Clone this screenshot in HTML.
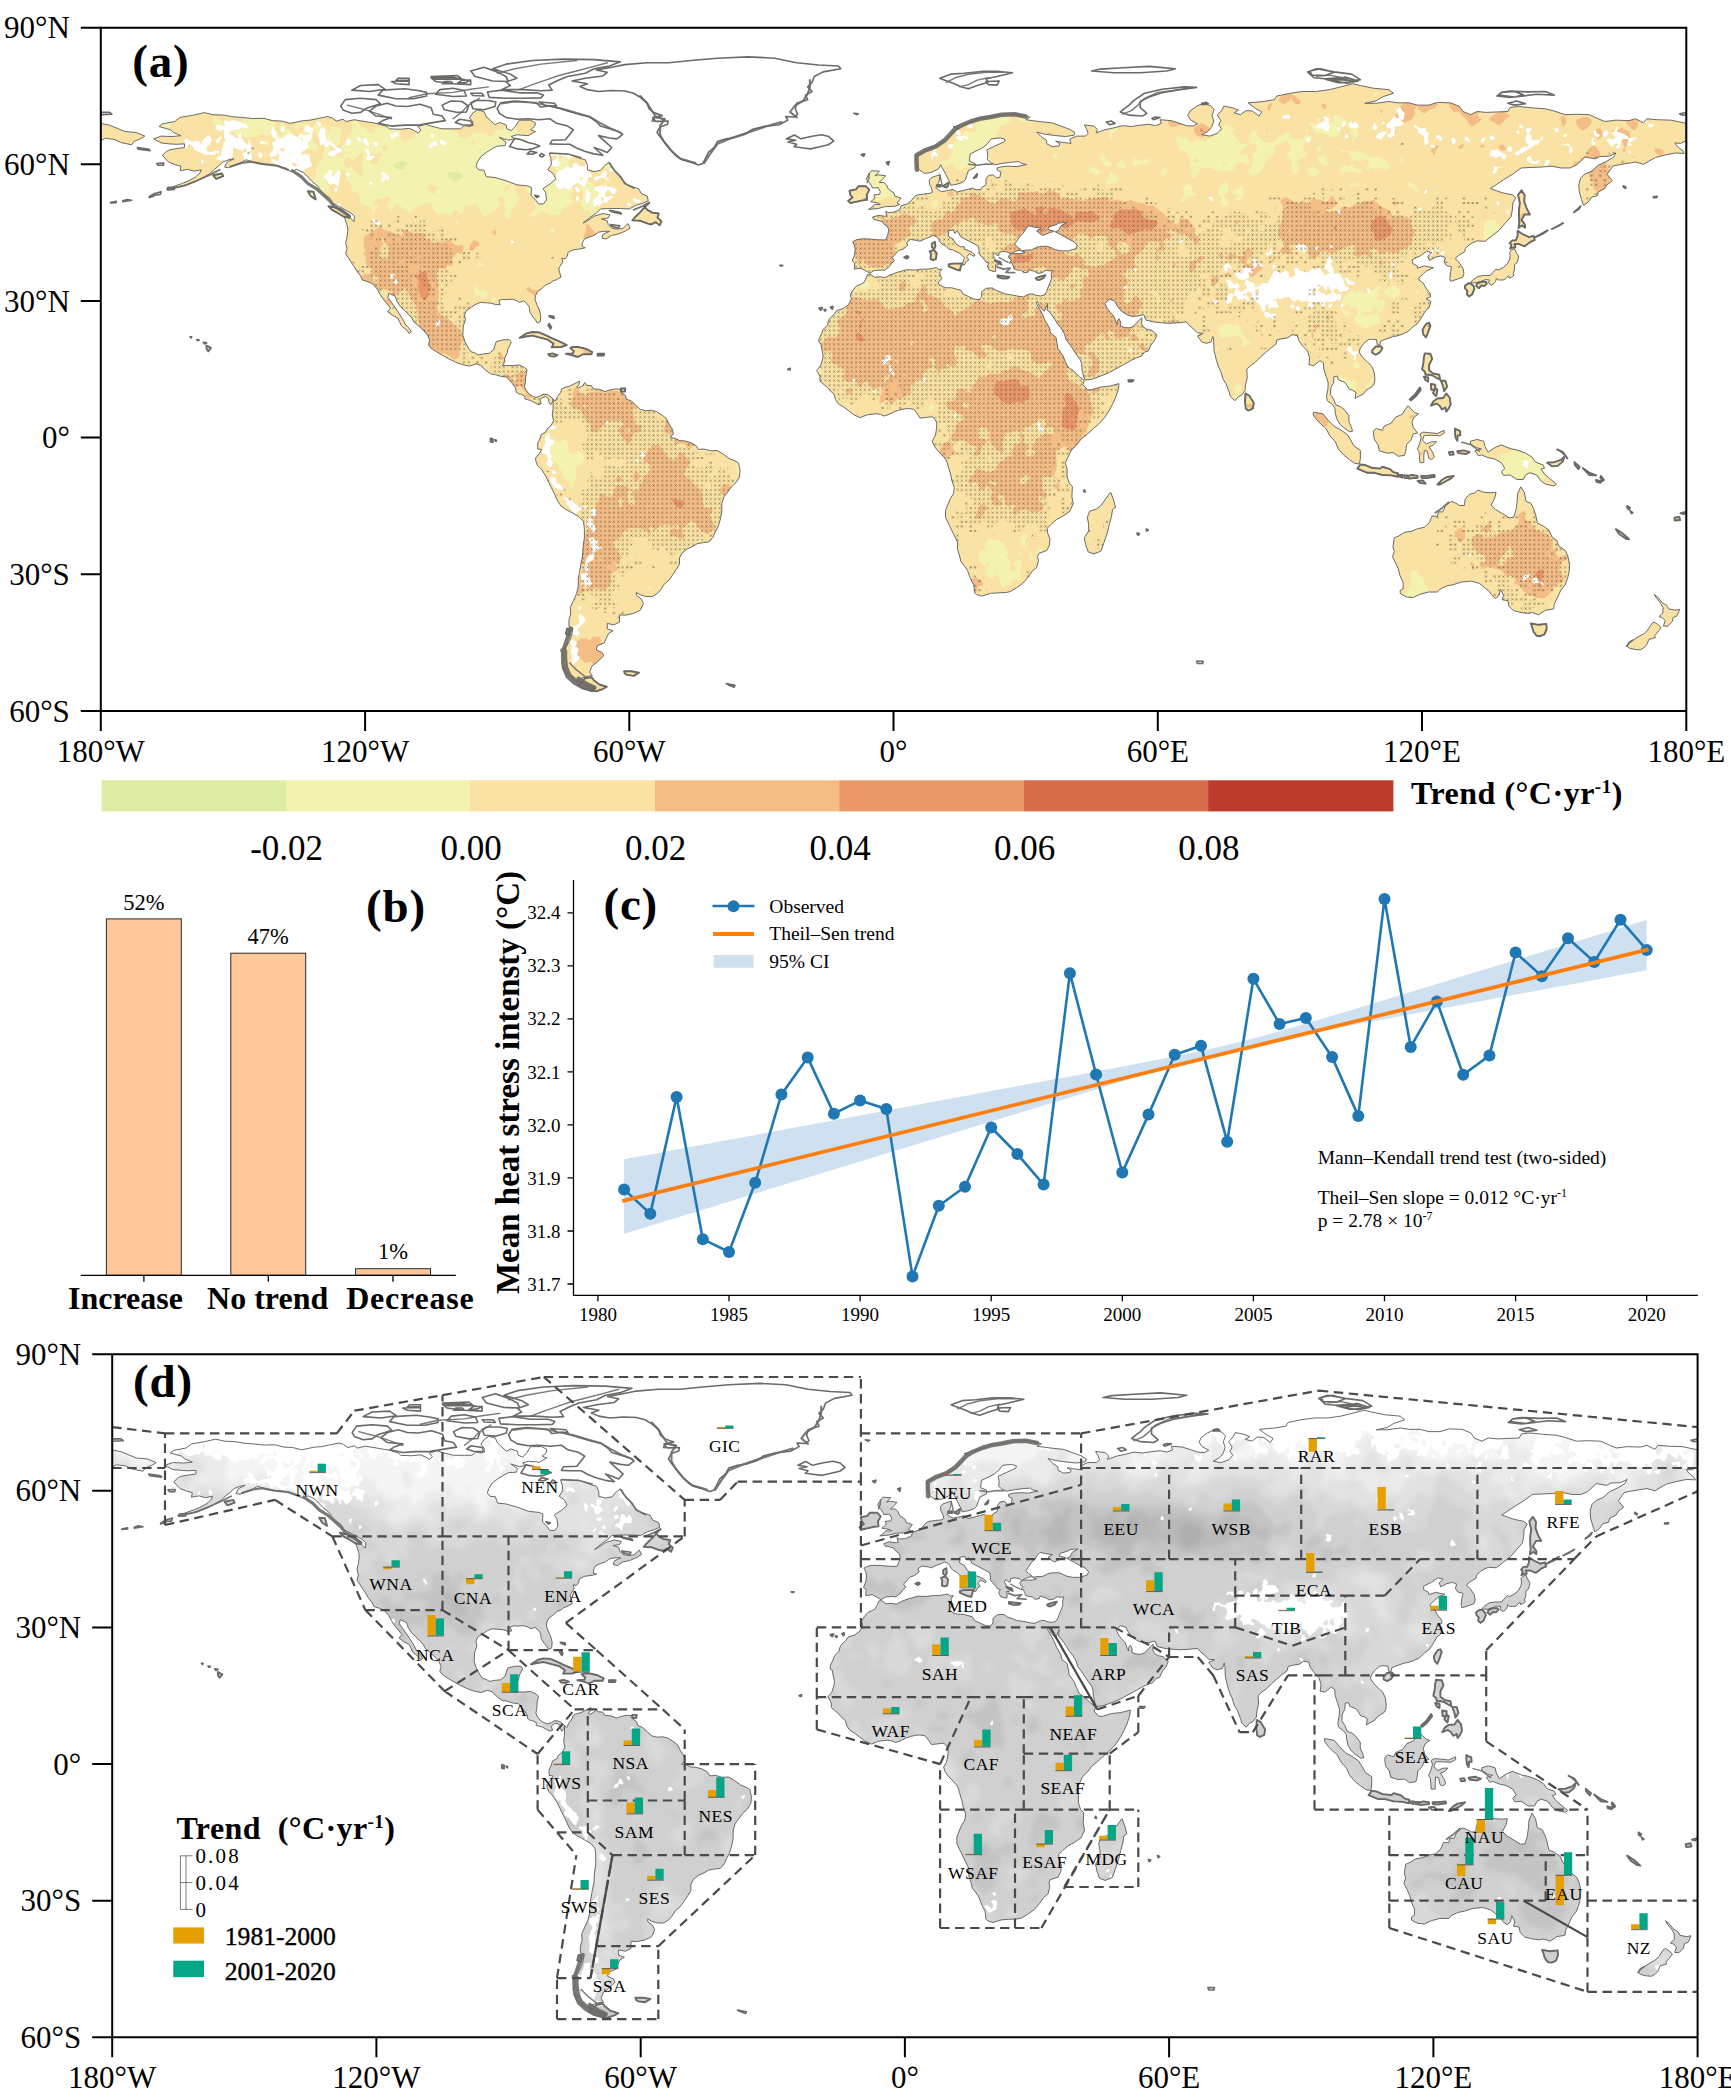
<!DOCTYPE html>
<html><head><meta charset="utf-8"><title>Heat stress trend</title>
<style>
html,body{margin:0;padding:0;background:#fff}
svg{display:block}
text{font-family:"Liberation Serif","Times New Roman",serif;fill:#000}
.tk{font-size:31px}
.pl{font-size:47px;font-weight:bold;letter-spacing:.8px}
.cbl{font-size:35px}
.cbt{font-size:32px;font-weight:bold}
.bv{font-size:22.5px}
.bc{font-size:32px;font-weight:bold}
.ct{font-size:19px}
.an{font-size:19.5px}
.yl{font-size:33px;font-weight:bold}
.rl{font-size:17.5px;letter-spacing:.5px}
.lt{font-size:32px;font-weight:bold;letter-spacing:.4px}
.ls{font-size:21px;letter-spacing:2.2px}
.ll{font-size:25.6px;stroke:#000;stroke-width:.4px}
</style></head><body>
<svg width="1731" height="2100" viewBox="0 0 1731 2100">
<rect width="1731" height="2100" fill="#fff"/>
<defs>
<path id="land" vector-effect="non-scaling-stroke" d="M12 24.4 13.7 23.8 16.2 23.9 18.2 23.7 16.5 23 15.8 22.4 13.2 21.7 14 21.1 16.8 20.6 18 19.7 21 19.2 23.5 18.65 25.5 19.1 28 19.2 30 19.55 32 19.7 34.5 19.95 37 19.9 39 20.4 41 20.5 43 21 44.5 20.7 46 20.4 47.5 20.3 49.5 19.9 51.5 19.5 52.5 19.8 53.5 20.5 55 20.1 55.7 20.6 57.5 20.2 60 20.6 63 21.1 65 21.7 65.5 22.2 68 22.3 70 22.1 71.2 22.6 72 23.1 72.7 22.5 72 21.7 73.8 21.2 75 21.6 77.5 22.2 80 22.2 81.7 22.2 82.5 21.5 84 21.7 84.5 20.7 83.7 19.8 84.5 18.7 85.5 18.05 87 18.4 87.5 19.5 88.5 20.4 89.5 21.3 90.5 20.8 92 21.3 92.2 22.2 93.2 22.6 94.2 21.6 95 20.3 97.5 20.3 98.7 20.9 98.5 21.7 97.6 22.4 98.7 22.8 97 23.7 94.5 23.5 93.2 23.9 94 24.4 92.5 24.7 90.5 24.1 92 25.1 91.8 25.9 90 26 89 26.5 87.5 27.4 86.3 28.3 85.5 29.5 85.2 30.5 85.8 31.2 87 31.3 87.5 32.7 89.5 32.9 92 33.6 94.5 34.5 97 34.75 97.8 35.1 97.7 36.8 98.7 37.8 99.4 38.7 100.5 38.7 101.2 37.8 101 36.2 100.4 35.3 102 34.3 103.3 33.2 102.7 32 101.5 31.2 102.3 30 102.2 28.7 101.8 27.6 104 27.7 106.3 27.8 108.5 28.6 110 29 110.5 30.2 110.5 31.2 112 31.6 113.5 31.3 114.5 30.2 115.4 29.6 116 30.7 117.2 32 118.3 33.3 119.5 34.5 121 35 122.2 35.4 122.7 36.4 124.1 37 124.3 38 123.2 38.5 121.5 39 120 39.8 118 39.7 115.5 39.7 113.5 39.8 112.5 40.7 111 41.7 109.5 42.9 110.5 42.4 112 41.4 114 40.8 115.6 41.1 115.2 41.8 113.7 42 115 42.4 115.2 43.2 116 44 117 44.2 118.5 44.1 119.7 43 120.2 44 119 44.7 117.5 45.3 116 45.6 114.7 46.4 113.8 46.2 114 45.4 115.5 44.7 114.2 44.7 113 44.9 112 45.6 110.8 46 109.8 46.4 109.3 47.3 109.3 48.1 110 48.3 109.3 48.5 108.5 48.6 107.2 48.8 106.1 49.3 105.9 50.2 105.4 50.8 104.7 50.6 104.9 51.5 104.2 52.5 104 53 104.2 53.8 104.5 54.75 103.5 55.3 102.5 55.7 102 56.1 101 56.5 100.2 57.2 99.2 57.9 98.7 58.8 98.6 59.7 99.1 61 99.5 61.8 99.9 63.2 99.8 64.5 99.1 64.85 98.7 64.2 98.1 63.5 97.4 62.4 97.3 61.4 96.8 60.6 96 59.95 95.1 60.3 94.4 59.9 93.4 59.6 92.2 59.7 91.2 59.65 90.4 59.9 90.7 60.8 89.7 60.8 88.7 60.5 87.5 60.4 86.2 60.3 85.2 60.7 84.1 61.4 83 62.1 82.6 63 82.8 64.1 82.3 65.5 82.2 67.5 82.7 69 83.5 70.4 84 71.1 85 71.45 85.7 71.85 87 71.6 88.2 71.5 89.2 70.7 89.6 69.5 89.8 68.9 91.5 68.5 92.8 68.5 93.2 69.1 92.5 70.4 92.2 71.6 91.7 72.5 91.7 73.5 91.2 74.15 92.2 74.15 93.5 74.2 95 74.05 96.2 74.6 96.8 75.1 96.5 76.5 96.4 77.8 96.2 78.8 96.5 79.5 97.2 80.4 98 80.9 98.8 81.2 99.7 80.9 100.5 80.45 101.5 80.6 102.2 81.1 102.7 81.5 102.6 82.2 102.1 82.8 101.7 82.1 101.7 81.5 101 81 100.3 81.2 99.7 81.7 100 82.6 99.2 82.75 98.5 82.3 97.5 81.8 97 81.7 96.3 81.5 96.3 80.9 95.3 80.4 94.9 80.4 94.3 80 94.2 79.1 93.5 78.2 92.7 77.3 92.2 76.7 91 76.6 89.7 76.2 88.5 76 87.5 75.3 86.2 74.1 85.2 73.8 83.8 74.3 82.2 74 80.5 73.4 79 72.7 77.7 72 76.3 71.2 75 70.4 74.4 69.6 74.7 68.6 74.2 67.5 73.4 66.6 72.2 65.5 71.1 64.6 70.6 63.7 69.7 62.8 69 62.1 68 61.2 67.2 60 66.8 58.9 65.4 58.3 65.2 59.2 66 60.3 66.9 61.5 67.7 62.7 68.5 63.9 69.2 65.2 70 66 70.5 66.8 70 67.1 69.5 66.4 68.3 65.5 67.8 64.5 67.4 63.7 66.3 63.2 65.1 62.3 65.8 61.6 65 60.6 64.2 59.7 63.4 58.5 62.8 57.4 61.7 56.2 60.7 55.8 59.4 55.4 59 54.5 58.1 53.4 57.5 52.4 57 51.7 56.2 50.5 55.6 49.6 55.9 48.5 55.6 47.2 55.9 46 56.1 44.5 56 43.6 55.3 41.6 56.7 41.8 57.5 42.6 57.6 41.4 56.8 40.7 55.5 40 54 39.2 52.5 38.5 52.1 37.5 51 36.7 49.8 35.6 49.2 34.7 48 33.8 47 32.8 46 31.8 44.5 31.1 43.2 31.6 41.7 30.8 40.2 30.3 38.5 30 36.2 29.9 34.5 29.5 33 29 31.7 29.7 30.3 30.2 29 30.75 28.1 30.6 28.7 29.5 30.2 28.8 29 29 27.7 29.5 26.7 30.4 25.8 31.1 24.7 32.1 23.4 32.8 21.7 33.7 19.8 34.4 18 34.9 16.5 35.2 15.2 35.5 16.7 34.8 18.5 34.2 20 33.6 21.5 32.8 22.5 31.9 22.8 31.2 21.2 31.5 19.7 31.1 18 31.4 18.2 30.4 17 30.1 15.4 29.5 14.6 28.7 14 28 15 27.1 15.7 26.8 17.5 26.5 19 26.3 19 25.5 17.2 25.6 15.5 25.5 13.7 25.3 12.5 24.7ZM124.5 38.4 123.5 39.4 122.5 40.5 121.4 41.5 120.7 42.3 122.5 42.4 124.2 43 125 43.2 126 42.7 126.9 43.4 127.3 42.5 126.4 41.7 126.7 40.8 125.2 40.6 124.1 40 123.3 39.1ZM51.7 39.2 53.5 39.5 54.8 40 56.4 41.3 56.5 41.7 55.2 41.5 54 40.8 52.5 40ZM47 35.9 48.3 36 48.8 37.7 47.7 37ZM25.5 32.4 27.5 32 27.8 32.6 26.2 33.2ZM95.1 68.1 96.7 67.1 98 66.8 99.5 66.9 101 67.5 102.5 68.2 104 68.8 105.8 69.7 104.5 70.1 102.4 70.15 102.8 69.4 101.5 68.5 99.5 68 98 67.6 96.5 67.8ZM105.6 71.6 106.7 71.8 108.3 72.3 109.5 71.7 111.4 71.7 111.6 71.2 110.2 70.5 108.4 70.1 107.2 70.1 106.6 70.3 107.4 71 107.2 71.5ZM101.6 71.7 102.5 71.5 103.7 71.9 103 72.2 102 72.1ZM112.8 71.6 114.3 71.6 114.2 72 112.8 72ZM101.8 63.3 102.8 63.4 102.9 63.8 102 63.5ZM101.8 65 102.3 65.7 102.1 66.1 101.6 65.4ZM102.7 81.5 103.2 82 103.7 81 104.4 80.1 104.7 79.3 105.4 78.95 106.5 78.7 107.7 78.1 108.7 77.6 108.6 78.3 108.1 78.9 108.5 79.1 109.4 78.6 109.9 77.9 110.3 78.5 111.4 78.6 111.8 79.3 113.2 79.4 114.5 79.9 115.7 79.5 117 79.3 118 79.4 118.2 80.1 119.1 80.7 119.3 81.5 120.5 82 121.5 82.9 122.5 83.8 123.7 84.1 125 84 126.2 84.3 127.5 85.1 128.4 85.8 129 87 129.8 88.2 130 89.2 129.3 90 130.5 90.2 131.5 90.7 132.5 90.7 134 91.1 135.2 91.8 135.7 92.6 137 92.5 138.5 92.9 140 92.85 141.3 93.6 142.7 94.6 144 95.1 144.8 95.6 145.15 97.2 145 98.7 144.2 99.9 143.2 100.8 142.3 102 141.5 103 141 104.5 141 106.3 140.7 107.8 140.2 109.5 139.5 110.7 139 111.9 138.1 112.9 136.8 113.05 135.4 113.3 134.4 113.9 133.2 114.4 132 115.3 131.4 116.4 131.4 117.8 130.7 118.9 129.8 120.2 129 121.3 127.9 122.2 127.2 123.3 126.4 124.2 125.2 124.9 123.8 124.9 122.5 124.5 121.6 124 121.6 124.6 122.7 125.4 123.2 126.4 122.5 127.9 121 128.6 119 129 117.8 128.9 117.8 130.5 116.5 131.1 115 130.8 115 132 116.3 132.4 115.3 133 114.7 134.2 114.3 135.1 112.7 135.7 112.5 136.6 113.8 137.2 114.2 137.9 112.8 139.2 111.5 140.2 111 141.5 111.6 142.3 110.5 142.4 109.2 142.8 108.5 143.6 107.5 143.3 106.5 142.5 105.5 142 105 140.7 104.6 139.3 105.3 138.2 104.5 137 104.4 136.5 105.8 135.7 106.5 134.5 107 133 107.2 131.7 106.3 131.5 106.3 130 106.7 128.7 106.6 127.3 107.3 125.8 108 124.3 108.4 122.8 108.4 121 108.7 119.6 109 117.8 109.4 116 109.5 114 109.8 112 109.8 110 109.6 108.4 108.6 107.4 107.2 106.6 105.5 105.7 104.5 105 103.7 103.9 103 102.3 102.3 101 101.7 99.8 101 98.4 100.1 97 99.1 96 98.8 95.2 98.7 94.5 99.6 93.5 100.1 92.6 99.2 92.5 99.2 91.2 99.7 90.3 100 89.3 101 88.8 101.3 88.1 102.2 87.4 102.8 86.3 102.5 85 102.7 83.7ZM111.4 142.6 110 142.8 109.2 143.7 108.2 144.3 109.5 145 111 145.4 112.5 145.7 114 145.2 114.9 144.7 113.2 144.2 112 143.3ZM118.8 141.3 120.5 141.3 122.2 141.6 121 142.3 119.5 142.1 119 141.8ZM105.9 131.9 106.5 132 106.4 133.4 105.6 133.1ZM118.1 79.2 119.1 79.2 119 79.9 118.1 79.9ZM174.6 53.9 173.7 53.4 172.6 52.8 171.1 53 171.2 51.7 170.6 51.2 171.1 50 171.3 48.7 171.1 47.7 170.7 47 171.7 46.5 173 46.35 174.5 46.4 176.2 46.55 178.2 46.6 178.7 45.5 178.9 44.4 178.7 43.8 177.8 43.1 177.5 42.6 176.5 42.3 175.5 42.1 175.2 41.6 176.5 41.2 178 41.4 178.5 41.3 178.2 40.3 178.8 40.6 180.1 40.5 181.5 39.9 181.7 39.1 183.2 38.65 184 38 184.8 37 185.5 36.7 187 36.5 188.2 36.4 188.8 36.1 188.6 35.1 188.2 34.5 188.1 33.5 188.6 32.9 189.8 32.5 190.6 32.25 190.4 33.4 190.3 33.9 189.8 34.6 189.6 35.15 190.2 35.6 190.9 36 192 35.8 193.5 35.5 194.3 36.1 196 35.7 198 35.2 198.7 35.6 199.8 35.55 200 35.1 201 34.5 201 33.2 201.6 32.45 202.6 32.3 203.3 32.95 204.1 32.9 204.4 31.7 203.6 31.3 203.5 30.8 204.7 30.5 206 30.4 208 30.5 210.2 30.05 209 29.8 208.5 29.4 207 29.5 205 29.75 203 30.1 202 29.6 201.3 29 201.4 28 201.2 26.8 203 26 205.2 25 205.3 24.5 204.2 24.2 202.2 24.4 201.3 25.5 200.3 26.3 198.5 27.2 197.4 27.7 197.2 29.3 198.6 29.9 198.5 30.7 197 31.4 196.6 32.5 196.3 33.4 195.8 33.9 194.3 34.4 193 34.6 192.7 33.8 191.9 32.3 191.2 31 190.7 30.1 190.2 31 188.5 31.8 187 32 185.6 31 185.1 29.6 185 28.5 185.2 27.8 186.5 27.3 188.5 26.5 190 25.8 191.5 25 192.5 24 193.5 23 194.8 22.2 193.5 21.8 195.5 21.3 197.5 20.7 199 20.1 201 19.8 203.5 19.3 205.8 18.9 208 19 209.5 19.3 211 19.65 210 20.2 211.5 20.4 213.5 20.65 216 20.9 218 21.6 220 22.3 221.2 23 221 23.6 219 23.9 216 23.6 214 23.3 212.5 22.9 213.5 23.9 214.7 24.7 214.8 25.5 216 26.1 217.5 26 217.8 25.5 216.8 24.9 218.5 25.2 220.3 25.4 220 24.5 221.5 23.8 223.5 23.8 224.2 23.2 223.8 22.2 223.3 21.35 225.5 21.6 226.3 22.4 226 23.1 228 22.4 230 22 232 21.5 234 21.7 236 21.4 238 21.2 239.5 21.5 240.8 21 240.5 20.2 243 20.4 245 21 246.5 21.5 248 21.6 249 21.1 247.5 20.3 246.8 19.3 247.3 18.3 248.7 17.3 250 16.7 252 17.1 252.8 18 252.3 19.2 252.7 20.5 252.3 21.7 251.5 22.7 250 23.5 251.8 23.8 253.5 23.2 254.5 22.2 253.8 21.4 254.3 20.4 253.5 19.2 254.5 18.2 255 17.2 257 17.6 258.3 18.1 257.3 18.7 258.8 19.1 260 18.2 261.5 18.3 263 19.4 263.6 18.5 262 17.6 260.5 16.5 264 16.2 266.5 15.8 267 15 270 14.4 273 14 276 14 279 13.6 281.5 13 284.3 12.3 286 12.7 289 13.3 292.5 13.6 293.5 14.4 291 15.2 289.5 16.1 287 16.6 289.5 16.6 292.5 16.2 294.5 16.5 297 16.5 299 17 301.5 17 303.5 16.4 306.5 16.5 308.5 17.3 309.3 18.4 311 19.1 312.5 18.4 314.5 18.6 317 18.5 319.5 18.4 320 17.5 322 17.3 325 17.6 328 17.8 330 18.3 332.5 19.1 335 19 338 19.1 340 20 341.5 20.6 344 20.3 347 20.4 348.5 20 350.3 20.9 351 20 353.5 20.2 356.5 20.3 358.5 20.7 360 21 360 24.8 358.7 25.4 357.4 25.3 358 26.1 359.2 27 359.5 27.6 357.5 27.5 355 28 353 28.5 351.5 29.3 350.3 30 348.5 29.5 346.5 29.8 344.7 30.1 343.3 30.4 342.5 31.5 342 32.2 343.2 33.6 342 34.5 341.5 35.3 340 36.1 339.8 36.9 338.5 37.2 337.7 38.3 336.7 39.05 336.2 37.7 335.7 36 335.6 34.5 336 33 337 32.1 338.5 31.5 340 30.2 342 29.3 343.5 28.4 344 27.5 342.5 28.2 340.3 28.3 339.3 28.8 337 28.4 335 30.2 333.5 30.8 331.5 30.8 329.5 30.4 327 30.6 324.5 30.7 322.5 30.8 320.5 32.2 318.5 33.4 316.5 34.7 315.5 35.3 317.5 36 318.5 36.3 320.5 36.7 321.3 37.3 320.6 38.5 320.5 40 320.2 41.5 318.8 43 317.5 44.5 316 45.6 314.3 46.9 312.5 46.8 311.5 47.2 310.7 47.7 309.8 48.5 309.7 49.2 308.3 50 307.5 50.7 308.3 51.4 309.3 52.8 309.5 54 309.2 54.8 308 55.2 306.5 55.7 306.3 55 306.5 53.5 306.7 52.5 305.5 52.2 305 51.4 305.3 50.5 304.3 50.1 303 50.4 301.7 51.1 301.3 50.2 302.2 49.4 301 49.1 299.6 50.1 297.8 50.9 297.8 51.7 298.9 52.3 299 52.8 300.5 52.3 301.5 52.5 302.6 52.7 301 53.4 300.3 54 299.3 54.9 299.3 55.4 300.3 56.1 300.9 57.2 301.9 58.4 301.9 59.1 300.9 59.5 302 60.1 301.6 61.5 300.8 62.1 299.8 63.8 298.9 65 298 65.6 296.8 66.7 295.5 67.3 294.2 67.7 293.5 67.8 292 68.3 290.6 68.8 290.4 69.7 289.8 69.6 289.7 68.5 288.5 68.4 287.8 68.5 286.8 69.3 286 70.3 285.7 71.2 286.5 72.4 287.7 73.5 288.5 74.2 289.1 75.5 289.3 77 289.2 78 288.8 78.7 287.3 79.6 286.7 80.4 285.5 81 284.8 81.4 285 80.1 284.3 79.6 283.5 79.4 283 78.6 282.5 77.9 281 77.3 280.7 76.5 280 76.6 279.9 78 279.3 79 279.2 80.5 279.9 81.5 280.4 82.8 281.5 83.2 282.3 83.8 283.4 85.2 283.4 86.5 284 87.8 284.2 88.6 283.5 88.7 282.2 87.8 281.3 87 280.6 85.8 280.3 84.5 280.2 83.5 279.6 82.7 278.5 81.9 278.3 81 278.6 79.5 278.7 78 278.2 76.5 277.7 75 277.6 73.6 276.8 73.1 275.4 74.2 274.3 74 274.5 72.5 274 71 273 70 272 68.7 271.7 67.6 270.5 67.4 269.5 68.1 268 68.3 267 68.6 266.8 69.5 265.8 70.2 264.5 71.3 263.3 72.3 262.2 73.4 261 74.2 260.2 75 260.3 76.8 259.9 78.5 259.8 79.7 259 80.7 258.2 81.1 257.5 81.9 256.5 81 256.2 80 255.5 78.2 254.8 77.1 254.3 75.5 253.8 74.5 253.3 73 252.8 71 252.7 69.5 252.7 68.6 252.5 67.8 252.1 69 251 69.3 250 69 249 67.7 250.3 67.1 249 67 248.3 66.3 247 65.2 246.5 64.6 244.5 64.8 242.3 64.9 241 64.8 239 64.6 237.3 64.2 236.8 63 235.5 63.3 234.2 63.4 233 63 231.7 62.2 230.8 61.1 230.2 60 229 59.6 228.5 60 228 60.6 228.5 61.6 229.2 62.5 230 63.3 230.2 63.8 230.5 64.6 230.8 65.2 230.8 64.4 231.2 63.9 231.6 64.7 231.5 65.5 232.5 65.85 233.5 65.9 234.4 65.6 235.3 64.7 236 64 236.4 63.7 236.3 65 236.7 65.7 237.5 66.2 238.6 66.4 239.8 67.5 239.3 68.6 238.5 69.6 237.8 71 237 71.2 236.3 72.1 235.2 72.5 234 73 232.2 74 230.3 75 229 75.7 227.5 76.3 225 77.2 223.5 77.35 223.2 76.7 222.8 75.2 222.7 73.7 222.4 72.9 221.2 71.3 220.2 69.8 219.2 68.5 218.8 67.2 218 65.9 217.2 65 216.6 64 215.5 62.5 214.9 62 215 60.5 214.4 61.9 214.2 62.25 213.3 61.4 212.6 60.05 212.4 60.5 213.3 62 213.8 62.9 214.4 64.3 215.4 65.9 215.6 67 216.9 68 217.1 69.2 217.3 70.4 218.4 71.9 219 73.3 219.6 74.5 220.9 75.4 222.2 76.6 223.3 77.5 223 78.4 224 79.5 225 79.5 227 78.9 229 78.7 231.2 78.15 231 79.5 230.5 81 229.8 82.5 229 84 228 85.5 226.5 87.1 225.4 88 223.8 89.4 222.5 90.4 221.5 91.7 220.4 92.7 219.7 94.1 219 95.5 219.4 96.9 219.4 98.5 219.9 100 220.6 100.7 220.5 103 220.8 104.5 220 106.2 218.5 107.2 217 108 215.8 109 214.9 109.9 215 111 215.5 112.2 215.4 113.6 214.8 114.8 213 115.4 212.7 116.1 212.9 117 212.5 118.5 211.5 119.3 210.6 120.6 209.3 122 207.9 123 206.5 123.8 205.6 124 203.5 124.1 202 124.2 200 124.8 198.8 124.4 198.4 124.1 198.3 123 198.2 122.3 197.5 121 196.8 119.2 196.4 118.6 195.3 117.2 195 116 194.5 114.5 194.5 112.9 193.7 111.3 192.7 109.3 191.8 107.5 191.8 106 192.2 105 192.9 103.4 193.6 102.3 193.8 101 193.2 99.3 193 98.2 192.4 96.3 192.2 95.5 191.8 94.7 191 93.8 189.8 92.6 189.1 91.6 188.8 90.7 189.4 89.7 189.6 89 189.8 87.7 189.8 86.8 189.5 86.1 188.9 85.45 188.3 85.45 187.2 85.6 186 85.7 185.4 84.8 184.6 83.8 183.4 83.6 182.4 83.7 181.2 83.95 180 84.4 178.7 85 177.9 85.25 177 84.9 176 84.75 174 85 172.4 85.6 171 85 169.8 84.1 168.7 83.3 167.5 82.6 166.8 81.6 166.5 80.5 165.5 79.6 165 79 164 78.2 163.3 77.6 163.3 76.6 162.7 75.5 162.5 75.25 163.2 74.5 163.5 74 163.9 72.7 164 71.9 163.7 70.5 163.5 69.4 163 69.05 163.1 68.3 163.7 67.1 164 66.3 165 65.3 165.2 64.5 165.5 63.9 166.6 62.8 167.1 62.1 168.5 61.7 169.8 60.8 170.4 59.6 170.2 58.6 170.8 57.6 171.6 56.7 172.6 56.3 173.3 55.9 173.8 54.9 174.1 54.2 174.7 54.1 175.7 54.8 177 54.7 178 54.9 179.2 54.3 180.5 53.8 182 53.4 183 53.15 185 53.2 186.5 53 187.8 53 189 52.8 189.8 52.7 190.3 53.1 191 53 190.5 53.6 190.6 54.4 191 55.1 190.2 55.8 190.1 56.2 191 56.8 192 57.1 193.2 57.1 194.3 57.4 195.3 57.65 195.8 58.5 197 59 198.3 59.6 199.5 59.7 200 59 200 58 201 57.2 202.5 57.15 203.3 57.7 204.5 58.1 205.3 58.45 207 58.7 208.5 59 209.5 59.1 210.3 58.7 211 58.45 211.8 58.5 212.3 58.75 213.3 58.9 214.2 58.7 214.8 57.9 215 57.2 215.5 56.1 215.9 55 215.8 54.2 216.1 53.3 215.5 53.4 214.6 53.25 213.7 53.8 212.8 53.95 212 53.5 210.7 53.1 210.5 53.7 209.5 53.8 209 53.3 208.2 53.2 207.4 53 207.2 52.3 206.8 51.6 206.3 51.7 206.8 51 206.1 50.5 206.2 50 207 49.6 208 49.6 209 49.6 209.9 49.3 209 49 210 48.85 211.3 48.8 212.5 48.2 213.5 48 215 48 216 48.4 216.6 48.7 218 49 219.7 49 221.4 48.5 221.7 47.8 221 47 219.7 46.4 218.5 45.7 217.5 45.2 216.7 44.8 217.5 44.5 218 43.5 219.3 42.8 218.5 42.8 217.5 42.9 216.8 43.3 215.3 43.7 215 44.3 216.5 44.7 215.4 45 214 45.6 213.5 45.4 212.5 44.6 213.5 44 212 43.8 210.7 43.5 210 44.2 209.7 44.8 208.7 45.8 208 46.8 207.5 47.5 208 48.1 209 48.8 208 49 207.3 49.3 206.5 49.7 206 49.3 205 49.1 204 49.3 203.9 50 203.5 50 202.9 49.4 202.6 50 203 50.7 203.3 51.3 204 51.8 203.7 52.1 203.1 52.1 203.2 52.7 203.2 53.5 202.6 53.5 201.7 53.2 201.3 52.3 201.7 51.7 201 51.5 200.7 51 200.2 50.5 199.4 49.6 199.4 48.7 199.3 48 198 47.3 196.4 46.5 195.2 45.9 194.8 45 194.3 44.7 193.9 45.2 193.6 44.4 192.4 44.6 192.5 45.1 192.4 45.8 193.5 46.4 194.2 47.5 195.2 48.1 196.1 48.1 196 48.6 196.9 48.9 198 49.4 198.5 49.9 198.3 50.2 197.2 49.6 196.6 50.3 197.1 51 196.5 51.3 196.1 52.1 195.6 52 195.8 51.4 196.1 50.5 195.6 50 194.8 49.4 194.2 49.2 193.5 48.8 192.6 48.6 192.2 48.3 191.8 47.9 191 47.5 190.5 47 190.3 46.5 189.8 45.9 188.9 45.6 188.2 46 187.3 46.3 186 46.9 185.3 46.7 184.5 46.6 183.9 46.5 183.1 47 183 47.5 183.3 47.7 182.2 48.6 181.2 48.9 180.8 49.3 179.7 50.5 180.2 51.2 179.5 51.7 179.1 52.4 177.9 53.3 177.5 53.2 175.6 53.3ZM0 21 2 21.4 4 22.2 5.5 22.8 8 23 10 23.8 9 24.4 7.5 25 7 25.7 4.5 25.2 3 24.5 1 24.3 0 24.8ZM174.3 39.9 176.5 39.7 178 39.3 180.3 39.2 181.4 38.8 180.8 38.5 181.7 37.4 180.3 37 180.1 36.3 178.8 35.4 178.4 34.5 177.8 34 176.7 34 177.7 33.1 178.2 32.5 176.5 32.3 175.8 32.5 176.8 31.5 175 31.4 174.2 32.4 173.8 33.3 174.5 34 175 34.7 175.2 35.2 176.5 35.1 177 36 176.8 36.6 175.5 36.7 175.8 37.4 174.8 38.2 176.5 38.5 177 38.8 175.7 38.8 174.8 39.6ZM174 37.8 173.9 36.7 174.5 35.6 173.7 34.8 172 34.8 171.5 35.5 170 35.8 170.2 36.7 170.7 37.3 169.7 38 170.2 38.5 171.7 38.2 173 37.9ZM192.5 52 193.3 51.8 195.6 51.75 195.2 52.7 195.1 53.3 194.3 53.1 192.5 52.4ZM188.2 49.1 189.2 48.8 189.8 49.5 189.6 50.8 189 51 188.4 50.8 188.5 49.7ZM188.7 47.4 189.4 47 189.5 48 189.2 48.6 188.7 48.2ZM203.6 54.4 204.5 54.5 206.3 54.7 206 55 204.7 55.05 203.6 54.75ZM212.3 55 213 54.7 214.5 54.35 214 55 213 55.4 212.5 55.3ZM182.4 50.4 183.1 50.1 183.4 50.4 183 50.7ZM259.9 80.3 260.8 80.8 261.8 82.4 261.6 83.6 260.6 84.05 260 83.7 259.8 82.2ZM288.7 70.8 289.5 70 290.7 69.95 291 70.4 290.4 71.3 289.5 71.8 288.7 71.4ZM301 65 301.6 64.8 301.9 65.4 301.4 66.8 300.9 68 300.3 67.4 300.1 66.4 300.6 65.5ZM310.9 56 311.5 55.4 312.7 54.6 314 54.4 315.5 54.4 316 53.8 316.8 53 317.3 53.2 318.5 52.6 319.4 51.8 319.9 50.8 320 50 319.9 49.3 320.3 48.8 321 48.5 321.4 49.4 321.9 50.1 321.8 51 321.5 51.7 321 52 321 53 320.7 54 320.9 54.3 320.3 54.8 319.8 55 319.7 54.5 319.2 54.8 318.8 55.3 318.2 55.4 317.3 55.4 316.9 55 316.7 55.7 316.3 56.2 315.8 56.5 315.1 56.1 315.3 55.4 314.5 55.3 313.3 55.7 312.2 56 311.5 56ZM312.5 56.2 313.5 55.8 314.6 55.8 314.7 56.2 314.2 56.7 313.5 56.6 312.9 57.2 312.3 56.7ZM309.7 56.7 310.5 56.1 311.1 56.2 311.7 56.7 311.9 57.3 311.4 58.5 310.7 59 310.2 58.6 310.3 57.8 309.8 57.3ZM320 48.5 320.3 47.7 319.9 47.3 320.5 46.7 321.3 46.7 321.7 45.7 321.7 44.6 322.8 45.3 324.3 46 325.3 45.7 325.6 46.6 324.5 47.1 323.3 48 322 47.5 321 47.5 321.2 48.2 320.5 48.3ZM321.9 44 322.1 42.7 322 41.5 322 40 322.2 38.5 321.8 36.7 322.6 35.7 323.3 36.8 323.2 38.2 323.8 39.8 324.5 41 323.3 41 322.6 42.2 323.4 43.3 323.4 43.9 322.7 43.4ZM325.5 46.1 326.8 45.4 328.5 44.5 327.5 45.2ZM329.5 44.2 330.5 43.7 332 42.9 331 43.5ZM334.5 40.5 335.5 39.7 336 39.2 335.6 39.8ZM198.2 33 199 32.1 198.8 32.8ZM191.2 34.8 192.5 34 192.4 34.7 192 35.1ZM189.8 34.6 190.7 34.5 190.7 34.9 190 34.9ZM203 51.1 204.2 51.4 204.5 52 203.7 51.6ZM233.3 77.4 234.5 77.4 234.2 77.7 233.4 77.7ZM275.3 84.4 277.5 84.8 278.7 86.2 280 87.5 281.5 88.3 283 89.3 283.8 90.5 284.5 91.8 286 92.8 286 94.5 285.8 95.8 284.6 95.6 283.5 94.8 282.3 93.9 281 92.5 280.3 90.9 279 89.5 278.2 88 277 87 276 86 275.3 85ZM285.3 96.8 286 95.9 287 96 288.5 96.6 290.5 96.8 291 96.4 292.7 96.9 293.5 97.6 294.5 97.8 294.4 98.6 293 98.3 291 98.2 289 97.7 287.5 97.7 286.5 97.3ZM294.5 98.2 295.6 98.2 295.5 98.8 294.7 98.5ZM296 98.3 296.7 98.3 296.6 98.9 296 98.8ZM296.8 98.4 297.8 98.2 299 98.4 299 98.8 297 99ZM299.8 98.4 301 98.4 302.8 98.2 302.9 98.6 301 98.9 299.9 98.8ZM299 99.5 300.2 99.4 300.8 100.1 299.6 100ZM303.5 100.3 304.5 99.3 305.5 98.7 307.2 98.4 306.5 99 305 99.8 304 100.3ZM289 88.5 289.6 88 291 88.4 291.4 87.5 293 86.8 294 85.5 295.5 84.9 296.2 83.8 296.8 83 297.5 83.7 298.3 84.5 299.2 84.8 298.2 85.5 297.7 86.5 298 87.8 299 89 298 89.2 297.5 90.5 296.5 91.5 296.3 93 296 93.9 294.6 94.1 293.5 93.3 292 93.4 290.3 92.9 290 91.5 289.2 90.5 289 89.5ZM299.5 89.2 300.2 88.8 301.5 88.9 303.5 89.1 305 88.4 305.1 89 304 89.6 302 89.5 300.5 89.5 300.1 90.6 301 91.4 302.2 90.9 303.3 90.9 302.5 91.7 301.6 92 302.4 93.2 302.8 94.3 302.2 94.8 301.5 94.5 301.2 93 300.5 92.8 300.4 94 300.4 95.5 299.5 95.5 299.4 94 299.3 93 298.9 92.6 299.5 91.2 299.8 90ZM307.5 88 308 88.3 308.6 88.5 308.7 89.5 308.1 89.5 308 90.7 307.6 90 307.5 89ZM308 93 309.5 92.8 310.8 93.2 310 93.6 308.2 93.4ZM306.1 93.2 307 93.1 307.2 93.7 306.3 93.8ZM311 90.8 312.5 90.4 314 90.8 314.3 92 315 93.2 316.5 92.2 318 91.6 320 92.4 321.5 92.7 323.5 93.4 325 94.3 325.8 95.4 327.5 96 327.8 96.7 327 96.9 327.8 98 329 99 330.5 100.2 330 100.6 328 100.2 327 99.5 326 98.2 324.5 97.7 323.5 98.2 323 99.2 321.5 99.2 320 98.2 318.5 98.3 318 97.5 318.8 96.8 318 95.5 316.5 94.7 315 94.4 313.5 93.8 312.8 94 312 92.9 313.5 92.5 312.3 92.2 311 91.4ZM328.4 95.5 330 95.4 331.5 94.9 332.3 94.2 332 95.2 330.8 96.2 329.5 96.3ZM330.7 92.6 332 93.2 333 94.6 332.6 94 331.5 93ZM334.6 95.4 335.8 96.4 335.5 96.9 334.7 96ZM336.5 96.7 338 97.7 339.5 98.3 338 98.2ZM339.5 99.3 340.8 99.6 340.5 99.9 339.6 99.7ZM340.6 98.4 341.3 99.3 341 99.5 340.5 98.8ZM300.6 71.5 301.9 71.6 302.3 72.7 301.6 74 301.6 75.2 302.5 75.9 303.9 76.2 304.1 77.3 303.3 76.9 302.5 76.4 301.7 76.2 300.8 76.2 300.6 75.5 300 75 300.3 73.7 300.4 72.5ZM302 83 302.6 82 303.5 81.4 304.8 81.3 305.5 80.3 306.3 81.3 306.5 82.7 306 83.7 305.5 84.3 305.3 83.4 304.5 83.8 304 83 303.3 82.5 302.5 82.8ZM304.3 77.5 305.3 77.5 305.7 78.8 305 79.8 304.8 78.8ZM302 78.2 303 78.4 303 79.5 302.1 79.5ZM303 79.1 303.5 79.5 303.2 80.9 302.5 80.2ZM300.4 76.6 301.4 76.8 301.4 77.7 300.8 77.4ZM297.2 81.6 298.5 80.4 299.5 79 299.7 79.5 298.5 81 297.5 81.8ZM293.7 112 294.2 111.8 294.7 111.6 296 110.8 297.5 110.6 299 110 300.5 109.7 301.7 108.6 302.3 107.2 303.5 107.3 303.7 106.3 304.7 106.3 305.3 105 306.6 104 307.7 104.4 308.5 104.9 309.6 104.9 309.8 103.5 310.7 102.5 312 102.1 312.7 101.5 314 102 315.5 102.1 316.8 102 316.5 103.3 315.7 104.8 316.7 105.8 318.3 106.7 319.8 107.6 320.8 107.5 321.3 106 321.6 104 321.7 102.4 322.4 100.8 323.2 102 323.6 104 324.7 104.4 325.3 105.5 325.8 107 326.2 108.8 327.5 109.4 328.8 110.3 329.5 111.8 330.6 112.6 331 113.7 332.5 114.8 333.1 116 333.5 117.8 333.4 119.5 333 121 332.5 122.3 331.5 123.5 330.8 125 330 126.6 329.9 127.6 328 127.9 326.5 128.9 325 128.4 324 128.6 322.5 128.4 320.8 128 319.7 127 319.5 125.8 318.2 125.6 318.5 124.6 317.8 123.3 317.5 124.6 316.8 125.3 315.9 124.7 315.3 123.8 314.3 123 313 122 311.2 121.5 309 121.7 307 122.3 305.5 122.6 304 123.3 303.5 123.9 301.5 123.9 299.5 124.4 298 125.1 296.5 125 295.1 124.3 295 123.6 295.7 123.2 295.7 121.8 295 120.3 294.6 118.8 294 117.5 293.3 116.2 293.7 115 293.4 114ZM324.7 130.8 326.5 131.1 328.2 130.9 328.3 132 327.8 133.2 326.8 133.6 326 133.5 325.3 132.6 325 131.6ZM352.7 124.4 353.5 125 354.5 126.2 355.5 126.8 356 127.6 357.5 127.9 358.5 127.7 357.9 129.1 357 129.5 356.8 130.4 355.8 131.4 354.8 131.4 355.2 130.2 354.5 129.5 353.8 129.3 354.7 128.5 354.7 127.3 354.2 126.4 353.2 125.2ZM352.7 130.5 353.5 131 354.3 131.7 353.5 132.7 352.8 133.5 353 133.9 351.5 134.3 351 135.5 350.3 136.2 349.5 136.6 348.3 136.5 347 136.2 346.5 135.7 347.7 134.6 348.8 133.9 350.3 133.1 351.3 132.2 351.7 131.5 352.2 130.8ZM344 110.1 345.5 111 347 112.3 346.3 112.2 344.8 111.2ZM357.3 107.6 358.4 107.4 358.6 108.1 357.4 108.2ZM358.7 106.6 359.9 106.3 359.5 106.8ZM346.6 105 347.2 105.4 347 105.8 346.6 105.5ZM347.3 106.1 347.8 106.5 347.5 106.6ZM24 69.8 25 70.3 24.4 71.05 24 70.5ZM23.3 69.1 24 69.2 23.6 69.4ZM21.8 68.5 22.3 68.6 22 68.7ZM20.3 67.9 20.6 67.9 20.5 68.1ZM88.5 90.2 89 90.3 89 91 88.5 90.9ZM89.5 90.5 89.8 90.6 89.7 90.8ZM235.3 111 235.8 111.1 235.5 111.4ZM237.4 110.1 237.8 110.3 237.5 110.5ZM223.3 101.5 223.5 101.9 223.2 101.8ZM163.1 61.6 163.8 61.5 163.5 62ZM164.2 61.9 164.6 61.9 164.5 62.2ZM165.7 61.4 166.2 61.2 166.1 61.8ZM156 75 156.5 74.8 156.5 75.1ZM154.2 52.2 154.8 52.2 154.6 52.3ZM172.7 27.9 173.4 27.7 173.2 28.2ZM178.4 29.6 179 29.4 178.8 30.1ZM229.3 102 229.9 103.5 230.4 105.3 229.7 105.8 229.5 107.3 229 109 228.5 111 227.8 113 227.1 114.9 225.5 115.55 224.2 115.1 223.6 113.5 223.3 112 224.3 110.5 224.3 109 224 107.5 224.5 106.2 226 105.7 227 105 228 103.7 228.8 102.6Z"/>
<path id="isl" vector-effect="non-scaling-stroke" d="M124.5 38.4 123.5 39.4 122.5 40.5 121.4 41.5 120.7 42.3 122.5 42.4 124.2 43 125 43.2 126 42.7 126.9 43.4 127.3 42.5 126.4 41.7 126.7 40.8 125.2 40.6 124.1 40 123.3 39.1ZM51.7 39.2 53.5 39.5 54.8 40 56.4 41.3 56.5 41.7 55.2 41.5 54 40.8 52.5 40ZM47 35.9 48.3 36 48.8 37.7 47.7 37ZM25.5 32.4 27.5 32 27.8 32.6 26.2 33.2ZM95.1 68.1 96.7 67.1 98 66.8 99.5 66.9 101 67.5 102.5 68.2 104 68.8 105.8 69.7 104.5 70.1 102.4 70.15 102.8 69.4 101.5 68.5 99.5 68 98 67.6 96.5 67.8ZM105.6 71.6 106.7 71.8 108.3 72.3 109.5 71.7 111.4 71.7 111.6 71.2 110.2 70.5 108.4 70.1 107.2 70.1 106.6 70.3 107.4 71 107.2 71.5ZM101.6 71.7 102.5 71.5 103.7 71.9 103 72.2 102 72.1ZM112.8 71.6 114.3 71.6 114.2 72 112.8 72ZM101.8 63.3 102.8 63.4 102.9 63.8 102 63.5ZM101.8 65 102.3 65.7 102.1 66.1 101.6 65.4ZM111.4 142.6 110 142.8 109.2 143.7 108.2 144.3 109.5 145 111 145.4 112.5 145.7 114 145.2 114.9 144.7 113.2 144.2 112 143.3ZM118.8 141.3 120.5 141.3 122.2 141.6 121 142.3 119.5 142.1 119 141.8ZM105.9 131.9 106.5 132 106.4 133.4 105.6 133.1ZM118.1 79.2 119.1 79.2 119 79.9 118.1 79.9ZM174 37.8 173.9 36.7 174.5 35.6 173.7 34.8 172 34.8 171.5 35.5 170 35.8 170.2 36.7 170.7 37.3 169.7 38 170.2 38.5 171.7 38.2 173 37.9ZM192.5 52 193.3 51.8 195.6 51.75 195.2 52.7 195.1 53.3 194.3 53.1 192.5 52.4ZM188.2 49.1 189.2 48.8 189.8 49.5 189.6 50.8 189 51 188.4 50.8 188.5 49.7ZM188.7 47.4 189.4 47 189.5 48 189.2 48.6 188.7 48.2ZM203.6 54.4 204.5 54.5 206.3 54.7 206 55 204.7 55.05 203.6 54.75ZM212.3 55 213 54.7 214.5 54.35 214 55 213 55.4 212.5 55.3ZM182.4 50.4 183.1 50.1 183.4 50.4 183 50.7ZM259.9 80.3 260.8 80.8 261.8 82.4 261.6 83.6 260.6 84.05 260 83.7 259.8 82.2ZM288.7 70.8 289.5 70 290.7 69.95 291 70.4 290.4 71.3 289.5 71.8 288.7 71.4ZM301 65 301.6 64.8 301.9 65.4 301.4 66.8 300.9 68 300.3 67.4 300.1 66.4 300.6 65.5ZM312.5 56.2 313.5 55.8 314.6 55.8 314.7 56.2 314.2 56.7 313.5 56.6 312.9 57.2 312.3 56.7ZM309.7 56.7 310.5 56.1 311.1 56.2 311.7 56.7 311.9 57.3 311.4 58.5 310.7 59 310.2 58.6 310.3 57.8 309.8 57.3ZM320 48.5 320.3 47.7 319.9 47.3 320.5 46.7 321.3 46.7 321.7 45.7 321.7 44.6 322.8 45.3 324.3 46 325.3 45.7 325.6 46.6 324.5 47.1 323.3 48 322 47.5 321 47.5 321.2 48.2 320.5 48.3ZM321.9 44 322.1 42.7 322 41.5 322 40 322.2 38.5 321.8 36.7 322.6 35.7 323.3 36.8 323.2 38.2 323.8 39.8 324.5 41 323.3 41 322.6 42.2 323.4 43.3 323.4 43.9 322.7 43.4ZM325.5 46.1 326.8 45.4 328.5 44.5 327.5 45.2ZM329.5 44.2 330.5 43.7 332 42.9 331 43.5ZM334.5 40.5 335.5 39.7 336 39.2 335.6 39.8ZM198.2 33 199 32.1 198.8 32.8ZM191.2 34.8 192.5 34 192.4 34.7 192 35.1ZM189.8 34.6 190.7 34.5 190.7 34.9 190 34.9ZM203 51.1 204.2 51.4 204.5 52 203.7 51.6ZM233.3 77.4 234.5 77.4 234.2 77.7 233.4 77.7ZM285.3 96.8 286 95.9 287 96 288.5 96.6 290.5 96.8 291 96.4 292.7 96.9 293.5 97.6 294.5 97.8 294.4 98.6 293 98.3 291 98.2 289 97.7 287.5 97.7 286.5 97.3ZM294.5 98.2 295.6 98.2 295.5 98.8 294.7 98.5ZM296 98.3 296.7 98.3 296.6 98.9 296 98.8ZM296.8 98.4 297.8 98.2 299 98.4 299 98.8 297 99ZM299.8 98.4 301 98.4 302.8 98.2 302.9 98.6 301 98.9 299.9 98.8ZM299 99.5 300.2 99.4 300.8 100.1 299.6 100ZM303.5 100.3 304.5 99.3 305.5 98.7 307.2 98.4 306.5 99 305 99.8 304 100.3ZM307.5 88 308 88.3 308.6 88.5 308.7 89.5 308.1 89.5 308 90.7 307.6 90 307.5 89ZM308 93 309.5 92.8 310.8 93.2 310 93.6 308.2 93.4ZM306.1 93.2 307 93.1 307.2 93.7 306.3 93.8ZM328.4 95.5 330 95.4 331.5 94.9 332.3 94.2 332 95.2 330.8 96.2 329.5 96.3ZM330.7 92.6 332 93.2 333 94.6 332.6 94 331.5 93ZM334.6 95.4 335.8 96.4 335.5 96.9 334.7 96ZM336.5 96.7 338 97.7 339.5 98.3 338 98.2ZM339.5 99.3 340.8 99.6 340.5 99.9 339.6 99.7ZM340.6 98.4 341.3 99.3 341 99.5 340.5 98.8ZM300.6 71.5 301.9 71.6 302.3 72.7 301.6 74 301.6 75.2 302.5 75.9 303.9 76.2 304.1 77.3 303.3 76.9 302.5 76.4 301.7 76.2 300.8 76.2 300.6 75.5 300 75 300.3 73.7 300.4 72.5ZM302 83 302.6 82 303.5 81.4 304.8 81.3 305.5 80.3 306.3 81.3 306.5 82.7 306 83.7 305.5 84.3 305.3 83.4 304.5 83.8 304 83 303.3 82.5 302.5 82.8ZM304.3 77.5 305.3 77.5 305.7 78.8 305 79.8 304.8 78.8ZM302 78.2 303 78.4 303 79.5 302.1 79.5ZM303 79.1 303.5 79.5 303.2 80.9 302.5 80.2ZM300.4 76.6 301.4 76.8 301.4 77.7 300.8 77.4ZM297.2 81.6 298.5 80.4 299.5 79 299.7 79.5 298.5 81 297.5 81.8ZM324.7 130.8 326.5 131.1 328.2 130.9 328.3 132 327.8 133.2 326.8 133.6 326 133.5 325.3 132.6 325 131.6ZM344 110.1 345.5 111 347 112.3 346.3 112.2 344.8 111.2ZM357.3 107.6 358.4 107.4 358.6 108.1 357.4 108.2ZM358.7 106.6 359.9 106.3 359.5 106.8ZM346.6 105 347.2 105.4 347 105.8 346.6 105.5ZM347.3 106.1 347.8 106.5 347.5 106.6ZM24 69.8 25 70.3 24.4 71.05 24 70.5ZM23.3 69.1 24 69.2 23.6 69.4ZM21.8 68.5 22.3 68.6 22 68.7ZM20.3 67.9 20.6 67.9 20.5 68.1ZM88.5 90.2 89 90.3 89 91 88.5 90.9ZM89.5 90.5 89.8 90.6 89.7 90.8ZM235.3 111 235.8 111.1 235.5 111.4ZM237.4 110.1 237.8 110.3 237.5 110.5ZM223.3 101.5 223.5 101.9 223.2 101.8ZM163.1 61.6 163.8 61.5 163.5 62ZM164.2 61.9 164.6 61.9 164.5 62.2ZM165.7 61.4 166.2 61.2 166.1 61.8ZM156 75 156.5 74.8 156.5 75.1ZM154.2 52.2 154.8 52.2 154.6 52.3ZM172.7 27.9 173.4 27.7 173.2 28.2ZM178.4 29.6 179 29.4 178.8 30.1Z"/>
<path id="ice" vector-effect="non-scaling-stroke" d="M147 6.4 153 6.7 158 7.7 163 8.2 167.5 8.4 168 9 164 9.7 162 10.7 161.5 12 160.5 13 161.5 14 160 14.8 160.5 15.8 158 16.6 157.7 17.8 158.2 19 157.5 19.6 155.5 19.5 156 20.3 154 21.3 150.5 21.7 148 22.3 146.3 23.4 144 24.1 142 24.4 140 25 139.3 26.3 138 27.3 137.3 28.7 136.7 29.8 135.7 30.15 134.5 29.7 132 29 130.5 28 129.3 26.7 128.3 25.5 127.2 24.2 126.3 23 127 21.8 128.7 21.2 128.8 20.5 126 20.6 125.3 19.7 127.5 19.3 125.7 18.7 124.5 17.8 124 16.5 122.5 15.3 121 14.4 119 13.9 116 13.8 113 14 110.5 13.6 108.8 12.9 110.5 12.3 107 11.7 110 11.1 114 10.6 115 9.8 112.5 9.3 116 8.7 119 8.1 124 7.7 129 7.7 134 7.2 140 6.7ZM118.5 23.4 117.2 24.4 115.5 24.2 113 23.7 114.5 25 116 26.3 115 27.4 113.5 26.8 112 26.3 114 28 112 27.7 110 27.2 108 26.4 106.5 25.6 104 25.6 102 25.5 102.5 24.7 105.5 24.6 106.4 23.5 107.3 22.4 106 21.6 103.5 21 102 20 99.5 20.2 97 20 94.5 20.1 92 19.7 90.5 18.8 90 17.7 90.8 16.5 94 16.1 97 16.3 99 16.5 99.8 17.4 102 17.2 104 17.7 106 18.3 108.5 19 111 19.6 112.5 20.6 113.5 21.6 115.5 22.2 117.5 22.8ZM63 21 66 21.6 69 21.4 72 21.4 75 20.9 78.2 20.4 77.5 19.4 75.5 19 75 17.6 72.5 16.8 69.5 17.3 67 17.2 65 16.6 62.5 17.2 61 18.3 62.5 19.4 66 19.7 64 20.4ZM55 18.05 57 18.8 59 18.6 60.3 17.7 63.5 16.7 62.5 15.8 59 15.5 55.5 15.8 54.5 17.2ZM102.5 13.7 100 13.85 96 13.6 91 13.6 93 12.7 92 11.9 94.5 11.1 93 10.2 89 9 92 8 98 7.2 105 6.9 112 7 118 7.5 115.5 8.4 112 9 110 10 106 10.7 104 11.5 101.7 12.6ZM92.5 11.8 89 11.7 85 10.7 84 9.5 87 8.7 90 9.7 92 10.7ZM100 15.4 96 15.5 92 15.5 88.2 15.3 87.8 14.1 91 13.7 95 14.3 99 14.3 100.5 14.8ZM89.5 17.3 87 18 84.5 17.8 84 16.5 85 16 88 16 89.7 16.3ZM83 18.5 81 18.6 78 18 77.5 17 79.5 16.1 82 16.2 83.5 17.2ZM74 15 71 15.6 67 15.6 63 14.8 64 13.7 69 13.4 72 13.8 74 14.2ZM83 15 80 15.1 76 14.6 77 13.6 80 13.3 82.5 13.8ZM64.5 13.5 61 14 57 13.7 59 12.7 63 12.5ZM84 12.5 80 12.3 76 11.8 75 11 80 10.9 84 11.7ZM84.5 21.4 82 21.3 80.5 20.8 81.5 20.1 84 20.5ZM99.7 26 98 26.6 96.5 26.8 94.5 26.6 92.8 26.1 94 24.3 95.5 24.6 97 25.2 98.7 25.6ZM155.7 24.4 157.5 23.55 159 24.4 161.5 23.85 163.7 23.5 165.3 23.9 166.4 24.9 165.2 25.7 163 26.2 161.2 26.6 159.5 26.4 157.4 26.15 158 25.6 156 25.1 157.8 24.7ZM358.5 18.9 360 18.6 360 19.1 359 19.2ZM0 18.6 2 18.6 2.5 19 0 19.1ZM231.5 18.5 233.5 19.2 236.5 19.4 237.5 18.8 236 17.5 236 16.2 238 15.2 241 14.3 245 13.6 248.8 13.1 246 13 241 13.5 237 14.4 234.5 16 233.5 17 232.5 17.7ZM190.5 11.1 193 10.2 196 10 200 9.6 204 9.6 207 9.9 203.5 10.7 201 11.2 201.5 12 199 12.7 197 13.4 195.5 13 193.5 12.2 191.5 11.5ZM201 11.8 204 11.7 203.5 12.6 201.5 12.5ZM225 9.5 230 9.9 236 9.9 242 9.5 244 9 238 8.5 232 8.8 227 9.1ZM275.5 11 278 11.2 281 11 284 11.7 286 11.4 284 10.2 280 9.7 276 9 274 9.7ZM278 11.3 281 12.1 284.5 11.9 283 11.5ZM317 15 320 15.3 323 15 326 14.6 330 14.8 328 14 324 14.1 320 13.9 318 14.2ZM319.5 16.6 321.5 16.1 323.5 16.7 321 17ZM228.3 20.7 229.5 20.5 230.3 21 229 21.3ZM248.8 139.1 250.3 139.1 250.2 139.6 249 139.6ZM142 144 144 144.4 143.8 144.8 142.5 144.3ZM171 18.8 172 18.9 171.7 19.1ZM87 15 84.5 14.9 84 14.4 86.5 14.4ZM83 12 81 12.2 82 11.5 84 11.5ZM70 12.5 67 12.3 66 11.8 70 11.7ZM70 11.5 67 11.6 67.5 11.1 70 11.1ZM82 11.3 76 11.3 75 10.7 81 10.5ZM103 16.6 99.5 16.3 101 17.1 103.5 17.2ZM80 12.3 77.5 12.3 78 11.8 79.5 11.8ZM97.5 27.1 99 27.4 98 27.8 96.8 27.7ZM100 27.6 100.7 28 100.2 28.4 99.6 28.1ZM98.5 36.8 99.5 37 99 37.3ZM8.3 26.3 11 26.7 11.2 27 8.5 26.7ZM12.7 29.8 14.3 29.7 14.2 30.2 13 30.2ZM15.2 35.1 16.8 35 16.7 35.5 15.2 35.6ZM12.2 36.4 13.7 36 13.5 36.6 12.2 36.8ZM11 37.1 12 36.5 12 37 11 37.3ZM5 38 6 37.7 7 37.9 5 38.2ZM2.2 38.4 3.5 38.1 3.5 38.4 2.2 38.5ZM352.5 37.1 353.4 37 353.3 37.3 352.5 37.3ZM345.7 34.7 346.3 35 346.2 35.3 345.7 35ZM115.5 40.1 118 40.6 118.2 40.9 116 40.4ZM115.7 43.2 117.8 43.5 117.5 44 116 43.6ZM125.2 20.5 127.5 20.6 128.1 20 125.5 19.7ZM275 10.4 278 10.5 280 9.8 277 9 274.5 9.5ZM317.5 14.8 321 15.2 323 14.7 321 14 318 14.2ZM280 11.7 283 12.2 285.5 11.7 282.5 10.8ZM250 16.9 251.5 16.7 251 16.4 250 16.6ZM239 20.2 240.5 19.7 239.5 19.6 238.7 19.9Z"/>
<clipPath id="landA"><use href="#land" transform="translate(100.8 27.7) scale(4.40417 4.55467)"/></clipPath>
<clipPath id="landD"><use href="#land" transform="translate(112.2 1354.2) scale(4.40389 4.55400)"/></clipPath>
<clipPath id="frA"><rect x="100.8" y="27.7" width="1585.5" height="683.1999999999999"/></clipPath>
<clipPath id="frD"><rect x="112.2" y="1354.2" width="1585.3999999999999" height="683.0999999999999"/></clipPath>
<pattern id="stip" patternUnits="userSpaceOnUse" width="1" height="1"><path d="M0.30 0.30l0.40 0.40m0 -0.40l-0.40 0.40" stroke="#55483a" stroke-opacity=".85" stroke-width=".17" fill="none"/></pattern>
<pattern id="stip2" patternUnits="userSpaceOnUse" width="8" height="8"><path d="M0.30 6.30l0.40 0.40m0 -0.40l-0.40 0.40M1.30 3.30l0.40 0.40m0 -0.40l-0.40 0.40M1.30 5.30l0.40 0.40m0 -0.40l-0.40 0.40M2.30 0.30l0.40 0.40m0 -0.40l-0.40 0.40M2.30 1.30l0.40 0.40m0 -0.40l-0.40 0.40M2.30 2.30l0.40 0.40m0 -0.40l-0.40 0.40M2.30 5.30l0.40 0.40m0 -0.40l-0.40 0.40M2.30 7.30l0.40 0.40m0 -0.40l-0.40 0.40M3.30 1.30l0.40 0.40m0 -0.40l-0.40 0.40M3.30 2.30l0.40 0.40m0 -0.40l-0.40 0.40M3.30 4.30l0.40 0.40m0 -0.40l-0.40 0.40M3.30 5.30l0.40 0.40m0 -0.40l-0.40 0.40M4.30 0.30l0.40 0.40m0 -0.40l-0.40 0.40M4.30 4.30l0.40 0.40m0 -0.40l-0.40 0.40M5.30 1.30l0.40 0.40m0 -0.40l-0.40 0.40M5.30 2.30l0.40 0.40m0 -0.40l-0.40 0.40M5.30 3.30l0.40 0.40m0 -0.40l-0.40 0.40M5.30 4.30l0.40 0.40m0 -0.40l-0.40 0.40M5.30 5.30l0.40 0.40m0 -0.40l-0.40 0.40M5.30 6.30l0.40 0.40m0 -0.40l-0.40 0.40M6.30 0.30l0.40 0.40m0 -0.40l-0.40 0.40M6.30 2.30l0.40 0.40m0 -0.40l-0.40 0.40M6.30 3.30l0.40 0.40m0 -0.40l-0.40 0.40M6.30 6.30l0.40 0.40m0 -0.40l-0.40 0.40M7.30 1.30l0.40 0.40m0 -0.40l-0.40 0.40M7.30 3.30l0.40 0.40m0 -0.40l-0.40 0.40M7.30 6.30l0.40 0.40m0 -0.40l-0.40 0.40" stroke="#55483a" stroke-opacity=".85" stroke-width=".17" fill="none"/></pattern>
<filter id="blur" x="0" y="0" width="100%" height="100%" filterUnits="objectBoundingBox"><feGaussianBlur stdDeviation="0.55"/></filter>
</defs>
<g clip-path="url(#frA)">
<g clip-path="url(#landA)"><g transform="translate(100.8 27.7) scale(4.40417 4.55467)">
<rect x="0" y="0" width="360" height="150" fill="#f9e2a3"/>
<path d="M66.6 29.8 68.2 29.4 69.2 29.4 69.7 29.8 69 30.2 69 30.8 68.8 31.1 68.2 31.2 67.2 31.1 66.6 30.8 66.3 30.3ZM78.9 31.8 79.8 31.6 81.1 31.8 82 32.2 82.3 32.8 81.7 33.2 80.2 33.8 79.8 33.3 78.8 32.8Z" fill="#dcecA3" fill-rule="evenodd"/>
<path d="M281.1 12.8 281.8 12.1 282.7 12.2 282.2 13.1 281.8 13.2ZM289.2 14.2 289.8 14.0 290 14.2 289.2 15.4 289.1 14.8ZM84.7 17.8 85.3 17.8 85.4 18.2 85.1 18.8 84.8 18.9 84.2 18.8 84.2 18.2ZM207.1 18.2 209.8 18.1 210.2 18.6 211.2 18.7 211.8 19.2 212 19.8 210.2 20.6 209.2 20.8 208.8 20.5 207.8 18.8ZM34 18.8 34.8 18.6 35.9 18.8 36.9 19.8 37.8 20.1 38.8 20.8 39.9 20.8 39.6 21.2 39.7 22.2 40.2 23.2 40.8 23.7 41.2 23.6 41.8 23.2 41.2 23.1 40.6 22.2 40.8 21.2 41.2 20.9 41.7 21.2 41.8 21.8 42.2 22.2 42.8 22.3 43.7 23.2 43.6 23.8 42.8 24.5 41.8 24.3 40.2 24.7 39.2 24.3 38.8 23.1 37.8 23.9 36.8 23.4 36.2 23.4 35.4 23.8 35.2 24.0 34.2 24.1 32.8 24.0 30.8 23.5 30.3 23.2 29.8 22.3 28.7 22.2 28.4 21.7 29.3 20.8 30.2 20.2 30.8 20.5 31.8 20.5ZM201.6 18.8 202.8 18.7 203.2 19.1 203.8 19.1 204.2 18.7 205.8 18.7 206.4 19.2 206.7 20.3 205.8 21.1 204.2 21.7 203.9 22.8 203.9 23.2 201.5 25.2 201.3 25.8 201.4 26.8 201.2 27.2 201.9 28.2 202 28.8 201.4 30.2 200.1 29.2 200.1 27.8 199.8 27.4 198.9 28.2 198.9 28.8 199.8 29.8 199.9 30.8 199.4 31.2 200.2 32.2 200.8 32.2 199.8 32.4 198.8 31.9 197.8 31.9 197.5 31.8 198.1 30.8 197.2 30.4 196 30.8 195.3 31.2 194.8 31.2 194.2 31.0 193.8 30.2 193.2 29.8 192.8 29.7 191.8 30.6 191.2 30.7 190.9 29.8 191.1 29.2 192.2 29.2 193.5 27.2 193.2 26.6 192.4 26.2 193.2 25.7 193.8 25.0 194.8 24.4 195.1 23.8 195.8 23.4 196.2 22.8 198.8 22.8 198.4 21.2 198.6 20.8 199.2 20.5 200.6 20.2 201.1 19.2ZM280.1 19.2 280.8 19.2 281.8 20.0 282.8 20.3 283.2 21.1 284.3 20.8 285.2 21.6 285.9 21.8 285.8 22.0 285.2 22.2 285.2 22.8 285.7 23.8 284.8 24.2 284.7 24.7 284.1 24.8 284.5 23.8 283.4 23.2 283.9 22.8 283.2 21.3 282.2 21.4 281.3 22.2 281.5 22.8 281.2 23.4 280.8 24.0 279.8 24.2 279.2 24.1 278.2 23.3 277.8 23.5 276.8 23.0 275.8 23.1 275.2 22.0 274.8 21.8 274.5 21.2 274.5 20.8 274.8 20.7 275.2 20.8 276.2 21.4 276.8 21.5 280.2 20.4 280.4 20.2 279.6 19.8ZM25.3 20.2 25.8 19.6 26.2 19.7 27.2 20.3 27.7 20.8 28.1 21.8 27.8 21.9 26.8 21.8 25.8 21.4ZM276.2 19.8 276.8 19.9 277.1 20.2 276.8 20.6 276.2 20.6 276 20.2ZM57 20.8 57.8 20.4 58.8 21.2 59.2 22.0 59.8 21.8 60.2 22.0 60.6 22.8 61.2 23.3 61.8 23.2 62 22.8 62 22.2 62.7 21.9 63.8 21.8 65.8 21.2 69.7 21.2 68.2 22.2 67.9 22.8 68 24.2 68.8 25.2 69.2 25.3 69.8 24.5 70.8 24.2 71.1 23.8 71.7 22.8 71.6 22.2 71.1 21.8 72.2 20.7 72.8 20.9 73.8 20.5 75.2 20.6 75.8 21.1 76.9 21.2 76.2 21.8 76.1 22.2 76.2 22.3 77.6 21.2 80.7 21.3 79.2 21.6 79.2 22.2 81.2 23.2 81.1 23.8 81.2 24.0 83.2 24.4 84.8 23.1 85.2 23.0 87.2 23.3 88.2 23.8 88.8 23.6 89.8 22.5 91.2 22.3 92.2 21.7 93.2 21.5 93.8 21.0 94.2 21.1 94.4 21.8 94.3 22.2 94.5 22.8 95.2 23.0 96.5 24.2 96.1 24.8 94.8 24.9 94.2 25.3 93.2 25.4 91.8 27.0 90.8 27.0 90.2 27.5 89.8 27.6 89.2 28.0 88.2 28.0 87.1 29.2 87.1 29.8 88.8 31.6 89.8 31.6 90.2 32.0 90.8 32.0 91.2 32.5 92.2 32.6 92.8 33.1 93.2 33.2 93.9 33.8 94 35.2 95.1 37.2 94.8 38.4 93.4 39.8 92.9 41.2 93.2 41.7 92.8 42.0 92.2 41.8 91.4 40.8 91.9 39.8 91.8 39.0 91.3 38.8 91.7 38.2 91.8 37.7 91.6 37.2 91.2 37.1 90.2 37.3 90.2 38.2 90.7 38.7 90.4 39.2 89.2 40.4 87.2 41.4 86.7 41.2 86.2 40.2 85.2 39.2 85.2 38.5 83.7 39.2 82.8 39.2 82.3 39.8 82.2 40.8 81.8 40.9 80.8 40.1 80.3 40.2 79.8 40.9 79.2 41.2 78.2 40.8 77.7 40.7 76.8 41.2 76.2 40.9 75.6 40.2 75.2 38.7 74.2 38.4 72.8 38.8 72.2 39.3 71.2 39.6 70.2 40.5 68.8 39.9 67.8 38.9 66.8 38.7 66.2 40.0 65.8 40.5 65.1 39.2 65.2 38.5 65.7 38.2 65.9 37.8 65.7 37.2 65.2 37.0 63.8 37.5 62.2 37.7 61.7 38.2 62.2 39.1 62.8 39.0 63.1 39.2 62.4 39.8 61.8 40.9 61.4 40.8 61.5 39.8 61.2 39.4 59.2 38.8 58.3 36.2 57 35.8 56.7 35.2 56.9 34.8 56.9 34.2 55.7 33.8 55.6 33.2 55.9 32.2 55.8 31.9 55.2 31.4 54.8 31.2 54.2 31.2 53.1 32.2 52.3 33.2 51.8 33.3 51.4 33.8 52.1 35.8 52.1 36.2 51.8 36.3 50.8 36.1 49.8 35.5 48.2 36.7 47.6 37.8 47.2 37.8 46.6 37.2 46.6 36.8 46.2 36.2 47.2 36.1 48.6 34.8 48.2 32.8 48.9 32.2 49 30.8 49.3 29.8 49.8 29.1 50.6 28.8 50.7 28.2 50.4 27.8 51.2 25.8 49.1 23.8 48.8 22.7 48.2 22.7 47.6 23.8 47.7 24.2 48.2 25.0 49.3 25.8 49.2 26.8 48.8 27.1 47.2 26.6 46.2 27.1 45.2 26.8 44.9 25.8 45.3 23.8 46.1 22.8 46 22.2 45.8 21.8 45.2 21.8 44.8 22.3 44.2 22.1 44 21.8 44.2 21.2 44.8 20.9 45.6 21.2 45.8 21.5 45.9 21.2 46.8 21.3 47.8 22.0 48.8 20.9 49.2 21.0 51 21.8 51.8 22.8 52.2 22.5 52.4 21.8 52.8 21.5 53.2 21.9 54.2 21.9 54.6 22.8 54.2 25.2 53.8 25.7 52.8 25.8 52 26.2 52.2 27.8 51.7 28.2 51.8 28.9 52.5 28.2 53.2 28.0 53.8 28.1 54.8 28.7 55.2 28.2 54.6 26.2 55.2 25.6 56.9 22.8 57.1 21.2ZM58.8 27.7 58.2 28.4 57.2 29.1 56.5 28.8 56.2 28.4 55.1 29.2 55.1 29.8 55.6 30.2 55.7 30.8 56.8 30.4 57.2 30.6 57.4 31.2 58.8 32.7 59.2 32.7 59.6 32.2 59.2 30.2 59.7 28.2 59.6 27.8 59.2 27.6ZM63.2 27.5 60.8 27.9 60.4 28.8 61.2 29.6 62.2 30.0 62.9 29.8 63 29.2 63.8 27.8 63.8 27.5ZM64.2 25.8 63.9 26.2 64.2 26.8 64.8 26.8 65.2 26.2 64.8 25.9ZM66.8 29.6 66.3 30.2 66.8 30.8 67.8 31.2 68.8 31.1 69 30.8 69 30.2 69.7 29.8 69.2 29.4 68.2 29.4ZM74.2 34.7 74.2 35.2 74.8 36.1 75.2 36.6 75.8 36.5 76.3 35.2 76.3 34.8 74.8 34.4ZM80.2 31.6 78.9 31.8 78.8 32.8 79.8 33.3 80.2 33.8 81.7 33.2 82.3 32.8 82 32.2 81.2 31.8ZM84.2 24.7 84.2 25.5 84.5 25.8 84.9 25.8 85.1 25.2 84.8 24.8ZM92.8 34.5 91.9 34.8 91.6 35.2 91.8 36.0 92.8 35.2 93 34.8ZM14.2 21.2 15.2 21.0 16 21.2 15.7 22.2 15.2 22.7 14.8 22.5 13.9 21.8ZM230.2 21.2 230.7 21.7 230.9 22.2 230.8 22.8 230.2 22.8 229.6 23.2 229.5 23.8 229.9 24.2 229.2 24.8 229 24.2 229.2 22.2 229.5 21.8ZM252.7 23.8 255.2 21.3 256.8 21.8 257.4 22.2 256.9 22.8 257.1 23.2 258.2 24.8 259.2 25.6 260.2 25.6 260.4 25.8 260.2 26.2 258.8 27.0 258.7 27.8 259.2 27.9 259.8 27.5 260.2 27.5 260.5 28.8 260.9 29.2 260.8 29.8 260.2 30.0 259.8 29.9 259.2 29.5 257.9 29.8 257.4 30.2 257.8 31.2 257.2 31.6 253.2 31.3 251.8 30.7 250.2 30.8 249.6 31.2 248.8 32.6 248.2 32.9 247.8 33.0 247.6 32.8 247.6 30.8 247.1 29.8 247.5 29.2 247.4 28.8 246.2 27.1 245.2 27.0 244.8 26.8 244.2 24.8 244.2 24.1 244.8 23.8 245.8 24.4 246.2 23.9 247.2 25.0 247.8 25.3 249.2 24.7 250.8 25.0ZM254.8 29.4 254.5 29.8 254.8 30.0 255.2 30.0 255.8 29.8ZM248.8 28.4 248 29.2 248.2 29.5 248.8 29.6 248.9 29.2ZM273.3 22.8 273.8 22.0 274.2 22.2 273.8 23.2ZM261.3 22.8 261.8 22.3 262.2 22.5 262.5 22.8 262.4 23.2 262.6 23.8 263.8 24.9 265.8 25.3 266.2 25.2 267.2 24.0 268.8 23.4 269.2 22.9 270 23.2 270.3 24.2 270.8 24.4 271.8 24.6 272.8 24.5 273.1 24.2 273.2 23.7 273.8 23.5 274.2 23.8 275.2 23.7 275.3 24.2 274.5 24.8 274.2 25.2 273.2 25.5 273 26.2 273.1 26.8 273.9 27.8 273.7 28.2 273.2 28.5 272.2 28.7 271.7 29.2 271.6 29.8 272.2 30.8 271.8 31.9 271.2 32.2 270.5 31.8 270.3 29.2 270.1 28.8 269.1 27.8 270.3 26.8 270 25.8 269.2 24.7 268.8 24.9 268.6 25.2 268.2 25.5 266.8 25.8 266.4 26.2 266.7 27.2 265.8 28.3 265.2 28.4 264.2 30.2 262.8 32.0 262.2 32.3 261.8 32.3 260.8 32.1 260.4 31.7 260.6 31.2 261.4 30.2 261.4 29.8 261.9 29.2 261.9 28.8 261.5 28.2 261.3 27.8 262.2 27.3 262.6 26.2 262.2 25.8 260.7 25.2 260.6 24.2 261.2 23.2ZM37.2 24.8 37.8 24.7 38.2 25.2 38.3 25.8 37.8 26.2 37.1 25.8 37 25.2ZM276.2 26.2 276.8 25.8 277.1 26.2 277.2 26.8 276.8 27.3 276.2 27.2 276.1 26.8ZM104.3 26.8 106.2 26.6 106.8 27.1 107.2 27.1 107.8 27.6 108.7 27.8 108.3 28.2 106.4 29.2 106.2 29.8 106.3 30.2 107.1 30.8 107.1 31.2 106.5 32.8 106.5 33.8 106.2 34.2 105.9 34.2 106 34.8 106.7 34.9 107.4 35.8 106.7 36.8 107.3 38.2 105.2 39.7 103.8 41.2 102.1 41.2 100.8 40.4 100.2 40.3 99.2 41.1 97.8 41.6 97.2 41.3 97.2 41.2 98.8 39.8 98.8 39.1 98.1 38.8 98.6 38.2 98.7 37.8 98.6 37.2 97.8 36.5 97 36.2 96.6 35.2 95.8 34.6 95.8 33.9 96.3 33.8 97.2 34.2 97.4 34.8 97.3 35.2 97.8 35.6 98.3 35.2 99.2 35.1 100.2 34.1 100.8 34.1 101.2 33.7 102.2 33.9 102.8 33.4 104.2 33.4 104.5 33.2 104.6 32.2 103.8 31.8 103.1 30.8 103.1 30.2 103.4 29.8 104.2 28.9 105.4 28.2 105.2 27.6ZM99.2 35.4 98.9 35.8 98.9 36.8 99.8 37.6 100 37.2 100.1 36.2ZM104.8 33.7 104.5 34.2 104.7 34.8 105.7 34.8 105.7 34.2 105.2 33.8ZM281.8 26.8 282.3 26.8 282.7 27.2 282.2 27.4 281.6 27.2ZM282.9 27.2 283.2 26.9 286.8 27.4 288.2 28.6 289.2 28.2 289.8 28.2 291.2 28.9 292.4 29.8 292.8 30.2 292.7 30.8 292.4 31.2 291.8 31.4 290.8 30.7 289.8 31.0 289.2 31.0 288.2 30.6 287.8 31.4 287.5 31.2 287.2 30.8 288.1 30.2 287.8 29.1 287.2 28.9 285.8 29.4 284.2 29.2 283.9 28.8 283.8 27.8ZM101.7 28.2 102.2 27.4 102.7 27.3 102.7 28.2 102.2 28.6ZM216.2 27.8 216.8 27.5 217.2 27.8 217 28.8 216.2 28.7 216.1 28.2ZM226.8 28.2 227.8 27.8 228.2 28.2 228.3 28.8 228.8 29.4 229.2 29.1 229.4 29.2 229.6 29.8 229.6 30.2 228.8 30.6 228.2 30.5 227.3 29.8ZM276.7 28.2 277.2 28.1 277.8 28.3 278.8 29.8 278.6 30.2 278.2 30.5 277.8 30.5 277.2 30.2 276.4 29.2 276.4 28.8ZM294.9 29.2 295.2 28.1 296.2 28.8 295.2 29.8ZM234.4 28.8 234.8 28.6 235.2 29.1 236.2 29.4 237.2 28.8 237.8 28.8 238.2 29.2 237.8 29.8 237.2 30.0 236.8 29.8 236 30.2 234.8 30.4 234.3 30.2 234.5 29.2ZM114.6 29.2 115.2 29.0 115.5 29.2 115.9 29.8 116 30.2 115.8 30.6 114.8 30.8 114.2 30.6 113.9 30.2ZM230.5 30.2 231.8 29.0 232.6 29.8 232.9 30.2 232.9 30.8 231.8 31.0ZM281.4 30.8 282.2 30.1 283.2 30.5 284.2 30.0 284.9 30.8 286.2 31.1 286.4 31.2 286.4 31.8 286.2 31.9 285.2 32.0 283.8 31.5 282.8 31.6 281.8 32.0 281.4 31.8ZM224.2 31.7 224.8 30.5 226.2 30.9 226.8 31.8 226.8 32.3 226.2 32.5 225.2 31.8 223.8 31.8ZM240.7 31.8 241.2 30.6 241.8 30.8 242.2 31.2 242.3 31.8 241.2 32.6 240.8 32.2ZM274.4 30.8 275.2 30.6 276.2 30.9 277 32.2 275.2 32.8 274.8 32.5 274.2 32.2 273.9 31.2ZM174.4 31.2 174.8 30.9 175.2 30.9 177.2 32.1 178.8 32.3 179.2 32.7 178.3 33.8 179.3 34.8 178.9 35.8 179.2 36.1 180.2 35.7 181.2 36.2 181.8 36.2 182.3 36.8 182.2 37.2 181.8 37.5 181.2 37.5 179.2 37.0 178.8 37.0 177.2 38.0 176.2 38.0 175.8 37.5 174.8 35.2 175 34.8 174.2 32.2ZM229.1 31.8 229.2 31.6 230.2 32.0 230.9 32.8 231.1 33.2 230.8 33.9 228.8 34.5 228.3 34.2 227.9 33.8 229 32.8ZM109.1 32.2 109.4 32.2 109.3 32.8 109.8 33.2 111.8 34.2 112.2 34.9 112.8 35.2 113.9 37.2 113.8 37.7 113.2 38.0 112.7 39.1 112.3 39.2 111.9 39.8 113 40.8 112.9 41.2 112.3 41.8 111.8 41.7 111.2 41.3 110.7 41.2 111.2 41.0 111.1 40.2 109.8 39.9 109 38.8 108.9 38.2 109.4 37.2 109.6 36.2 109.2 35.5 108.6 34.8 108.4 34.2 109.2 32.8ZM296.7 33.8 297.2 33.8 298.8 34.8 299.2 35.8 298.8 36.2 297.4 35.2 296.8 34.5ZM254.6 34.2 255.2 33.9 255.7 34.2 256.2 35.8 254.8 36.8 255.4 37.2 255.9 38.2 256 38.8 255.8 39.2 255.2 39.3 254.8 39.1 254.4 38.8 254.2 37.8 254.4 37.2 253.8 36.7 253.5 36.2 253.5 35.8ZM283.9 34.2 284.4 34.2 284.5 34.8 283.8 35.0 283.3 34.8ZM284.8 34.2 285.2 34.1 285.8 34.1 285.9 34.8 285.8 34.9 284.9 34.8ZM245.9 34.8 246.2 34.4 247.2 34.3 247.7 34.8 247.8 35.8 248.2 36.3 248.8 36.2 248.6 36.8 247.8 37.1 246.8 36.9 246.6 37.8 245.8 38.2 244.9 38.2 244.9 37.8 245.8 36.9 246.2 36.8 245.8 36.2 245.7 35.8ZM258.8 34.8 259.4 34.8 259.4 36.8 258.8 37.9 258.2 38.2 257.8 37.8 257.7 37.2 257.9 36.8 256.8 36.2 257.1 35.8 258.5 35.2ZM189.1 37.8 189.8 37.9 190.1 38.2 190.2 38.8 189.8 39.3 189.2 39.5 188.4 39.2 188.8 38.3ZM114.2 40.2 114.8 39.9 115.8 39.9 116.9 40.2 117.1 40.8 116.5 41.8 116.3 43.2 115.2 43.0 114.2 41.2 114 40.8ZM80.6 42.2 81.2 42.6 81.2 42.9 80.8 43.1 80.3 42.8ZM315 42.2 315.8 42.0 316.6 42.2 317 43.2 318.2 43.8 318.8 43.8 319.2 44.1 319.3 44.2 318.8 44.8 318.2 44.7 318.3 45.2 317.8 45.9 315.8 46.5 315.2 47.0 314.8 47.3 314 46.2 313.8 45.2 314 44.8 314 43.2 314.3 42.8ZM101.8 44.3 102.2 44.0 102.8 44.0 102.9 44.8 102.8 45.2 101.8 45.0 101.6 44.8ZM85.6 51.8 86.2 51.6 87 51.8 86.9 52.2 86.2 52.5 85.4 52.2ZM173.2 55.8 173.8 55.6 174.1 55.8 174.5 56.2 174.6 56.8 173.2 57.5 172.6 57.2 172.4 56.8ZM84.7 56.8 85.3 56.8 85.8 57.6 87.4 57.8 87.8 58.0 87.8 58.8 87.2 59.4 86.8 59.5 85.8 58.8 84.9 58.8 84.6 57.2ZM289.7 56.8 290.3 56.8 290.5 57.3 289.9 57.8 289.8 58.2 290.1 58.8 290.2 59.8 291.2 59.8 291.6 60.2 291.6 60.8 291.2 61.6 290.8 62.3 290.2 62.6 289.2 61.0 288.8 61.9 288.2 62.4 286.8 62.2 286.6 62.8 286.8 63.1 287.3 63.3 288.8 62.7 289.8 62.8 290.5 63.8 290.4 64.8 290.2 65.0 289.2 65.3 288.2 65.9 286.8 66.0 286.2 65.5 285.2 65.0 284.5 64.2 284.6 63.8 285.2 63.2 285.4 62.8 285.2 61.9 284.8 61.3 283.8 61.7 283.4 61.2 283.8 60.7 283.2 60.5 282.8 61.0 282.2 61.1 281.8 60.8 282.1 59.2 283.8 57.7 284.2 57.5 284.8 58.1 286.2 57.8 286.8 58.4 288.7 57.8ZM293.1 56.8 293.8 56.6 295.2 57.8 295.1 58.2 294.7 58.8 294.1 59.2 293.2 59.6 292.2 58.9 291.8 58.9 291.3 57.8 291.8 57.3 292.8 57.2ZM298.5 57.8 298.8 57.6 299.1 57.8 299.3 58.2 299.2 58.8 298.5 58.2ZM88.9 59.8 89.2 59.1 89.6 59.2 89.8 59.6 89.2 60.2ZM281.4 61.8 281.8 61.3 282.2 61.9 283.2 62.2 283.4 62.8 283.3 63.2 282.8 63.4ZM103.7 63.2 103.9 63.8 103.2 64.3 103 64.2 103 63.8ZM254.4 65.2 255.8 64.9 256.8 65.4 257.8 65.3 258.2 65.4 258.9 66.2 258.9 66.8 259.8 67.6 259.9 68.2 260.2 68.5 261.2 68.6 261.2 69.2 259.8 69.9 259.2 70.0 259.1 69.8 259.6 68.8 258.2 67.6 255.2 68.1 254.2 68.0 253.5 66.2 253.8 65.8ZM95.7 67.2 96.2 67.0 96.5 67.2 96.2 67.9 95.8 68.2 95.5 67.8ZM287.9 68.2 288.2 68.0 288.8 68.0 289.8 68.6 289.8 69.2 290.2 70.0 290.8 70.1 291.8 69.4 291.8 69.8 292.4 70.2 289.8 72.9 289.2 72.4 288.8 72.3 287.6 71.2 287.6 70.8 288.6 69.8 288.2 69.4 286.9 70.8 286.9 71.2 289.9 74.2 289.9 74.8 290.4 75.2 290.2 77.5 289.4 77.2 289.6 76.2 289.5 75.8 288.5 75.2 287.9 73.8 285.9 71.2 285.9 70.8 286.5 69.8 287.2 69.2ZM252.8 70.6 253.8 69.9 253.9 70.2 253.8 70.8 253.2 71.1 252.6 71.8 253.3 72.8 253.3 74.2 254 75.2 253.8 75.6 253.2 75.4 252.7 74.2 252.2 73.8 252.1 71.2 252.2 70.8ZM284.4 73.8 284.8 73.4 285.2 73.3 285.8 73.8 286 74.2 285.8 74.6 284.8 74.7 284.3 74.2ZM281.1 76.8 281.8 76.3 283.2 77.3 284.8 77.4 285.3 78.2 284.8 79.5 283.8 80.0 283.2 79.9 281.8 78.4 280.2 78.5 280.2 78.1 281 77.8 281.2 77.2ZM287 78.8 288.8 77.1 289.1 77.2 288.3 78.8 287.8 79.0 287.2 79.1ZM257.3 78.8 258.2 78.3 258.8 78.4 259.1 78.8 258.8 79.8 258.4 80.2 258.7 81.8 258.3 82.2 257.5 81.2 257.6 80.2ZM188.2 82.8 188.8 82.8 189.3 83.2 188.8 84.2 188.2 84.4 188 83.2ZM307.7 87.2 308.2 87.1 308.7 87.8 308.2 87.9 307.8 87.8ZM102.7 89.8 102.9 89.8 103.2 90.9 104.2 90.9 105.2 90.3 105.8 90.6 106.4 92.2 106.2 93.2 106.8 93.8 107.8 93.6 108.2 92.8 109.7 93.8 109.8 94.9 109.2 95.8 108.2 96.3 107.9 96.8 107.9 98.8 107.5 99.2 107.3 100.2 106.9 100.8 106.9 101.2 106.8 101.4 106.2 101.2 106.6 100.8 106.6 99.8 106.2 99.4 105.8 99.4 105.2 99.1 104.8 97.3 103.9 96.8 103.9 95.8 103.2 95.5 101.8 94.2 102 92.8 100.9 92.2 101.1 91.2 102.5 90.2ZM320.8 91.8 321.8 91.7 321.8 92.8 322.2 93.0 322.8 93.0 323.8 92.2 324.8 93.1 325.2 93.2 325.8 93.6 327.2 95.1 327.8 95.1 328.2 94.5 329.2 94.5 330.2 94.8 329.9 96.2 329.4 96.8 328.8 96.9 328.3 97.2 328.1 98.2 327.1 99.8 326.8 99.9 326.2 99.8 325.2 98.9 324.2 98.7 322.2 99.0 321.2 98.7 320.8 99.3 318.8 99.4 317.1 97.8 317.5 97.2 317.5 96.2 317.2 95.9 316.7 95.8 316.5 94.8 316.8 94.6 317.2 95.2 317.8 94.8 317.8 94.1 317.3 93.8 317.8 93.5 319.2 93.5 319.8 93.3 320.7 92.2ZM330.2 92.2 330.7 92.2 330.6 93.2 330.2 93.3 329.6 92.8ZM332.8 94.2 333.2 93.5 333.8 93.8 333.8 94.2 334.4 95.2 334.1 95.8 333.8 95.9 333.1 95.8ZM144.2 95.8 144.8 95.5 145.8 96.1 145.8 96.8 145.2 97.7 144.7 97.8 144.2 97.2ZM327.9 100.2 328.2 99.9 329.2 100.0 330.3 100.8 330.2 101.5 328.3 101.2ZM216.9 108.8 217.8 108.0 218.7 108.2 218.2 108.3 217.2 109.3 216.9 109.2ZM298.2 110.8 298.2 110.0 298.8 109.9 299 110.2 298.9 110.8 298.8 110.9ZM209.6 111.2 210.2 111.2 210.3 111.8 209.8 114.0 209.2 113.7 208.8 111.8ZM344.2 111.2 344.8 110.8 345.2 111.0 345.3 111.2 344.8 111.9ZM346.7 111.8 347.3 112.2 347.5 112.8 347.2 113.3 346.2 113.2ZM201.3 112.2 202.2 112.2 203.2 112.5 203.8 112.5 205.1 113.2 205.2 114.0 206.2 114.8 206.2 115.3 205.6 115.8 205.6 116.2 206.3 116.8 206.6 117.8 206.5 118.8 206.8 119.3 208.2 118.8 207.1 117.8 208.2 116.8 208.8 116.8 209.1 117.8 208.8 119.2 208.9 120.2 208.8 121.3 208.2 121.4 207.8 121.0 207.2 121.0 206.9 121.8 206.4 122.2 205.2 122.7 204.8 122.8 204.3 122.2 203.9 120.8 203.2 119.9 202.7 120.8 202.2 120.9 201.8 120.8 201.2 120.2 200.9 119.8 201.3 119.2 200.8 119.0 200.7 118.2 199.6 117.2 199.2 115.8 199.3 115.3 200.2 114.7 200.6 114.8 200.8 115.3 201.2 115.4 201.5 115.2 200.8 114.7 200.6 114.2ZM201.2 117.7 200.8 118.2 201.2 118.5 201.8 117.8 201.8 117.6ZM212.5 114.8 213.2 114.0 213.8 114.8 213.8 116.8 213.2 117.8 212.7 116.8 212.7 115.8 212.4 115.3ZM208.3 115.2 208.8 115.1 208.9 115.2 208.8 116.2 208.2 115.9ZM211.2 115.2 211.5 115.2 211.5 116.2 211.8 116.8 211.2 116.9 210.7 116.2ZM297.5 119.2 297.8 119.1 298.2 119.1 298.8 119.3 300.4 121.2 300.7 122.2 301.2 122.8 301.4 123.2 301.2 123.8 300.2 123.9 299.9 124.2 299.8 125.3 299.2 125.4 298.2 126.3 297.8 126.4 296.8 126.2 296.7 125.8 296.1 125.2 296.6 124.2 296.6 123.2 297.7 122.2 297.7 121.8 297.4 120.7ZM124.2 122.8 124.9 122.8 124.8 123.3 124.2 123.3ZM329.7 126.2 330.8 126.4 331 126.8 330.9 127.8 330.2 128.3 329.9 128.2 329 127.2 329 126.8ZM328.3 128.2 328.8 127.9 329.5 128.8 327.4 128.8 327.8 128.3ZM103.9 136.2 104.8 135.8 105.2 135.8 105.6 136.2 105.7 137.2 105.2 137.8 104.2 137.9 103.7 137.2 103.6 136.8Z" fill="#f4f2b0" fill-rule="evenodd"/>
<path d="M268.2 14.8 268.8 14.3 269.8 14.4 271.2 15.0 272.5 16.2 272.1 16.8 271.2 16.7 270.2 15.5 269.7 16.2 268.8 16.7 268.2 16.7 267.6 16.2 267.4 15.8ZM296.9 15.8 297.2 15.6 297.8 16.0 298.8 16.2 302.2 16.0 302.8 15.7 303.2 15.8 303.2 16.3 303.6 16.8 303.4 17.2 302.8 17.8 301.8 17.9 300.8 18.8 300.2 18.7 299 17.8 298.8 17.1 298.3 18.2 298.3 19.2 297.5 20.2 295.8 21.0 294.8 20.5 293.8 21.7 293.3 21.2 293.9 19.8 293.9 19.2 294.8 18.2 295.2 17.1 295.8 16.7 296.2 16.6ZM305.8 15.8 306.8 15.6 307.2 16.2 308.8 16.1 309.7 17.2 309.8 18.1 310.2 18.4 311.8 18.2 312.8 17.7 313.4 17.8 312.5 19.2 313.6 20.2 311.2 21.8 310.8 21.3 309.8 19.8 309.2 19.4 308.7 18.8 308.2 18.4 307.2 18.5 306.6 17.8 306.2 17.2 306.1 16.2ZM265.2 16.8 265.8 16.5 266.1 16.8 265.7 17.2 265.4 18.2 265.2 18.3 264.9 17.8ZM277.2 16.8 277.8 16.6 278 16.8 278.3 17.2 278.1 17.8 277.8 17.9 277.5 17.8ZM318.1 17.8 318.8 17.8 318.8 18.2 319.2 18.9 320.2 19.3 319.2 19.9 317.8 21.3 317.2 21.3 315.2 20.2 315.4 19.8 317.2 18.6ZM20.6 18.8 21.2 18.1 22.1 18.2 21.8 18.7 21.2 19.0ZM290.4 18.2 290.8 17.9 291.1 18.2 290.8 18.9ZM243.4 19.8 244.2 19.6 244.8 20.0 245.2 20.0 245.8 20.6 246.2 20.6 246.8 20.1 246.8 21.1 243.2 21.8 242.8 21.7 242.3 20.8 242.6 20.2ZM331.4 19.8 331.8 19.4 332.2 19.4 332.6 19.8 332.8 20.8 332.3 21.7 331.8 21.7ZM335.2 20.1 336.8 19.6 337.8 19.6 338.5 20.2 338.4 21.2 336.8 22.5 336.2 22.5 335 21.2 334.9 20.8ZM346.9 20.2 347.8 20.1 348.2 20.3 348.8 20.4 349.2 20.1 348.9 21.8 348.2 22.5 347.5 22.2 347.4 21.8 346.5 21.2 346.3 20.8ZM248.5 21.8 249.8 21.0 250.2 21.0 251.2 21.6 251.8 22.2 251.9 22.8 251.5 23.2 250.2 24.0 249.2 23.9 248.8 23.6 248.2 22.8 248.2 22.2ZM249.8 22.0 249.5 22.2 249.5 22.8 249.8 23.0 250.2 23.0 250.5 22.8 250.4 22.2ZM339.7 22.2 340.2 22.0 341 22.8 340.9 23.8 340.2 24.4 339.8 24.5 339.1 23.2ZM344.2 22.6 345.2 21.9 345.8 22.3 347.1 22.8 347.2 23.8 347.6 24.8 347.2 25.6 346.3 26.2 346 27.2 345.8 27.4 345.6 27.2 345.6 26.8 345.8 26.5 346.2 26.2 345.8 25.9 345.1 24.2 344.2 23.8 343.1 22.8 343.2 22.5 343.8 22.7ZM293.5 22.8 293.8 22.3 294.2 22.8 294 23.2 293.7 23.2ZM214.9 23.2 215.2 22.9 215.8 23.1 216.2 23.8 215.8 24.2 215.2 23.8ZM21.4 25.8 21.8 25.6 22.6 25.8 22.2 26.3 21.8 26.3 21.5 26.2ZM303.1 25.8 303.7 25.8 303.8 26.2 303.2 26.8 302.8 28.0 302.1 27.2 302.1 26.8 302.2 26.3ZM308.2 26.2 309.2 25.4 309.5 25.8 309.2 26.4 308.8 26.6 308.2 26.4ZM313.3 25.8 313.8 25.6 314.2 25.8 314.1 26.2 313.8 26.4 313.1 26.2ZM317.7 25.8 318.2 25.6 318.5 25.8 319 26.2 319.1 26.8 318.2 27.0 317.8 26.8 317.3 26.2ZM338.4 26.2 338.8 25.8 339.2 25.8 340.3 27.2 340.5 28.8 341.2 29.3 342.9 31.8 342.4 34.8 342 35.8 341.7 36.2 340.8 36.8 340.2 36.6 339.4 35.8 339 35.2 339 34.2 338.2 33.2 337.8 32.2 336.9 31.8 337.2 31.2 338.2 31.1 339.1 30.2 339.1 29.8 338.8 29.4 337.2 29.4 335.2 31.2 334.8 31.0 334.3 30.2 334.3 29.8 334.8 29.3 335.8 29.3 335.9 28.8 337.5 27.8 337.6 26.8ZM352.7 26.8 353.2 26.5 354.2 26.6 354.9 27.2 354.8 27.8 354.2 28.1 353.8 28.0 353.2 27.6ZM15.3 30.2 15.9 30.2 16 30.8 15.2 30.8ZM192.8 36.1 193.2 35.4 193.7 36.8 193.2 37.1 192.2 36.8 192.2 36.2ZM212.7 35.8 213.2 36.5 213.8 36.5 214.2 36.4 215.2 35.7 216.8 36.0 217.7 36.8 218.2 37.8 219.2 37.4 223.2 38.0 224.2 37.6 225.8 37.5 227.8 37.1 228.3 37.2 229.2 38.0 230.8 37.7 232.2 38.2 233.8 37.9 235.8 38.5 236.8 38.5 237.8 39.2 238.2 39.0 239.2 39.1 240.2 40.1 241.4 40.8 241.8 41.4 243.8 43.1 244.2 43.2 244.7 42.9 245 42.8 244.8 42.2 245.2 41.9 246.8 42.0 247.2 42.3 247.7 43.2 248.3 43.8 248.6 44.2 248.3 45.2 248.8 45.6 249.3 45.8 249.5 46.8 249.2 47.3 248.8 47.6 248.2 47.4 247.8 46.4 247.1 46.2 246.2 45.3 244.8 45.3 243.2 44.2 241.8 44.8 242.8 45.0 243.2 45.8 242.8 46.3 241.8 46.2 241.2 46.8 241.5 48.2 241.4 48.8 241.2 48.9 240.2 49.0 240 49.2 239.8 49.8 240.2 50.2 240.3 50.8 239.8 51.3 239.6 50.8 239.7 48.8 240.2 48.4 240.7 47.2 240.2 47.1 238.8 46.9 237.8 47.1 236.2 49.3 234.8 50.3 234.6 51.2 234.7 51.8 235.3 52.8 235.1 53.2 234.8 53.5 233.8 52.9 233.2 53.0 232.6 53.8 231.7 54.2 233.1 55.2 233.2 55.8 233.1 56.8 232.4 57.8 232.2 59.8 232.4 60.2 232.8 60.6 233.2 60.6 233.8 60.3 234.8 58.8 235.2 58.9 236.4 60.2 236.5 60.8 236.3 61.2 235 63.2 235 63.8 235.4 64.8 235.2 65.2 233.6 66.8 233.2 67.8 231.2 68.3 230.6 68.2 230 67.8 230.1 66.8 228.8 66.3 228.5 67.2 229.2 68.2 228.8 68.6 227.9 68.2 227.9 67.2 227.2 67.0 224.8 69.2 223.7 69.6 223.3 70.8 223.8 71.7 224.2 71.7 224.5 71.2 224.8 71.1 225.2 71.2 226.9 73.2 226.6 74.2 226.7 75.2 225.8 76.2 224.8 76.6 224.2 76.5 224 76.2 224.1 75.8 224.5 75.2 224.5 74.8 225.2 73.8 224.8 72.2 224.2 71.8 223.2 71.8 221.8 71.4 221.2 71.4 221 71.8 221 72.2 220.8 72.3 220.7 71.8 219.5 70.8 219.6 70.2 219.2 69.9 218.8 69.5 218.5 69.8 218.4 70.2 218.9 70.8 218.9 71.2 220 72.2 220 72.8 220.4 73.2 220.2 73.9 219.3 75.2 219.3 75.8 219.3 76.2 220.2 77.7 220.8 77.9 221.2 77.9 221.8 78.2 222.7 79.2 223.2 79.4 223.6 79.2 223.8 78.3 224.8 77.8 225.2 78.0 225.8 78.7 226.2 78.2 227.1 78.2 227.1 78.8 226.7 79.8 225.2 80.4 225 80.2 225.1 79.8 224.1 79.8 224.2 80.4 224.7 80.8 224.4 81.2 224.4 81.8 224.9 82.2 225.1 83.2 225.4 83.8 225.4 84.2 224.8 85.8 224.2 86.8 224.3 87.2 224 87.8 223.8 88.9 223.2 89.1 222.8 89.8 222.6 91.8 222.4 92.2 221.2 93.3 220.2 93.2 219.8 92.8 219.6 92.2 219.2 92.0 218.8 91.9 217.2 92.8 216.8 93.2 217.1 96.3 216.6 98.2 215.8 98.7 214.2 98.5 213.7 98.8 213.9 101.2 214.2 101.9 214.8 102.2 214.8 103.3 214 103.2 213.2 102.7 213 102.8 212.9 103.2 213 103.8 214 104.8 214.1 105.2 213.8 105.8 212.8 106.4 211.8 106.4 211.2 106.4 209.8 105.7 209.2 106.0 208.8 106.0 208.2 106.3 207.8 107.1 207.2 106.7 207.1 106.2 207.1 105.8 207.7 105.2 207.4 104.8 206.7 104.8 206.2 105.3 205.8 105.0 205.3 104.2 205.2 103.2 204.8 102.6 204.2 102.5 203.6 102.8 203.8 103.5 204.6 104.2 204.5 104.8 203.2 105.0 202.8 104.7 202.2 103.8 202 103.2 202.5 102.2 202.4 101.8 201.2 100.3 200.7 101.2 199.8 101.5 199.4 101.2 199.2 100.2 198.8 99.8 198.2 99.8 197.7 100.1 197.2 100.1 196.9 99.8 197 99.2 198.1 98.2 198.8 96.7 201.2 97.5 201.8 97.6 202.8 97.3 203.5 96.8 203.8 95.5 205.2 94.8 205.8 94.1 206.8 94.1 207 93.8 206.8 92.8 207.2 92.4 207.7 91.2 208.2 91.4 209 90.8 209 90.2 208.7 89.8 208.7 88.8 207.8 88.4 207.2 88.5 206.8 89.0 205.8 88.9 205.3 89.2 204.7 91.8 205.1 92.8 204.8 93.4 203.5 92.8 202.2 91.2 201.8 90.2 201.9 88.8 201.8 88.5 200.8 87.9 199.8 87.8 199.2 88.2 199.4 90.2 200.8 90.3 201.3 90.8 200.2 91.8 199.7 93.3 199.2 93.9 198.8 94.1 198.1 93.8 198.8 92.8 199 92.2 198.8 92.0 197.8 91.7 195.8 90.5 195.2 90.5 194.2 90.9 193.8 90.9 192.8 90.3 193.8 88.8 194.2 87.2 194.6 86.8 195.7 86.2 196 85.8 195.8 85.2 195.2 84.8 194.5 84.8 194.2 84.1 192.6 83.8 191.9 82.8 191.9 82.2 192.2 81.9 193.2 82.0 193.9 81.8 194.4 79.8 194.8 79.2 195.8 79.2 196.7 79.9 197.2 80.0 197.6 79.8 197.9 79.2 197.8 78.7 198.7 77.8 199.2 76.8 199.8 76.6 200.8 76.8 201.4 76.2 202.2 75.9 203.2 76.0 204.2 75.9 204.6 75.8 205.2 74.9 205.8 75.3 206.8 74.6 207.8 74.3 208.2 74.5 209.3 75.2 210.8 75.6 211.8 76.1 212.8 77.0 213.2 76.9 214.1 75.8 215.8 74.4 216 73.8 215.8 73.3 215.2 73.1 214.8 73.8 213.8 73.7 212.8 73.9 211.2 73.0 211.2 71.7 210.8 71.0 210.1 70.8 209.2 70.6 208.2 70.7 206.8 70.3 205.2 71.0 203.8 71.1 202.2 69.9 200.8 69.6 200 69.8 200 70.2 200.6 71.2 201.2 71.6 201.2 71.9 200.8 72.4 200.2 72.4 199.2 72.8 199.2 72.2 198.1 71.2 197.2 70.9 196.2 70.9 196 70.8 196.6 70.2 196.2 69.9 194.8 70.1 194.2 69.7 193.9 70.2 193.7 71.2 193.8 71.8 194.4 73.2 194.2 74.4 193.2 74.4 192.8 74.2 192.2 73.7 192 74.2 192.4 74.8 192.2 74.9 191.2 74.9 190.4 75.2 190.2 76.4 190.1 76.2 190.1 75.2 189.4 74.8 189.2 74.3 188.8 74.5 187.2 75.3 186.8 75.9 186.5 76.2 186.7 76.8 186.6 77.2 186.2 77.4 185.2 77.2 184.8 78.1 184.2 78.2 183.8 78.8 184 80.2 183.8 80.4 183.2 80.1 183.1 80.8 182.8 81.0 181.2 81.4 179.8 82.4 179.2 82.4 178.3 81.7 177.2 82.5 176.7 82.2 177 80.8 177.5 79.8 177.2 78.7 175.8 79.3 175.2 79.2 174.2 78.0 173.8 77.7 172.9 78.2 172.8 79.0 171.8 78.8 171.9 78.2 171.6 77.8 170.8 77.7 169.8 77.9 168.2 76.8 168.8 76.2 169 75.2 167.2 74.1 166.1 73.8 165.8 73.2 166.1 71.8 165.8 71.0 164.8 71.1 162.8 70.8 162.7 70.2 162.8 69.8 163.7 69.2 164.8 68.1 165.2 67.8 166.2 68.1 166.8 68.0 167.6 67.2 167.9 65.8 167.2 64.8 167.3 64.2 167.8 63.8 168.8 63.3 169.2 62.8 169.5 61.2 170.9 59.2 171.8 59.1 172.8 59.6 174.2 59.8 175.8 59.6 176.5 59.8 177.2 60.3 178.2 61.7 178.8 61.8 180.8 61.6 182.3 61.2 182.8 60.7 183.2 60.4 184.8 60.2 185.2 58.8 186.2 57.5 186.7 56.3 187.3 56.8 187.7 58.2 187.6 58.8 188.2 58.5 189.2 59.2 190.2 59.4 191.2 60.4 191.7 61.2 193.3 62.2 193.7 62.8 193.8 63.1 194.2 63.3 194.8 62.5 196.8 61.5 197.8 60.6 199.2 59.7 201.1 60.2 201.8 60.7 202.8 60.2 204.8 60.1 205.8 60.3 206.8 59.9 207.2 59.9 208.2 59.1 209.2 59.4 209.8 59.4 210 59.2 210.1 58.8 210.8 58.6 210.9 59.2 210.8 59.6 210.2 59.5 210.1 59.8 210.6 60.2 210.6 61.8 210.2 62.5 209.2 62.8 209.2 63.8 209.8 63.8 210.2 63.5 212.1 63.2 212.2 62.8 211.9 61.8 213.2 61.2 213.1 60.2 213.2 60.1 214.8 61.1 215.8 63.2 216.2 63.7 217.2 64.3 217.8 64.3 218.3 62.7 217.2 62.1 216.6 60.8 217.8 60.7 218.3 60.2 218.8 59.5 219.8 60.1 222.3 59.4 222.6 58.8 222.2 57.8 223.1 56.8 222.9 55.2 223.2 54.8 224.2 54.6 224.4 54.3 224.2 53.3 223.8 52.8 223.2 53.2 221.2 52.4 220.8 52.6 220.2 53.8 218.8 55.2 218.2 55.5 217.8 55.4 216.8 54.8 215.2 55.1 214.7 53.8 214.9 53.2 214.7 52.8 214.2 52.4 212.1 52.8 210.8 53.7 210.3 53.7 208.8 52.9 206.2 53.1 205.8 52.5 204.8 53.3 204.4 52.8 204.3 51.2 203.7 50.2 203.7 49.8 205.8 47.7 207.2 47.5 207.7 47.8 208.2 47.8 208.8 47.4 209.8 48.0 210.2 47.6 212.2 47.5 212.8 47.0 213.8 47.0 214 46.8 213.2 46.1 212.8 46.1 211.8 45.1 210.8 45.1 209.4 46.2 209.2 46.9 208.8 47.1 207.2 45.4 206.8 45.2 205.8 45.4 204.1 44.8 203.7 44.2 203.7 43.2 203.2 42.9 201.8 43.5 200.5 43.2 200 42.8 199.5 42.8 199.2 43.8 199.1 42.8 198.2 41.7 197.5 41.8 196.8 42.5 195.8 42.1 195.2 42.5 194.8 43.3 193.8 43.2 193 44.2 192.8 45.3 191.8 45.1 190.2 45.8 189.8 45.9 189.2 45.8 188.8 45.2 188.6 42.8 190.2 42.0 190.8 42.1 191.2 41.9 192.2 40.0 193.2 40.7 193.8 40.3 194.2 39.2 194.8 38.7 195.7 38.2 195.2 38.1 195.1 37.8 195.2 37.2 195.8 37.3 197.2 37.1 197.8 36.4 198.2 36.1 199.1 36.8 200.2 37.1 201.8 38.3 202.8 38.7 203.2 38.5 203.8 37.7 204.8 37.5 205.8 37.5 207.2 38.2 207.8 38.0 208.2 37.2 208.4 36.2 208.8 36.0 209.8 36.3 210.8 36.0 211.8 36.1ZM213.2 39.1 212.2 39.7 211.7 39.8 212.2 39.9 212.6 40.8 212.2 41.1 209.8 39.7 206.8 40.4 206.4 40.8 206.7 41.8 206.6 42.8 207.1 43.8 208.2 44.4 209.8 44.6 210.2 44.1 210.8 43.9 210.9 44.2 211.8 44.7 212.8 45.8 213.2 45.6 214.1 44.8 214.8 43.7 216.2 44.2 217.2 43.9 217.8 43.4 218.8 44.1 219.2 44.2 219.8 44.0 220.5 43.2 221.8 42.5 224.7 42.8 226.6 42.2 226.9 41.8 226.5 41.2 225.6 40.8 225.2 40.2 224.8 40.0 223.8 40.5 221.8 40.3 221.3 40.7 221.1 41.8 220.8 42.0 220.2 41.0 218.8 40.4 217.8 39.8 217.1 39.8 216.2 39.5 214.8 39.8 215 40.2 214.9 40.8 214.2 40.9 214 40.8 214 40.2 214.2 39.9 214.6 39.8 214 39.2ZM231.2 40.0 229.8 41.2 229.9 42.2 229.1 43.2 229.1 43.8 229.8 44.2 230.8 44.0 231.2 44.0 231.8 44.3 232.8 45.2 233.2 45.5 235.8 44.8 237.2 44.2 238.2 44.6 238.8 44.4 239.4 43.8 240 42.8 239.8 42.2 238.8 42.2 236.7 41.8 236.4 41.2 236.3 40.2 235.8 40.0 234.8 39.8ZM219.9 80.2 219.1 80.2 218.8 81.2 219.1 82.8 218.5 83.8 218.2 85.2 218.3 86.2 218.1 87.2 218.4 87.8 220.8 88.5 221.2 88.2 221.4 87.8 221.8 85.2 222.2 84.2 222.3 83.8 221.5 82.2 220.8 81.4 220.6 80.8ZM201.8 99.3 201.6 99.8 201.8 100.1 202.2 100.1 203.2 100.6 203.5 100.2 203.1 99.8 202.2 99.7ZM195.8 82.3 195.6 82.8 195.9 83.2 196.2 83.6 196.8 83.5 197.2 82.8 196.8 82.3ZM206.8 77.1 205.2 77.5 203.8 77.5 203.2 77.8 202.7 79.2 202.7 80.3 203 80.8 203.8 81.0 204.1 81.8 204.8 82.2 206.2 82.7 207.8 82.2 209.2 82.4 210.8 81.5 210.9 80.8 210.7 79.8 210.8 78.8 210.2 78.5 209.2 78.7 208.8 78.6 208.6 77.8 208.2 77.3ZM213.2 85.8 212.3 86.8 211.8 86.9 211.2 87.4 210.2 87.6 208.8 88.8 209.8 89.8 209.5 90.8 209.8 91.2 210.8 92.1 211.2 92.2 210.2 92.8 209.9 93.2 210 93.8 210.2 94.0 210.8 94.1 211.8 93.8 212.3 93.2 211.6 92.8 211.3 92.3 211.7 91.8 212.4 90.2 213.6 89.8 214.2 89.1 214.8 89.0 215.8 89.4 216.5 88.8 216.5 88.2 216.2 87.8 215.2 87.6 214.8 87.9 214.2 87.8 214.6 87.2 214.5 86.2 214.2 86.0ZM171.2 62.1 171.2 62.5 171.8 62.9 172.2 63.1 172.6 62.8 172.5 62.2 171.8 62.0ZM173.2 63.7 172.8 63.8 172.7 64.8 172.2 65.2 172.1 65.8 172.2 66.2 172.8 65.7 172.8 64.8 173.3 64.2ZM178.8 76.1 178.2 76.4 177.6 77.8 177.8 77.8 178.2 77.7 178.8 77.2 179.1 76.2ZM180.2 73.1 180.2 73.5 180.8 73.8 181 73.2 180.8 73.0ZM184.2 68.7 183.8 69.2 183.8 69.8 184.4 69.8 184.6 69.2 184.5 68.8ZM186.2 59.6 185.8 59.8 186.9 61.2 186.6 62.2 186.8 62.4 187.3 62.3 187.9 61.8 187.8 61.2 187.3 60.8 186.8 59.8ZM188.2 72.3 188 72.8 188.2 73.2 188.8 74.1 189.2 74.2 189.5 73.8 189.3 72.8 188.8 72.3ZM202.8 67.3 202.3 67.8 202.4 68.2 202.8 68.3 203.3 67.8ZM216.8 65.9 216.4 66.2 217 66.8 217 67.2 217.2 67.5 217.5 67.2 217.5 66.8ZM207.8 49.5 206.9 51.2 207.2 51.7 210.8 51.4 211.7 50.2 211.7 49.8 211.2 49.5 209.8 50.0ZM222.2 45.1 221.8 45.3 221.2 46.1 220.8 46.3 218.8 46.6 218.2 46.3 217.8 46.4 217.2 46.0 215.8 46.0 215.2 46.5 214.8 46.5 214.5 46.8 214.8 47.0 216.2 47.1 217.2 48.2 218.1 48.2 218.5 49.2 219.3 49.9 220.8 50.1 221.8 49.3 222.2 50.2 223.1 50.8 223.4 51.2 223.3 51.8 223.8 52.5 223.9 52.2 224.2 52.1 225.8 52.6 226.8 52.1 227.8 52.1 230.7 50.2 230.2 48.8 228.9 47.8 228.6 46.2 228.2 45.8 226.2 45.6 225.8 45.7 224.8 46.4 223.8 45.5ZM231.2 47.0 230.8 47.5 230.6 48.2 231.3 49.2 231.5 49.8 232.8 49.7 233.7 48.8 233.8 48.2 232.8 47.3ZM209.8 98.2 209 98.8 208.6 99.2 208.6 99.8 209.2 100.2 209.8 100.2 211 98.8 210.6 98.2ZM171.8 66.8 171.4 67.8 171.8 68.5 172.2 68.9 173.2 68.9 173.4 68.8 173.1 67.8 172.2 66.9ZM268.6 37.2 269.2 37.2 271.8 38.6 272.5 38.2 272.8 37.9 273.8 38.4 275.2 37.7 276.8 37.7 278.2 38.2 278.8 38.0 279.2 37.1 279.8 37.0 280.7 38.8 279.2 39.9 278.8 39.8 278.2 39.9 278 40.2 278.8 40.6 279.8 40.3 280.9 40.2 281.2 40.1 281.8 39.4 282.2 39.3 283.8 39.4 284.7 38.8 285.8 38.7 286.8 38.1 287.2 38.0 288.2 38.1 288.8 37.8 289.2 37.9 290.7 39.2 292.7 40.2 293.2 41.3 293.8 41.5 295.2 41.1 296.2 41.7 297.2 41.9 297.7 42.2 297.4 42.8 297.5 43.2 298.4 44.8 297.8 46.2 297.7 47.2 296.8 48.2 295.1 48.8 294.8 49.4 293.2 49.5 292.2 49.2 291.2 49.5 290.8 49.8 290.2 49.5 289.8 48.6 289.2 48.5 288.2 48.6 288.1 48.8 288.7 50.2 288.2 50.6 287.2 49.8 286.8 49.8 285.8 50.3 284.8 50.2 284.4 49.8 284.9 48.8 284.8 47.8 284.2 47.7 282.8 48.1 279.8 49.5 278.2 49.1 277.1 49.2 276.8 49.4 276.3 50.2 275.2 50.8 274.1 49.8 273.8 48.2 272.2 48.4 271.2 47.5 270.2 47.6 269.9 47.8 269.9 48.2 270.4 49.2 270.3 49.8 267.8 49.3 267.7 48.8 268.8 48.2 268.3 46.8 267.7 46.2 267.2 45.2 268.3 41.8 268.4 39.2 267.9 38.2 268 37.8ZM280.2 43.4 279.8 43.8 280.2 44.6 280.7 44.2 280.6 43.8ZM289.8 41.5 288.7 42.2 288.2 43.8 288.9 44.8 289.1 46.2 289.6 46.8 290.2 46.9 292.2 46.0 293 45.2 293.4 44.2 293.1 43.8 292.2 42.8 291.7 41.8 291.2 41.5ZM323.6 37.8 323.8 37.5 324.2 37.4 324.2 38.6ZM293.5 38.2 293.8 38.0 294.2 38.2 294.4 38.8 294.2 39.0 293.8 39.1 293.4 38.8ZM336.1 40.2 337.2 38.4 337.8 38.7 337.8 39.2 336.8 40.4ZM322.5 40.8 322.8 40.6 323.2 40.6 324.2 42.1 324.3 42.2 323.8 42.9 322.8 42.8 322.2 42.5 322.1 42.2ZM180.8 41.6 182.2 40.9 183.2 41.0 184.8 41.8 185.3 42.2 185.1 42.8 184.7 43.1 183.8 43.6 183.2 44.3 184.1 45.2 183.6 45.8 182.3 46.2 181.8 46.9 180.3 47.8 180 48.8 180.8 49.2 180.9 49.8 180 50.8 179.5 51.8 179.2 52.0 178.2 52.0 177.2 52.6 175.2 52.5 173.5 51.8 173.2 50.9 172.7 51.2 172.2 52.3 171.4 50.2 170.2 49.7 170 47.2 171.2 46.5 171.8 45.7 172.8 45.7 173.2 45.2 174.8 45.1 175.2 45.6 177.2 45.5 177.4 45.2 177.5 44.2 177.1 43.8 177.1 43.2 177.9 42.8 177.2 42.0 176.2 41.7 177.8 41.7 178.2 42.0 178.8 42.1 179.8 41.6ZM257.7 42.2 258.1 42.2 258.3 42.8 257.8 43.4 257.5 43.2ZM110.2 43.2 110.8 43.2 112.3 45.2 112.3 45.8 111.8 46.5 111.3 46.8 110.2 47.0 109.6 45.8 110.1 44.8ZM63.2 43.8 63.8 43.6 64.2 44.4 65.8 44.7 66.5 45.2 67.8 45.6 68.2 45.5 68.8 44.6 69.2 44.4 71.2 45.2 71.8 45.0 73.2 45.2 73.9 45.8 73.6 46.2 74.8 46.6 75.2 47.4 76.2 47.0 77.8 47.0 79.2 46.6 79.8 47.2 80.8 47.9 81.2 47.9 81.8 47.6 82.2 48.0 82.4 48.2 82.1 49.2 81.8 49.7 81.2 49.3 80.8 49.5 80 50.2 79.8 50.8 80 51.8 79.8 52.2 79.2 52.3 78.8 52.1 78.2 52.9 77.2 52.8 76.8 52.9 76.3 53.8 76.8 58.8 76.4 61.2 76.8 62.6 78.2 63.7 78.8 63.9 80.3 65.2 81.2 66.2 81.8 66.9 82.2 67.0 82.8 66.8 82.9 67.2 82.4 68.8 81.7 69.2 81.4 69.8 81.5 71.8 80.9 72.8 80.2 72.8 79.2 72.1 77.8 71.5 76.9 72.2 76.2 72.3 74.8 70.8 74.2 70.8 73.6 68.2 72.5 66.8 72.5 65.8 71.9 63.8 72 62.8 71.7 61.8 71.7 61.2 70.2 59.1 69.2 57.1 68.8 57.2 68.2 58.0 67.2 58.3 66.6 60.2 66 60.8 64.8 61.3 63.1 59.8 62.8 59.2 63.8 59.0 64.8 59.8 65.8 58.7 66.1 57.8 64.2 57.4 63.8 57.5 63.2 57.8 61.8 57.7 61.6 57.2 61.2 56.9 60.8 56.8 60.2 56.3 59.2 56.3 58.2 55.2 58.2 54.9 60.2 54.0 61.2 54.0 61.8 53.8 61.9 53.2 60.8 52.5 60.2 51.8 60.1 51.2 60.2 50.2 59.7 49.8 59.8 49.2 60.1 48.8 59.8 48.4 59.6 47.8 59.8 46.8 59.8 46.2 59.8 45.8ZM63.8 46.0 63.5 46.2 63.6 46.8 64.2 47.2 64 47.8 63.6 48.2 63.2 49.8 63.3 50.2 63.8 50.5 64.8 50.8 65.2 50.2 65.5 48.2 64.3 47.2 64.4 46.8 64.3 46.2ZM73.8 53.5 72.2 53.8 71.6 54.8 72.2 55.8 71.9 56.8 72 57.2 72.6 59.2 73.2 59.8 73.8 59.7 74.2 59.4 74.4 58.3 75.1 57.2 75 56.8 74.2 55.2 74 53.8ZM61.8 54.5 61.6 55.2 62.2 56.0 62.8 56.1 63 55.2 62.9 54.7 62.2 54.3ZM89 44.8 89.2 44.4 89.8 44.7 89.8 45.4 89.2 45.6 89 45.2ZM327.8 45.2 328.8 44.9 329.1 45.2 328.8 45.8 328.2 45.8 327.8 45.8ZM83.8 47.7 84.8 46.6 85.9 47.2 86 47.8 85 48.2 84.8 48.8 83.8 48.9 83.5 48.8ZM259.9 48.8 260.8 48.5 261.7 48.7 261.3 49.2 261.3 50.2 260 51.2 260.4 51.8 263 51.8 263.2 51.8 263.7 52.2 263.8 52.9 262.8 53.6 261.8 54.7 260.8 54.6 259.4 53.2 259.3 52.8 259.5 52.2 259.4 51.8 258.6 51.2 258.2 50.4 257.8 50.3 256.2 51.1 255.8 50.8 255.8 50.3 256.2 49.8 256.8 49.6 257.5 49.8 257.8 50.1 259.2 50.1 259.7 49.8 259.1 49.2ZM253.7 49.8 254.2 49.4 254.7 49.8 254.9 50.2 254.8 50.5 254.2 50.6 253.8 50.2ZM249.7 50.2 250.2 50.1 250.4 50.8 248.8 51.7 248.4 53.2 247.8 53.8 247.1 53.2 247 52.8 247.2 51.6 247.8 51.1 248.8 50.9ZM266.1 50.8 266.5 50.8 266.2 51.5 265.6 51.2ZM290.3 51.2 290.8 51.0 291.2 51.8 290.8 52.2 290.2 51.8ZM243.5 51.8 243.8 51.4 244.1 51.8 244 52.2 243.8 52.8 243.2 52.8ZM255.7 53.8 256.3 53.8 256.4 54.2 256.2 54.7 254.7 54.2 255.2 54.2ZM104.7 54.8 105.2 54.5 105.8 54.8 104.8 55.8 104.2 55.8 103.8 56.4 103.2 56.2 103.8 55.5 104.2 55.6ZM252.1 55.2 253.2 54.5 253.7 54.8 253.7 55.8 253.4 56.2 252.8 56.6 252.2 56.3 252.1 55.8ZM181.4 56.2 182.2 55.5 182.8 55.9 182.9 56.8 182.1 57.8 181.8 57.9 181.1 57.2 181.2 56.8ZM220.2 56.4 221.2 56.2 221.4 56.8 220.9 57.2 220.2 57.3 220 56.8ZM96.6 57.2 97.2 56.9 97.8 57.4 99.4 57.8 99.8 58.2 98.8 58.8 98.2 58.7 96.9 57.8ZM274.7 57.8 275.2 57.8 275.5 58.2 275.2 58.7 274.5 58.2ZM242.8 60.3 242.8 59.6 243.9 59.8ZM278.5 63.2 278.8 63.2 279 64.2 278.5 64.2 278.2 64.0 278.2 63.5ZM242.8 64.2 243.8 63.9 244.1 64.2 244 64.8 243.8 65.1 243.2 65.0 242.8 64.8ZM235.8 65.6 237.2 65.0 237.6 65.2 237.5 65.8 236.8 66.0 235.8 65.9ZM275.9 65.2 276.2 65.1 276.6 65.2 276.2 66.1 275.8 66.1 275.4 65.8ZM274.9 67.2 275.2 66.8 275.5 67.2 275.2 68.3 275 68.2ZM233.7 67.8 234.2 67.3 234.8 67.3 235.7 68.2 235.1 68.8 234.2 68.8ZM110.2 69.8 110.8 70.1 111.8 70.2 112.2 70.7 112.7 70.7 113.5 71.8 113.7 72.2 113.6 72.8 113.2 73.2 112.8 73.3 111.8 72.4 111.2 72.9 110.3 72.8 110.5 71.8 109.8 71.3 109.3 70.2ZM235.7 69.8 236.2 69.3 236.8 69.4 237.4 70.8 237.2 71.1 235.8 70.3ZM90.3 72.2 90.8 71.6 91.2 71.8 91.4 72.2 91.2 72.8 90.8 73.0 90.5 72.8ZM93.8 76.2 95.8 75.5 96.2 75.5 96.4 75.8 96.2 76.8 97 77.8 97.1 79.2 98 80.2 98.1 80.8 97.8 81.3 96.7 81.2 96.4 80.8 96.5 80.2 96.2 79.8 95.8 79.4 95.4 78.8 95.2 78.6 94.2 78.9 93.8 78.8 92.2 77.1 91.8 77.2 91.2 77.0 91.1 76.8 91.8 76.0 92.8 76.5 93.2 76.4 93.5 76.8 93.5 77.2 93.8 77.7 94.2 77.6 94.4 77.2 94.2 76.8ZM222.6 77.8 223.3 77.8 223.4 78.2 222.8 78.5 222.4 78.2ZM108 78.8 108.4 78.8 108.6 79.8 109.1 80.2 110.2 80.9 110.6 80.2 111.2 80.0 113.8 79.7 114.2 80.2 115.8 79.7 116.2 79.7 118.2 80.0 118.8 80.9 119.8 81.1 121.3 81.8 121.5 82.2 121.4 82.8 120.8 84.2 121.3 86.8 121.8 87.3 122.8 87.2 122.8 87.8 122.2 88.9 121.2 88.9 120.8 89.3 120.3 90.8 119.8 91.5 119.3 91.2 119.2 90.6 118.8 90.6 117.7 88.8 117.5 88.2 117.7 87.8 118.2 87.7 118.7 87.2 118.2 86.4 117.8 86.2 117.2 86.5 116.2 86.2 115.8 86.4 113.5 87.8 112.8 88.8 111.6 88.8 111.2 88.4 111.2 87.2 110.2 86.3 109.1 84.2 108.8 83.9 107.2 83.5 106.8 83.1 106.6 82.8 107.2 81.2 107.1 80.2 107.4 79.8 107.4 79.2ZM109.8 82.7 109.5 82.8 109.5 83.2 109.8 83.4 110.2 83.4 110.2 83.1ZM119.8 88.0 119 88.2 119.2 88.8 120 88.8 120.4 88.2ZM168.9 79.8 169.8 79.1 170.4 79.2 170.7 79.8 170.7 80.2 170.2 80.5 169.5 80.2ZM260.2 82.8 260.8 82.5 261.2 82.7 262.2 82.6 262.8 82.8 262.8 83.4 262.2 83.9 261.8 83.9 261.2 83.5 260.2 83.3ZM275.8 83.8 277.8 83.7 278.8 84.8 279.1 85.8 278.8 86.2 278.7 87.2 278.2 87.5 277.8 87.4 277.1 86.8 275.5 85.8 275.4 85.2 275.9 84.2ZM297.1 85.2 297.8 85.1 298.3 85.2 297.9 85.8 297.2 85.8ZM128.7 85.8 129.2 85.7 129.8 86.2 129.8 86.8 130.3 87.2 130.4 87.8 130.8 88.2 130.8 89.0 129.2 89.2 128.2 89.0 128 88.8 127.9 87.8 128.3 87.2 128.2 86.2ZM132.2 89.8 132.8 89.6 133.2 90.1 134.2 90.1 134.8 90.6 135.1 90.8 135.1 91.2 134.8 91.8 134.2 92.1 133.2 92.2 132.8 91.7 131.8 91.2 130.8 91.5 130.2 91.4 130.2 90.7 131.8 90.4ZM191.6 91.2 192.2 90.8 192.8 90.8 193.8 92.7 193.9 93.2 193.8 93.5 193.1 93.8 192.2 94.5 191.8 94.6 190.8 94.2 190.4 93.8 190.4 93.2 190.7 92.2ZM124.9 91.8 125.2 91.6 126.8 91.6 128.8 94.2 129.8 94.8 130.2 94.9 130.8 94.6 131.2 93.5 131.7 93.2 132.2 93.4 132.8 94.2 133.9 95.2 133.7 95.8 132.9 96.8 132.5 97.8 132.5 98.2 132.8 98.6 133.8 99.0 134.8 100.5 135.8 101.0 136.2 101.6 136.7 102.8 136.7 104.2 137 105.2 137.2 105.5 137.8 105.5 138.8 105.2 138.9 106.2 138.2 107.2 138.9 108.2 139.5 109.8 139.4 110.2 138.2 110.8 137.8 111.3 136 110.2 135.2 109.2 134.8 108.5 134.2 108.1 133.2 109.0 132.1 109.8 132 110.2 132.3 111.2 132.6 111.8 132.2 112.3 131.2 112.1 130.2 111.5 129.2 111.8 129.2 110.7 129.8 109.9 130.2 109.9 130.8 110.2 131.2 110.1 131.5 109.8 131.2 109.3 130.8 109.1 129.8 109.4 128.2 109.0 126.8 109.4 126.2 110.1 125.8 110.4 125.2 109.7 124.8 109.4 124.4 109.8 124.5 110.2 124.9 110.8 124.8 111.1 124.2 111.0 123.5 110.2 122.2 109.9 119.8 109.9 118.6 110.8 118 111.8 116.5 112.8 116.1 113.2 117 114.2 118.2 116.2 118.1 116.8 117.8 117.2 116.9 117.8 116.9 118.2 117.4 118.8 117.2 119.2 116.3 119.6 115.5 120.2 116 121.2 116 121.8 114.9 123.2 114.2 123.6 112.8 123.0 112.2 123.0 111.2 123.7 110.3 123.2 110.9 122.8 111 122.2 110.8 121.8 109.8 121.5 109.1 121.8 108.9 122.2 109.2 122.8 110.1 123.2 109.8 123.8 109.2 124.2 108.8 124.3 107.2 123.8 107.1 123.2 107.2 122.4 108 122.2 108.4 121.8 108.4 121.2 109.1 120.2 109.3 119.2 110.1 118.2 108.8 117.3 108.1 115.8 108.5 115.2 108.8 113.1 109.4 113.2 109.7 112.8 109.5 111.8 109.8 111.3 110.5 110.8 110.6 109.2 111.5 108.2 111.5 107.2 112.2 105.8 112.4 104.8 113.1 103.8 113.2 102.6 113.8 102.2 114.8 102.9 115.8 103.0 116.1 102.8 116.8 100.8 117.2 100.4 119.2 100.6 120.1 101.3 119.5 102.2 119.8 104.2 120.2 104.8 121.1 104.8 121.4 104.2 120.6 102.2 120.6 101.8 120.8 101.6 121.8 101.5 122.1 101.2 122.3 100.8 122.2 100.2 122.9 99.8 123.1 98.8 123.8 98.1 124.2 98.0 124.7 97.2 124.8 96.2 124.2 95.6 123.4 95.2 123.1 94.8 123.8 93.5 124.8 92.3ZM129.8 103.4 129.7 103.8 130.6 105.2 131.8 105.5 132.2 105.2 132.2 104.8 132.5 104.2 132.5 103.8 131.8 103.5ZM118.3 103.3 117.5 103.2 117.4 103.8 117.8 105.3 118.2 105.1 118.7 104.2 118.7 103.8ZM299.3 93.8 299.8 93.1 300.1 93.2 300 93.8 299.8 93.9ZM121.2 97.8 121.7 97.4 122.3 98.2 122.3 98.8 121.8 99.6 121.2 99.6 121 99.2 121 98.2ZM117.2 98.8 117.8 98.5 118.2 98.8 118.5 99.2 117.8 99.7 117.3 99.7 116.8 99.2ZM141.6 100.2 143 100.2 143.1 100.8 143.8 101.3 143.9 101.8 142.2 102.9 140.6 102.2 140.8 101.2 141.2 100.5ZM216.9 100.2 217.2 99.9 217.7 100.2 217.8 100.8 217.2 101.4 216.5 101.2ZM199.6 104.8 200.2 104.6 201.2 105.1 201.5 105.2 201.3 105.8 200.3 106.2 200.5 106.8 199.8 107.9 198.4 107.8ZM322 106.8 323.2 106.0 323.5 106.8 323.4 107.8 324.7 108.7 324.9 109.2 326.2 110.5 327.2 110.7 328.8 111.5 329.8 113.2 329.6 114.2 329.8 114.6 330.2 114.6 330.8 114.1 330.8 114.8 330.4 115.2 330.8 116.2 331.2 116.5 331.3 116.2 332.2 115.8 332.8 115.7 333.3 116.2 332.8 116.9 331.7 117.2 331.6 117.8 331.1 118.8 332.2 120.8 332.2 121.4 332 121.8 330.5 122.2 329 124.2 327.8 125.3 325.8 125.1 324.8 124.4 324.2 124.5 323.1 123.8 322.2 122.7 321.2 122.2 321 121.8 321.2 121.2 321 120.8 320.2 120.3 319.2 120.3 318.2 119.3 317.2 118.9 314.8 118.4 313.8 118.9 313 118.2 313.1 117.8 314.2 117.3 314.5 116.8 314.4 116.2 313.8 115.6 312.8 115.5 311.6 114.2 311.4 113.8 311.3 112.2 311.5 111.8 312.8 111.0 314.2 112.1 314.8 111.9 316.2 111.9 316.6 111.8 317.6 110.8 319.8 110.7 320.2 110.4 321.8 109.1 322.1 107.8 321.8 107.2ZM326.2 119.2 325.2 120.8 326.2 121.3 326.3 122.2 326.8 123.0 327.2 122.9 327.5 122.2 327.1 121.8 327.2 121.2 327.5 120.8 327.7 119.2 327.2 118.9ZM319.8 113.6 319 115.2 317.9 116.2 317.2 117.8 317.8 118.1 318.2 118.1 318.6 117.8 319.2 116.7 319.8 116.4 320.7 116.2 320.6 115.2ZM314.9 109.2 315.2 108.6 315.7 108.8 315.6 109.8 315.5 110.2 314.8 111.0 313.4 110.2 313.8 109.8ZM307.2 110.8 308.8 109.7 309.2 110.1 309.7 110.8 309.8 111.2 309.7 112.2 308.8 113.2 308 112.2 307.6 111.2ZM311.2 117.2 311.8 117.8 311.9 118.8 311.8 119.3 311.3 118.8 311.3 118.2 310.9 117.8ZM198.7 120.8 199.7 121.2 200.4 122.2 200.2 122.4 199.1 122.8 198.8 124.0 198.2 124.5 197.8 124.7 197.2 124.2 197.1 121.8 196.7 121.2 196.8 121.0 197.2 120.8 197.8 121.0ZM105.1 133.2 105.8 131.9 106.2 132.8 106.3 133.2 105.8 133.7 105.2 133.5ZM111.6 133.8 112.2 133.6 112.8 133.9 113.2 133.6 114.2 136.7 114.1 137.8 114.8 138.0 114.8 138.2 113.8 139.4 112.8 140.2 112.2 140.1 111.2 139.1 110.2 139.5 109.8 139.4 109.2 138.6 108.2 138.7 107.9 138.2 107.8 137.1 107.4 136.2 107.4 135.2 108.8 134.3 109.2 134.1 110.2 134.1 110.8 134.5 111.2 134.4ZM111.6 145.8 113.2 145.0 114.2 145.1 115.2 144.8 115.3 145.2 114.2 146.4 113.2 146.4 112.8 146.9 112.2 146.4 111.2 146.2Z" fill="#f4bd86" fill-rule="evenodd"/>
<path d="M249.5 22.2 249.8 22.0 250.2 22.1 250.5 22.8 250.2 23.0 249.8 23.0 249.5 22.8ZM213 39.2 214 39.2 214.6 39.8 214.2 39.9 214 40.2 214 40.8 214.2 40.9 214.9 40.8 215 40.2 214.8 39.8 216.2 39.5 217.1 39.8 217.8 39.8 218.8 40.4 220.2 41.0 220.8 42.0 221.1 41.8 221.2 40.7 221.8 40.3 223.8 40.5 224.8 40.0 225.2 40.2 225.6 40.8 226.5 41.2 226.9 41.8 226.6 42.2 224.7 42.8 221.8 42.5 220.5 43.2 219.8 44.0 219.2 44.2 218.8 44.1 217.8 43.4 217.2 43.9 216.2 44.2 214.8 43.7 214.1 44.8 213.2 45.6 212.8 45.8 211.7 44.7 210.9 44.2 210.8 43.9 210.2 44.1 209.8 44.6 208.2 44.4 207.1 43.8 206.6 42.8 206.7 41.8 206.4 40.8 206.8 40.4 209.8 39.7 212.2 41.1 212.6 40.8 212.2 39.9 211.7 39.8 212.2 39.7ZM229.8 41.2 231.2 40.0 231.8 39.9 234.8 39.8 235.8 40.0 236.3 40.2 236.4 41.2 236.7 41.8 238.8 42.2 239.8 42.2 240 42.8 239.4 43.8 238.8 44.4 238.2 44.6 237.2 44.2 235.8 44.8 233.2 45.5 232.8 45.2 231.8 44.3 231.2 44.0 230.8 44.0 229.8 44.2 229.1 43.8 229.1 43.2 229.9 42.2ZM288.7 42.2 289.8 41.5 290.2 41.4 291.2 41.5 291.8 41.8 292.2 42.7 293.1 43.8 293.4 44.2 293 45.2 292.2 46.0 290.2 46.9 289.6 46.8 289.1 46.2 288.9 44.8 288.2 43.8ZM279.8 43.8 280.2 43.4 280.6 43.8 280.7 44.2 280.2 44.6ZM206.9 51.2 207.8 49.5 208.2 49.6 209.8 50.0 211.2 49.5 211.7 49.8 211.7 50.2 210.8 51.4 207.2 51.7ZM72.3 53.8 73.8 53.5 74 53.8 74.4 55.8 75 56.8 75.1 57.2 74.4 58.2 74.3 59.2 73.8 59.7 73.2 59.8 72.6 59.2 72 57.2 71.9 56.8 72.2 55.8 71.6 54.8ZM171.1 62.2 171.8 62.0 172.2 62.2 172.5 62.2 172.6 62.8 172.2 63.1 171.8 62.9ZM172.8 63.8 173.2 63.7 173.3 64.2 172.8 64.8 172.8 65.7 172.2 66.2 172.1 65.8 172.2 65.2 172.7 64.8ZM171.5 67.2 171.8 66.8 172.2 66.9 173.1 67.8 173.4 68.8 172.8 69.0 172 68.8 171.5 68.2ZM204.8 77.6 207.2 77.1 208.2 77.2 208.6 77.8 208.8 78.6 209.2 78.7 210.2 78.5 210.8 78.7 210.9 80.8 210.8 81.5 209.2 82.4 207.8 82.2 206.2 82.7 204.7 82.2 204.1 81.8 203.8 81.0 203 80.8 202.7 80.2 202.7 79.2 203.2 77.8 203.8 77.5ZM219.1 80.2 219.8 80.2 220.6 80.8 220.8 81.4 221.5 82.2 222.3 83.8 222.2 84.2 221.8 85.2 221.4 87.8 221.2 88.2 220.8 88.5 218.4 87.8 218.1 87.2 218.3 86.2 218.2 85.2 218.5 83.8 219.1 82.8 218.7 81.2ZM129.7 103.8 129.8 103.4 130.2 103.4 132.5 103.8 132.5 104.2 132.2 104.8 132.2 105.2 131.8 105.5 130.6 105.2ZM326.2 119.2 327.2 118.9 327.7 119.2 327.5 120.8 327.2 121.2 327.1 121.8 327.5 122.2 327.2 122.9 326.8 123.0 326.3 122.2 326.2 121.2 325.2 120.8Z" fill="#ea976a" fill-rule="evenodd"/>
<path d="M294.2 18.2 294.8 17.5 295.2 17.6 295.4 18.2 296.1 18.8 295.8 20.2 295 20.2 295.9 20.8 295.7 21.2 295.2 21.5 293.6 21.8 293.9 22.2 293.8 23.4 293.6 23.8 292.7 24.2 292 23.8 292.2 23.4 292.8 23.2 292.9 22.8 292.9 22.2 292.8 21.9 292.2 22.2 291.9 21.8 291.9 21.2 292.5 20.8 293.8 19.3 294.2 19.8 294.8 19.8ZM268.6 19.2 269.8 19.1 270.1 19.8 269.8 20.0 268.8 20.0 268.1 19.8ZM277.7 19.8 277.8 19.5 278.2 19.5 278.7 19.8 279 20.2 278.7 20.8 279 21.8 278.8 22.7 278.1 22.8 277.5 22.2 276.8 22.1 276.2 22.2 276 21.8 276.2 21.2 277.2 20.7 277.8 20.7 277.9 20.2ZM30.2 20.2 32.2 21.1 32.8 21.0 33.5 21.8 33.2 22.1 32.2 21.9 29.3 22.8 29.2 23.2 30.2 23.8 30.6 24.2 31.2 24.3 31.4 24.3 31 23.8 31.7 23.2 31.8 22.6 31.9 23.2 31.8 23.8 32 24.2 32.5 24.8 32.6 25.2 33.2 25.7 33.2 26.0 33.5 25.2 33.5 24.8 33.8 24.5 33.9 24.8 33.9 25.2 34.3 25.8 34.1 26.3 34.2 26.8 33.9 27.2 34.4 28.2 33.8 29.8 33 29.8 32.2 27.8 32.2 27.5 33.1 27.2 33.1 26.8 32.8 26.3 32.2 27.1 30.2 26.3 29.9 26.8 30.1 27.2 29.8 28.5 29.2 28.8 29.5 29.2 28.8 29.6 27.8 29.0 27.2 29.2 26.1 28.8 26.8 28.1 27.2 28.2 27.9 25.2 28.4 24.8 28 24.2 28 22.8 27.8 22.3 27.2 22.6 26.8 22.7 26 22.2 26.1 21.8 26.2 21.3 27.2 21.4 27.8 21.7 28.3 21.3 27.8 20.8 28.2 20.3 29.2 20.6ZM350.1 20.2 350.8 20.2 351.1 20.8 350.2 20.9 350 20.8ZM48.9 20.8 49.2 20.5 49.9 20.8 50 21.2 49.7 21.7ZM281.8 21.2 282.2 20.5 282.6 20.8 282.7 21.2 282.2 21.8 281.9 21.8ZM283.4 20.8 284.1 20.8 284.2 21.3 284.8 20.6 285.4 21.2 285.6 21.8 285.2 22.0 284.2 21.9 283.8 22.1 283.3 21.8ZM289.1 21.2 289.2 20.6 289.4 21.2 289.9 21.8 289.9 22.2 289.2 22.5 288.7 22.2 288.7 21.8ZM290.9 20.8 291.2 20.5 291.5 20.8 291.4 21.2 290.8 21.3ZM47.2 21.2 47.4 21.8 48.3 22.2 48 23.2 48.1 23.8 47.6 24.8 47.2 24.8 47 25.2 47.2 26.2 45.8 27.2 45.5 27.8 45.8 28.1 46.2 27.7 46.8 27.9 47.4 27.8 47.5 29.2 47.9 29.8 47.9 30.2 47.8 30.5 46.8 30.8 45.8 31.5 45.2 31.3 44.8 31.4 43.8 31.3 42.8 31.9 41.8 31.9 41.6 31.8 41.8 31.5 42.4 31.2 42.2 30.4 41.8 30.5 41.2 31.0 40.8 30.9 39.6 30.2 39.6 29.8 38.6 29.2 38.8 28.9 39.2 28.8 39.8 29.2 40.2 29.2 40.4 28.8 40.5 27.8 40.2 27.5 39.8 28.2 39.2 28.2 38.8 28.6 38.3 27.8 39.1 26.8 39.2 26.2 38.8 25.2 39.7 24.8 39.7 24.2 39.2 24.1 38.6 23.2 38.8 22.8 38.8 22.2 39.2 21.4 39.3 22.2 40 23.2 39.8 23.8 40.2 24.2 40.8 24.4 41.8 24.1 41.9 23.8 42.8 23.2 44.8 24.1 45.2 23.2 46.2 23.6 47.2 23.5 47.5 23.2 46.5 22.8 46.1 22.2 46.8 21.5ZM40.8 26.5 40.6 26.8 40.8 26.9 41.2 27.1 41.8 27.1 41.8 26.8 41.2 26.3ZM43.3 29.7 43.8 30.5 44.2 30.5 44.7 30.2 44.2 29.8ZM45.8 24.0 45.1 24.2 45.8 25.0 46 24.8ZM192.7 21.8 193.2 21.0 193.8 21.1 193.8 21.2 193.5 21.8 193.6 22.8 193.2 23.1 193.1 22.2ZM196.8 21.2 197.2 20.9 197.8 21.1 198.1 21.8 197.8 22.0 197.2 22.1 196.7 21.8ZM298.2 21.2 299.8 22.2 300.2 22.0 300.8 22.1 300.9 22.8 301.5 23.2 301.3 24.2 301.5 24.8 301.5 25.2 300.9 25.8 300.7 25.8 300.5 25.2 300.5 24.2 300.2 23.6 299.2 23.1 298.8 22.1 298.3 21.8ZM322.2 21.2 323 21.8 322.9 22.2 322 21.8ZM351.2 21.2 352.2 21.1 352.7 21.2 352.2 21.9 351.5 21.8ZM41 22.8 40.8 21.6 41.5 21.8 41.8 22.2 41.6 22.8ZM344.1 21.8 344.3 21.8 344.4 22.2 344.2 22.8 345.7 23.3 346.6 23.8 346.8 24.1 347.2 24.3 347.8 24.1 348.8 24.1 348.8 24.3 347.2 25.2 347.7 25.8 346.8 26.0 346.5 25.8 346.9 24.8 346.8 24.5 345.8 24.3 345.3 24.8 345.2 25.6 344.8 26.4 344.2 26.5 343.9 26.2 344.6 25.8 344.2 25.3 343.4 25.8 343.2 26.2 342.8 25.9 341.9 24.8 342.2 24.2 343.2 24.6 344.1 24.2 343.2 23.3 342.9 23.2 343.8 22.6ZM49.8 22.2 50.2 21.9 50.9 22.2 51 22.8 50.9 23.2 51.2 24.8 52.2 24.9 52.3 25.2 53.2 25.8 53.8 26.3 54.8 26.8 54.6 27.2 54.2 27.5 53.8 27.5 52.8 28.3 52.2 28.3 51.6 27.8 51.9 27.2 53.4 26.8 52.8 26.4 52.2 25.6 51.8 25.8 51.2 26.5 50.8 25.7 50.2 25.6 49.8 25.9 49.7 24.8 49.4 24.2ZM280.8 22.6 280.8 22.0 281.2 21.8 281.4 22.2 281.2 22.5ZM323.5 22.2 324.8 21.9 324.9 22.2 324.3 23.2 324.9 23.8 324.7 24.2 325.2 24.7 326.8 24.6 327.2 23.6 327.5 24.2 327.3 24.6 326.8 24.8 326.2 25.8 325.8 25.6 325.2 26.1 322.8 27.5 322.2 27.6 321.8 28.1 321.2 27.9 321 27.8 321.2 27.3 322.2 26.8 322.9 26.2 323.2 26.1 323.8 26.3 324.2 25.8 324.2 25.7 323.6 25.2 323.4 24.2 324 23.2 323.8 23.1ZM330 22.2 330.2 22.0 330.8 22.1 331.1 22.8 330.8 22.9 330.2 22.8ZM194.2 22.8 194.8 22.3 195.3 23.2 195.2 23.5 194.8 23.7 194.3 23.3ZM290.2 23.1 291.8 22.6 292 22.8 291.9 23.2 290.9 24.2 290.8 24.7 290.2 24.4 289.8 24.4 289.5 23.8ZM321.3 22.8 321.8 22.5 322.2 23.2 321.8 23.4ZM338.9 22.8 339.2 22.4 339.6 22.8 339.6 23.2 340.2 23.4 340.4 23.8 339.8 24.1 339.2 23.6ZM341.3 22.8 341.8 22.6 342.5 23.2 342.2 23.3 341.8 24.1 341.1 23.8 341 23.2ZM66.2 23.5 66.8 22.9 67.2 22.9 67.6 23.2 67.6 23.8 67.2 24.0 66.8 23.9 66.2 24.5 65.8 24.3 65.8 23.3ZM282.7 23.2 283.3 23.8 283.2 24.3 282.4 24.2ZM23.7 24.2 24.2 23.6 24.8 23.8 25.1 24.2 25.1 24.8 24.8 25.7 24.2 26.0 23.9 26.8 24.2 27.1 25.2 27.3 25.8 27.0 26.8 27.0 27 27.2 26.8 27.7 26.2 27.4 25.8 28.0 23.5 27.8 21.2 26.8 21 26.2 20.2 25.4 19.8 25.8 19.8 26.3 19.2 26.5 18.8 26.2 19.1 25.2 18.8 24.8 19.2 24.4 19.8 24.4 20.2 24.9 20.8 25.0 22.3 24.8 22.8 25.7 23 25.2 23 24.8ZM74.8 23.8 75.2 23.3 75.9 23.8 75.2 24.2ZM194.2 23.9 196.2 23.7 196.8 24.2 196.8 24.6 195.8 24.1 195.7 24.8 195.2 24.8 194.1 24.2ZM303.2 24.3 303.2 23.6 303.8 23.6 304.2 23.8 304.6 24.2 304.5 24.8 304.2 25.0 303.8 24.4ZM315.4 23.7 315.8 23.6 316.6 24.2 316.2 24.6 315.7 24.7 315.4 24.2ZM332.1 23.8 332.2 23.4 332.8 23.3 332.9 23.8 332.2 24.1ZM26.1 24.8 27.2 23.8 27.4 24.2 26.9 24.8 27.1 25.2 26.2 25.3ZM58.1 24.2 58.8 24.0 58.9 24.2 59.1 24.8 58.7 25.2ZM59.4 24.8 59.8 24.1 60.1 24.2 60.6 24.8 61 25.8 60.8 26.1 60.2 25.8ZM274 24.2 274.5 24.2 274.7 24.8 274.2 25.1 273.6 24.8ZM306.7 24.2 307.2 24.1 307.7 24.8 307.6 25.2 307.2 25.6 306.7 25.2ZM309.6 24.2 310.2 23.8 310.4 24.2 310.9 24.8 310.8 25.1 309.8 24.8ZM313.7 24.2 314.2 24.1 314.4 24.2 314.2 24.8 313.8 25.3 313.3 24.8ZM338.7 24.2 339 24.2 338.9 24.8 339.4 25.2 339.2 25.9 338.6 25.8 338.4 24.8ZM55.6 25.2 55.8 24.5 56.8 24.6 56.9 25.2 56.3 25.8 55.8 25.8ZM77 24.8 77.2 24.5 78.2 25.0 78.5 25.2 78.2 26.0 77.8 25.6 77.2 25.6 77 25.2ZM36 25.2 36.2 25.0 36.8 24.9 37.4 25.2 37.2 25.5 36.8 25.7ZM61.9 25.2 62.2 25.1 62.8 25.2 63 25.8 62.8 25.9 62.2 25.8ZM74.5 25.8 75.8 24.8 76.4 25.2 76.5 25.8 76.2 26.0 75.8 26.0 74.8 26.4 74.4 26.2ZM192.2 26.2 192.8 25.4 193.5 25.8 193.5 26.2 193.2 26.5 192.8 26.6ZM302.1 25.8 302.8 25.7 303 26.2 302.8 26.5 301.9 26.2ZM331.7 25.8 331.8 25.6 332.8 25.6 333.2 25.3 334.3 26.8 334.1 27.2 333.8 27.6 333.4 27.3 333.6 26.2 332.8 25.8ZM188.9 26.8 189.8 26.1 189.8 26.8 189.3 27.2 190.1 27.8 189.8 28.4 189.2 28.1 189 28.2 188.8 29.3 188.4 27.8 189.1 27.2ZM319.5 26.2 320.2 26.0 320.5 26.8 320.3 27.2 319.8 27.3 319.2 26.8ZM60 26.8 60.2 26.6 60.8 26.7 61.2 28.2 61.8 28.0 62.4 28.2 61.2 29.1 60.8 29.2 60.2 28.9 60.2 28.5 60.7 28.2ZM87.2 27.3 88.8 26.5 89.1 26.8 89.3 27.2 88.8 27.4ZM102.5 26.8 103.8 26.7 106.8 27.1 107.2 27.8 107.1 28.2 106.2 28.8 105.5 28.2 104.7 28.2 104.2 27.9 103.9 28.2 104 28.8 103.9 29.2 104.2 29.8 104.2 30.2 103.2 30.6 102.8 30.5 102.4 30.2 102.3 29.8 102.6 29.2 103.4 28.8 103.7 28.2 102.8 27.9 102.2 28.2 102.1 27.8 102.1 27.2ZM315.8 26.8 316.8 26.9 317.2 26.7 317.8 27.3 318.8 27.8 319.1 28.2 318.9 28.8 318.2 28.9 317.8 28.1 316.8 28.6 316.2 28.2 315.5 28.2 315.3 27.8ZM346.5 27.2 346.8 27.1 347.2 27.1 347.5 27.2 347.3 27.7ZM35.6 27.8 35.8 27.4 36.2 27.4 36.8 27.8 36.7 28.2 36.2 28.7ZM86.3 28.8 86.8 28.1 87.2 28.2 87.4 28.8 86.8 29.3ZM324.1 28.2 324.6 28.2 325.1 29.2 325.8 29.5 326.2 29.1 326.8 29.2 326.2 29.8 325.2 29.9 324.8 29.6 324.2 29.6 323.8 29.2 323.8 28.8ZM22.7 29.2 23.2 29.0 23.4 29.2 23.2 29.8 22.8 29.8ZM327.7 30.2 328.2 29.0 329.1 29.2 328.2 30.6ZM107.3 29.8 107.8 29.6 108.8 30.5 109.8 30.5 110.1 30.2 110 29.8 110.2 29.6 110.7 30.8 110.8 31.8 111.4 32.2 111.6 32.8 110.8 32.8 109.8 35.0 109.2 34.5 108.5 34.2 108.2 34.0 107.8 34.4 107.2 34.6 106.9 35.2 106.2 35.6 105.2 35.2 104.2 35.5 103.5 34.8 103.3 34.2 103.5 33.2 103.3 32.8 103.5 31.8 104.2 31.2 104.8 31.3 105.8 30.4 106.2 30.5 106.8 30.9 107.2 30.6ZM109.2 32.7 108.8 33.0 108.8 33.4 109.2 33.5 109.5 33.2ZM115.7 30.8 116.2 30.9 116.8 30.6 117.2 30.6 117.8 31.4 116.8 31.8 116.2 31.5 115.8 31.6 115.3 31.2ZM316.3 31.2 316.2 30.5 316.8 30.5 317.2 30.7 317.8 30.5 317.9 30.8 317.2 30.8 316.8 31.8 316.2 32.1 316 31.8ZM51.8 31.4 52.4 31.2 52.5 31.7 52.3 32.2 52.8 32.7 53.2 32.2 53.8 31.3 54.2 31.3 54.5 31.8 54.2 33.6 53.8 35.1 53.2 34.3 52.8 34.2 52.2 34.6 51.7 34.2 51.2 33.2 50.6 32.8ZM114.7 31.2 114.9 32.2 114.6 32.8 114.8 33.0 115.5 33.2 115.2 33.5 114.8 33.6 114.6 33.2 114.2 33.0 113.2 33.0 112.8 33.5 112.2 33.6 112 33.2 112 32.8 113.2 32.6ZM63.7 31.8 64.2 31.8 64.8 32.2 65.4 32.8 65.5 33.2 65.2 33.5 64.8 33.0 64.2 33.8 63.8 33.9 63.6 33.2 64 32.8 63.7 32.2ZM55.4 32.2 55.8 31.8 56.6 32.2 56.2 32.6ZM117.9 32.8 118.2 32.2 118.7 32.8 118.8 33.4ZM60.9 34.2 61.3 33.8 61.8 34.2 61.2 34.6ZM114.6 34.2 114.8 34.0 114.8 34.8 116.8 35.3 117.2 35.8 116.8 36.4 116.2 36.6 115.8 36.2 115.6 35.8 115.2 35.5 114.6 36.2 114.5 36.8 114.8 37.1 116.2 36.9 116.4 37.2 115.5 37.8 114.8 38.5 114.2 38.3 113.2 39.3 112.8 38.8 112.8 38.2 112.7 38.8 112.4 39.2 111.8 39.3 111.8 39.0 112 38.8 111.8 38.2 111.9 37.8 113 36.8 113.2 36.2 112.8 35.9 112.1 35.8 112 35.2 112.8 34.8 113.8 34.6 114.2 34.8 114.7 34.8ZM114.2 37.2 113.4 37.2 113.8 38.2 114.2 37.8ZM120.1 34.2 121.1 34.2 121.2 34.8 120.2 34.9ZM121.3 34.8 122.2 34.6 122.8 35.2 122.2 35.5 121.8 35.4ZM46.7 35.2 47.2 35.0 47.5 35.2 47.2 36.0 46.9 35.8ZM52.9 35.8 53.2 35.1 53.6 35.2 53.8 35.8 53.2 36.1ZM107.6 35.2 107.8 35.0 108.2 34.9 108.9 35.8 108.2 36.2ZM110 37.8 110.2 35.2 110.5 35.8 111.1 36.2 111 37.8 110.3 38.7ZM122.7 36.2 123.2 35.7 123.8 36.2 123.2 36.8ZM300.4 36.2 300.8 35.5 301.2 35.8 300.8 36.6ZM107.9 37.2 108.2 36.9 108.5 37.2 108.5 37.8 108.2 38.3 107.9 37.8ZM251.5 37.2 251.8 37.1 252.4 37.2 252.5 37.8 252.2 38.2ZM120.7 37.8 120.8 37.4 121.2 37.4 121.8 37.7 122.4 37.8 122.8 38.2 122.2 38.5 121.2 38.4ZM119.7 38.2 120.5 38.8 120.2 39.1 119.7 39.2 119.5 38.8ZM316.7 38.2 317.4 38.2 317.6 38.8 317.2 39.0ZM53.5 38.8 54.2 38.5 54.4 38.8 54.4 39.2 54.2 39.4 53.8 39.3ZM299 39.8 299.8 39.6 300.1 39.8 299.2 40.3ZM280.8 40.2 281.2 40.0 281.6 40.2 281.5 40.8 281.2 41.0ZM319.1 40.2 319.2 40.0 319.7 40.2 319.6 40.8 319.2 40.9ZM61.6 42.2 61.8 41.8 62.2 42.0 62.8 42.6 63.2 42.5 63.5 43.2 63.2 43.5 62.8 43.3 62.2 42.9 61.8 42.9ZM93.1 46.8 93.2 46.6 93.6 46.8 93.8 47.2 93.2 47.4ZM108.7 47.2 109.2 46.4 109.5 46.8 109.2 47.4ZM245 46.8 245.2 46.5 245.8 46.5 246 46.8 245.2 47.4 244.9 47.2ZM188.7 47.8 188.8 48.3 188.3 49.2 187.8 48.8 187.8 48.2ZM271.5 47.8 272.2 47.4 272.8 47.7 273.2 47.5 274 48.2 274 48.8 273.2 49.3 272.8 49.3 273 48.8 272.8 48.0 272.5 48.8 272.2 49.0 271.2 48.3ZM279 47.8 279.2 47.6 279.9 48.2 279.2 48.4 279.1 48.2ZM275.7 48.2 276.2 48.0 276.6 48.2 276.2 48.8 275.8 48.8ZM302.8 48.2 303.5 48.2 303.8 48.5 304 49.2 303.2 49.0ZM265.2 49.4 265.8 48.5 266.1 49.2 265.8 49.7 265.2 50.0 264.8 50.0 264.5 49.8 264.8 49.3ZM302 48.8 302.2 48.3 302.5 48.8 302.3 49.8 301.8 50.1 301.8 49.5 302 49.2ZM304.3 49.2 304.8 49.1 305.2 49.2 304.8 49.9 304.1 49.8ZM278.4 50.2 279.2 50.3 279.6 50.8 279.6 51.3 279.3 51.8 279.8 52.8 279.9 53.8 280.2 54.0 281.2 53.9 282.1 55.2 282.3 56.2 282.8 56.8 283.2 56.9 283.4 57.2 282.8 57.9 282.2 57.8 281.8 58.1 281.2 58.0 280.8 57.3 280.2 57.3 279.9 57.8 280.1 58.2 280.8 58.7 281.2 58.3 281.7 58.8 281.5 59.8 281.2 60.0 280.8 59.7 279.8 60.2 278.2 60.1 278 60.2 277.8 61.2 277.2 61.2 276.8 60.3 274.2 60.2 273.8 59.9 272.8 60.2 271.8 59.7 270.8 60.2 269.8 59.1 268.8 59.2 267.8 59.6 267.2 59.3 266.8 59.7 265.8 59.8 266.8 59.9 267.5 61.2 266.8 61.6 266.2 61.4 265.2 61.7 265 61.2 265.3 60.7 264.8 60.7 264.4 61.2 264.5 61.8 264.2 62.2 263.8 62.4 263.1 60.8 261.3 59.2 261.3 58.2 260.8 57.9 260.1 58.2 260.1 58.8 260.8 59.5 260.8 60.3 260.2 60.1 259.8 59.5 258.2 59.8 257.8 58.8 257.2 58.8 256.7 59.7 256.8 60.2 256.2 60.4 255.8 60.7 255.5 60.2 255.9 58.8 256.2 58.4 256.8 58.3 257.2 58.7 257.6 57.2 257.2 57.1 256.2 57.4 255.9 56.2 255.8 55.9 255.3 55.8 255.8 55.4 256.2 55.3 256.9 55.8 257.2 56.3 258.2 56.1 258.6 56.8 258 57.2 258.8 58.0 259.2 58.0 259.8 57.4 260.3 57.2 259.8 56.2 259.8 55.8 260.2 55.3 261.2 55.9 261.8 56.0 262.2 57.1 262.8 56.6 263.2 56.9 263.5 56.2 264.2 56.0 264.8 56.2 265.2 55.8 266.2 53.7 266.8 53.4 267.2 53.5 267.8 54.0 268.8 53.4 269.2 53.3 269.7 53.8 269.8 54.9 270.6 54.8 271.3 54.2 270.9 53.2 271 52.8 271.2 52.6 271.8 52.8 272.2 53.3 274.2 53.8 274.5 53.2 274.8 53.1 275.2 53.0 275.9 53.2 276.8 52.3 277 53.2 277.6 53.8 277.8 54.4 279 53.8 277.9 52.8 277.9 52.2 278.5 51.2 278.3 50.8ZM262.2 57.4 262.1 58.2 262.8 58.4 263 57.8 262.8 57.4ZM275.2 57.6 275.1 57.8 275.2 58.3 276.2 57.8 275.8 57.5ZM277.2 56.5 276.3 57.8 277.8 58.3 278.2 58.8 279.6 58.2 279.5 57.8 278.8 57.2 278.8 56.7 278.4 56.8 278.5 57.2 278.2 57.8 277.8 57.4 277.6 56.8ZM261.5 51.2 261.8 50.6 262.4 51.2 262.6 52.2 261.8 52.9 261.4 52.8 261.5 52.2 261.8 51.7ZM255 52.2 255.8 51.6 257 52.8 256.3 52.8 255.8 52.4 255.7 52.8 255.9 53.2 255.8 53.5 255.2 53.5 255 52.8ZM263 51.8 263.2 51.5 263.5 51.8 263.9 52.2 263.8 52.6 263 52.2ZM293 51.8 293.2 51.4 293.7 51.8 293.9 52.2 293.8 52.4 293.2 52.3ZM266 52.8 266.2 52.0 266.8 52.2 266.6 52.8 266.2 53.1ZM234.5 53.2 234.8 52.6 235.4 53.2 234.8 53.6ZM259.2 52.9 260.2 52.5 261.1 52.8 261.6 53.8 261.2 53.9 260.8 53.6 260.6 53.8 260.8 54.2 260.7 54.8 260.2 55.2 259.2 55.4 258.2 55.1 257.5 54.2 257.8 53.7 258.2 53.6 258.8 54.0 259 53.8ZM292.6 53.8 292.8 53.5 293.3 53.8 293.4 54.8 292.8 55.3ZM65.6 54.2 66.2 54.1 67 54.2 66.4 54.8 66.2 55.2 65.8 55.1ZM282.7 54.8 282.9 54.8 283.8 55.7 284.5 55.8 284.8 56.0 284.8 56.4 283.2 56.5 282.5 55.2ZM67 55.2 67.3 55.2 67.4 55.8 67.2 56.4 66.2 55.8 66.8 55.6ZM232 57.2 232.8 56.5 233 56.8 232.8 57.4ZM287.5 57.2 287.9 57.2 288.3 57.8 287.8 58.5ZM252.4 60.2 253.2 59.8 253.8 60.2 253.2 60.8 252.8 60.7ZM270.7 60.8 271.2 61.3 270.8 61.6 270.2 61.6 270.1 61.2 270.2 60.8ZM274.1 61.2 274.2 60.4 274.8 60.3 275.6 61.2 275.2 61.6 274.2 61.6ZM278.7 61.2 279.2 60.5 279.7 60.8 279.2 61.5 278.8 61.5ZM281.4 61.2 281.8 60.5 282.2 60.7 282.1 61.2 281.8 61.4ZM271.3 61.2 272.1 61.2 272.4 61.8 271.8 62.1 271.4 61.8ZM163.4 61.7 163.8 61.5 164.4 61.8 163.9 62.2 163.8 62.8ZM264.2 63.2 264.2 62.3 264.8 62.5 265.2 62.5 265.8 62.9 266.8 62.7 266.9 63.2 266.2 64.0 265.2 63.5 264.8 63.8ZM206.2 63.2 206.8 62.9 207.1 63.8 206.1 65.2 205.2 65.4 204.2 64.9 204.1 64.8 204.2 64.1 205.2 63.8 205.8 64.0ZM76.1 64.8 76.8 64.1 77 64.2 77 64.8 76.8 65.6 76.2 65.6 76 65.2ZM103.9 68.2 104.2 67.9 104.8 68.1 105.5 68.8 105.4 69.2 104.2 69.3ZM283 70.2 283.2 70.0 284.2 70.1 284 70.8 284.2 71.1 284.8 71.2 285.2 70.9 285.8 71.2 285 71.8 284.8 73.0 284.4 72.8 284.7 72.2 283 70.8ZM233.3 70.8 233.8 70.5 234.2 70.6 234.4 70.8 233.8 71.2ZM178.7 71.8 179.5 72.2 179.6 72.8 179.2 73.0 178.8 73.0 178.6 73.2 178.9 73.8 178.8 73.9 178.2 73.8 177.7 74.1 177.2 73.2 178.2 72.8 178.2 72.1ZM179 74.2 179.2 74.0 179.5 74.2 179.5 74.8 180.3 76.2 180.2 76.4 179.8 76.3 178.9 75.2 179.1 74.8ZM162.5 74.8 163.2 74.7 163.2 75.2 162.7 75.2ZM170.5 77.2 171.2 77.1 171.4 77.2 171.2 77.7 170.8 77.8ZM186.5 77.2 186.8 76.9 187.2 76.9 187.5 77.2 186.8 78.0ZM175.1 79.8 175.8 79.3 176 79.8 175.8 80.3ZM180.7 83.8 181.3 83.8 181.4 84.2 181.2 84.8 180.8 84.2ZM193.9 84.8 194.2 84.6 194.4 84.8 194.2 85.3 193.8 85.8 193.7 85.2ZM228 85.2 228.2 85.1 229 85.8 228.8 86.4 227.9 85.8ZM114.5 86.8 114.8 86.4 115.2 86.3 115.4 86.8 114.8 87.0ZM212.6 87.2 212.8 86.5 213.8 87.8 214 88.2 213.8 88.7 213.2 88.8ZM101.6 87.8 101.8 87.5 102.7 87.4 103.2 87.4 103.5 87.8 102.7 88.2 102.2 88.3 101.8 88.0ZM101.1 89.2 101.2 89.1 101.9 89.2 102 90.2 102.9 90.8 102.9 91.2 102.8 91.5 102 91.8 101.9 92.2 102 93.2 102.5 94.2 102.1 94.8 102.6 95.2 102.6 95.8 102.2 96.6 101 95.8 101.6 94.8 101.2 93.8 99.9 93.2 100.2 93.0 100.5 91.8 101 91.2 100.8 90.8ZM122.7 93.2 123.2 93.1 123.5 93.2 123.7 93.8 123.2 94.4 122.5 93.8ZM121.2 94.8 121.8 94.6 122.2 95.2 121.8 95.4 121.5 95.2ZM322.8 95.8 323.2 94.9 324.2 95.2 324.1 96.2 323.8 96.8 323 96.2ZM102.5 97.2 102.8 97.1 103.2 97.2 103.5 97.8 102.8 98.1 102.4 97.8ZM101.9 99.3 102.2 98.4 102.8 98.8 103.2 98.6 103.5 99.8 103.8 100.2 104.3 100.2 104.9 101.2 104.8 101.5 104.2 101.4 103.8 101.5 103.7 101.2 102.9 100.8ZM105 103.2 105.2 103.1 106.2 103.3 107.4 104.2 107.8 104.7 108.2 104.8 108.8 105.6 109.2 105.2 110.2 105.0 110.4 105.2 110.2 105.6 109.8 105.5 108.8 105.8 108.2 106.5 107.6 106.8 107.2 106.2 106.3 105.2 105.9 104.8 105.8 104.0ZM111 106.2 111.8 105.5 112.4 105.8 112.5 106.8 112.2 107.2 111.7 107.2 111.2 106.4ZM110.3 109.2 110.8 107.5 111.8 107.9 111.7 108.8 112.2 109.4 112.4 110.2 111.8 110.9 111.5 110.8 111.2 109.8 110.8 109.7ZM110.6 112.2 111.8 111.8 112.2 112.5 112.8 112.5 112.9 112.8 112.7 113.2 112.8 113.8 113.2 114.1 113.8 114.0 113.8 114.2 113.8 114.8 113.2 114.4 111.9 115.2 112 115.8 111.8 116.8 110.8 117.4 110.6 117.8 110.5 118.2 110.8 118.8 110.7 119.8 110.5 120.2 111 120.8 111.6 122.2 110.2 122.7 109.9 122.2 109.9 121.8 109.2 121.4 109 120.2 109.2 119.9 110.1 119.8 110.2 119.2 109.8 118.8 110.1 118.2 110 117.8 110.2 116.8 110.8 115.8 111.7 115.2 111.6 114.2 111.2 113.8 111.1 112.8ZM310.7 115.2 311.2 115.8 310.8 116.1 310.3 115.8ZM195.7 118.8 196.2 118.1 196.5 119.2 196.2 119.6 195.8 119.2ZM322.8 121.2 323.2 120.1 323.8 120.2 324.2 120.0 324.6 120.2 323.2 121.5ZM325 121.2 325.8 120.5 326.1 120.8 326.3 121.2 326.8 121.7 327.3 121.8 327.7 122.2 327.2 122.4 326.8 121.8 325.2 122.0ZM108.4 127.2 108.8 127.0 109.2 127.2 108.8 127.9 108.5 127.8ZM108.5 129.2 108.8 128.6 109.6 129.2 110.2 130.2 109.4 130.8 109.2 131.2 108.4 131.8 108.2 132.2 108.7 132.8 108.6 133.2 108.2 133.5 107.8 133.5 106.8 132.8 106.6 131.8 106.8 131.4 107.7 131.4 108.6 130.8 108.7 130.2 108.5 129.8ZM106.5 134.8 106.8 134.5 107.2 134.5 108 134.8 108.1 135.2 107.7 135.8 108.4 136.2 108.5 136.8 108.2 137.2 108.2 137.8 108.8 138.2 108.5 138.8 107.2 140.0 107 139.8 107 137.8 106.7 137.2 106.9 135.8Z" fill="#fff" fill-rule="evenodd"/>
<path d="M340.7 30.2 341.8 29.8 342.5 30.2 342.1 32.2 341.8 32.4 340.3 31.8 340.1 31.2ZM205.8 35.4 210.2 34.8 211.2 35.7 214.2 36.1 215.8 36.0 216.8 35.1 217.2 35.1 218.1 37.2 218.8 37.6 219.2 37.3 220.8 37.5 222.2 37.0 223.2 37.7 224.8 36.9 225.8 36.9 226 35.2 226.2 35.1 228.2 35.9 229.5 35.8 229.7 35.9 229.8 36.8 229.4 38.2 230.2 38.9 231.2 37.8 232.2 37.9 232.5 38.2 232.2 38.6 231.4 39.2 232.3 40.3 232.8 40.4 233.8 40.1 234.7 39.4 236.8 40.6 238.8 40.6 240.2 43.8 241.8 43.5 242.8 44.2 243.2 45.0 243.8 45.1 244.3 44.2 244.2 43.7 247.2 44.9 248.2 44.4 248.6 44.8 248.5 45.8 249.2 46.1 250.1 45.8 250.2 44.7 250.8 44.6 251.8 45.1 252.8 42.2 254.8 42.1 257.2 40.1 257.8 40.6 259.8 40.7 261.2 42.2 262.3 41.8 262.8 42.3 263.3 42.2 263.2 41.8 262.8 41.4 263 40.8 263.8 40.3 264.8 40.7 265.7 41.8 264.8 41.8 264.3 42.2 264.3 42.8 265.8 43.6 266.2 43.6 267.2 42.2 267.8 40.5 268.8 39.5 272.2 38.3 273.8 38.6 274.8 38.5 275.3 40.2 276.8 41.5 277.8 41.2 278.1 40.8 277.8 39.8 278.2 39.3 279.8 39.9 280.8 39.7 281.8 40.2 282.2 39.9 283.2 40.1 283.8 39.2 284.8 39.5 285.2 39.4 286.1 38.2 286.8 38.0 288.1 39.2 290.8 40.6 291.2 41.5 292.8 42.0 293.8 41.0 296.8 41.5 297.8 41.1 298.8 40.2 300.2 39.9 301.2 40.1 302.2 39.7 303.7 38.2 303.1 37.8 303.2 37.2 303.8 37.0 304.4 38.2 304.3 38.8 305.3 39.8 305.3 40.2 306.3 40.8 306.4 41.2 306.9 41.8 306.4 42.2 306.9 42.8 306.9 43.2 305.8 43.4 305.4 43.8 305.4 44.2 306.9 45.8 306.8 46.2 306.2 46.6 305.8 45.6 305 46.2 304.8 47.3 303.8 47.0 302.8 47.7 301.2 47.1 300.2 47.8 299.9 48.2 300.1 49.2 299.8 49.8 300 50.2 300.2 50.6 301.2 50.8 301.5 51.2 300.8 51.3 300.2 50.8 299.8 50.8 299.2 51.3 298.2 51.3 297.7 50.2 297.8 49.2 297.2 48.8 296.8 49.0 296.3 50.8 295.8 50.3 295.2 50.5 295.2 51.2 294.3 51.8 294.3 52.8 294.8 53.2 294.8 53.7 294.2 53.8 294.1 55.2 294.2 55.6 294.8 55.5 295.2 55.0 295.8 55.2 295.8 56.3 294.8 56.3 294.2 55.8 293.8 55.8 293.7 55.2 293 54.8 293.2 54.2 292.8 54.1 292 54.2 292.4 54.8 291.8 55.2 292.8 55.8 292.2 56.3 291.8 56.3 289.8 53.0 288.8 53.8 288.6 52.2 288.2 51.9 287.2 52.8 286.9 52.8 286.6 51.8 284.8 50.0 284.2 50.2 285.1 50.8 285.2 51.2 284.8 51.4 283.8 51.1 281.8 51.5 281.6 51.8 282.1 53.2 280.8 53.8 280.7 53.2 281.2 52.8 281.2 52.2 279.8 50.9 275.8 50.3 274.2 51.3 273.7 50.8 273.9 49.8 273.2 48.8 271.2 49.0 269.8 50.8 269.2 50.9 268.8 50.8 268.8 50.2 269.2 49.9 269.2 49.2 268.6 49.8 268.1 49.8 268.5 48.8 268.5 47.2 267.8 46.5 266.2 47.0 265.8 46.8 264.2 49.3 263.8 49.5 262.2 49.5 261.2 48.3 260.2 49.0 258.9 49.2 258.7 50.8 259.2 50.7 259.8 51.2 258.5 52.8 258.6 53.8 258.2 53.9 257.9 53.8 258.2 52.2 257.8 51.7 255.8 51.7 255.2 51.4 254.8 51.6 254.1 53.8 254.1 55.2 253.8 56.0 253.2 56.2 252.2 56.3 251.8 55.8 251.6 53.8 252 53.2 251.3 51.8 250.8 51.8 250.5 52.2 250.7 53.8 250.2 54.1 249.8 54.0 249.4 54.2 249.8 55.2 250.2 55.4 250.8 55.0 251.3 55.2 250.9 56.2 251.5 57.2 250.8 57.6 249.2 57.0 248.8 57.8 246.8 58.4 246.1 59.2 246.3 60.2 244.9 61.2 245.4 62.2 245.2 62.8 244.8 63.0 244 62.2 243.2 62.2 244.2 63.2 243.9 65.2 245.2 65.8 240.4 65.8 241.1 64.8 241.1 64.2 240.8 63.8 239.8 63.8 238.8 64.8 238.8 65.2 239.2 65.7 240.2 65.8 239.8 66.2 240.3 66.8 240.7 67.8 240.2 68.2 239.2 68.0 237.2 66.0 235.4 67.2 235.2 67.8 236.8 68.2 237.8 67.9 238.8 68.7 239.8 69.0 239.8 69.8 239.3 70.8 237.8 72.3 237.2 72.3 236.2 73.4 235.8 73.4 235.2 73.8 234.8 73.5 231.7 73.2 231.7 73.8 232.6 74.8 232.3 75.2 231.8 74.9 231.2 75.9 229.8 76.3 229.2 76.8 228.2 76.8 227.8 77.2 228.2 77.7 228.8 77.7 230.8 77.6 231.2 77.2 231.8 78.4 231.8 80.2 231.2 80.5 229.8 79.8 228.2 80.9 227.2 80.8 226.8 81.2 226.2 82.8 227.3 83.8 226.2 86.0 224.9 85.8 224.8 85.0 223.2 85.5 222.8 83.8 222.2 83.4 221.6 83.8 221.7 85.2 219.5 85.8 219.8 86.5 222.2 86.5 222.4 86.8 222.1 88.2 222.2 88.5 223.2 88.5 223.6 88.8 222.5 89.2 222.5 89.8 222.8 89.9 223.8 89.6 224 89.8 223.8 90.2 222.8 91.0 221.2 90.8 219.8 91.6 217.8 90.3 217.7 89.2 217.2 88.5 216.7 88.6 215.7 90.2 215.3 91.2 215.8 92.2 216.8 92.0 217.8 92.3 218.2 92.8 217.9 93.8 216.8 94.8 216.7 96.2 215.8 96.7 214.7 96.2 214 96.8 215.2 96.9 216.2 98.7 217.2 98.3 217.5 98.8 217.4 99.8 216.5 101.2 214.5 102.8 214.4 105.2 214 105.8 214.2 106.1 214.8 105.3 215.2 105.3 215.3 107.2 214.5 108.2 215.3 110.2 212.8 110.4 212.6 108.2 212.2 107.9 211.2 108.9 210.2 108.9 208.8 110.3 207.8 110.7 207.4 109.8 207.7 109.2 206.8 108.4 206.2 108.8 205.2 107.8 204.2 107.8 202.2 109.5 201.7 108.8 200.2 108.3 199.2 109.0 197.2 109.1 196.9 108.8 197.4 107.8 197.2 107.2 195.8 107.4 194.7 108.2 194.4 106.8 196.2 106.6 196.7 105.8 196.2 105.1 197.8 105.8 198.5 105.8 198 104.8 198 103.8 197.1 103.2 196.2 102.2 195.1 101.8 194 99.2 195.5 98.8 196 96.8 195.2 95.5 196.9 94.8 197.3 94.2 196.3 93.2 196.1 92.2 195.5 91.8 195.2 90.8 194.2 91.5 193.2 91.5 192.8 91.9 191.8 94.0 190.8 93.9 190.5 92.8 192.5 90.8 192.7 88.8 192.2 88.3 191.7 88.2 191.6 87.8 192.2 87.2 191.9 86.8 191.2 86.6 190.2 87.0 189.9 86.8 190.1 83.8 190.6 83.2 188.2 81.0 186.9 81.8 186.8 83.3 185.2 83.4 184.2 82.4 183.2 81.9 181.8 83.3 180.4 82.8 180.8 81.9 181.3 81.8 182.6 80.2 181.8 79.9 181.2 78.8 181.9 77.2 182.9 76.2 182.5 75.2 182.2 75.1 181.2 76.5 179.8 77.8 179.2 77.1 178.7 77.2 179 78.2 177.5 79.2 176.8 80.9 175.8 81.5 175.2 81.7 175.2 80.8 174.8 80.4 173.2 80.4 172.4 81.2 172.2 81.8 171.8 81.8 171.2 82.2 170.2 81.2 169.2 81.6 167.8 81.3 166.8 79.8 166.2 80.3 165.2 80.3 164.8 79.4 164.7 77.8 163.6 76.8 164 74.8 162.8 73.8 163.2 71.2 162.1 69.2 162.1 68.2 162.6 67.8 162.5 67.2 164 66.2 164 64.8 164.5 64.2 164.5 63.2 164.2 62.9 163.8 63.4 162.7 62.2 162.8 61.9 164.2 61.6 164.8 60.6 166.8 60.5 167.2 61.0 168.2 61.0 169 60.2 169 59.2 170.8 58.0 173.8 58.0 174.2 57.5 175.2 57.5 175.8 58.0 177 57.2 177 56.8 176.5 56.2 176.5 55.2 175.8 54.4 173.8 54.5 173.2 55.0 172.8 55.0 172.5 54.8 173 54.2 172.8 54.0 171.8 53.9 171.2 54.4 170.1 53.2 170.2 51.8 169.7 51.2 170.2 50.8 170.2 50.2 170.1 47.8 169.6 47.2 170.8 46.1 172.8 45.6 173.2 45.1 174.8 45.0 175.2 45.5 177.2 45.6 177.5 45.2 177.5 44.2 176.8 43.4 175.8 43.4 174.1 41.8 174.6 41.2 173.2 39.7 174.8 39.6 175.2 39.2 175.8 39.7 176.8 39.7 178.2 41.1 179.2 41.0 180.2 41.4 180.9 40.8 180.9 39.8 182.2 39.6 183.2 38.2 184.2 38.9 185.2 40.1 185.8 39.3 186.8 39.6 187.2 39.0 187.3 39.8 188.2 40.6 189.2 40.6 191.2 39.2 191.2 38.0 192.7 38.3 194.7 37.8 194.8 37.1 194 36.8 193.8 36.2 194.8 36.0 197.2 36.8 198.2 36.5 198.8 35.9 200.2 36.0 200.8 36.2 200.9 37.2 201.8 38.3 202.2 38.1 203.1 36.8 203.1 36.2 202.5 35.2 202.8 34.8 203.2 35.0 203.3 35.8 204.8 36.6 205.2 35.8ZM210.8 45.0 209.5 46.2 209.5 46.8 209 47.2 209.8 48.0 210.2 47.5 212.2 47.4 212.8 46.9 214 46.8 211.8 45.0ZM215.8 46.1 214.5 46.8 216.2 47.0 217.2 48.0 220.2 48.0 220.5 47.8 218.2 46.5 217.8 46.5 217.2 46.0ZM226.8 46.9 226 47.8 226 49.2 227.2 49.5 227.5 49.2 227.6 47.2 227.2 46.9ZM233.2 45.5 232.2 46.7 231.8 46.9 231.2 46.5 231.2 47.2 232.8 47.9 233.7 47.8 234.1 46.8 233.9 45.8 233.8 45.4ZM238.8 57.5 238 58.2 239.5 59.2 239.5 59.8 240.2 60.6 240.6 60.2 240.5 58.8ZM253.2 43.7 253.2 44.2 253.8 44.7 254.8 44.5 254.9 45.2 253.9 46.8 253.9 47.8 254.8 48.5 256.5 47.8 256.8 46.6 257.2 46.6 257.8 47.1 258.8 47.1 259.6 46.2 259.2 45.9 258.2 45.9 257.2 44.9 256.8 44.9 256.2 43.8 253.8 43.3ZM260.2 43.9 259.9 44.2 259.9 45.2 260.2 45.5 261.1 44.8ZM263.2 43.4 262.9 43.8 263.2 44.6 263.8 44.6 264.6 43.8 264.2 43.4ZM269.8 43.9 269.4 44.8 269.4 45.2 269.8 45.4 270.4 44.8 270.2 44.0ZM272.8 41.3 272.4 43.2 273.8 44.3 274.2 43.8 273.8 43.0 273.2 42.8 273.1 41.8ZM299.2 48.8 298.3 49.2 299.2 50.2 299.7 49.8 299.7 49.2ZM197.2 99.2 196 100.2 196.2 101.0 197.2 100.5 198.2 100.7 198.8 100.2 198.8 99.6 197.8 99.1ZM165.2 61.5 164.9 61.8 165 62.8 165.2 63.0 166.8 63.0 167 62.8 166.8 61.5ZM168.3 79.2 167.4 79.2 167.8 80.4 168.2 80.5 168.7 80.2ZM182.2 46.3 181.2 47.4 180.2 47.1 179.6 47.2 179.5 47.8 180 48.2 179.4 49.8 181.3 51.2 179.9 52.8 180.2 53.1 180.8 52.7 181.8 52.7 182.2 52.2 182.9 52.2 183.4 53.8 183.1 54.8 183.9 56.2 184.8 57.0 186.2 56.5 186.8 55.6 187.8 54.8 186.6 54.2 186.5 53.2 185.4 52.2 187.8 52.1 188.8 53.2 189.8 53.2 190.3 53.8 190.4 55.2 190.9 55.8 190.9 56.2 191.8 56.8 191.9 57.8 191.4 58.2 191.2 59.2 190.8 59.2 190.5 59.8 191.2 60.2 191.3 59.2 194.2 59.1 194.8 59.5 195.2 59.1 195.8 59.1 196.8 58.1 197.2 58.1 197.8 58.6 198.8 58.5 201.2 56.2 202.5 56.2 202.1 58.2 202.8 58.7 203.3 57.8 203.3 57.2 203.8 57.2 204.8 57.1 205.2 57.6 207.2 57.6 207.8 58.0 209.8 58.1 211.2 57.0 211.8 57.5 213.8 57.5 214.5 56.8 214.2 56.5 212.2 56.5 211.1 55.2 211.5 54.8 211.2 54.5 210.8 55.0 209.8 54.9 208.2 53.5 207.8 54.0 206.8 53.9 205.8 55.1 205 54.8 204.5 53.2 203.8 52.6 202.8 52.6 202.6 53.2 202.2 53.3 201.2 52.3 200.8 52.3 199.2 50.4 198.5 50.2 198.5 49.2 199.2 49.1 200 48.2 199.8 47.0 198.8 46.9 196.9 48.8 196.8 49.4 196.2 49.2 196.2 48.2 195.8 47.8 195.2 47.8 194.8 47.4 193.8 47.4 192.9 48.8 193.3 49.2 193.2 49.7 192.8 49.8 190.8 48.4 190.3 49.2 189.2 49.4 188.2 50.9 187.2 50.9 187.7 49.8 187.1 49.2 187.6 48.8 187.6 47.8 187.2 47.4 185.8 47.9 185.2 46.9 184.2 46.9 183.8 47.6ZM202.2 45.5 201 46.2 201 47.8 202.2 49.6 203.5 47.8 202.5 46.8ZM218.8 69.6 218.6 70.2 219 70.8 219 71.2 220 72.2 220.5 73.8 221.2 74.5 221.5 73.2ZM245.2 47.3 244.4 48.2 244.5 49.8 245.2 50.6 246.8 50.6 247.1 50.2 247.1 48.8 245.8 47.3ZM201.8 72.9 201.5 73.8 200.5 74.2 201.8 75.0 202.5 74.2 202.5 73.2ZM206.2 71.5 205.5 72.2 206.2 73.0 207.2 73.0 207.5 71.8ZM233.8 69.9 232.8 69.9 232.1 70.8 232.2 71.3 233.3 70.8 233.8 71.9 234.5 71.2ZM201.8 93.9 201.4 94.2 201.4 95.2 202.2 95.6 202.6 94.8ZM169.2 37.8 169.5 37.8 170.2 39.0 170.9 39.2 170.2 39.8 169.2 38.8ZM307.7 42.8 307.8 41.4 308.2 41.9 308.8 41.9 309.2 43.0 309.8 43.4 310.2 43.4 310.3 43.8 309.2 43.8 308.2 44.8 308.2 44.2 307.6 43.8 308.1 43.2ZM72.5 42.2 73.8 41.8 73.8 42.2 73.3 42.8 73.8 43.2 73.5 43.8 74.1 45.2 76.3 46.3 77.2 47.7 78.2 47.2 80.2 49.2 80.5 50.2 80.2 50.5 78.8 50.5 78.3 51.2 78.4 52.8 79.5 53.8 79.8 54.7 80.4 55.2 79.2 56.3 78.2 56.8 77.8 56.2 75.2 55.7 74.3 54.3 74.2 53.1 73.8 52.7 73 53.2 74.1 54.2 73.8 54.8 74 55.8 74.5 56.8 74.2 57.3 73.2 57.2 73 56.2 71.6 53.8 72.7 52.8 71.8 51.2 73 50.2 72.8 49.8 72.2 49.8 71.8 50.5 71.2 50.4 70.2 49.2 69.5 49.2 69.1 50.2 67.2 51.8 67 52.8 67.2 53.2 68.8 52.6 69.2 53.6 71.2 54.2 70.1 56.2 70.8 57.1 72.4 57.8 72 58.8 72.2 60.2 74.5 60.2 76.3 61.8 76.2 63.2 76.8 63.6 77.2 63.4 78.1 62.8 78.2 62.1 78.8 62.2 80.2 62.8 80.2 63.6 79.2 63.6 79 64.2 80.2 64.9 80.9 64.2 80.8 63.8 81.8 62.9 82.8 62.2 83.2 62.4 83.3 63.2 82.6 64.2 83.2 65.3 82.5 65.8 82.5 66.8 81.8 67.4 81.4 68.2 82 69.8 83.2 70.5 83.7 71.2 82.9 71.8 83 72.8 82.2 73.2 81.6 72.2 82 71.2 81.2 70.6 80.4 70.8 79.8 71.5 79.2 70.4 77.8 71.2 75.8 70.1 74.2 70.8 73.2 69.8 73.6 69.2 73.7 68.2 72.2 66.8 71.3 66.8 71.5 66.2 70.8 65.8 71.3 64.2 70.2 63.9 69.8 63.3 68.8 63.3 67.8 61.8 67.2 61.7 65.8 62.2 65.8 63.2 66.8 64.2 67.3 64.2 67.2 65.5 65.2 63.2 65.1 62.8 65.6 61.2 66.6 59.8 66.3 58.8 65.2 57.5 64.2 57.2 62.8 58.8 62.2 58.8 62.3 56.2 61.8 55.9 61.1 54.2 61.9 49.8 62.2 49.2 63.6 48.8 64.2 47.9 65.2 47.8 66.3 46.8 65.3 45.8 65.8 45.4 66.8 45.9 67 46.8 67.8 47.6 68.2 46.2 69.2 45.9 71.2 44.0 72.2 43.5ZM78.8 54.3 78.3 54.8 78.3 55.2 79.2 55.7 79.7 55.2ZM74.2 61.2 74.8 62.4 75.2 63.0 75.7 62.2 75.5 61.8 74.8 61.0ZM301.1 48.2 301.8 48.2 301.9 48.8 301.8 49.3 301.2 49.5 300.6 48.8ZM302.9 48.2 303.2 47.8 303.9 48.2 304.2 48.8 303.8 49.6 303.2 49.2ZM264.4 50.8 265.2 49.8 266.2 49.8 267.1 50.2 266.2 51.3ZM271.8 50.2 272.8 50.0 273.2 50.8 272.2 51.2 271.8 50.8ZM253.2 57.2 254.8 56.0 255.2 56.1 255.9 57.2 256.2 58.8 255.2 59.0 254.2 57.8 253.8 58.0 253.4 57.8ZM294.8 60.2 296.4 58.8 296.4 59.2 296.8 59.7 297.3 59.8 296.2 60.3 295.2 60.3 294.8 60.8 294.8 61.8 294.2 61.9 293.2 61.6 293.2 60.7ZM80 61.2 81.8 60.8 81.9 61.8 81.2 62.5 80.8 62.5 80.2 62.2ZM256.1 60.8 256.9 60.8 256.5 62.8 255.6 62.2ZM258.1 61.8 259.2 61.3 259.7 61.8 258.8 62.8 259.2 62.9 259.2 63.3 258.8 63.3ZM275.8 62.0 277.6 61.8 279.8 62.8 279.8 63.8 280.5 64.8 280.6 66.2 281.2 67.2 281.9 67.8 281.8 68.4 280.8 67.7 280.4 68.2 281.1 69.2 279.8 69.5 279.3 69.2 278.8 68.4 277.5 67.8 276.7 66.2 275.6 65.8 274.4 63.8ZM298.2 61.8 299.2 62.1 300.2 61.8 300.7 62.2 299.7 64.8 299.2 65.1 298.5 64.8 298.7 63.8 298.2 63.2ZM293.3 64.8 294.8 64.1 294.8 64.8 293.8 65.5 293.3 65.2ZM262.1 66.2 262.2 65.5 263.2 65.8 263.5 66.8 262.8 66.9ZM276.7 70.2 277.6 70.2 278 70.8 276.8 71.3 276.4 70.8ZM89.6 72.2 90.8 72.0 92.8 73.2 94.8 73.2 94.3 73.8 94.8 74.2 96.4 74.2 96.7 76.8 95.7 77.2 95.9 78.2 94.8 78.4 93.8 77.8 94.5 76.8 93.8 75.8 93.8 74.2 92.8 73.3 92.2 74.8 93.6 75.8 93.1 76.2 92.2 76.4 91.8 75.9 91.2 75.9 90.2 76.7 89.2 76.5 88.5 74.8 88.7 73.8ZM111.2 77.8 111.8 78.1 113.2 78.1 113.8 78.6 115.5 78.8 115.4 79.2 116.2 81.2 117.8 82.3 119.8 80.6 120.2 80.7 121.2 81.6 121.8 81.6 123.2 83.2 125 83.2 125.1 84.2 125.9 84.8 126.5 85.8 128.8 86.3 129.3 86.8 130.6 88.8 130.8 90.1 131.2 90.3 131.4 90.8 131.1 91.8 132.2 92.5 133.2 92.0 134.2 92.8 135.2 92.7 135.9 93.2 134.8 93.8 134.1 95.8 134.2 96.6 136.8 96.6 137.9 96.2 138.8 95.5 139.3 97.2 138.8 97.3 137.9 98.2 138.8 99.1 140.2 98.2 140.2 97.2 140.8 96.7 142.4 96.8 142.2 97.6 141.2 98.0 141 98.2 141 98.8 141.8 99.2 142.8 99.1 143.4 99.8 142.8 100.2 141.8 100.0 141.6 100.2 141.8 100.9 142.8 101.1 143.3 102.2 142.2 102.3 141.8 102.7 142.1 104.2 141.5 105.8 142 106.8 141.8 108.2 141.3 108.8 140.8 110.4 139.8 110.5 138.2 111.1 136.8 110.9 136.5 111.2 137.2 111.7 137.5 112.8 137.2 113.0 136.2 112.5 135.2 112.7 134.9 114.2 134.2 114.7 131.8 114.9 130.8 113.8 129.8 114.8 130.5 115.2 130.2 116.1 129.8 116.4 128.5 115.2 127.8 113.8 126.2 114.8 125.2 113.8 124.8 113.8 124.7 112.8 123.8 111.8 120.2 111.8 119.9 112.2 120.2 112.6 121.2 112.6 121.4 113.2 119.9 114.2 119.8 116.3 118.8 116.2 117.8 116.7 116.8 116.5 114.8 117.2 113.1 116.2 112.8 116.8 113.3 117.8 116.2 119.4 116.8 120.4 116.9 121.8 117.7 122.8 117.2 122.8 116 124.2 115.9 125.2 117.1 126.8 117.2 127.3 116.8 127.5 114.2 126.7 113.2 127.5 111.8 127.9 111.2 127.2 113.2 126.2 112.2 124.8 110.4 124.2 110.6 123.2 110 122.2 110.4 120.8 109.9 119.2 110.1 117.8 110.8 117.3 111.8 117.2 112 116.2 110.2 115.2 108.8 113.8 109.4 112.8 109.7 110.8 109 109.2 109 108.2 108.7 107.8 109.2 107.2 109.2 105.8 108.7 105.2 108.6 104.8 109.5 103.8 109.6 102.8 109.2 102.2 109.2 101.8 110.2 101.6 111 100.8 110.6 99.2 111.1 98.8 111.2 97.6 111.8 98.6 113.2 99.0 114.5 97.8 114.8 96.1 115.2 96.1 115.8 95.6 116.8 96.5 118.2 96.5 118.8 95.5 119.2 96.0 119.5 95.2 118.8 94.5 116.2 94.4 115.8 94.9 114.8 95.0 113.8 93.9 113.1 93.8 112.8 92.9 111.9 93.2 111.8 94.9 110.8 94.9 110.6 93.8 109.1 91.8 109.8 91.6 110.7 90.8 110.6 89.2 110.1 88.8 110.1 87.8 109.6 87.2 109.6 86.8 108.2 86.0 106.2 85.9 105.8 85.4 104.8 86.2 104.8 86.9 103.8 86.9 103.2 87.3 102.8 87.2 101.8 85.9 101.7 83.2 100.8 82.2 99.3 81.8 99.1 81.2 99.2 80.2 99.8 79.6 100.8 79.2 101.7 79.8 101.4 80.8 101.6 81.2 103.2 82.4 103.7 82.2 103.8 81.2 105.2 81.8 104.8 83.2 105.2 83.9 106.2 84.3 107.2 81.1 109.8 80.0 110.4 79.2 110.6 78.2ZM137.8 99.4 136.9 100.2 137.8 101.5 138.2 101.5 138.6 101.2 138.5 99.8ZM178.7 81.8 179.2 81.5 179.5 82.8 179.3 83.8 178.8 84.3 178.5 84.2ZM311.7 109.2 314.2 108.6 315.1 109.8 315.9 110.2 317.2 110.9 319.2 111.3 320.1 110.2 320.8 110.1 321.8 110.0 322.8 110.6 323.8 109.8 326.2 110.9 327.2 109.8 327.8 110.1 328.2 109.7 329.8 111.3 330.7 111.8 330.8 112.2 329.4 112.8 329.2 113.3 329.6 114.2 328.2 115.0 327.6 115.8 328.8 116.1 330.2 117.1 331.2 116.8 332.8 118.1 332.8 119.2 333.7 121.2 333.5 121.8 333.2 122.0 332.8 121.8 332.2 120.8 331.8 120.5 328.8 123.4 327.8 122.2 326.8 121.6 324.2 122.0 323.2 120.5 322.6 120.8 322.2 121.6 320.2 120.8 319.8 121.7 319.2 121.8 318.8 122.2 319.2 122.7 319.8 122.1 320.2 122.5 320.8 124.3 321.8 124.4 322.6 125.8 320.8 125.8 319.8 127.5 318.8 127.3 317.7 126.2 318.3 124.8 317.1 122.8 316.4 120.8 317.6 119.8 318.8 119.6 319.7 118.2 319.2 117.8 318.2 117.6 315.2 118.6 313.8 117.5 312.8 117.4 312.4 116.2 309.8 113.8 309.8 113.2 311.2 111.8 312.5 111.2 312.8 110.9ZM211.6 111.2 212.4 111.2 212.2 112.4 211.1 112.2 211.1 111.8ZM306.7 111.8 307.2 111.4 308.4 111.8 306.8 112.8 306.3 112.8ZM225.5 112.2 226.8 112.2 226.8 113.2 227.4 113.8 226.7 113.8ZM117.6 118.8 120.3 117.2 120.3 117.8 119.8 118.5 119.2 118.8 119.5 120.2 117.5 120.2ZM325.1 123.8 325.8 123.1 326.1 123.8 325.8 124.7 325.2 124.9ZM324.2 125.8 324.8 125.4 325.2 125.8 325.8 127.2 324.8 127.8 324.8 129.2 324.2 129.6 323.3 129.2 322.8 128.5 322.6 127.2 323.2 126.8 322.7 126.2 322.8 125.8 323.8 126.6Z" fill="url(#stip)" fill-rule="evenodd"/>
<path d="M87.6 19.2 87.8 18.0 88.2 18.2 88.8 19.2 86.8 20.8 86.2 20.8 86.2 19.8 87.2 19.7ZM252.7 21.8 252.9 22.8 251.2 23.8 249.8 22.8 251.8 22.3ZM264.7 21.8 265.2 21.7 265.3 22.2 266.1 22.8 265.8 23.8 264.7 23.8ZM346.9 21.8 348.2 21.5 348.9 21.8 348.8 22.3 347.2 23.1 346.2 22.6 346.2 22.2ZM343.8 25.9 345.8 24.5 346.3 25.8 345.5 26.2 344.9 27.8 343.8 27.8 343.3 28.2 343.3 28.8 344.2 29.3 345.8 28.9 346.6 29.8 346.2 30.0 345.2 29.8 344.2 30.9 343.2 31.2 343.8 33.2 343.3 34.8 341.8 36.4 341.2 36.4 339.8 37.9 338.8 38.3 338.2 37.9 337.2 38.7 336.8 38.2 336.8 37.2 335.8 34.8 337.2 33.8 336.7 32.8 336.7 31.8 337.2 31.1 338.2 31.1 339 30.2 339.1 29.8 338.8 29.4 337.2 29.4 336.2 30.4 335.8 30.2 336.1 29.8 335.6 28.8 336.1 28.2 336.1 27.2 338.2 26.3 338.8 27.5 339.8 27.7 340.8 28.5 342.2 27.4 342.8 27.6 343.6 26.8 343.5 26.2ZM340.8 30.1 340.1 31.2 340.3 31.8 341.8 32.4 342.1 32.2 342.5 30.2 341.8 29.8ZM295.5 25.2 297.8 25.3 298.3 25.8 298.3 26.2 297.8 26.9 297.2 27.0 296.8 26.5 294.8 26.3 294.8 25.8ZM33 27.8 34.2 25.8 34.9 26.2 34.9 26.8 33.8 27.8ZM347.7 26.8 348.8 27.2 348.5 28.2 347.8 28.7 347.5 27.7ZM300.3 31.8 300.8 30.9 301.2 31.1 301.2 32.4 300.5 32.2ZM188.7 32.8 188.8 33.2 188.3 33.8 188.4 35.8 187.4 36.2 187.9 37.8 187.5 38.2 187.5 39.8 188.2 40.4 189.2 40.4 190.9 39.2 191 37.8 190.6 37.2 190.5 34.8 192.8 34.1 193.8 33.1 194.2 33.0 196.8 34.5 197.8 34.6 198.1 33.8 198.8 33.6 198.9 33.8 198.4 34.2 198.8 34.6 200.8 35.1 201.5 34.8 201.5 34.2 200.7 33.8 201.2 33.1 201.8 33.6 202.2 33.1 202.4 33.8 203.4 34.2 203.5 35.8 204.2 35.9 204.7 36.4 205.5 35.2 204.7 34.2 205.2 33.6 206.2 33.2 206.2 32.6 207.2 33.9 208.2 34.2 211.1 33.8 211.2 34.5 213.2 35.0 215.2 34.7 215.5 34.2 214.2 33.8 215.8 33.7 216.2 32.7 217.2 32.6 217.5 34.2 219.8 35.1 220.2 35.7 222.2 35.7 223.2 35.3 224.4 33.2 224.8 33.2 225.2 34.1 225.8 34.1 228.2 35.5 229.2 35.5 229.8 35.0 232.2 35.2 232.1 35.8 231.8 36.0 230.8 36.0 230.6 36.8 231.2 37.2 232.3 36.9 233.2 37.9 233.8 38.0 234.8 37.7 236.2 38.5 237.8 37.0 238.2 37.1 239.2 38.5 240.2 38.6 240.8 39.2 239.7 40.2 240.2 41.2 240.8 41.0 241.8 39.7 243.2 39.6 244.2 40.4 245.8 40.7 247.2 39.6 247.9 39.8 249.2 41.1 249.8 41.2 249.8 41.8 250.2 42.0 251 41.8 251.1 41.2 252.2 40.2 253.2 40.6 253.5 41.2 254.2 42.0 254.8 41.9 255.2 41.4 255.8 41.4 257.2 39.9 257.8 40.4 259.8 40.5 261.2 41.9 261.8 42.0 262.5 41.2 262.5 40.8 261.5 40.2 262.8 39.1 263.2 39.6 263.8 39.6 264 40.2 264.8 40.4 266 41.8 264.5 42.2 264.8 42.9 265.8 43.4 266.4 43.2 267.5 41.2 266.5 40.2 266.8 38.4 267.3 38.2 266.8 37.5 266.4 38.2 265.2 37.9 265.2 36.9 267.8 37.2 268.2 37.9 269.8 38.2 272.2 37.3 273.2 36.4 274.8 36.4 274.8 35.8 275.2 35.3 276.2 36.2 275.1 36.8 276 37.8 276.1 38.8 276.8 39.5 277.2 39.0 277.4 37.8 277.7 37.2 277.7 36.8 276.9 36.2 276.8 34.6 277.2 34.6 277.8 35.5 278.2 35.7 279.8 35.5 280.2 36.0 281.1 35.8 281.3 35.3 281.8 35.1 282.9 36.8 282.4 37.2 282.4 37.8 282.8 38.0 284.2 38.0 284.6 37.2 284.1 36.8 284.8 36.7 285.2 36.2 286.2 36.1 287.2 35.2 287.2 34.3 287.8 35.1 289.8 34.9 290.8 35.3 291 36.2 290.3 37.2 290.2 38.1 290.8 39.2 291.8 39.7 293.3 38.8 293.1 38.2 292.2 38.2 291.8 37.8 292.2 37.2 293.8 37.4 294.2 36.8 295.2 38.1 295.8 38.2 296 37.8 297.2 37.1 297.4 37.2 296.8 37.9 295.8 38.5 296.8 40.2 298 39.8 298.1 39.2 297.5 38.2 297.8 38.0 298.2 38.6 299.8 38.5 300.8 39.5 302.2 39.5 303.4 38.2 302.9 37.8 303 37.2 304.8 35.8 305.9 37.2 304.5 38.8 305.5 39.8 305.6 40.2 306.5 40.8 306.6 41.2 307.1 41.8 306.6 42.2 307.1 42.8 307.1 43.2 306.8 43.6 305.6 43.8 305.6 44.2 307.1 45.8 307 46.2 306.2 47.0 305.2 47.0 305 47.2 305.5 47.8 305 48.2 304.9 49.8 305.8 50.6 306.8 50.7 307.2 51.2 306.2 51.9 305.2 51.8 304.8 51.4 303.2 51.4 302.8 51.9 302.2 50.9 301.8 51.5 300.8 51.5 300.2 51.0 299.8 51.0 299.2 51.5 298.2 51.5 297.2 50.0 296.8 50.0 296.5 50.8 295.8 51.5 294.5 51.8 294.5 52.8 295.8 54.0 297.2 54.0 297.8 54.5 298.2 54.6 299.2 54.4 300.1 55.2 297.8 55.4 297.2 56.0 296.2 56.0 295.8 56.5 294.8 56.5 294.2 56.0 293.8 56.0 293.2 55.0 292 55.2 293 55.8 292.2 56.6 291.8 56.6 290.8 55.5 289.2 55.5 289 54.2 288.5 53.8 288.2 52.1 285.3 54.8 285.4 55.2 286 55.8 285.8 56.9 285 56.8 284.6 54.2 284.2 53.9 283.4 54.2 283.8 54.9 282.2 55.0 280.8 54.0 280.5 53.2 280.9 52.8 281 52.2 279.8 51.1 278 51.2 278.8 52.0 279.2 52.0 279.5 52.8 278.8 53.0 277.8 52.4 276.9 53.2 276.8 53.9 276.3 53.8 275.7 52.7 274.9 53.2 273.8 52.9 273.2 53.8 270.8 53.9 270.6 53.2 271.6 52.8 271.2 52.2 269.2 52.2 268.7 52.8 268.6 53.8 268.2 54.1 267.5 53.8 266.8 52.8 265.2 53.4 264.3 54.2 264.2 54.9 263.8 55.3 261.8 53.4 260.8 53.4 260.2 52.8 259.8 52.8 258.8 54.7 256.2 54.9 256.2 56.2 256.7 56.8 256.8 57.8 257.4 58.8 256.5 59.8 256.5 60.2 258.8 61.0 259.1 60.8 259.1 59.2 259.8 58.2 260.8 58.1 261.8 59.0 262 58.8 262.1 57.8 261.8 57.2 262.8 56.9 263.2 58.2 263.1 60.2 263.6 60.8 264.9 61.2 264.2 62.0 263.8 61.4 263.2 61.4 262.2 62.5 260.8 60.9 260.2 60.9 260 61.2 260 62.8 259.5 63.2 259.8 63.5 260.2 63.1 260.4 63.2 260.5 64.2 260.2 64.5 259.2 63.5 257.8 63.5 257.2 63.0 256.2 63.0 255.2 62.5 254.9 62.8 254.8 63.2 255.5 63.8 255.2 64.0 254.3 63.8 254.5 63.2 254.2 63.0 253.2 62.8 253.2 62.2 252.2 61.5 251.2 61.4 251.1 60.8 249.8 60.0 249.4 60.2 249.9 61.2 250.9 61.8 250.5 62.8 251.2 63.7 252.1 63.8 251.8 64.8 250.8 64.3 250.4 64.8 250.8 65.5 251.8 65.8 251.8 66.8 251.2 66.7 250.7 67.2 250.8 68.4 248.8 68.6 248.1 67.8 247.8 66.8 248.2 65.5 248.8 66.0 249.2 65.9 250.1 64.8 248.2 63.4 247.8 63.8 248.2 64.9 247.2 64.8 246.8 63.8 246 64.8 246.5 65.2 246.2 65.8 240.2 66.0 240 66.2 241 67.8 240.5 68.2 239.5 70.8 237.8 72.5 237.2 72.5 236.2 73.6 234.8 74.0 232.2 75.5 231.8 75.1 231.2 76.1 229.8 76.5 229.2 77.1 228.1 77.2 230.8 77.4 231.2 77.0 231.8 77.5 232.8 76.7 234.1 78.2 234 78.8 233.2 79.0 232.2 78.5 232 80.2 231.2 81.0 230.2 80.1 229.8 80.0 228.2 81.1 227 81.2 227 81.8 228 82.2 228 82.8 228.4 83.2 228.4 84.2 228.2 84.7 227.4 85.2 227.2 86.2 225.7 87.2 225.7 87.8 226.5 88.2 224.8 89.3 223.5 90.8 223.4 91.2 220.2 94.2 220 94.8 220.5 95.8 220.4 99.2 220.9 99.8 219.8 100.0 219.6 100.8 221.5 102.2 221.7 102.8 221.6 103.8 220.4 104.2 221.4 105.2 221.4 105.8 220.8 106.5 219.2 106.4 218.8 107.0 218 106.2 218 103.8 217.8 103.5 217.4 103.8 217.5 104.8 216.8 105.5 216.2 105.6 215.8 105.0 215.5 105.2 215.5 107.2 215 107.8 215 108.2 215 109.2 215.5 109.8 215.2 110.5 212.8 110.6 212.4 110.2 212.2 108.1 211.2 109.1 210.2 109.1 208.8 110.5 208.2 110.5 207.8 111.0 206.8 110.9 206.6 109.8 207.5 109.2 206.8 108.6 206.2 109.0 205.2 108.1 204.2 108.1 203.2 109.0 202.5 109.2 202.5 109.8 203.3 110.8 203.2 111.3 201.8 111.4 201.1 110.8 201.6 110.2 200.2 108.9 199.8 109.0 198.9 109.8 198.9 110.2 200.4 111.8 200.2 112.8 199.3 112.7 198.2 110.9 197.2 110.9 196.6 110.2 195.6 110.2 194.8 110.8 196.2 112.2 195.2 113.6 194.2 113.9 193.8 113.8 193.7 113.2 194.5 110.8 194.1 109.8 193.2 108.9 192.2 109.5 191.2 108.8 190.7 107.8 190.8 106.2 191.2 105.2 192.2 104.8 192.8 105.5 194.2 105.5 194.8 106.5 196.2 106.4 196.5 105.8 195 103.8 195.6 103.2 195.5 102.2 193.7 101.2 193.7 100.8 192.1 99.8 192.1 97.8 191.7 97.2 191.7 96.8 191.1 96.2 191 95.2 190.5 94.2 189.7 93.8 189.5 92.8 188.8 92.2 188.3 90.8 188.8 90.6 189.2 91.1 189.8 90.7 190.7 90.8 191.5 89.8 191.2 89.5 190.8 90.1 190.2 89.4 189.8 89.4 189.2 87.9 188.8 88.4 188.6 88.2 188.5 86.8 188.2 86.5 187.8 86.5 187.2 87.0 186.2 86.9 184.2 84.8 182.2 85.0 181.6 84.2 181.5 83.8 180.8 83.0 180.2 83.0 178.5 84.8 178.9 86.2 177.8 86.3 177.8 85.8 176.9 84.8 177.2 84.0 176.1 83.8 175.8 82.8 175.2 82.7 174.8 80.6 173.2 80.6 172.2 82.0 171.8 82.0 170.2 83.0 168.8 82.4 167.8 82.9 167.5 81.2 167 80.8 167 80.2 166.8 80.0 166.2 80.5 165.2 80.5 164 78.8 164.5 78.2 164.5 77.8 164.2 77.5 163.8 78.0 163.2 77.9 162 76.8 161.7 75.8 161.7 75.2 162.5 74.2 162.5 72.8 162.9 72.2 163 71.2 162.5 70.8 162.4 69.8 161.9 69.2 161.9 68.2 162.4 67.8 162.4 67.2 163.2 66.4 163.9 66.2 163.9 64.8 164.4 64.2 164.2 63.1 163.8 63.6 162.1 61.8 162.8 61.0 163.2 61.5 164.2 61.4 164.4 60.8 164.8 60.4 166.8 60.4 167.2 60.9 168.2 60.9 168.9 60.2 168.9 59.2 169.8 58.4 170.2 58.4 170.8 57.9 173.8 57.9 174.2 57.4 175.2 57.4 175.8 57.9 176.2 57.4 176.9 57.2 176.9 56.8 176.4 56.2 176.4 55.2 175.8 54.6 173.8 54.6 173.2 55.1 172.8 55.1 172.4 54.8 172.7 54.1 171.8 54.1 171.2 54.6 169.9 53.2 170 51.8 169.5 51.2 169.9 50.8 169.9 50.2 169.9 47.8 169.4 47.2 170.8 45.9 171.2 45.9 171.8 45.5 172.8 45.4 173.2 44.9 174.8 44.9 175.2 45.4 177.4 45.3 177.4 44.2 176.8 43.6 175.8 43.6 173.9 41.8 174.4 41.2 173 39.8 173.5 39.2 172.3 38.8 172.8 37.8 173.8 37.2 174.2 37.6 174.8 37.5 175 38.8 175.5 39.2 176.8 39.4 178.2 40.9 178.8 41.0 180.2 39.6 182.2 39.4 182.5 38.8 183.5 37.8 183.5 37.2 184.8 36.1 185.8 36.3 186.3 35.8 187.2 35.6 187.6 35.2 187.2 34.8 187.2 33.0 188.2 33.1ZM210.2 34.8 205.8 35.4 205.2 35.8 204.8 36.6 203.3 35.8 203.2 35.0 202.8 34.8 202.5 35.2 203.1 36.2 203.1 36.8 202.2 38.1 201.8 38.3 200.9 37.2 200.8 36.2 200.2 36.0 198.8 35.9 198.2 36.5 197.2 36.8 194.8 36.0 193.8 36.2 194 36.8 194.8 37.1 194.7 37.8 192.8 38.3 191.2 38.0 191.2 39.2 189.2 40.6 188.2 40.6 187.3 39.8 187.2 39.0 186.8 39.6 185.8 39.3 185.2 40.1 184.3 39.2 184.2 38.9 183.2 38.2 182.2 39.6 180.9 39.8 180.9 40.8 180.2 41.4 179.2 41.0 178.2 41.1 176.8 39.7 175.8 39.7 175.2 39.2 174.8 39.6 173.2 39.7 174.6 41.2 174.1 41.8 175.8 43.4 176.8 43.4 177.5 44.2 177.5 45.2 177.2 45.6 175.2 45.5 174.8 45.0 173.2 45.1 172.8 45.6 170.8 46.1 169.6 47.2 170.1 47.8 170.2 50.2 170.2 50.8 169.7 51.2 170.2 51.8 170.1 53.2 171.2 54.4 171.8 53.9 172.8 54.0 173 54.2 172.5 54.8 172.8 55.0 173.2 55.0 173.8 54.5 175.8 54.4 176.5 55.2 176.5 56.2 177 56.8 177 57.2 175.8 58.0 175.2 57.5 174.2 57.5 173.8 58.0 170.8 58.0 170.2 58.6 169.8 58.6 169 59.2 169 60.2 168.2 61.0 167.2 61.0 166.8 60.5 164.8 60.6 164.2 61.6 162.8 61.9 162.7 62.2 163.8 63.4 164.2 62.9 164.5 63.2 164.5 64.2 164 64.8 164 66.2 162.5 67.2 162.6 67.8 162.1 68.2 162.1 69.2 162.6 69.8 162.7 70.8 163.2 71.2 162.8 73.8 164 74.8 163.6 76.8 164.7 77.8 164.8 79.4 165.2 80.3 166.2 80.3 166.8 79.8 167.8 81.3 169.2 81.6 170.2 81.2 171.2 82.2 171.8 81.8 172.2 81.8 172.4 81.2 173.2 80.4 174.8 80.4 175.2 80.8 175.2 81.7 175.8 81.5 176.8 80.9 177.5 79.2 179 78.2 178.8 77.2 179.2 77.1 179.8 77.8 181.2 76.5 182.2 75.1 182.5 75.2 182.9 76.2 181.9 77.2 181.2 78.8 181.7 79.9 182.6 80.2 181.3 81.8 180.8 81.9 180.4 82.8 181.7 83.3 183.2 81.9 184.2 82.4 185.2 83.4 186.8 83.3 186.9 81.8 188.2 81.0 190.6 83.2 190.1 83.8 189.9 86.8 190.2 87.0 191.2 86.6 191.9 86.8 192.2 87.2 191.6 87.8 191.7 88.2 192.2 88.3 192.7 88.8 192.5 90.8 190.5 92.8 190.8 93.9 191.8 94.0 192.8 91.9 193.2 91.5 194.2 91.5 195.2 90.8 195.5 91.8 196.1 92.2 196.3 93.2 197.3 94.2 196.9 94.8 195.2 95.5 196 96.8 195.5 98.8 194 99.2 195.1 101.8 196.2 102.2 197.1 103.2 198 103.8 198 104.8 198.5 105.8 197.8 105.8 196.2 105.1 196.7 105.8 196.2 106.6 194.4 106.8 194.7 108.2 195.8 107.4 197.2 107.2 197.4 107.8 196.9 108.8 197.2 109.1 199.2 109.0 200.2 108.3 201.7 108.8 202.2 109.5 202.8 108.8 203.3 108.8 204.2 107.8 205.2 107.8 206.2 108.8 206.8 108.4 207.7 109.2 207.4 109.8 207.8 110.7 208.8 110.3 210.2 108.9 211.2 108.9 212.2 107.9 212.6 108.2 212.8 110.4 215.3 110.2 214.5 108.2 215.3 107.3 215.2 105.3 214.8 105.3 214.2 106.1 214 105.8 214.4 105.2 214.5 102.8 216.5 101.2 217.4 99.8 217.5 98.8 217.2 98.3 216.2 98.7 215.2 96.9 214 96.8 214.8 96.2 215.8 96.7 216.7 96.2 216.8 94.8 217.9 93.8 218.2 92.8 217.8 92.3 216.8 92.0 215.8 92.2 215.3 91.2 215.7 90.2 216.8 88.6 217.2 88.5 217.7 89.2 217.8 90.3 219.8 91.6 221.2 90.8 222.8 91.0 223.8 90.2 224 89.8 223.8 89.6 222.8 89.9 222.5 89.8 222.5 89.2 223.6 88.8 223.2 88.5 222.2 88.5 222.1 88.2 222.4 86.8 222.2 86.5 219.8 86.5 219.5 85.8 221.7 85.2 221.6 83.8 222.2 83.4 222.8 83.8 223.2 85.5 224.8 85.0 224.9 85.8 226.2 86.0 227.3 83.8 226.2 82.8 226.8 81.2 227.2 80.8 228.2 80.9 229.7 79.8 231.2 80.5 231.8 80.2 231.8 78.4 231.3 77.2 230.8 77.6 228.8 77.7 228.2 77.7 227.8 77.2 228.3 76.8 229.2 76.8 229.8 76.3 231.2 75.9 231.8 74.9 232.3 75.2 232.6 74.8 231.7 73.8 231.8 73.2 234.8 73.5 235.2 73.8 235.8 73.4 236.2 73.4 237.2 72.3 237.8 72.3 239.3 70.8 239.8 69.8 239.8 69.0 238.8 68.7 237.8 67.9 236.8 68.2 235.2 67.8 235.4 67.2 237.2 66.0 239.2 68.0 240.2 68.2 240.7 67.8 240.3 66.8 239.8 66.2 240.2 65.8 239.2 65.7 238.8 65.2 238.8 64.8 239.8 63.8 240.7 63.8 241.1 64.2 241.1 64.8 240.4 65.8 245.2 65.8 243.9 65.2 244.2 63.2 243.2 62.2 244 62.2 244.8 63.0 245.2 62.8 245.4 62.2 244.9 61.2 246.3 60.2 246.1 59.2 246.8 58.4 248.8 57.8 249.2 57.0 250.8 57.6 251.5 57.2 250.9 56.2 251.3 55.2 250.8 55.0 250.2 55.4 249.8 55.2 249.4 54.2 249.8 54.0 250.2 54.1 250.7 53.8 250.5 52.2 250.8 51.8 251.3 51.8 252 53.2 251.6 53.8 251.8 55.8 252.3 56.3 253.2 56.2 253.8 56.0 254.1 55.2 254.1 53.8 254.8 51.6 255.2 51.4 255.8 51.7 257.8 51.7 258.2 52.2 257.9 53.8 258.2 53.9 258.6 53.8 258.5 52.8 259.8 51.2 259.2 50.7 258.7 50.8 258.9 49.2 260.2 49.0 261.2 48.3 262.2 49.5 263.8 49.5 264.2 49.3 265.8 46.8 266.2 47.0 267.8 46.5 268.5 47.2 268.5 48.8 268.1 49.8 268.6 49.8 269.2 49.2 269.2 49.9 268.8 50.2 268.8 50.8 269.2 50.9 269.8 50.8 271.2 49.0 273.3 48.8 273.9 49.8 273.7 50.8 274.2 51.3 275.8 50.3 279.8 50.9 281.2 52.2 281.2 52.8 280.7 53.2 280.8 53.8 282.1 53.2 281.6 51.8 281.8 51.5 283.8 51.1 284.8 51.4 285.2 51.2 285.1 50.8 284.2 50.2 284.8 50.0 286.6 51.8 286.9 52.8 287.2 52.8 288.2 51.9 288.6 52.3 288.8 53.8 289.8 53.0 291.8 56.3 292.2 56.3 292.8 55.8 291.8 55.2 292.4 54.8 292 54.2 292.8 54.1 293.2 54.2 293 54.8 293.7 55.2 293.8 55.8 294.2 55.8 294.8 56.3 295.8 56.3 295.8 55.2 295.2 55.0 294.8 55.5 294.2 55.6 294.1 55.2 294.2 53.8 294.8 53.7 294.8 53.2 294.3 52.8 294.3 51.8 295.2 51.2 295.2 50.5 295.8 50.3 296.3 50.8 296.8 49.0 297.2 48.8 297.8 49.2 297.7 50.2 298.2 51.3 299.2 51.3 299.8 50.8 300.2 50.8 300.8 51.3 301.5 51.2 301.2 50.8 300.2 50.6 300 50.2 299.8 49.8 300.1 49.2 299.9 48.2 300.2 47.8 301.2 47.1 302.8 47.7 303.8 47.0 304.8 47.3 305 46.2 305.8 45.6 306.2 46.6 306.8 46.2 306.9 45.8 305.4 44.2 305.4 43.8 305.8 43.4 306.9 43.2 306.9 42.8 306.4 42.2 306.9 41.8 306.4 41.3 306.3 40.8 305.3 40.2 305.3 39.8 304.3 38.7 304.4 38.2 303.8 37.0 303.2 37.2 303.1 37.8 303.7 38.2 302.2 39.7 301.2 40.1 300.2 39.9 298.8 40.2 297.8 41.1 296.8 41.5 293.8 41.0 292.8 42.0 291.2 41.5 290.8 40.6 288.1 39.2 286.8 38.0 286.1 38.2 285.2 39.4 284.8 39.5 283.8 39.2 283.2 40.1 282.2 39.9 281.8 40.2 280.8 39.7 279.8 39.9 278.2 39.3 277.8 39.8 278.1 40.8 277.8 41.2 276.8 41.5 275.3 40.2 274.8 38.5 273.8 38.6 272.2 38.3 268.8 39.5 267.8 40.5 267.2 42.2 266.2 43.6 265.8 43.6 264.3 42.8 264.3 42.2 264.8 41.8 265.7 41.8 264.8 40.7 263.8 40.3 263 40.8 262.8 41.4 263.2 41.8 263.3 42.2 262.8 42.3 262.3 41.8 261.2 42.2 259.8 40.7 257.8 40.6 257.2 40.1 255.8 41.6 255.3 41.6 254.8 42.1 252.8 42.2 251.8 45.1 250.8 44.6 250.2 44.7 250.1 45.8 249.2 46.1 248.5 45.8 248.6 44.8 248.2 44.4 247.2 44.9 244.2 43.7 244.3 44.2 243.7 45.1 243.2 45.0 242.8 44.2 241.8 43.5 240.2 43.8 238.8 40.6 236.8 40.6 234.8 39.4 233.8 40.1 232.8 40.4 232.2 40.3 231.4 39.2 232.2 38.6 232.5 38.2 232.2 37.9 231.2 37.8 230.2 38.9 229.4 38.2 229.8 36.8 229.8 35.9 229.5 35.8 228.2 35.9 226.2 35.1 226 35.2 225.8 36.9 224.8 36.9 223.2 37.7 222.2 37.0 220.8 37.5 219.2 37.3 218.8 37.6 218.1 37.2 217.2 35.1 216.7 35.1 215.8 36.0 214.2 36.1 211.2 35.7ZM256.2 60.6 255.6 62.2 256.2 62.8 256.5 62.8 257 61.2 256.9 60.8ZM258.2 61.7 258.2 62.4 258.8 63.2 259.2 63.3 259.2 62.9 258.8 62.8 259.7 61.8 259.2 61.3ZM178.8 81.7 178.5 82.8 178.5 84.2 178.8 84.3 179.3 83.8 179.5 82.8 179.2 81.5ZM183.2 82.1 182 83.2 182 83.8 182.8 84.5 183.2 84.6 183.8 84.1 184.8 84.2 185.1 83.8 185 83.2ZM188.2 81.1 187.1 81.8 186.9 84.2 186.2 84.8 185.6 84.8 185.4 85.2 186.2 86.1 188.2 86.0 188.8 85.5 189.8 85.5 189.9 85.2 189.9 83.8 190.4 83.2ZM239.8 64.1 239 64.8 239 65.2 240.2 65.5 240.9 64.8 240.9 64.2ZM247.2 58.5 246.5 59.2 246.5 59.8 246.8 60.0 248.2 60.0 248.6 59.2 248.2 58.8ZM254.8 56.0 253.2 57.2 253.4 57.8 253.8 58.0 254.2 57.8 255.2 59.0 255.8 59.0 256.2 58.8 255.9 57.2 255.2 56.1ZM264.8 50.0 264.4 50.8 266.2 51.3 267.1 50.2 266.2 49.8ZM265.8 47.1 265 48.2 265.8 49.1 266.1 48.2 266 47.2ZM272.2 49.9 271.8 50.2 271.8 50.8 272.2 51.2 273.2 50.8 273.1 50.2ZM301.2 48.1 300.6 48.8 301.2 49.5 301.8 49.3 301.9 48.8 301.8 48.2ZM303.2 47.8 302.9 48.2 302.9 48.8 303.8 49.6 304.2 48.8ZM194.2 94.3 193 95.8 192.8 97.2 195.2 98.0 195.5 97.8 195.5 96.2 195 95.8 195 94.8ZM247.8 61.1 246.2 62.3 246.2 63.4 246.8 63.6 247.2 62.8 247.8 63.0 248.8 62.2 249 61.2ZM119.6 33.8 120.2 34.2 120.1 34.8 119.8 35.1 119.2 35.1 119 34.2ZM317.9 35.8 319.3 35.8 319.2 36.8 319.6 37.8 319.2 38.1 318.8 38.2 318.2 37.8 317.6 36.2ZM260.7 36.8 261.4 36.8 260.9 37.2 261 38.8 260.2 39.0 260 38.2ZM309.2 37.1 310.2 36.4 310.8 36.6 312.2 37.9 313.8 38.4 314.1 37.8 313.8 36.8 314.5 36.8 315.8 39.9 316.2 40.5 317 40.8 316.8 41.0 314.8 40.2 314.4 39.8 314.2 38.7 313.2 40.2 314.6 41.2 313.2 42.6 312.3 42.2 312.3 41.2 311.9 40.8 310.5 40.8 310.8 41.2 312.2 41.8 312.1 43.8 312.7 44.8 312.2 45.4 311.5 45.8 312.1 46.2 311.4 46.8 312 47.2 311.8 47.5 310.8 47.4 310.2 48.0 309.8 47.7 309.5 45.8 308.8 45.0 308.2 45.0 307.4 43.8 307.9 43.2 307.5 42.8 307.5 41.2 307 40.8 307.2 38.2 308.2 37.3ZM307.8 41.4 307.7 42.7 308.1 43.2 307.6 43.8 308.2 44.2 308.2 44.8 309.2 43.8 310.3 43.8 310.2 43.4 309.8 43.4 309.2 43.0 308.8 41.9 308.2 41.9ZM169 37.8 169.8 37.1 170.5 37.8 171.9 39.2 170.8 39.5 170.2 40.0 169 38.8ZM169.2 37.7 169.2 38.8 170.2 39.8 170.9 39.2 170.2 39.0ZM64.6 41.2 65.4 41.8 65.4 42.8 65.8 43.1 66.5 42.8 67 42.2 67 41.8 67.8 41.1 69.2 43.1 70.2 43.0 71.2 42.2 71.2 41.3 71.8 41.4 73.2 40.9 74 41.8 74 42.2 73.5 42.8 74.8 44.6 76.2 45.0 76.6 44.8 76.5 43.8 77.2 43.5 78.8 45.1 79.2 45.0 79.8 45.7 80.8 45.6 81.2 46.2 81.7 46.2 81.3 46.8 81.5 47.2 81.3 48.2 82.2 49.2 83 48.8 82.8 46.8 83.1 46.2 83.2 46.1 84 46.8 84.4 48.8 85.2 49.4 86.2 49.5 86.3 50.2 85.8 50.3 85.2 50.8 84.2 50.9 83.5 51.8 83.5 52.2 82.8 52.8 81.2 52.4 80.8 52.8 81.5 54.8 80.7 56.2 80.2 56.4 79.8 56.0 79.2 56.5 78.5 56.8 79 57.2 79 58.2 78.2 58.4 77.5 59.2 77.5 60.2 78.2 61.0 79.8 60.5 80.6 59.8 80.6 58.8 80 58.2 80.2 58.0 81.3 58.2 81.9 59.8 82.2 60.0 83.4 59.8 83.4 60.2 84.2 61.2 83.9 61.8 84.4 62.2 84 62.8 84 64.8 83.5 65.2 83.3 68.2 83.9 68.8 83.9 69.2 85.8 70.5 87.8 70.6 88.8 71.0 89.4 70.2 90.2 69.8 91.2 70.3 91.8 71.4 92.2 71.7 93.2 71.2 93.4 71.8 92.9 72.2 93.2 73.0 94.8 73.0 95 73.2 94.5 73.8 94.8 74.0 96.2 73.5 97.9 75.2 98 76.8 97.5 77.2 97.4 79.2 97.8 79.6 99.2 80.0 99.8 79.4 100.2 79.4 100.8 79.0 102.8 80.5 103.5 79.8 103.5 79.2 105.2 77.7 107.2 77.6 108.8 76.5 109.2 77.1 109.8 76.6 110.8 77.5 111.2 77.5 111.8 77.9 113.2 77.9 113.8 78.4 116.8 78.6 117.2 78.0 119.2 78.1 120.4 79.2 120.4 79.8 120 80.2 121.2 81.4 121.8 81.4 123.2 83.0 125.2 83.0 125.8 83.7 126.2 83.2 126.3 83.8 127.7 85.4 128.8 85.2 129.2 85.6 130.5 87.2 131 88.8 131.8 89.6 132.5 89.8 132.2 90.3 133.9 90.2 135.2 90.7 136.3 91.8 136.5 92.8 137.2 93.5 139.2 93.5 140 94.2 139.8 95.0 139 95.2 139 96.2 139.5 96.8 139.5 97.2 138.8 97.5 138.1 98.2 138.8 98.9 139.2 98.4 140 98.2 139.9 97.2 140.8 96.4 142.2 96.5 143 96.8 142.9 97.8 143.8 98.8 145.2 99.8 144 101.2 144 101.8 143 102.8 142.9 103.8 142.5 104.2 142.5 106.8 142 107.2 142 108.2 141.5 108.8 141.5 109.8 141 110.8 139.2 111.8 138.8 112.2 138.9 113.2 138.2 113.9 137.2 113.9 136.8 114.4 134.8 114.5 133.4 115.2 132.4 116.2 132.5 117.8 132 118.8 131.2 119.4 130.2 119.8 129.8 119.4 129.2 119.8 128.7 119.8 128.8 119.2 129.4 118.8 129.2 117.8 128.7 117.2 128.5 115.8 127.8 114.9 126.2 115.0 125.8 114.5 125.2 114.5 124.5 113.8 124.5 112.8 123.8 112.0 120.1 112.2 121.2 112.4 121.6 112.8 121.6 113.2 120.8 114.1 120.1 114.2 120 116.2 119.4 116.8 120.2 117.0 121.8 115.5 122.8 115.5 123 115.8 123 116.2 122.5 116.8 123 117.2 123 117.8 122.4 118.2 122.4 118.8 121.8 118.8 121.2 118.2 120.9 118.8 122.1 119.8 122.1 120.2 122 120.8 121.2 121.2 120.9 122.8 121.8 125.2 120.7 124.8 120.7 123.2 120.1 122.2 120.6 121.2 119.8 120.5 117.2 120.5 117 120.8 117.1 121.8 118 122.8 118 123.2 117.8 123.5 117.2 123.0 116.1 124.2 116.1 125.2 117.5 126.8 117.8 128.1 119.2 128.1 120.5 129.2 120.4 129.8 119.2 130.1 118.8 129.7 117.5 129.8 117.2 129.2 115.8 129.3 114.8 128.5 114.2 128.5 113.8 129.1 112.8 128.7 111.8 129.0 111.2 128.8 110.6 127.8 111.8 126.5 112.9 126.2 112.5 125.8 112.4 125.2 111.2 125.0 110.8 125.4 110.2 125.4 108.9 126.2 108.8 127.0 107.3 125.3 107.5 124.2 107.2 123.8 107.1 121.8 107.6 119.2 109 118.2 108.2 117.9 108.1 116.2 108.1 115.8 108.7 115.2 108.5 107.8 108.9 107.2 109 105.8 108.5 105.2 108.4 104.8 109.4 103.7 109.4 102.8 108.9 102.2 109 101.8 109.2 101.5 110.2 101.4 110.9 100.8 110.4 99.2 110.9 98.8 110.9 97.8 111.2 97.4 111.6 97.8 111.8 98.4 113.2 98.9 114.4 97.8 114.4 96.2 114.8 95.9 115.2 95.9 115.8 95.4 116.8 96.4 118.2 96.4 118.4 95.8 118.8 95.4 119.3 95.9 119.4 95.2 118.8 94.6 116.2 94.6 115.8 95.1 114.8 95.1 113.7 94.1 113.2 94.1 112.9 93.8 112.8 93.1 112.1 93.2 112.1 94.8 111.8 95.1 110.8 95.1 110.4 94.8 110.4 93.8 109.9 93.2 109.9 92.8 108.9 91.8 110.4 90.8 110.4 89.2 109.9 88.8 109.9 87.8 109.4 87.2 109.4 86.8 108.8 86.6 108.2 86.1 106.2 86.1 105.8 85.6 105.1 86.2 104.8 87.1 103.8 87.1 102.8 87.9 102.2 87.9 101.4 88.8 101.4 89.8 100.8 90.3 99.8 90.0 98.8 90.8 98.6 90.2 99.2 89.1 99.8 89.7 100.2 89.7 100.6 89.2 100.2 88.2 101.6 86.8 101.5 83.2 101.2 83.0 100.2 84.0 99.2 84.0 98.2 82.9 96.4 82.8 97 81.2 96.8 80.8 96.2 80.5 95.2 81.5 94.2 81.4 93.1 80.2 93.1 78.8 92.2 77.9 91.2 78.0 90.8 77.4 88.8 77.4 87.7 76.2 87.6 75.8 85.8 73.9 84.8 74.7 83.7 74.2 83.2 73.0 82.8 73.0 82.3 74.2 81.8 74.8 79.8 73.2 77.8 73.3 74.8 71.0 74.2 71.0 73 69.8 73.4 69.2 73.4 68.2 72.2 67.0 71.8 67.0 70.1 68.2 70.1 66.8 70.9 65.2 71 64.2 70.2 64.1 69.8 63.5 68.8 63.5 67.9 62.8 67.8 62.0 66.2 62.1 66.1 63.2 67.5 64.2 67.5 65.8 67.2 66.0 67 65.2 64.2 62.2 64.6 61.8 64.6 61.2 62 58.8 61.6 57.2 60.7 56.8 60.7 55.2 60.2 54.2 59.8 53.8 58.8 53.8 58.1 54.2 56.2 51.3 55.2 50.8 55.2 50.2 54.7 49.8 54.8 47.7 55.8 47.5 56.2 48.1 56.8 47.6 57.3 48.8 55.9 49.2 55.7 50.3 56.2 50.2 57.8 51.7 58.8 51.9 59.5 51.8 60 49.8 60.8 48.8 62.3 47.8 62.6 45.8 62.3 45.6 61.2 46.6 60 44.8 59.1 44.2 58.9 43.8 59.2 43.2 60.8 42.4 61.2 42.2 61.8 42.6 62.8 41.8 63.8 43.0 63.9 42.8 63.7 41.8ZM72.8 42.1 72.2 43.5 71.2 44.0 69.2 45.9 68.1 46.2 67.8 47.6 67 46.8 66.8 45.9 65.8 45.4 65.3 45.8 66.3 46.8 65.2 47.8 64.2 47.9 63.6 48.8 62.2 49.2 61.9 49.8 61.1 54.2 61.8 55.9 62.3 56.2 62.2 58.8 62.8 58.8 64.2 57.2 65.2 57.5 66.3 58.8 66.6 59.8 65.6 61.2 65.1 62.8 65.2 63.2 67.2 65.5 67.3 64.2 66.8 64.2 65.8 63.2 65.8 62.2 66.2 61.9 67.2 61.7 67.8 61.8 68.8 63.3 69.8 63.3 70.2 63.9 71.3 64.2 70.8 65.8 71.5 66.2 71.3 66.8 72.2 66.8 73.7 68.2 73.6 69.2 73.2 69.8 74.2 70.8 75.8 70.1 77.8 71.2 79.2 70.4 79.8 71.5 80.4 70.8 81.2 70.6 82 71.2 81.6 72.2 82.2 73.2 83 72.8 82.9 71.8 83.7 71.2 83.2 70.5 82 69.8 81.4 68.2 81.8 67.4 82.5 66.8 82.5 65.8 83.2 65.3 82.6 64.2 83.3 63.2 83.2 62.4 82.8 62.2 81.8 62.9 80.8 63.8 80.9 64.2 80.2 64.9 79 64.2 79.2 63.6 80.2 63.6 80.2 62.8 78.8 62.2 78.2 62.1 78.1 62.8 77.2 63.4 76.8 63.6 76.2 63.2 76.2 61.8 74.5 60.2 72.2 60.2 72 58.8 72.4 57.8 70.8 57.1 70.1 56.2 71.2 54.2 69.2 53.6 68.8 52.6 67.2 53.2 67 52.8 67.2 51.8 69.1 50.2 69.5 49.2 70.2 49.2 71.2 50.4 71.8 50.5 72.2 49.8 72.8 49.8 73 50.2 71.8 51.2 72.7 52.8 71.6 53.8 73 56.2 73.2 57.2 74.2 57.3 74.5 56.8 74 55.8 73.8 54.8 74.1 54.2 73 53.2 73.8 52.7 74.2 53.1 74.3 54.2 75.2 55.7 77.8 56.2 78.2 56.8 79.2 56.3 80.4 55.2 79.8 54.7 79.5 53.8 78.4 52.8 78.3 51.2 78.8 50.5 80.2 50.5 80.5 50.2 80.2 49.2 78.3 47.2 77.2 47.7 76.2 46.3 74.2 45.4 73.6 44.2 73.8 43.2 73.3 42.7 73.8 42.2 73.8 41.8ZM81.8 60.8 80 61.2 80.2 62.2 80.8 62.5 81.2 62.5 81.9 61.8ZM89.8 72.1 88.7 73.8 88.5 74.8 89.2 76.5 90.2 76.7 91.2 75.9 91.8 75.9 92.2 76.4 93.1 76.2 93.6 75.8 92.2 74.8 92.8 73.3 93.8 74.2 93.8 75.8 94.5 76.8 93.8 77.8 94.7 78.4 95.9 78.2 95.7 77.2 96.7 76.8 96.4 74.2 94.8 74.2 94.3 73.8 94.8 73.2 92.8 73.2 90.8 72.0ZM111.2 77.7 110.6 78.2 110.4 79.2 109.8 80.0 107.2 81.1 106.2 84.3 105.2 83.9 104.8 83.2 105.2 81.8 103.8 81.2 103.7 82.2 103.2 82.4 101.6 81.2 101.4 80.8 101.7 79.8 100.7 79.2 100.3 79.6 99.8 79.6 99.2 80.2 99.1 81.2 99.3 81.8 100.8 82.2 101.7 83.2 101.8 85.9 102.8 87.2 103.2 87.3 103.8 86.9 104.8 86.9 104.8 86.2 105.8 85.4 106.2 85.9 108.2 86.0 109.6 86.8 109.6 87.2 110.1 87.8 110.1 88.8 110.6 89.2 110.7 90.8 109.8 91.6 109.1 91.8 110.1 92.8 110.1 93.3 110.6 93.8 110.8 94.9 111.8 94.9 111.9 93.3 112.8 92.9 113.1 93.8 113.8 93.9 114.8 95.0 115.8 94.9 116.2 94.4 118.8 94.5 119.5 95.2 119.2 96.0 118.8 95.5 118.2 96.5 116.8 96.5 115.8 95.6 115.2 96.1 114.8 96.1 114.5 97.8 113.2 99.0 111.8 98.6 111.2 97.6 111.1 98.8 110.6 99.2 111 100.8 110.2 101.6 109.2 101.8 109.2 102.2 109.6 102.8 109.5 103.8 108.6 104.8 108.7 105.2 109.2 105.8 109.2 107.2 108.7 107.8 109 108.2 109 109.2 109.7 110.8 109.4 112.8 108.8 113.8 110.2 115.2 112 116.2 111.8 117.2 110.8 117.3 110.1 117.8 109.9 119.2 110.4 120.8 110 122.2 110.6 123.2 110.4 124.2 112.2 124.8 113.2 126.2 111.2 127.2 111.8 127.9 113.2 127.5 114.2 126.7 116.8 127.5 117.2 127.3 117.1 126.8 115.9 125.2 116 124.2 117.2 122.8 117.7 122.8 116.9 121.8 116.8 120.4 116.2 119.4 113.3 117.8 112.8 116.8 113.1 116.2 114.8 117.2 116.8 116.5 117.8 116.7 118.8 116.2 119.8 116.3 119.9 114.2 121.4 113.2 121.2 112.6 120.2 112.6 119.9 112.3 120.2 111.8 123.7 111.8 124.7 112.8 124.8 113.8 125.2 113.8 126.2 114.8 127.8 113.8 128.5 115.2 129.8 116.4 130.2 116.1 130.5 115.2 129.8 114.8 130.8 113.8 131.8 114.9 134.2 114.7 134.9 114.2 135.2 112.7 136.2 112.5 137.2 113.0 137.5 112.8 137.2 111.7 136.5 111.2 136.8 110.9 138.2 111.1 139.8 110.5 140.8 110.4 141.3 108.8 141.8 108.2 142 106.8 141.5 105.8 142.1 104.2 141.8 102.7 142.2 102.3 143.3 102.2 142.8 101.1 141.8 100.9 141.6 100.2 141.8 100.0 142.8 100.2 143.4 99.8 142.8 99.1 141.8 99.2 141 98.8 141 98.2 141.2 98.0 142.2 97.6 142.4 96.8 140.8 96.7 140.2 97.2 140.2 98.2 138.8 99.1 137.9 98.2 138.8 97.3 139.3 97.2 138.8 95.5 137.9 96.2 136.8 96.6 134.2 96.6 134.1 95.8 134.8 93.8 135.9 93.2 135.2 92.7 134.2 92.8 133.2 92.0 132.2 92.5 131.1 91.8 131.4 90.8 131.2 90.3 130.8 90.1 130.6 88.8 129.3 86.8 128.8 86.3 126.5 85.8 125.9 84.8 125.1 84.2 125 83.2 123.2 83.2 121.8 81.6 121.2 81.6 120.2 80.7 119.8 80.6 117.8 82.3 116.2 81.2 115.4 79.2 115.5 78.8 113.8 78.6 113.2 78.1 111.8 78.1ZM120.2 117.2 117.6 118.8 117.5 120.2 119.5 120.2 119.2 118.8 120.2 117.9ZM272.4 43.2 272.8 41.3 273.1 41.8 273.2 42.8 273.8 43.0 274.2 43.8 273.8 44.2ZM253.2 43.8 253.8 43.3 256.2 43.8 256.8 44.9 257.2 44.9 258.2 45.9 259.2 45.9 259.6 46.2 258.8 47.1 257.8 47.1 257.2 46.6 256.8 46.6 256.5 47.8 255.2 48.5 254.8 48.5 253.9 47.8 253.9 46.8 254.9 45.2 254.8 44.5 253.8 44.7 253.2 44.3ZM256.2 44.0 255 44.2 255.1 45.2 254.1 46.8 254.1 47.8 254.8 48.4 256.4 47.8 256.4 46.8 256.8 46.4 257.2 46.4 257.8 46.9 258.8 46.9 259.4 46.2 258.2 46.1 257.2 45.1 256.8 45.1ZM209.5 46.2 210.8 45.0 211.8 45.0 212.8 46.0 213.2 46.0 214 46.8 213.8 47.0 212.8 46.9 212.2 47.4 210.2 47.5 209.8 48.0 209 47.2 209.5 46.8ZM210.8 45.1 209.6 46.2 209.6 46.8 209.1 47.2 209.8 47.9 210.2 47.4 212.2 47.3 212.8 46.8 213.9 46.8 213.2 46.2 212.8 46.1 211.8 45.1ZM201.8 46.0 202.2 45.5 202.5 45.8 202.5 46.8 203.5 47.8 203 48.2 203 48.8 202.2 49.6 201.5 48.8 201.5 48.2 201 47.8 201 46.2 201.2 46.0ZM202.2 45.6 201.8 46.1 201.1 46.2 201.1 47.8 201.6 48.2 201.6 48.8 202.2 49.4 202.9 48.8 202.9 48.2 203.4 47.8 202.4 46.8ZM232.8 45.8 233.8 45.4 234.1 46.8 233.8 47.7 233.2 48.0 231.2 47.2 231.2 46.5 231.8 46.9 232.2 46.7ZM215.2 46.5 215.8 46.1 217.2 46.0 217.8 46.5 218.2 46.5 220.5 47.8 220.2 48.0 217.2 48.0 216.2 47.0 214.8 46.9 214.5 46.8 214.8 46.5ZM215.8 46.2 215.3 46.6 214.6 46.8 216.2 46.8 217.2 47.8 220.4 47.8 217.7 46.6 217.2 46.2ZM181.2 47.4 182.2 46.3 183.8 47.6 184.2 46.9 185.2 46.9 185.6 47.2 185.8 47.9 187.2 47.4 187.6 47.8 187.6 48.8 187.1 49.2 187.7 49.8 187.2 50.9 188.2 50.9 189.2 49.4 190.2 49.2 190.8 48.4 191.2 48.9 191.8 48.9 192.8 49.8 193.2 49.7 193.3 49.3 192.9 48.8 193.8 47.4 194.8 47.4 195.2 47.8 195.8 47.8 196.2 48.2 196.2 49.2 196.8 49.4 196.9 48.8 198.8 46.9 199.8 47.0 200 47.2 200 48.2 199.2 49.1 198.5 49.2 198.5 50.2 199.2 50.4 200.1 51.2 200.2 51.8 200.8 52.3 201.2 52.3 202.2 53.3 202.6 53.2 202.8 52.6 203.8 52.6 204.5 53.2 205 54.8 205.8 55.1 205.8 54.8 206.8 53.9 207.8 54.0 208.2 53.5 209.8 54.9 210.8 55.0 211.2 54.5 211.5 54.8 211.1 55.2 212.2 56.5 214.2 56.5 214.5 56.8 213.8 57.5 211.8 57.5 211.2 57.0 210.8 57.6 210.2 57.5 209.8 58.1 207.8 58.0 207.3 57.6 205.2 57.6 204.8 57.1 203.8 57.2 203.3 57.2 203.3 57.8 202.8 58.7 202.1 58.2 202.5 56.2 201.2 56.2 198.8 58.5 197.8 58.6 197.2 58.1 196.8 58.1 195.8 59.1 195.2 59.1 194.8 59.5 194.2 59.1 191.3 59.2 191.2 60.2 190.5 59.8 190.8 59.2 191.2 59.2 191.4 58.2 191.9 57.8 191.8 56.8 190.9 56.2 190.9 55.8 190.4 55.3 190.3 53.8 189.8 53.2 188.8 53.2 187.8 52.1 185.4 52.2 186.5 53.2 186.6 54.2 187.8 54.8 186.8 55.6 186.2 56.5 184.8 57.0 183.9 56.2 183.1 54.8 183.4 53.8 182.9 52.2 182.2 52.2 181.8 52.7 180.8 52.7 180.2 53.1 179.9 52.8 181.3 51.2 179.4 49.8 180 48.2 179.5 47.8 179.6 47.2 180.2 47.1ZM184.2 47.1 183.5 49.2 184.5 50.2 184.5 50.8 183.4 51.8 183.8 52.2 187.8 51.9 188.8 53.0 189.8 53.0 190.5 53.8 190.6 55.2 191.1 55.8 191.1 56.2 192.1 56.8 192.1 57.8 191.6 58.2 191.8 59.0 194.2 58.9 194.8 59.4 195.2 58.9 195.8 58.9 196.8 57.9 197.2 57.9 197.8 58.4 198.8 58.4 201.2 55.9 202.8 56.0 203.8 56.9 204.8 56.9 205.2 57.4 207.2 57.4 207.8 57.9 209.7 57.9 210.2 57.4 210.8 57.4 211.2 56.9 211.8 57.4 213.8 57.4 214.4 56.8 212.2 56.6 210.8 55.1 209.8 55.1 208.2 53.6 207.8 54.1 206.8 54.1 206 54.8 206 55.2 206.5 55.8 206.2 56.5 204.8 56.5 204.2 56.0 203.8 56.0 203.6 55.2 204.5 54.8 203.8 53.4 202.2 53.5 201.2 52.6 200.8 52.5 199.2 50.6 198.4 50.2 198.4 49.2 199.9 48.2 199.8 47.1 198.8 47.1 197.1 48.8 196.8 49.6 196 49.2 195.8 48.0 195.2 48.0 194.8 47.6 193.8 47.6 193.1 48.8 194.8 50.2 194.4 51.2 194.9 51.8 194.8 52.3 193.8 52.4 192.5 51.2 193.2 50.5 194.1 50.2 193.8 50.0 192.8 50.0 190.8 48.6 190.2 49.5 189.8 49.5 188.2 51.1 187.2 51.1 186.9 50.8 187.4 50.2 187.5 49.8 186.9 49.2 187.4 48.8 187.4 47.8 186.8 47.6 186.2 48.1 185.8 48.1 185.2 47.1ZM181.8 51.0 180.6 52.2 180.8 52.4 181.8 52.5 182.2 52.0 183.1 51.8ZM226 47.8 226.8 46.9 227.2 46.9 227.6 47.2 227.5 49.2 227.2 49.5 226.2 49.5 226 49.2ZM226.8 47.1 226.1 47.8 226.1 49.2 227.2 49.4 227.4 47.2ZM244.4 48.2 245.3 47.3 245.8 47.3 247.1 48.8 247.1 50.2 246.8 50.6 245.2 50.6 244.5 49.8ZM245.2 47.5 244.6 48.2 244.6 49.8 245.2 50.4 246.8 50.4 246.9 48.8 245.8 47.5ZM103.2 49.8 103.8 49.8 102.8 51.0 101.8 50.8ZM308.2 51.9 309.2 51.2 309.9 51.8 308.8 52.8 308.2 52.9 307.2 51.8 307.2 51.3ZM273.7 57.8 276.8 56.4 277 57.8 277.4 58.2 276.9 59.2 277 59.8 277.5 60.2 277.5 61.2 278.2 61.5 278.8 60.5 279.2 60.5 279.5 61.2 282.4 64.8 282.4 65.2 282.9 65.8 282 66.8 282.2 67.1 283.8 66.5 285.2 67.5 286.5 67.8 285.9 69.2 284.4 71.2 284.4 72.2 283.8 72.4 283.2 73.0 282 72.8 282 72.2 282.6 71.8 282.2 71.3 281.8 71.3 281.2 70.4 280.4 70.8 280 71.2 280.2 72.1 281.2 71.7 281.4 72.8 279.8 74.4 279.2 74.4 278.7 73.8 278.7 72.8 278.2 72.3 275.8 72.4 275.2 72.8 274.2 70.2 274.2 69.9 274.8 70.6 275.5 68.8 275.4 68.2 274.8 67.8 273.8 68.1 273.5 68.8 273.5 69.2 274.1 69.8 273.2 69.8 272.2 68.5 271.2 67.9 270 67.8 270.5 67.2 270.6 64.8 271 64.2 271.1 63.2 270.6 62.8 270.8 61.9 271.3 61.8 272.1 60.8 271.3 60.2 271.8 59.7 273.2 60.2 273.4 61.2 273.8 61.6 274.2 61.6 274.6 60.2 273.8 59.8ZM277.2 61.7 275.8 62.0 274.4 63.8 275.6 65.8 276.7 66.2 277.5 67.8 278.8 68.4 279.3 69.2 279.8 69.5 281.1 69.2 280.4 68.2 280.8 67.7 281.8 68.4 281.9 67.8 281.2 67.2 280.6 66.2 280.5 64.8 279.8 63.8 279.8 62.8ZM272.2 64.0 271.9 65.2 271.3 65.8 271.5 66.8 271.8 67.1 272.8 67.1 274.1 65.8 274.1 65.2 273.2 65.0ZM276.8 70.2 276.4 70.8 276.8 71.3 278 70.8 277.6 70.2ZM238 58.2 238.8 57.5 239.2 58.0 239.8 58.0 240.5 58.8 240.6 60.2 240.2 60.6 239.5 59.8 239.5 59.2 238.8 59.0ZM238.8 57.6 238.1 58.3 239.6 59.2 239.6 59.8 240.2 60.4 240.4 58.8 239.8 58.1 239.2 58.1ZM300.8 57.8 301.2 57.7 302.2 58.7 302.8 58.1 302.9 58.8 302.8 59.4 301.8 58.9 301.4 59.2 301.3 59.8 302.2 59.9 302.5 62.2 301.8 63.0 301.2 62.0 300.6 62.8 300.5 64.2 300.8 64.6 301.8 63.5 303 64.8 302.8 65.2 300.8 66.0 299.8 65.0 298.2 66.8 297.9 66.8 297.5 66.2 298.4 64.2 298.5 63.8 298 63.2 298 61.7 301.2 58.8ZM298.2 61.7 298.2 63.2 298.7 63.8 298.5 64.8 299.2 65.1 299.7 64.8 300.7 62.2 300.2 61.8 299.2 62.1ZM294.8 60.0 296.2 58.4 296.8 59.5 297.5 59.8 296.2 60.5 295.2 60.5 295 61.8 294.5 62.2 295.9 63.8 295.9 65.8 296.7 66.2 296.9 67.8 295.8 68.0 295.2 67.5 294.2 68.3 293.7 68.2 293.8 67.6 291.8 67.7 291.4 67.8 291.2 68.3 290.8 68.4 290.1 67.8 290.2 66.2 290.8 66.2 291.1 65.2 292.1 64.2 291.6 63.8 291.5 62.8 293 61.2 293.2 60.4ZM296.2 58.6 294.8 60.2 293.2 60.7 293.2 61.6 294.2 61.9 294.8 61.8 294.8 60.8 295.2 60.3 296.2 60.3 297.2 59.8 296.4 59.2ZM294.8 64.1 293.3 64.8 293.3 65.2 293.8 65.5 294.8 64.8ZM74.2 61.2 74.8 61.0 75.5 61.8 75.7 62.2 75.2 63.0ZM164.9 61.8 165.2 61.5 166.8 61.5 167 61.8 167 62.8 166.8 63.0 165.2 63.0 165 62.8ZM165.2 61.6 165.2 62.9 166.9 62.8 166.8 61.6ZM265.7 61.8 267.1 63.8 267.9 64.2 268 64.8 267.2 65.0 266.8 66.0 265.8 66.2 266 67.2 265.8 67.9 263.8 68.0 263.5 67.2 262.8 67.1 261.9 66.2 262 65.8 261.5 65.2 262.2 65.0 262.8 64.1 263.2 64.1 263.8 63.6 265.2 63.6 265.6 63.2ZM262.2 65.5 262.1 66.2 262.8 66.9 263.5 66.8 263.2 65.8ZM267 66.8 267.2 66.5 267.9 66.8 267.5 67.2 268 67.8 267.3 68.2 267.2 69.4 266.8 69.2 266.2 68.2 266.8 68.2 267.1 67.8ZM255.2 69.2 256.2 69.1 256.8 69.8 256.4 70.2 256.8 70.4 256.8 71.2 256.2 71.8 255.6 71.2 255.7 70.2 255.2 69.8ZM262.5 69.2 264.2 69.0 264.8 70.2 264.2 70.8 263.2 70.4ZM218.6 69.8 218.8 69.6 219.5 70.2 219.5 70.8 220.5 71.8 220.5 72.2 221.5 73.2 221.5 74.2 221.2 74.5 220.5 73.8 220.5 73.2 220 72.8 220 72.2 219 71.2 219 70.8 218.6 70.2ZM218.8 69.7 218.7 70.2 219.1 70.8 219.1 71.2 220.1 72.2 220.1 72.8 220.6 73.2 220.6 73.8 221.3 74.4 221.4 73.2 220.4 72.2 220.4 71.8 219.4 70.8 219.4 70.2ZM233.2 69.8 233.8 69.9 234.5 71.2 233.8 71.9 233.2 70.8 232.2 71.3 232.1 70.8ZM112.1 71.8 113.2 71.8 114.2 72.2 114.5 72.8 114.2 73.2 112.8 73.2 111.9 72.2ZM179.1 75.2 179.8 75.3 180.2 75.8 179.8 76.2 179.2 76.4 178.9 75.8ZM234.4 76.2 234.8 76.2 235.8 77.2 234.8 77.6ZM167.4 79.2 168.3 79.2 168.7 80.2 168.2 80.5 167.8 80.4ZM101.3 96.2 101.8 96.1 102.9 97.2 102.8 98.0 100.5 97.2 101.2 96.8ZM101 99.2 101.8 99.0 102.2 99.5 102.9 100.2 102.8 100.9 101.7 100.7 101.6 101.2 101.2 101.3 100.7 100.2ZM197 99.2 198.2 99.2 198.9 99.8 198.8 100.2 198.2 100.7 197.2 100.5 196.2 101.0 196 100.2ZM104.3 100.8 104.8 100.6 105.5 101.2 105.5 101.8 106.4 102.8 107.5 103.2 107.2 104.0 105.8 103.9 105.2 103.4 104.8 103.4 104.4 103.8 104.2 104.9 103.2 104.7 102.6 103.8 102.8 103.3 103.6 102.8ZM320.6 104.2 321.3 104.2 321.2 105.7 321.8 105.8 322.2 106.8 322.8 106.9 323.2 106.5 323.7 106.8 322.6 108.2 322.8 108.5 324.4 108.2 324.6 107.8 324.4 106.8 325.2 105.9 325.6 106.2 325.4 107.2 326.2 107.9 327.4 108.2 327.4 108.8 326.9 109.2 327.8 109.9 328.2 109.5 328.8 110.0 329.8 110.1 330.4 110.8 330.5 111.2 332.5 113.8 331.9 115.2 333.2 116.3 334 117.8 334 119.2 334.5 119.8 334.4 121.2 333.8 122.3 332.8 122.5 332 123.2 332.2 123.9 330.2 125.2 329.8 124.9 328.8 126.0 325 127.8 325 129.2 324.5 129.8 324.4 130.2 324.8 132.8 324.2 132.8 324.1 131.2 323.6 130.8 324.1 130.2 324 129.8 321.9 129.2 322.5 128.2 322.4 127.2 323 126.7 322.2 126.0 320.8 126.0 320 127.8 319.2 128.0 316.8 125.4 315.8 125.8 316.2 124.8 315.8 123.8 316.2 122.2 315.2 121.4 314.8 122.2 314.4 122.2 314.1 121.8 314.3 121.2 313.2 121.2 312.4 120.8 311.4 119.2 311.3 117.8 310.8 117.7 309.8 116.1 309.2 115.9 308.8 116.2 307.8 118.1 306.6 117.8 306.4 117.2 307 115.8 306.1 115.2 306 113.8 305.2 113.5 303.8 114.5 303.2 114.5 302.3 113.8 303.2 112.5 304.2 112.5 304.5 112.2 304.2 111.9 301.6 111.8 303.3 111.2 303.5 110.2 302.7 109.8 302.6 107.8 304.2 106.6 304.8 107.0 308.2 107.3 309.8 108.5 310.8 108.7 311.2 108.2 311.2 107.6 311.8 108.1 312.2 107.6 313.2 107.5 313.6 107.2 313.8 106.5 314.2 106.3 316.1 107.8 316.1 108.8 316.8 108.8 318.9 106.8 320.1 106.2 320.1 105.8 320.7 105.2ZM306.8 108.9 305.4 109.2 305.8 110.2 306.2 110.3 307 109.8 307.1 109.2ZM314.2 108.6 311.7 109.2 312.8 110.9 312.5 111.2 311.2 111.8 309.8 113.2 309.8 113.8 312.4 116.2 312.8 117.4 313.8 117.5 315.2 118.6 318.2 117.6 319.2 117.8 319.7 118.3 318.8 119.6 317.6 119.8 316.4 120.8 317.1 122.8 318.3 124.8 317.7 126.2 318.8 127.3 319.8 127.5 320.8 125.8 322.6 125.8 321.8 124.4 320.8 124.3 320.2 122.5 319.8 122.1 319.2 122.7 318.8 122.2 319.2 121.8 319.8 121.7 320.2 120.8 322.2 121.6 322.6 120.8 323.2 120.5 324.2 122.0 326.8 121.6 327.8 122.2 328.8 123.4 331.8 120.5 332.2 120.8 332.8 121.8 333.2 122.0 333.5 121.8 333.7 121.2 332.8 119.2 332.8 118.1 331.2 116.8 330.2 117.1 328.8 116.1 327.6 115.8 328.2 115.0 329.6 114.2 329.2 113.2 329.4 112.8 330.8 112.2 330.7 111.8 329.8 111.3 328.2 109.7 327.8 110.1 327.2 109.8 326.2 110.9 323.8 109.8 322.8 110.6 321.8 110.0 320.8 110.1 320.1 110.2 319.2 111.3 317.2 110.9 315.9 110.2 315.1 109.8ZM306.8 111.7 306.3 112.8 306.8 112.8 308.4 111.8 307.2 111.4ZM324.8 125.4 323.8 126.6 322.8 125.8 322.7 126.2 323.2 126.8 322.6 127.2 322.8 128.5 323.3 129.2 324.2 129.6 324.8 129.2 324.8 127.8 325.8 127.2 325.2 125.8ZM325.8 123.1 325.1 123.8 325.2 124.9 326 124.2 326.1 123.8ZM228.2 107.2 228.9 107.8 228.9 108.2 228 110.2 228 110.8 228.4 111.2 228.3 111.8 227.8 112.5 227.2 112.0 227 113.2 227.2 113.5 228.8 112.2 228.9 112.8 228 114.2 226.2 114.4 225.8 115.5 225.2 115.5 223.7 114.2 223.9 112.8 223.8 112.4 222.5 112.2 222.7 111.2 223.2 110.8 223.2 109.9 223.8 109.6 224.3 109.8 225 111.2 225.8 112.0 226.8 112.0 227.5 110.8 227.6 109.2 228.2 108.8ZM226.8 112.2 225.5 112.2 226.7 113.8 227.4 113.8 226.8 113.2ZM124.6 117.8 125.7 117.8 125.8 118.8 124.2 118.4 124.1 118.2ZM196.7 117.8 197.2 118.2 198.8 118.2 199.8 120.2 200.8 120.8 200.2 121.1 200.2 121.8 201.2 121.4 202.6 122.2 201.2 123.2 201.4 123.8 200.8 123.8 199.8 124.8 199.4 124.8 199.2 124.2 198.6 124.2 198.2 124.6 197.2 124.2 197.1 121.8 196.6 121.2 196.4 120.2 197.2 118.8 196.7 118.2ZM210.9 118.2 211.2 117.9 212.2 118.0 212.8 119.0 213.5 119.2 210.2 122.4 209.5 121.8 209.5 121.2 210 120.8 210 119.8ZM309.2 118.8 309.8 118.4 310.2 118.7 310.5 119.8 309.8 120.3 309.2 119.8ZM308 121.2 308.7 121.2 310 122.8 308.9 122.8 308.2 122.3 307.8 121.8ZM347.7 135.2 348.2 135.5 348.4 136.2 347.2 137.0 346.8 136.6ZM113.2 137.8 113.8 137.5 114.5 138.2 112.8 140.7 112.2 140.2 113.3 138.8ZM119.4 141.2 120.8 140.5 121.6 140.8 121.4 141.2 121.6 142.2 121.2 142.7 120.2 142.5Z" fill="url(#stip2)" fill-rule="evenodd"/>
</g></g>
<use href="#land" transform="translate(100.8 27.7) scale(4.40417 4.55467)" fill="none" stroke="#6b6a66" stroke-width="1" vector-effect="non-scaling-stroke" stroke-linejoin="round"/>
<use href="#isl" transform="translate(100.8 27.7) scale(4.40417 4.55467)" fill="none" stroke="#6b6a66" stroke-width="1.9" stroke-linejoin="round"/>
<use href="#ice" transform="translate(100.8 27.7) scale(4.40417 4.55467)" fill="#fff" stroke="#6b6a66" stroke-width="1.6" vector-effect="non-scaling-stroke" stroke-linejoin="round"/>
<path d="M292.4 170.7 301.2 176.6 307.8 183.5 316.6 188.9 323.2 194.9 329.8 200.8 334.2 206.2 343.0 211.7 349.6 216.3" fill="none" stroke="#6b6a66" stroke-width="3.1" stroke-linejoin="round" stroke-linecap="round" stroke-opacity=".9"/>
<path d="M230.7 166.6 241.7 163.0 250.5 161.6 263.8 164.3 277.0 165.7 288.0 169.8M796.7 117.4 790.1 112.0 794.5 106.0 803.3 100.6 807.7 93.7 809.9 86.9 809.9 80.1M695.4 163.0 679.9 158.4 671.1 150.7 664.5 142.5 660.1 134.7 660.1 125.6 664.5 119.7 655.7 116.5 651.3 109.7 646.9 102.9 640.3 96.0" fill="none" stroke="#6b6a66" stroke-width="2.1" stroke-linejoin="round" stroke-linecap="round" stroke-opacity=".9"/>
<path d="M166.9 189.4 184.5 185.7 197.7 180.3 210.9 174.4 219.7 169.8M620.5 132.5 609.5 127.9 598.5 122.0 589.7 116.5 576.5 112.9 563.2 108.8 550.0 106.0M609.5 163.0 613.9 169.8 620.5 176.6 624.9 183.5 633.7 188.0M997.0 266.8 1003.7 269.1 1010.3 268.2 1005.9 272.3 1014.7 272.7M1435.3 512.8 1441.9 508.2 1448.5 502.3M1626.8 646.2 1629.0 642.6 1632.6 640.3M649.1 203.1 642.5 206.2 633.7 209.9" fill="none" stroke="#6b6a66" stroke-width="1.8" stroke-linejoin="round" stroke-linecap="round" stroke-opacity=".9"/>
<path d="M916.9 169.8 916.5 162.1 916.5 155.2 924.4 150.7 935.4 146.6 944.2 140.7 949.9 134.7 955.2 128.8 961.8 125.2 970.6 121.5 979.4 118.8 990.4 117.0 1001.5 114.7 1014.7 114.2 1025.7 116.5" fill="none" stroke="#6b6a66" stroke-width="4.5" stroke-linejoin="round" stroke-linecap="round" stroke-opacity=".9"/>
<path d="M570.7 628.9 567.6 638.0 564.1 648.5" fill="none" stroke="#6b6a66" stroke-width="4.2" stroke-linejoin="round" stroke-linecap="round" stroke-opacity=".9"/>
<path d="M564.1 651.7 564.1 658.5 565.0 667.6 568.5 675.8 575.1 681.8 583.1 686.3 591.9 689.0" fill="none" stroke="#6b6a66" stroke-width="6.3" stroke-linejoin="round" stroke-linecap="round" stroke-opacity=".9"/>
<path d="M578.7 679.0 585.3 683.6 594.1 687.7" fill="none" stroke="#6b6a66" stroke-width="4.9" stroke-linejoin="round" stroke-linecap="round" stroke-opacity=".9"/>
<path d="M704.2 163.0 710.8 153.0 717.4 143.8 730.6 138.4 748.2 132.5 765.8 126.5 781.2 122.0" fill="none" stroke="#6b6a66" stroke-width="2.2" stroke-linejoin="round" stroke-linecap="round" stroke-opacity=".9"/>
<path d="M867.1 182.6 868.9 178.0 869.3 173.4M968.4 164.3 977.2 165.3 986.0 163.9 992.6 164.3" fill="none" stroke="#6b6a66" stroke-width="1.5" stroke-linejoin="round" stroke-linecap="round" stroke-opacity=".9"/>
<path d="M999.2 257.7 1003.7 260.0 1008.1 262.3M946.4 82.4 955.2 77.8 968.4 74.2 986.0 72.3 1003.7 72.3M959.6 86.9 968.4 84.6 977.2 80.1 988.2 77.8M1122.6 114.2 1131.4 110.6 1138.0 105.1 1144.6 98.3 1157.8 92.4 1175.4 90.1 1193.0 87.8M1316.3 76.4 1329.6 75.1 1342.8 77.8 1353.8 79.6M545.6 105.1 532.4 102.9 514.8 101.9 501.6 103.8M519.2 89.6 532.4 84.6 545.6 80.1 558.8 75.5 576.5 71.0 594.1 66.4 607.3 62.8M497.2 73.2 514.8 68.7 541.2 64.1 576.5 60.5M347.4 105.1 365.1 109.7 378.3 114.2 391.5 118.8M409.1 97.8 426.7 93.7 453.1 92.4 470.8 89.2 488.4 86.9M453.1 118.8 461.9 112.0 468.5 105.1 479.6 98.3M550.0 153.0 567.6 153.9 580.9 157.5M585.3 676.7 576.5 669.9 569.8 663.1M1461.7 442.2 1470.5 444.5 1479.3 451.3M939.8 175.3 941.1 180.3 942.0 184.8 946.4 187.1" fill="none" stroke="#6b6a66" stroke-width="1.4" stroke-linejoin="round" stroke-linecap="round" stroke-opacity=".9"/>
</g>
<path d="M100.8 730.9V27.7H1686.3V730.9M80.8 710.9H1686.3" fill="none" stroke="#000" stroke-width="2"/>
<path d="M80.8 27.7H100.8M80.8 164.3H100.8M80.8 301.0H100.8M80.8 437.6H100.8M80.8 574.3H100.8M365.1 710.9V730.9M629.3 710.9V730.9M893.5 710.9V730.9M1157.8 710.9V730.9M1422.0 710.9V730.9" stroke="#000" stroke-width="2"/>
<text x="69.8" y="38.3" text-anchor="end" class="tk">90°N</text>
<text x="69.8" y="174.9" text-anchor="end" class="tk">60°N</text>
<text x="69.8" y="311.6" text-anchor="end" class="tk">30°N</text>
<text x="69.8" y="448.2" text-anchor="end" class="tk">0°</text>
<text x="69.8" y="584.9" text-anchor="end" class="tk">30°S</text>
<text x="69.8" y="721.5" text-anchor="end" class="tk">60°S</text>
<text x="100.8" y="761.9" text-anchor="middle" class="tk">180°W</text>
<text x="365.1" y="761.9" text-anchor="middle" class="tk">120°W</text>
<text x="629.3" y="761.9" text-anchor="middle" class="tk">60°W</text>
<text x="893.5" y="761.9" text-anchor="middle" class="tk">0°</text>
<text x="1157.8" y="761.9" text-anchor="middle" class="tk">60°E</text>
<text x="1422.0" y="761.9" text-anchor="middle" class="tk">120°E</text>
<text x="1686.3" y="761.9" text-anchor="middle" class="tk">180°E</text>
<text x="132.3" y="77" class="pl">(a)</text>
<rect x="101.6" y="780.3" width="185.0" height="31.1" fill="#dcecA3"/>
<rect x="286.1" y="780.3" width="185.0" height="31.1" fill="#f4f2b0"/>
<rect x="470.5" y="780.3" width="185.0" height="31.1" fill="#f9e2a3"/>
<rect x="655.0" y="780.3" width="185.0" height="31.1" fill="#f4bd86"/>
<rect x="839.5" y="780.3" width="185.0" height="31.1" fill="#ea976a"/>
<rect x="1024.0" y="780.3" width="185.0" height="31.1" fill="#d66c4a"/>
<rect x="1208.4" y="780.3" width="185.0" height="31.1" fill="#bb3c2c"/>
<text x="286.6" y="860" text-anchor="middle" class="cbl">-0.02</text>
<text x="471.0" y="860" text-anchor="middle" class="cbl">0.00</text>
<text x="655.5" y="860" text-anchor="middle" class="cbl">0.02</text>
<text x="840.0" y="860" text-anchor="middle" class="cbl">0.04</text>
<text x="1024.5" y="860" text-anchor="middle" class="cbl">0.06</text>
<text x="1208.9" y="860" text-anchor="middle" class="cbl">0.08</text>
<text x="1411" y="803.5" class="cbt" letter-spacing=".5">Trend (°C·yr<tspan dy="-11" font-size="19">-1</tspan><tspan dy="11">)</tspan></text>
<rect x="106.4" y="918.9" width="74.9" height="356.4" fill="#fdc799" stroke="#2a2a2a" stroke-width="1"/>
<text x="143.9" y="909.6" text-anchor="middle" class="bv">52%</text>
<rect x="230.8" y="953.2" width="74.9" height="322.1" fill="#fdc799" stroke="#2a2a2a" stroke-width="1"/>
<text x="268.2" y="943.9" text-anchor="middle" class="bv">47%</text>
<rect x="355.6" y="1268.7" width="74.9" height="6.6" fill="#fdc799" stroke="#2a2a2a" stroke-width="1"/>
<text x="393.1" y="1259.4" text-anchor="middle" class="bv">1%</text>
<path d="M80.8 1275.3H455.8M143.9 1275.3v6.5M268.3 1275.3v6.5M393 1275.3v6.5" stroke="#000" stroke-width="1.3" fill="none"/>
<text x="125.5" y="1309" text-anchor="middle" class="bc">Increase</text>
<text x="267.7" y="1309" text-anchor="middle" class="bc">No trend</text>
<text x="410.4" y="1309" text-anchor="middle" class="bc" letter-spacing=".8">Decrease</text>
<text x="366" y="922" class="pl">(b)</text>
<path d="M624.1 1159.2 637.2 1156.8 650.3 1154.4 663.4 1152.0 676.6 1149.5 689.7 1147.1 702.8 1144.7 715.9 1142.2 729.0 1139.8 742.1 1137.4 755.2 1134.9 768.3 1132.5 781.4 1130.1 794.5 1127.6 807.7 1125.2 820.8 1122.8 833.9 1120.3 847.0 1117.9 860.1 1115.5 873.2 1113.0 886.3 1110.6 899.4 1108.2 912.5 1105.7 925.6 1103.3 938.8 1100.8 951.9 1098.4 965.0 1096.0 978.1 1093.5 991.2 1091.1 1004.3 1088.6 1017.4 1086.2 1030.5 1083.7 1043.6 1081.3 1056.8 1078.8 1069.9 1076.4 1083.0 1073.9 1096.1 1071.4 1109.2 1068.9 1122.3 1066.4 1135.4 1063.9 1148.5 1061.4 1161.6 1058.9 1174.7 1056.3 1187.8 1053.6 1201.0 1050.9 1214.1 1048.0 1227.2 1045.0 1240.3 1041.8 1253.4 1038.5 1266.5 1034.9 1279.6 1031.2 1292.7 1027.5 1305.8 1023.6 1318.9 1019.7 1332.1 1015.8 1345.2 1011.9 1358.3 1008.0 1371.4 1004.0 1384.5 1000.0 1397.6 996.1 1410.7 992.1 1423.8 988.1 1436.9 984.1 1450.0 980.1 1463.2 976.1 1476.3 972.1 1489.4 968.1 1502.5 964.1 1515.6 960.1 1528.7 956.1 1541.8 952.1 1554.9 948.1 1568.0 944.1 1581.2 940.1 1594.3 936.1 1607.4 932.0 1620.5 928.0 1633.6 924.0 1646.7 920.0L1646.7 970.3 1633.6 972.7 1620.5 975.1 1607.4 977.6 1594.3 980.0 1581.2 982.4 1568.0 984.9 1554.9 987.3 1541.8 989.8 1528.7 992.2 1515.6 994.6 1502.5 997.1 1489.4 999.5 1476.3 1002.0 1463.2 1004.4 1450.0 1006.9 1436.9 1009.3 1423.8 1011.8 1410.7 1014.2 1397.6 1016.7 1384.5 1019.2 1371.4 1021.6 1358.3 1024.1 1345.2 1026.6 1332.1 1029.1 1318.9 1031.7 1305.8 1034.2 1292.7 1036.8 1279.6 1039.5 1266.5 1042.3 1253.4 1045.2 1240.3 1048.2 1227.2 1051.5 1214.1 1054.9 1201.0 1058.5 1187.8 1062.2 1174.7 1066.0 1161.6 1069.9 1148.5 1073.8 1135.4 1077.7 1122.3 1081.6 1109.2 1085.6 1096.1 1089.5 1083.0 1093.5 1069.9 1097.5 1056.8 1101.5 1043.6 1105.5 1030.5 1109.5 1017.4 1113.5 1004.3 1117.5 991.2 1121.5 978.1 1125.5 965.0 1129.5 951.9 1133.5 938.8 1137.5 925.6 1141.5 912.5 1145.5 899.4 1149.5 886.3 1153.5 873.2 1157.5 860.1 1161.5 847.0 1165.5 833.9 1169.5 820.8 1173.6 807.7 1177.6 794.5 1181.6 781.4 1185.6 768.3 1189.6 755.2 1193.6 742.1 1197.6 729.0 1201.6 715.9 1205.7 702.8 1209.7 689.7 1213.7 676.6 1217.7 663.4 1221.7 650.3 1225.7 637.2 1229.7 624.1 1233.8Z" fill="#cfe1f0"/>
<path d="M624.1 1189.4 650.3 1213.8 676.6 1096.9 702.8 1239.2 729.0 1252.0 755.2 1182.8 781.4 1094.4 807.7 1057.6 833.9 1113.7 860.1 1100.6 886.3 1108.9 912.5 1276.4 938.8 1205.8 965.0 1186.8 991.2 1127.5 1017.4 1154.1 1043.6 1184.6 1069.9 973.2 1096.1 1074.4 1122.3 1172.5 1148.5 1114.6 1174.7 1054.8 1201.0 1045.8 1227.2 1141.7 1253.4 978.8 1279.6 1024.0 1305.8 1018.0 1332.1 1057.1 1358.3 1116.1 1384.5 899.1 1410.7 1046.9 1436.9 1001.4 1463.2 1074.7 1489.4 1055.6 1515.6 952.5 1541.8 976.2 1568.0 938.2 1594.3 961.9 1620.5 919.8 1646.7 949.9" fill="none" stroke="#1f77b4" stroke-width="2.6" stroke-linejoin="round"/>
<g fill="#1f77b4"><circle cx="624.1" cy="1189.4" r="6"/><circle cx="650.3" cy="1213.8" r="6"/><circle cx="676.6" cy="1096.9" r="6"/><circle cx="702.8" cy="1239.2" r="6"/><circle cx="729.0" cy="1252.0" r="6"/><circle cx="755.2" cy="1182.8" r="6"/><circle cx="781.4" cy="1094.4" r="6"/><circle cx="807.7" cy="1057.6" r="6"/><circle cx="833.9" cy="1113.7" r="6"/><circle cx="860.1" cy="1100.6" r="6"/><circle cx="886.3" cy="1108.9" r="6"/><circle cx="912.5" cy="1276.4" r="6"/><circle cx="938.8" cy="1205.8" r="6"/><circle cx="965.0" cy="1186.8" r="6"/><circle cx="991.2" cy="1127.5" r="6"/><circle cx="1017.4" cy="1154.1" r="6"/><circle cx="1043.6" cy="1184.6" r="6"/><circle cx="1069.9" cy="973.2" r="6"/><circle cx="1096.1" cy="1074.4" r="6"/><circle cx="1122.3" cy="1172.5" r="6"/><circle cx="1148.5" cy="1114.6" r="6"/><circle cx="1174.7" cy="1054.8" r="6"/><circle cx="1201.0" cy="1045.8" r="6"/><circle cx="1227.2" cy="1141.7" r="6"/><circle cx="1253.4" cy="978.8" r="6"/><circle cx="1279.6" cy="1024.0" r="6"/><circle cx="1305.8" cy="1018.0" r="6"/><circle cx="1332.1" cy="1057.1" r="6"/><circle cx="1358.3" cy="1116.1" r="6"/><circle cx="1384.5" cy="899.1" r="6"/><circle cx="1410.7" cy="1046.9" r="6"/><circle cx="1436.9" cy="1001.4" r="6"/><circle cx="1463.2" cy="1074.7" r="6"/><circle cx="1489.4" cy="1055.6" r="6"/><circle cx="1515.6" cy="952.5" r="6"/><circle cx="1541.8" cy="976.2" r="6"/><circle cx="1568.0" cy="938.2" r="6"/><circle cx="1594.3" cy="961.9" r="6"/><circle cx="1620.5" cy="919.8" r="6"/><circle cx="1646.7" cy="949.9" r="6"/></g>
<path d="M624.1 1200.7L1646.7 949.9" stroke="#ff7f0e" stroke-width="3.8" stroke-linecap="square"/>
<path d="M573.5 880V1295.3H1697.9M573.5 1284.0h-6M573.5 1231.0h-6M573.5 1177.9h-6M573.5 1124.9h-6M573.5 1071.9h-6M573.5 1018.8h-6M573.5 965.8h-6M573.5 912.8h-6M597.9 1295.3v6M729.0 1295.3v6M860.1 1295.3v6M991.2 1295.3v6M1122.3 1295.3v6M1253.4 1295.3v6M1384.5 1295.3v6M1515.6 1295.3v6M1646.7 1295.3v6" fill="none" stroke="#000" stroke-width="1.3"/>
<text x="560.5" y="1290.6" text-anchor="end" class="ct">31.7</text>
<text x="560.5" y="1237.6" text-anchor="end" class="ct">31.8</text>
<text x="560.5" y="1184.5" text-anchor="end" class="ct">31.9</text>
<text x="560.5" y="1131.5" text-anchor="end" class="ct">32.0</text>
<text x="560.5" y="1078.5" text-anchor="end" class="ct">32.1</text>
<text x="560.5" y="1025.4" text-anchor="end" class="ct">32.2</text>
<text x="560.5" y="972.4" text-anchor="end" class="ct">32.3</text>
<text x="560.5" y="919.4" text-anchor="end" class="ct">32.4</text>
<text x="597.9" y="1321" text-anchor="middle" class="ct">1980</text>
<text x="729.0" y="1321" text-anchor="middle" class="ct">1985</text>
<text x="860.1" y="1321" text-anchor="middle" class="ct">1990</text>
<text x="991.2" y="1321" text-anchor="middle" class="ct">1995</text>
<text x="1122.3" y="1321" text-anchor="middle" class="ct">2000</text>
<text x="1253.4" y="1321" text-anchor="middle" class="ct">2005</text>
<text x="1384.5" y="1321" text-anchor="middle" class="ct">2010</text>
<text x="1515.6" y="1321" text-anchor="middle" class="ct">2015</text>
<text x="1646.7" y="1321" text-anchor="middle" class="ct">2020</text>
<text transform="translate(518.5 1082.5) rotate(-90)" text-anchor="middle" class="yl">Mean heat stress intensty (°C)</text>
<text x="603.5" y="920" class="pl">(c)</text>
<path d="M712.5 906H754.5" stroke="#1f77b4" stroke-width="2.6"/><circle cx="733.5" cy="906.3" r="6" fill="#1f77b4"/>
<path d="M713 934H754" stroke="#ff7f0e" stroke-width="3.8"/>
<rect x="713.5" y="955" width="40" height="12.8" fill="#cfe1f0"/>
<text x="769.3" y="912.5" class="an">Observed</text><text x="769.3" y="940.2" class="an">Theil–Sen trend</text><text x="769.3" y="967.8" class="an">95% CI</text>
<text x="1317.7" y="1163.5" class="an">Mann–Kendall trend test (two-sided)</text>
<text x="1317.7" y="1203.8" class="an">Theil–Sen slope = 0.012 °C·yr<tspan dy="-7" font-size="12">-1</tspan></text>
<text x="1317.7" y="1227.2" class="an">p = 2.78 × 10<tspan dy="-7" font-size="12">-7</tspan></text>
<g clip-path="url(#frD)">
<g clip-path="url(#landD)"><g transform="translate(112.2 1354.2) scale(4.40389 4.55400)">
<rect x="0" y="0" width="360" height="150" fill="#d0d0d0"/>
<g filter="url(#blur)">
<rect x="-5" y="-5" width="370" height="160" fill="#d0d0d0"/>
<path d="M230.7 36.2 231.8 35.6 232.8 36.0 233.3 37.2 233 37.8 231.8 38.7 230.2 38.6 228.8 39.0 227.7 40.8 227.2 41.0 226.6 40.8 226.1 38.2 226.2 37.7 227.2 37.5 229.8 37.9 230.2 37.6ZM243.3 36.8 244.2 36.6 246.8 37.6 248 39.2 247.8 40.2 247.3 40.8 244.2 42.8 243.8 42.8 243.2 42.2 242.2 40.8 241.7 39.2 241.9 38.2ZM233.8 37.2 234.8 36.8 235.4 37.2 235.4 37.8 234.8 38.3 233.9 37.8ZM214.6 38.2 215.2 37.8 215.7 38.2 215.8 39.3 215.2 39.7 214.1 39.2Z" fill="#afafaf" fill-rule="evenodd"/>
<path d="M215.9 33.8 216.8 33.3 217.2 33.4 218.3 34.2 217.2 36.2 217.7 40.8 217.2 41.5 214.8 41.9 213.2 42.7 212.8 41.2 210.5 39.2 210.4 38.2 211.8 38.0 213.6 36.8 213.6 35.2 214 34.8 215.8 35.1ZM215.2 37.8 214.1 38.8 214.1 39.2 215.2 39.7 215.8 39.3 215.7 38.2ZM225.8 35.0 228.8 34.0 229.6 34.2 229.5 34.8 228.8 35.0 228.2 35.8 228.4 36.2 229.2 36.5 231.3 34.2 232.2 33.8 235.2 34.7 236.2 35.3 237.2 34.9 238.8 35.1 239.8 34.9 241.8 35.8 242.8 34.9 243.8 34.8 246.2 36.0 247.8 36.1 249 38.2 249.8 38.6 250.8 36.8 251.8 36.4 253.8 34.6 254.8 34.9 255.8 35.9 257.2 36.1 258.4 35.8 258.8 36.8 260.2 38.2 261.2 38.2 262.2 37.7 262.7 39.2 261.8 40.9 260.9 40.8 259.2 39.5 258.2 39.5 257.6 39.8 256.8 40.8 254.2 40.8 253.8 41.1 253.2 41.9 252.8 42.0 251.8 41.3 250.2 42.9 249.4 42.8 248.2 41.6 247.7 41.8 247.5 43.2 245.2 43.3 243.8 43.7 242.8 43.2 241.2 41.7 239.8 41.6 238.2 40.6 237.8 40.9 237.2 42.1 236.8 42.3 235.8 41.9 234.8 40.6 234.2 40.6 231.8 41.8 230.8 44.4 228.8 44.6 228.3 44.2 228.1 42.2 227.2 42.1 225.8 42.5 224.2 41.3 222.8 40.8 221.8 39.8 222.4 37.8 221.8 36.2 222.2 35.3 223.2 35.0 224.2 36.2 224.8 36.3ZM231.2 35.7 230.7 36.2 230.2 37.6 229.8 37.9 227.2 37.5 226.2 37.7 226.1 38.2 226.6 40.8 227.2 41.0 227.7 40.8 228.8 39.0 230.2 38.6 231.8 38.7 233 37.8 233.3 37.2 232.8 36.0 232.2 35.7ZM234.8 36.8 233.8 37.2 233.9 37.8 235 38.2 235.4 37.2ZM239.2 36.1 238.2 37.2 238.2 38.9 239.1 38.8 239.8 37.3 239.8 36.5ZM243.8 36.6 241.9 38.2 241.7 39.2 242.2 40.8 243.2 42.2 243.7 42.8 244.2 42.8 246.8 41.2 248 39.8 247.8 38.8 246.9 37.8ZM254.8 36.6 254.2 37.2 254.6 39.2 255.7 39.9 257.2 39.4 257.5 38.2 258.5 37.2 258.2 37.1 256.8 37.3ZM204.6 36.2 205.8 35.4 206.3 35.8 206.3 36.8 205.6 37.8 206.4 39.2 205.8 40.2 204.9 39.8 204.2 38.2ZM207.6 38.8 208.8 38.9 209.2 39.8 208.8 40.1 208.2 40.0 207.5 39.2ZM75.4 51.8 75.8 51.4 76.2 51.6 77 52.2 77.5 53.2 79 54.2 80.6 56.2 80.7 57.2 80.2 57.6 78.2 57.3 76.2 56.2 76.7 55.2 76.6 54.8 75.2 53.8ZM180.3 53.2 181.8 53.2 181.9 53.8 181.2 54.3 180.2 54.4 180 54.2ZM80.7 59.2 81.4 59.8 81.2 60.4 80.8 60.6 80.2 60.2 80.2 59.7ZM198.1 79.8 198.8 79.3 199.1 79.8 198.8 80.4 198.2 80.4ZM318.2 107.2 318.8 106.9 319.7 107.2 320.7 108.2 320.8 108.8 320.2 109.3 319.6 109.2 319.5 108.2ZM196.6 108.2 197.2 108.0 198.3 108.2 198.6 109.2 198.2 110.7 197.8 110.8 197.2 110.3 196.6 109.2ZM321.6 123.2 322.2 123.2 323 123.8 322.9 124.2 321.8 124.0Z" fill="#b9b9b9" fill-rule="evenodd"/>
<path d="M211.1 32.2 217.2 31.8 219.8 32.8 221.2 32.2 222.2 33.4 223.7 32.9 224.8 33.3 235.8 32.8 237.8 33.2 239.8 32.8 241.2 33.4 242.8 33.2 246.2 34.7 247.8 34.7 250.2 35.4 250.8 35.2 253.8 32.9 256.2 33.2 258.2 32.3 261 33.8 261.8 35.2 263.8 36.8 264.2 37.9 264.8 38.1 265.8 36.8 266.8 36.4 267.2 36.5 267.6 37.8 267.2 39.2 266.8 39.8 263.8 39.9 263.2 40.2 262 42.2 262.6 44.2 260.2 46.4 258.4 45.8 257.8 43.8 257.2 43.7 256.4 44.8 255.2 45.5 254.2 44.8 251.2 45.7 250 45.2 249.8 44.4 249.4 45.2 247.8 45.9 245.8 44.2 243.2 44.7 242.2 45.3 240.2 44.1 236.6 44.8 236.2 45.2 236.3 46.2 236.8 46.6 237.9 46.8 238.7 48.2 238.7 49.7 238.2 50.3 237.2 50.0 235.8 48.2 235.2 48.1 234.2 48.9 233.5 47.2 234.6 46.2 234.2 46.0 230.2 46.6 228.2 47.8 226.8 47.8 225.2 48.7 223.4 46.8 223.8 45.9 224.8 46.1 225.2 45.8 225.6 44.8 225.3 43.8 223.8 42.9 220.8 42.5 219.9 40.8 219.2 40.5 218.7 41.8 218.7 45.2 214.8 46.4 214.4 46.8 214.8 47.1 215.5 47.2 214.8 47.5 213.8 47.2 214.1 46.8 213.7 46.2 215.9 44.8 216.2 44.2 215.8 43.8 214.2 43.5 211.8 44.4 211.5 44.2 211.8 43.2 211.6 42.8 210.2 41.9 209.6 42.2 210.3 43.8 210.2 44.2 209.2 45.0 208.8 45.0 206.8 42.1 204.8 41.7 202.9 42.8 203.6 43.8 203.6 44.2 202.8 46.0 201.9 46.8 202.2 46.9 202.6 47.8 201.2 51.4 200.8 52.3 200.2 52.3 200.1 51.8 198.6 50.8 197.9 49.8 198.2 49.1 199.2 48.7 199.7 47.2 199.4 44.8 198.2 43.4 197.9 42.2 198.2 41.8 200.8 41.4 201.2 40.6 201.8 40.5 202.8 41.0 202.9 40.8 201.8 38.6 201.2 38.3 200.2 39.4 199.8 39.2 199.6 38.8 200.8 37.6 202 35.2 202 34.2 203.2 33.1 204.8 33.5 206.2 33.0 207.8 33.8 208.3 35.2 209.2 36.0 210.2 35.3 211.8 35.4 212.3 34.8 211.8 33.9 210.8 34.5 210.5 34.2ZM216.2 33.4 215.9 33.8 215.8 35.1 214 34.8 213.6 35.2 213.6 36.8 211.8 38.0 210.4 38.2 210.5 39.2 212.8 41.2 213.2 42.7 214.8 41.9 217.2 41.5 217.7 40.8 217.2 36.2 218.3 34.2 217.2 33.4ZM228.8 34.0 225.8 35.0 224.8 36.3 224.2 36.2 223.2 35.0 222.2 35.3 221.8 36.2 222.4 37.8 221.8 39.8 222.8 40.8 224.2 41.3 225.8 42.5 227.2 42.1 228.1 42.2 228.3 44.2 228.8 44.6 230.8 44.4 231.8 41.8 234.2 40.6 234.8 40.6 235.8 41.9 236.8 42.3 237.2 42.1 237.8 40.9 238.2 40.6 239.8 41.6 241.2 41.7 242.8 43.2 243.8 43.7 245.2 43.3 247.5 43.2 247.7 41.8 248.2 41.6 249.4 42.8 250.2 42.9 251.8 41.3 252.8 42.0 253.2 41.9 253.8 41.1 254.2 40.8 256.8 40.8 257.6 39.8 258.2 39.5 259.2 39.5 260.9 40.8 261.8 40.9 262.7 39.2 262.2 37.7 261.2 38.2 260.2 38.2 258.8 36.8 258.4 35.8 257.2 36.1 255.8 35.9 254.8 34.9 253.8 34.6 251.8 36.4 250.8 36.8 249.8 38.6 249 38.2 247.7 36.1 246.2 36.0 243.8 34.8 242.8 34.9 241.8 35.8 239.8 34.9 238.8 35.1 237.2 34.9 236.2 35.3 235.2 34.7 232.2 33.8 231.3 34.2 229.2 36.5 228.4 36.2 228.2 35.8 228.8 35.0 229.5 34.8 229.6 34.2ZM205.8 35.4 204.6 36.2 204.2 38.2 204.9 39.8 205.8 40.2 206.4 39.2 205.6 37.8 206.3 36.8 206.3 35.8ZM207.8 38.7 207.5 39.2 207.8 39.8 208.8 40.1 209.2 39.8 208.8 38.9ZM232.2 42.6 232.2 43.8 232.8 44.0 233.8 43.4 234 42.8 233.2 42.3ZM254.8 42.1 254.5 42.8 254.8 43.1 255.6 42.8 255.9 42.2 255.2 42.0ZM200 34.8 200.2 34.0 200.9 34.2 201 34.8 200.2 34.9ZM238.2 37.2 239.2 36.1 239.8 36.5 239.8 37.2 239.1 38.8 238.2 38.9ZM254.5 36.8 257.2 37.4 258.2 37.1 258.5 37.2 257.5 38.2 257.2 39.4 255.8 39.9 254.6 39.2 254.2 37.2ZM189 37.2 191.8 37.0 192.6 37.2 193.1 38.2 194 38.8 194 40.8 192.2 42.0 189.8 41.6 189.5 41.2 189.8 40.8 190.2 40.7 192.4 38.8 192.3 38.2 191.2 37.8 189.8 38.5 188.6 37.8ZM179.6 39.8 180.2 37.9 182.8 38.8 184.8 39.6 185.1 40.2 184.8 40.6 181.2 41.0 180.2 40.8ZM272.6 39.8 274.3 39.8 274.8 40.2 274.7 41.2 273.6 42.8 272.2 43.1 271.2 43.9 270.8 43.9 270.6 43.2 271.2 42.2 270.2 41.2ZM176.7 40.2 177.2 40.0 177.3 41.2 177.8 41.7 179.6 42.2 179.8 43.8 179.2 44.5 177.8 44.5 176.8 43.5 175.8 43.2 174.7 42.2 176.5 40.8ZM284.2 41.2 285.2 40.5 285.8 40.7 285.7 41.2 284.2 41.9ZM303.7 41.2 304.8 41.0 305.3 41.2 305.1 42.2 304.8 42.7 304 42.2 303.6 41.8ZM279.6 41.8 280.2 41.6 280.8 42.1 281 42.8 280.8 43.8 279.8 44.3 277.8 43.9 276.6 44.8 275.8 46.3 275.2 45.9 273.9 43.8 273.8 43.2 274.2 42.8 276.2 42.0 277.8 43.1ZM286.6 42.2 287.2 42.3 287.4 42.8 286.8 43.8 286.2 43.8 286 43.2ZM288.3 44.7 288.8 44.4 289.2 44.5 289.3 45.2 288.8 45.5ZM272.5 45.2 272.9 45.2 273 45.8 272.8 46.4 272.2 46.7 272.2 45.8ZM219.6 46.2 220.8 46.5 221.3 47.2 220.8 48.2 220.7 47.8 219.7 47.2ZM183.2 46.8 184.2 46.4 185.3 47.2 185.3 47.8 184.2 48.0 183.5 48.8 183.4 49.2 184.4 50.2 184.2 50.8 183.1 49.2ZM70.2 47.8 70.4 48.8 69.8 49.3 69.2 48.8ZM74.8 48.1 76.2 47.8 77.2 49.8 77.8 49.8 78.2 47.8 79.2 48.0 80.1 48.8 80.1 49.2 78.8 50.2 78.7 50.8 79.1 52.2 80.8 54.5 81.8 54.8 83.2 53.6 84.2 53.2 85.4 54.2 85.2 54.8 84 55.8 84.8 56.8 83.2 58.6 82 61.2 81.2 61.8 79.8 61.9 78.2 60.8 77.8 59.9 76.8 60.2 76.2 60.1 75.8 58.8 73.8 58.8 73.1 58.2 72.8 57.2 70.5 58.8 71.8 61.4 71.8 62.0 71.2 62.0 71.2 60.8 70 59.8 68.2 59.0 67.7 59.2 66.8 60.8 66.8 62.8 66.2 63.2 65.2 63.2 64.1 62.2 64.5 61.2 62 58.8 61.9 57.8 62.6 56.8 60.9 54.8 61 53.2 61.8 52.9 62.8 53.2 63 54.8 63.5 55.2 65.8 54.5 67.8 57.1 68.8 57.2 69.7 56.8 71.6 54.8 71.2 54.3 69.8 53.8 66.2 53.7 66 53.2 66.2 52.2 67.2 52.1 68.2 52.9 68.8 52.8 69.8 51.8 71.8 52.7 72.3 52.2 72.7 50.2 72.4 49.2 72.9 48.2 73.2 47.9ZM75.8 51.4 75.4 51.8 75.1 53.2 75.2 53.9 76.6 54.7 76.7 55.2 76.2 56.2 78.3 57.3 80.2 57.6 80.7 57.2 80.8 56.5 79.2 54.6 77.5 53.2 76.5 51.8ZM78.2 58.5 77.9 59.2 78.2 59.6 79.3 58.8 78.8 58.4ZM80.8 59.2 80.2 59.8 80.2 60.2 80.8 60.6 81.2 60.4 81.4 59.8ZM170.2 48.2 170.8 48.0 171.8 48.8 172.8 49.1 173.8 50.5 174.2 50.6 175.2 49.6 176.2 49.3 179.2 52.1 180.3 52.2 180 52.8 180.2 52.9 180.8 52.5 181.8 52.5 183.2 51.7 185.2 52.2 185 53.2 184.2 55.0 183.8 55.2 179.8 56.2 177.2 55.9 176.9 55.8 176.5 53.8 175.8 52.8 173.8 53.3 173.2 52.2 171.2 52.2 170.2 51.6 169.9 51.2 170.8 49.8ZM181.8 53.2 180.3 53.2 180 53.8 180 54.2 180.2 54.4 181.2 54.3 181.9 53.7ZM214.7 50.8 215.6 53.2 215.2 53.6 214.1 52.2 214.2 51.2ZM216.6 54.2 219.2 52.0 219.9 52.2 220.4 55.2 220.2 55.9 219.2 54.8 217.8 55.2 216.8 54.8ZM86.4 53.2 87.2 53.1 88 53.8 88 54.2 87.2 54.6 86.3 54.2ZM101 54.2 101.2 52.8 104.1 53.8 104.5 54.2 103 54.8 102.4 56.2 101.8 56.4 100.8 55.8 100.4 55.2ZM210.5 53.2 210.8 52.9 212.8 52.9 213.3 53.2 213.4 54.2 212.8 54.9 211.8 55.0ZM201.4 53.8 201.8 53.4 202.8 53.5 203.1 54.2 203 54.8 201.8 54.4ZM59.1 54.2 60.2 54.8 60.2 55.2 59.5 55.2ZM242.5 55.8 244.2 55.3 244.8 55.5 245 56.8 245.8 57.5 247 57.2 247.8 56.3 248.2 56.2 248.6 56.8 245.8 60.6 242.2 58.2 241.9 57.2ZM196.5 58.2 197.2 58.0 197.8 58.5 198.8 58.5 199.8 58.0 200.8 58.2 201.2 58.6 201.3 59.2 200.8 59.6 199.8 59.5 198.2 60.4 197.7 60.2ZM219.1 61.8 219.8 61.6 220.7 61.9 221.8 62.5 222.2 63.2 221.4 64.2 219.8 64.4 219.4 64.8 219.8 66.3 219.2 66.2 218.8 64.6 216.6 63.8 216.6 63.2 217.2 62.8 218.2 62.6ZM100.8 62.7 102.8 62.0 104.1 63.2 104.1 63.8 103 64.8 103 65.2 103.5 65.8 103 67.2 103.2 67.5 104.2 67.5 105.2 68.7 107.1 69.2 106.2 69.6 105 69.2 105 69.8 105.7 71.2 105.5 72.2 105.2 72.4 104.8 72.0 103.2 73.4 102.8 73.2 102.3 71.2 103.2 70.2 101.4 68.2 98.6 66.8 98.2 66.2 98.6 65.2 97.9 64.2 98.2 63.5 98.8 63.4 99.2 63.7 99.8 64.8 99.9 65.8 100.8 66.5 101.1 65.8 101 64.8 101.5 64.2 101.2 64.0 100.8 64.3 100.6 63.2ZM234.2 64.9 235.2 64.0 235.8 64.2 236.1 64.8 235.5 65.8 235.8 66.6 236.2 66.7 236.8 66.1 237.8 65.9 238.8 67.2 238.8 67.8 236.2 69.3 234.2 68.7 232.2 69.2 231.2 68.7 229.8 69.1 229.5 68.8 229.7 67.2 230.2 66.8 231.2 66.8 231.5 65.2 232.5 64.8ZM270 65.8 270.8 65.9 272.6 67.8 271.8 69.5 270.8 68.1 270.2 68.1 269.9 68.2 270.2 68.8 269.8 69.4 267.8 69.2 268 68.8 269.1 68.2 269.3 67.8 269 66.8 269.2 66.2ZM274.5 66.2 275.2 66.5 275.9 67.2 275.8 67.8 275.2 68.2 273.8 67.2ZM255.4 66.8 255.8 66.3 256.2 66.3 256.9 66.8 256.8 68.8 256.2 69.0 255.7 68.8ZM175.6 71.8 176.4 72.2 175.8 73.0 175.2 72.9 175.1 72.2ZM221.2 71.8 222.2 71.7 223.2 72.2 224 74.8 223.8 74.9 222.8 74.5 222.2 74.6 221.4 76.8 219.8 76.6 219.3 76.2 219.3 75.8 219.8 74.0 220.2 73.5 221.2 74.5 221.6 74.2 221.5 73.2 220.8 72.2ZM77.8 72.8 80.6 72.8 80.6 73.2 80.1 73.8 79.2 73.9 78.8 73.4 77.8 73.2ZM191.3 73.8 191.8 73.3 192.2 73.4 193.2 74.2 194.8 74.6 194.8 75.1 194.2 75.3 193.2 74.5 191.8 74.8ZM93.2 74.8 94 74.8 94.5 75.2 93.9 76.2 92.8 76.8 92.2 76.6 92.1 75.8ZM198.9 74.8 199.7 74.3 200.5 74.8 201.6 77.8 201.7 79.8 202.5 80.8 202.3 82.8 202.7 84.8 202.4 86.2 201.8 86.7 199.4 86.2 198.7 85.2 198.9 84.2 198.7 83.8 197.2 83.0 196.2 81.3 193.1 79.8 193.3 79.2 194.8 78.1 195.8 78.6 198.2 77.2 198.9 76.2ZM198.2 79.6 198.2 80.4 198.8 80.4 199.1 79.8 198.8 79.3ZM182.3 76.2 183.2 76.0 184.1 76.2 184.2 77.2 183.8 77.6 182.8 77.5 182.1 76.8ZM109.5 77.2 109.8 77.0 110.2 77.1 111.8 78.1 114.3 78.8 114.3 79.8 113.8 80.0 112.2 79.0 111.2 79.1 109.8 78.0ZM118.7 78.2 119.2 78.0 120.5 79.2 120.4 79.8 119.7 80.2ZM104.1 78.8 104.8 78.6 104.1 80.2 103.2 80.8 101.6 81.2 101.4 79.8 101.8 79.6 102.8 80.6ZM187.7 78.8 189.8 78.7 190.3 79.2 190.2 79.8 188.2 80.5 187.3 79.8 187.3 79.2ZM208.5 79.8 209.8 79.8 210.9 81.8 210.5 82.8 209.2 83.3 208.2 83.2 207.4 82.2 207.9 80.2ZM204.4 80.2 204.8 80.0 205.8 80.1 206 80.8 205.2 81.2 204.8 81.0ZM186.6 81.2 187.8 81.9 189.2 81.8 189.2 82.8 188.8 83.2 187.2 82.5 185.8 82.8 185.5 82.2ZM285.7 81.2 286.3 80.8 286.8 80.8 286.9 81.2 285.8 82.1ZM119.2 82.2 119.8 81.8 120.5 82.2 120.4 82.8 119.8 83.0 119.3 82.8ZM219.3 82.2 220.2 81.8 221.4 82.2 221.3 83.8 220.7 85.2 220.8 86.5 220.2 86.6 219.8 85.8 219.2 82.8ZM215.7 83.2 216.2 82.8 216.8 83.2 216.2 84.0 215.7 83.8ZM195.5 84.2 196.2 83.4 196.7 83.8 196.7 84.2 196.3 84.7 195.8 84.5ZM212.7 83.8 213.8 83.7 214.2 84.2 213.2 84.6 212.8 84.4ZM127.6 84.2 128.2 84.5 130 86.2 129.8 87.0 128.2 86.5 127.4 85.8ZM216.4 85.7 216.8 85.3 217.6 85.8 217.3 86.2 216.8 86.4ZM194 87.2 194.8 87.0 195.3 87.2 195.9 89.2 196.3 89.8 196.2 90.4 195.8 90.4 195.2 89.6 192.9 89.8 192.7 89.2 193 88.2ZM225.8 88.5 226.2 87.4 226.8 87.4 226.8 88.2ZM115.1 90.8 115.8 90.5 116.7 90.8 117 91.2 116.3 92.2 116.8 92.5 118.8 92.2 119.2 92.8 119.3 94.2 121 95.2 121.4 96.2 120.8 96.6 117.2 95.5 115.7 95.6 115.5 95.8 116.5 96.8 115.2 97.7 114.8 99.1 114.2 99.2 112.4 98.2 111.9 97.2 112.2 96.4 114.2 95.2 113.9 94.2 114 92.8 114.2 91.8ZM289.6 90.8 290.2 91.1 290.3 91.8 290.2 93.2 289.8 93.4 289.2 92.8 289.1 92.2 289.2 91.2ZM202.3 93.8 203.2 92.8 203.8 93.0 204.4 93.8 204.2 94.8 203.8 95.0 202.8 94.7ZM317.1 95.2 318.1 95.2 318.3 96.8 319 97.2 319.1 97.8 318.8 98.2 317.8 98.2 317.2 97.8 317.7 96.8 317.6 96.2 316.7 95.8ZM334.7 95.8 335.2 95.8 335.7 97.2 334.8 97.5 334.2 96.8ZM288.2 96.8 289.2 96.5 289.8 96.8 289.8 97.2 288.8 97.7 288.2 97.6ZM121.4 98.2 122.8 97.4 123.4 97.8 123.5 98.2 123.2 98.8 122.2 99.0ZM133.7 100.2 134.8 100.0 135.2 100.2 135.3 100.8 133.8 101.4 133.4 101.3 133.3 100.8ZM127.1 100.8 127.8 100.4 128.1 100.8 128 101.8 127.8 101.9 127.2 101.5ZM196.5 100.8 197.2 100.5 197.5 101.2 197.1 102.2 196.2 102.8 195.3 102.2ZM209.7 100.8 210.8 100.4 214.7 101.8 214.9 103.8 214.8 104.2 214.2 104.6 213.2 104.3 212.2 104.6 210.8 107.1 209.2 108.2 208.8 108.2 208.1 106.8ZM229.1 101.2 230.4 102.2 230.4 102.8 230.9 103.2 230.8 104.0 229.8 102.9 228.2 102.5 228.2 102.2ZM102.2 102.2 102.8 102.6 103.8 102.1 104.8 102.4 105.6 103.2 105.5 104.2 104.8 104.5 103.3 103.8 102.2 102.8ZM136.9 102.2 137.2 101.9 138.2 102.2 138.7 103.2 137.8 103.4ZM218.5 102.2 218.8 101.8 219.2 101.8 221.3 102.2 221.8 102.8 221.8 104.6 221.2 104.9 219.1 104.2ZM310.2 102.2 310.8 102.1 311.8 102.7 312.8 102.8 314 104.2 314.8 104.7 315.3 104.8 316.3 103.8 317.2 103.7 317.5 104.2 317 104.8 319.2 106.4 320.1 106.2 320.2 105.7 321.8 104.7 323.2 104.8 324.2 105.8 324.4 104.2 325.2 104.0 325.9 104.2 326.2 105.4 325.6 105.8 324.8 106.9 323.8 106.7 323.2 107.0 322.9 107.8 323.2 108.3 324.8 108.6 325.8 109.7 328.2 110.8 328.2 112.9 330.2 114.2 330.7 115.2 330.2 116.9 329.2 117.3 328.8 117.2 328.5 116.8 328 114.8 327.2 113.9 325.8 114.0 325.1 114.8 326.2 115.9 325.7 118.2 325.9 118.8 327.8 119.5 329.8 119.6 330.3 121.2 330 123.2 328.8 124.2 326.8 126.5 325.2 126.5 321.2 125.0 320.3 124.2 319.4 122.8 319.8 120.6 320.8 119.8 321.2 119.9 322.8 121.2 324.2 121.2 325.6 120.8 325.2 118.8 322.7 117.8 322.2 116.6 320.8 116.1 319.2 114.2 317.8 114.4 313.8 113.4 312.8 113.7 311.8 113.0 311.5 112.2 312.1 111.2 312.1 110.8 311 109.8 311.1 109.2 312.2 108.3 313.5 108.8 313.5 108.2 312.8 106.8 311.4 105.2 311.1 103.8 310.1 102.8ZM318.2 107.1 318.6 107.8 319.5 108.2 319.6 109.2 320.4 109.2 320.8 108.8 320.7 108.2 319.7 107.2 318.8 106.9ZM321.8 123.2 321.5 123.8 322.2 124.3 322.9 124.2 323 123.8ZM134.2 104.2 136.2 103.8 137.4 105.2 137.5 106.2 137.2 107.0 136.8 107.2 136.2 107.2 135.2 106.5 134.3 106.8 133.9 107.2 133.8 108.4 133.2 108.3 132.6 106.8ZM118.3 108.2 119.2 106.0 119.5 106.2 120 107.2 121.2 108.2 121.6 109.2 120.4 111.8 119.2 112.3 118.1 111.2 118.8 109.9 120.1 110.2 119.8 109.3 118.8 109.2ZM198.2 106.8 198.8 106.9 199.8 109.0 200.2 109.1 201 108.8 201.9 107.8 204.2 107.1 205.2 109.2 203.8 110.3 202.2 109.4 201.8 109.5 201.6 110.2 202.1 111.2 201.9 111.8 201.2 112.1 199.8 112.2 199.8 112.8 200.7 112.8 201.3 113.2 200.2 117.2 198.2 118.5 197.7 118.2 197.1 117.2 195 116.2 194.5 115.8 195.8 113.2 196 111.8 195.5 110.2 194.4 108.8 195.2 107.5ZM196.8 108.1 196.5 108.8 196.8 109.5 197.7 110.8 198.2 110.7 198.6 108.8 198.2 108.2ZM208.8 108.8 209.2 108.3 209.8 109.2 209.8 110.0 209.2 110.1 209 109.8ZM299.1 109.2 300.6 109.2 299.8 111.2 298.8 111.8 298.2 111.1 298.1 109.8ZM305.5 109.2 306.2 108.9 306.8 109.0 307.8 109.7 308 110.2 307.8 112.8 307 113.8 309.5 117.2 309.4 118.2 308.8 119.0 307.8 119.6 304.2 120.7 303.5 120.2 303.5 119.8 305.2 118.6 305.2 117.3 304.8 116.9 303.2 116.8 301.8 115.5 298.8 114.9 297.9 115.2 297.4 116.8 296.2 117.3 295.8 117.3 294.8 116.2 295.1 115.8 297 115.2 298.2 113.8 299.2 113.4 301.8 113.9 303.2 114.6 304.5 113.8 304.7 113.2 304.4 112.2 305.8 111.5 306.2 110.8 306.2 110.2ZM210 111.8 211.2 110.9 211.8 111.2 211.3 112.2 211.9 113.2 211.8 114.0 210.8 114.0 210.3 113.2ZM133.7 113.8 134.8 114.2 134.2 114.9 133.8 114.9 133.2 115.4 132.8 115.2ZM332.6 115.2 333.2 114.3 333.8 115.2 333.8 116.9 333.2 117.5 332.8 117.1 332.5 116.2ZM208.3 115.8 209.2 115.4 209.9 115.8 210 116.2 209.2 117.0 208.3 116.2ZM209.1 118.8 209.8 118.8 210.1 119.2 210.2 119.8 209.8 120.3 209 120.2 208.8 119.8ZM111.1 143.8 111.8 143.5 112.2 143.7 113.6 144.8 113.1 145.2 112.2 145.3 111 144.2Z" fill="#c4c4c4" fill-rule="evenodd"/>
<path d="M283.2 11.3 284.2 10.8 284.8 11.3 286.2 11.3 286.8 11.8 289.2 11.8 289.8 12.3 292.8 12.3 293.2 12.8 293.8 12.8 295.2 14.3 294.2 15.3 297.2 15.3 297.8 15.8 300.8 15.8 302.2 15.8 302.8 15.3 303.2 15.3 303.8 14.8 304.2 15.3 306.8 15.3 307.3 15.8 308.8 15.8 310.8 17.8 311.8 17.8 312.8 16.8 313.2 17.3 319.3 17.3 320.2 16.3 321.8 16.3 322.3 15.8 322.8 16.3 328.2 16.3 328.8 16.8 330.2 16.8 330.8 17.3 331.2 17.3 331.8 17.8 338.2 17.8 338.8 18.3 339.2 18.3 339.8 18.8 340.2 18.8 340.8 19.3 343.8 19.3 344.2 18.8 348.8 18.8 349.2 19.3 350.8 19.3 351.2 18.9 356.8 18.8 357.2 19.3 358.8 19.3 359.8 20.0 359.2 19.9 358.8 19.4 357.2 19.4 356.8 18.9 351.2 19.0 350.8 19.5 349.2 19.5 348.8 18.9 344.2 18.9 343.8 19.4 340.8 19.5 340.2 19.0 339.8 18.9 339.2 18.4 338.8 18.4 338.2 17.9 331.8 17.9 331.2 17.4 330.8 17.4 330.2 16.9 328.8 16.9 328.2 16.4 322.8 16.4 322.2 15.9 321.8 16.4 320.2 16.4 319.2 17.5 313.2 17.4 312.8 16.9 311.8 17.9 310.8 17.9 308.8 15.9 307.2 15.9 306.8 15.4 304.2 15.4 303.8 14.9 303.2 15.4 302.8 15.4 302.2 15.9 297.8 15.9 297.2 15.4 294.2 15.4 294.1 15.2 295.1 14.2 293.8 12.9 293.2 12.9 292.8 12.4 289.8 12.4 289.2 11.9 286.8 11.9 286.2 11.4 284.8 11.4 284.2 10.9 283.8 11.4 283.2 11.4 282.8 11.9 281.8 11.9 281.2 12.4 279.2 12.4 278.8 12.9 270.2 12.9 269.8 13.4 268.8 13.4 268.2 13.9 267.2 13.9 266.2 14.9 264.2 14.9 263.8 15.4 260.8 15.5 259.4 16.8 259.9 17.2 259.2 18.0 258.2 16.9 257.8 16.9 257.2 16.4 255.8 16.4 255.2 15.9 253.9 17.2 254 17.8 253.8 18.0 253.5 17.8 253.6 17.2 252.2 15.9 250.8 15.9 250.2 15.4 249.8 15.9 248.8 15.9 247.8 17.0 247.2 17.0 246 18.2 246 18.8 245.5 19.2 246.5 20.2 246.2 20.5 245.8 20.5 245.2 20.0 244.8 20.0 244.2 19.6 243.8 19.6 243.3 19.0 240.8 19.0 239.2 20.5 238.8 20.5 238.2 20.0 236.2 20.0 235.8 20.5 232.2 20.5 231.8 21.0 228.2 21.0 227.8 21.5 226.8 21.5 225.8 20.5 223.8 20.4 223.2 19.9 222 21.2 222.5 21.8 222.5 22.2 222.2 22.5 221.8 22.5 220.2 20.9 218.8 21.0 218.2 20.5 217.8 20.5 217.2 20.0 216.8 20.0 216.2 19.5 212.2 19.4 211.2 18.4 210.2 18.4 209.8 17.9 206.2 17.9 205.8 17.4 205.2 17.9 203.8 17.9 203.2 18.4 201.2 18.4 200.8 18.9 199.2 18.9 198.8 19.4 197.8 19.4 197.2 19.9 195.8 19.9 195.2 20.5 193.8 20.4 192.5 21.8 193 22.2 193 22.8 191.2 24.5 190.2 24.5 189.2 25.5 188.8 25.5 188.2 26.1 186.8 26.1 186.2 26.6 185.2 26.6 184.6 27.2 184.1 27.8 184.1 30.2 185.8 32.4 186.2 32.4 187.2 33.1 188.8 33.1 190.8 32.4 191.8 32.8 192.8 31.4 193.8 31.1 194.8 31.8 195.6 33.2 196.2 33.5 197.7 32.2 197.9 30.2 198.8 29.2 198.8 28.2 199.7 27.4 200.1 27.8 200.2 28.5 201.7 28.9 204.2 28.7 207.2 27.6 208.3 28.2 208.8 29.6 210.2 29.1 212.8 29.5 213.6 29.2 215.2 27.8 215.2 26.4 216.8 27.1 218.8 27.2 219.2 27.1 220.8 25.8 223.8 25.7 224.2 26.2 224 27.2 224.2 28.0 225 27.8 225.3 26.8 226.8 25.7 227.8 25.4 228.3 25.8 229.2 28.2 230.8 28.6 231.8 29.6 232.2 29.7 233.9 28.2 237.8 27.3 239.2 25.6 239.8 25.5 240.4 26.2 241.2 28.2 243.2 29.6 246.8 28.8 248.2 28.8 249.8 27.1 252.2 27.4 254.2 26.3 256.4 27.2 258.8 27.0 260.2 27.4 261.7 28.2 262.3 30.2 265.2 31.2 267.8 30.4 269.8 29.0 271.8 28.6 272.1 28.8 271.6 31.2 272.2 31.7 272.8 31.5 273.8 30.0 274.2 30.0 276.2 30.9 277.2 31.9 278.8 32.5 279.2 32.7 280.8 31.7 281.8 32.0 282.3 32.2 282.8 33.5 283.2 33.8 284.2 33.2 286.2 33.0 288.2 34.1 288.8 34.1 289.2 32.2 289.7 31.8 292.2 31.6 292.5 31.8 291.2 33.2 291.2 33.8 292.2 34.7 292.8 34.6 293.6 33.2 294.8 32.6 296.8 30.4 299.2 31.1 300.2 30.8 299.9 29.2 300.4 27.8 301.8 26.4 302.8 26.1 304.1 26.8 304.3 27.8 304.8 28.1 306.2 28.4 307.2 30.4 309.4 30.8 309.4 32.2 312.8 34.6 312.9 34.2 312.5 32.8 313.2 31.6 313.8 31.5 314.8 32.4 315.2 32.3 315.8 31.6 316.2 31.7 318.2 33.1 318.7 34.3 322.7 31.8 327.2 31.9 327.8 31.4 329.7 31.2 329.6 30.2 330.8 29.7 332.2 30.0 333.8 31.3 335 31.2 334.7 30.2 334.9 29.8 336.2 29.0 338.8 29.4 339.1 29.8 339.1 30.2 338.3 31.2 337.7 31.2 338.3 32.2 339.8 32.7 343.8 31.0 344.8 31.2 345.2 30.9 347.2 30.8 349.2 29.5 350 29.8 350.2 30.5 350.8 30.4 350.7 28.8 351.2 27.8 351.6 27.8 351.2 27.2 351.4 26.2 353 25.2 352.3 24.8 352.4 24.2 353.8 24.0 354.2 24.1 354.7 24.8 354.9 26.8 354.2 28.2 353.8 28.2 352.8 27.3 351.8 27.8 352.6 29.8 353.8 29.0 355.2 29.3 355.8 28.9 359.8 29.1 355.8 29.1 355.2 29.6 353.8 29.5 353.2 30.0 352.2 30.0 351.8 30.5 351.2 30.5 350.2 31.5 349.8 31.0 349.2 31.0 345.2 31.1 344.8 31.5 344.2 31.5 343.2 32.5 341 33.8 339.6 35.8 339.6 37.8 336.8 40.4 336.2 40.4 334.8 41.8 334.1 40.8 334.1 40.2 335.5 38.8 335 38.2 335 37.2 334.6 36.8 334.6 34.2 335.1 33.8 335.1 33.2 337.2 31.0 338.2 30.9 338.9 30.3 338.8 29.6 337.2 29.5 335.2 31.5 334.2 31.6 333.8 32.0 331.8 31.9 331.2 31.3 327.8 31.6 327.2 32.1 322.8 32.1 318.5 34.8 319.2 35.5 320.8 35.5 321.4 36.2 320.8 37.1 319.2 37.6 319.1 38.8 319.8 39.2 321.8 39.5 323.2 39.0 324.8 39.3 326 41.2 324.8 42.5 323.9 42.8 324.2 43.4 323 43.8 321.8 45.3 320.8 45.2 320.7 43.8 321.1 43.2 320.8 42.5 319.5 43.8 319.4 44.2 318.1 45.2 316.8 42.8 317.3 40.8 317.1 39.8 316.5 39.2 314.8 39.1 315 37.2 314.8 36.8 314.2 36.8 313.6 37.2 313.2 39.2 314.4 39.8 315.9 41.8 316 44.8 317 45.8 316.2 46.9 315.8 46.8 315.2 47.3 314.5 46.2 312 45.8 311.2 44.7 310.2 44.7 308.2 43.7 307.9 43.2 308.4 41.8 308.4 40.8 307.1 39.8 306.8 38.8 307 37.2 308.5 36.2 308.6 34.2 307.8 33.7 306.2 33.8 305.2 33.3 302.5 31.2 301.8 30.0 301.7 30.8 300.3 32.2 299.6 34.2 298 35.8 297.9 36.2 298.7 37.2 298.6 37.8 297.8 38.5 296.8 38.5 295.2 39.2 293.2 38.4 291.9 38.2 291.6 37.2 290.8 36.7 288.2 38.3 287.8 38.3 286.8 36.8 285.8 36.8 283.8 35.0 281.2 33.9 279.8 35.1 278.8 34.6 276.8 35.2 275.8 35.2 275.2 37.1 274.2 38.2 273.2 37.8 272.9 37.2 274 35.8 274.1 34.8 272.6 33.2 270.7 32.2 269.8 30.8 269.2 30.7 267.8 31.5 266.5 31.8 265.8 33.2 265.2 33.3 260.8 31.3 259.8 29.4 258.8 29.1 256.2 29.3 254.8 28.9 254.2 29.1 253.3 31.2 252.2 31.8 251.2 31.9 250.3 32.7 248.8 32.2 249.1 30.8 248.8 30.5 247.2 30.4 246.8 30.8 246.3 32.8 245.2 33.2 244.2 32.9 243.2 31.5 239.2 31.6 236.8 30.8 235.8 30.1 235.2 30.0 233.8 30.8 229.8 30.9 229.8 30.2 229.4 29.8 227.8 28.9 227.2 29.2 226.8 30.5 226.2 30.7 225.2 30.0 223.8 30.7 223 30.2 222.2 28.4 221.8 28.2 220.9 29.8 219 30.8 218.2 30.8 215.2 29.9 213.8 30.6 212.2 30.4 211.2 30.6 208.8 31.6 205.8 29.8 203.8 29.9 202.2 30.7 201.2 30.5 200 29.2 199.8 27.6 199.1 28.2 199 28.8 200 29.8 199.9 30.8 199.4 31.2 199.8 31.8 199.2 32.0 198.2 33.5 197.8 33.8 197.2 33.5 196.2 34.5 193.8 34.0 192.2 34.6 189.8 34.0 187.2 33.8 187 33.2 186.2 32.6 185.8 32.6 184.4 31.2 184.4 30.8 183.9 30.2 183.9 27.8 184.4 27.2 185.2 26.4 186.2 26.4 186.8 25.9 188.2 25.9 190.2 24.4 191.2 24.4 192.9 22.7 192.9 22.2 192.4 21.8 193.8 20.3 195.2 20.3 195.8 19.8 197.2 19.8 197.8 19.3 198.7 19.3 199.2 18.8 200.8 18.8 201.2 18.3 203.2 18.3 203.8 17.8 205.2 17.8 205.8 17.3 206.2 17.8 209.8 17.8 210.3 18.3 211.2 18.3 212.2 19.3 216.2 19.3 216.8 19.8 217.2 19.8 217.8 20.3 218.2 20.3 218.8 20.8 220.2 20.8 221.8 22.3 222.2 22.4 222.3 21.8 221.8 21.2 223.2 19.8 223.8 20.3 225.8 20.3 226.7 21.4 227.8 21.4 228.2 20.9 231.8 20.8 232.2 20.3 235.8 20.3 236.2 19.8 238.2 19.8 238.8 20.3 239.2 20.3 240.8 18.8 243.2 18.9 243.8 19.4 245.2 19.9 245.8 20.4 246.2 20.4 245.3 19.2 245.8 18.8 245.8 18.2 247.3 16.8 247.8 16.8 248.8 15.8 249.8 15.8 250.2 15.3 250.8 15.8 252.2 15.8 253.7 17.2 253.8 17.8 253.8 17.2 255.2 15.8 255.8 16.3 257.2 16.3 257.8 16.8 258.2 16.8 259.2 17.8 259.8 17.2 259.3 16.8 260.8 15.3 263.8 15.3 264.2 14.8 266.2 14.8 267.2 13.8 268.2 13.8 268.8 13.3 269.8 13.3 270.2 12.8 278.8 12.8 279.2 12.3 281.2 12.3 281.8 11.8 282.8 11.8ZM251.8 28.8 251.1 29.2 251.4 29.8 251.8 30.0 252.2 29.8 252.2 29.1ZM274.8 31.7 274.1 32.2 274.8 32.9 275.3 32.2ZM296.8 36.6 295.7 37.2 296.2 38.0 297 37.2ZM305.2 30.6 305.2 31.2 305.7 31.8 306.6 31.2 306.3 30.8ZM310.8 39.5 310.3 40.2 310 42.8 310.8 43.4 312.8 43.8 313 42.8 312.4 41.8 312.2 40.2 311.8 39.7ZM320.2 41.1 318.2 42.2 318.2 42.8 318.8 42.9 320.2 42.1 320.7 41.2ZM84.8 17.3 85.8 16.8 87.2 16.8 88.7 18.2 88.7 18.8 89.8 19.9 90.2 19.9 90.8 19.3 91.2 19.8 92.2 19.8 93.2 20.8 95.2 18.8 97.8 18.8 98.2 19.3 98.8 19.3 100.2 20.8 100.2 21.8 99.7 22.2 100.2 22.8 98.8 24.2 98.3 24.1 97.2 25.2 94.8 25.2 94.2 25.7 93.2 25.7 91.7 27.2 90.8 27.1 90.2 27.6 89.8 27.6 89.2 28.1 88.2 28.2 87.2 29.2 87.2 29.8 88.8 31.4 89.8 31.4 91.2 32.4 92.2 32.4 92.8 32.9 93.2 32.9 93.8 33.4 97.2 33.4 98.8 35.0 99.2 34.9 100.2 34.0 102 33.2 102 32.8 100.4 31.2 100.9 30.8 100.8 28.2 100.3 27.8 101.8 26.4 106.2 26.4 107.8 27.4 108.8 27.4 109.2 27.9 110.2 27.9 112.2 30.4 113.2 30.4 115.2 28.4 118 31.2 118 31.8 120.2 34.2 120.6 34.2 121.5 37.2 121.8 37.6 123.1 37.8 123.8 38.4 125.8 38.2 124.9 39.2 126.2 39.7 126.1 40.2 125.7 40.8 121.2 43.0 119.7 42.6 119.6 42.2 121.1 40.8 120.8 40.4 120.2 41.0 117.2 41.0 116.5 41.8 116.4 42.8 116.8 43.2 115.8 45.2 115.2 45.5 114.8 45.2 114.9 43.8 113.2 42.6 112.8 42.7 112.4 43.2 112.6 45.8 112 46.8 110.8 47.3 108.8 47.5 108 48.8 107.2 49.2 105.8 48.4 104.2 49.6 103 49.8 102.2 50.6 101.3 49.8 101.9 49.2 102 48.8 100.4 47.8 99.6 46.2 98.8 45.7 97.2 45.7 96.4 45.2 96.5 44.8 99.2 43.2 98.8 43.1 98.6 42.2 99.2 41.2 100 41.2 100.5 41.8 100.7 42.8 99.3 43.2 100.2 44.2 100.8 44.0 101.2 43.0 102.8 43.6 104.3 42.8 104.4 42.2 103.8 42.1 100.7 39.8 99.8 39.6 98.2 40.4 97.2 40.5 95 39.8 94.9 40.2 95.3 41.2 94.2 42.3 92.2 41.7 91.2 41.8 90.2 42.5 88 41.8 86.8 40.4 85.7 40.2 84.8 40.9 83.2 40.5 81.8 41.4 81 42.2 79.2 43.0 74.2 42.0 73.5 42.2 72.8 43.0 71.2 42.2 71.3 40.8 70.7 39.2 69.8 38.7 68.8 38.7 67.3 39.2 67.1 39.8 67.9 41.8 67.8 42.4 66.9 43.2 66.8 43.8 67.6 44.8 67.2 45.2 65.2 44.5 64.9 44.8 65.2 46.8 64.8 47.2 64.2 47.1 61.8 45.2 61.3 44.2 61.2 43.3 60.8 43.0 60.7 44.2 60.3 44.8 59.8 45.1 58.8 45.1 58.4 45.8 59.3 47.2 59.3 48.2 59.9 49.2 58.4 50.8 57.8 50.9 56.4 50.2 56.8 49.7 58.2 49.4 58.9 48.8 58.2 48.3 56.8 48.5 55.8 48.0 54.8 48.4 54.5 46.2 54.5 45.8 55.1 45.2 55.2 43.8 60.2 42.8 60.5 42.2 60.2 41.8 57.8 40.8 57.4 40.2 57.3 39.8 58.4 38.8 58.2 37.2 57.8 36.8 56.8 37.2 55.2 36.5 54.2 36.7 54.1 38.8 52.8 39.4 51.8 40.3 50.5 39.2 51.5 38.2 50.2 36.9 49.9 37.8 48.8 39.0 46.6 37.2 46 35.8 47.5 34.2 45.8 32.6 43.8 32.6 43.2 32.9 41.2 31.6 38.8 31.6 38.2 31.1 34.8 31.1 34.2 30.6 32.2 30.6 31.8 31.1 30.8 31.1 30.2 31.6 29.8 31.6 29.1 32.2 29.1 32.8 27.8 33.8 24.2 33.1 22.2 33.7 20.2 33.3 19.3 34.2 19.5 35.2 18.2 35.6 17.2 34.8 16.2 34.8 15.4 35.2 14.8 36.2 14.2 35.8 15.2 34.6 15.8 34.7 16.8 33.5 18.2 33.5 18.8 33.0 19.8 33.1 20.1 32.8 19.8 32.5 18.2 32.5 16.8 31.1 15.2 31.1 13.9 29.8 13.9 29.2 12.9 28.2 14.2 26.6 12.8 26.1 11.2 24.6 8.8 25.6 7.2 27.1 6.8 26.6 4.8 26.6 4.2 26.1 3.2 26.1 2.8 25.5 0.8 25.6 0.2 26.1 0.8 25.4 2.8 25.3 3.2 25.8 4.2 25.9 4.8 26.4 6.8 26.4 7.2 26.9 8.8 25.5 11.2 24.5 12.8 25.9 14.6 26.8 13 28.2 14.1 29.2 14.1 29.8 15.2 30.8 16.8 30.8 18.2 32.3 18.8 31.2 21.8 30.7 26.3 31.4 26.8 31.8 27.2 32.8 28.2 33.0 28.8 32.8 28.9 32.2 29.8 31.4 30.2 31.4 30.8 30.9 31.8 30.8 32.2 30.4 34.2 30.4 34.8 30.8 38.2 30.9 38.8 31.4 41.2 31.3 43.4 32.2 45.8 32.4 47.8 34.2 48.8 33.0 51.2 32.1 53.8 32.7 55.2 33.5 57.7 34.2 59.8 36.3 61.8 36.9 64.8 39.3 68.2 37.2 70.8 36.7 71.2 37.2 71.3 38.2 71.9 39.8 72.8 40.5 73.8 40.7 75.2 40.5 75.6 39.8 75.2 39.1 73.8 39.0 73.1 38.2 74.8 36.7 77.2 35.9 81.2 35.3 82.2 37.2 82.8 37.3 84.8 37.2 86.8 36.1 87.8 36.2 88.8 37.1 89.8 39.2 90.2 39.4 91.2 38.8 91.7 37.2 92.1 36.8 94.2 36.3 96.2 34.7 97.1 35.8 96.8 36.5 95.6 37.2 95.8 37.9 96.8 38.3 97.8 37.7 99.2 37.4 98.8 36.8 98.8 35.8 99.2 35.3 100.2 36.2 99.9 37.8 101.2 38.7 102.2 39.1 104.8 38.9 107.5 40.2 106.8 40.9 106.4 42.2 108.2 44.5 109.8 44.1 110.2 42.9 111.7 42.3 112.5 41.2 112.6 39.2 113.8 37.2 114.1 35.8 114 34.8 113.2 33.8 113.2 33.2 116.8 34.5 118.8 33.0 118.2 32.2 116.8 32.6 116.2 32.3 116.3 31.7 116.8 31.4 117.8 31.5 117.8 31.2 115.2 28.7 114.3 29.8 114.2 30.5 113.8 30.2 113.2 30.6 112.3 30.6 110.2 28.2 109.2 28.1 108.8 27.6 107.7 27.6 106.2 26.5 101.8 26.5 100.5 27.8 101 28.2 101 30.8 100.6 31.2 102.2 32.8 102.2 33.2 100.2 34.2 99.2 35.2 98.8 35.2 97.2 33.7 93.8 33.5 92.2 32.5 91.2 32.5 89.8 31.5 88.8 31.5 87 29.8 87 29.2 88.2 28.0 89.2 28.0 89.8 27.5 90.2 27.5 90.8 27.0 91.8 27.0 93.2 25.6 94.2 25.5 94.8 25.0 97.2 25.0 98.2 24.0 98.8 24.0 100 22.8 99.5 22.2 100 21.8 100 20.8 98.8 19.4 98.2 19.4 97.8 18.9 95.2 18.9 93.2 21.0 92.2 20.0 91.2 20.0 90.8 19.5 90.2 20.0 89.8 20.0 88.5 18.8 88.5 18.2 87.2 16.9 85.8 16.9 85.2 17.4 84.8 17.4 82.4 19.8 82.9 20.2 82.2 21.0 75.8 20.9 75.2 20.4 74.2 20.4 73.8 19.9 73.2 20.4 72.2 20.4 71.2 21.4 70.8 21.4 70.2 20.9 65.8 20.9 65.2 20.4 63.8 20.4 63.2 19.9 60.8 19.9 60.2 19.4 58.2 19.4 57.8 18.9 57.2 19.4 55.8 19.4 55.2 18.9 54.8 19.4 53.8 19.4 52.8 18.4 49.8 18.4 49.2 18.9 46.2 18.9 45.8 19.4 44.8 19.4 44.2 19.9 41.8 19.9 41.2 19.4 39.8 19.4 39.2 18.9 37.8 18.9 37.2 18.4 28.8 18.4 28.2 17.9 24.2 18.0 23.8 17.5 23.2 18.0 21.2 18.0 20.8 18.5 18.2 18.4 17.2 19.5 16.8 19.5 16.2 20.0 14.2 19.9 13.8 20.5 13.2 20.5 12 21.8 13 22.8 11.8 23.5 11.2 23.5 10.2 22.4 8.8 22.5 8.2 22.0 6.2 22.0 5.8 21.5 4.8 21.4 4.2 21.0 3.8 21.0 3.2 20.5 2.8 20.5 2.2 20.0 0.2 20.0 2.2 19.8 2.8 20.3 3.2 20.3 3.7 20.8 4.2 20.8 4.8 21.3 5.8 21.3 6.2 21.8 8.2 21.9 8.8 22.3 10.2 22.3 11.2 23.3 11.8 23.3 12.8 22.8 11.8 21.8 13.2 20.3 13.8 20.3 14.2 19.8 16.2 19.8 16.8 19.3 17.2 19.3 18.2 18.3 20.8 18.3 21.2 17.9 23.2 17.9 23.8 17.4 24.2 17.9 28.3 17.8 28.8 18.3 37.2 18.3 37.8 18.8 39.2 18.8 39.8 19.3 41.2 19.3 41.8 19.8 44.2 19.8 44.8 19.3 45.8 19.3 46.2 18.8 49.2 18.8 49.8 18.3 52.8 18.3 53.8 19.3 54.8 19.3 55.2 18.8 55.8 19.3 57.2 19.3 57.8 18.8 58.2 19.3 60.2 19.3 60.8 19.8 63.2 19.8 63.8 20.3 65.2 20.3 65.8 20.8 70.2 20.8 70.8 21.3 71.2 21.3 72.2 20.3 73.2 20.3 73.8 19.8 74.2 20.3 75.2 20.3 75.8 20.8 82.2 20.8 82.8 20.2 82.3 19.8ZM121.8 39.1 121.4 39.8 121.8 40.3 122.2 40.2 122.8 39.8 122.6 39.2ZM104.2 44.7 103.8 45.2 103.9 45.8 105.8 47.2 106.8 47.3 108 45.8 107.8 44.9 106.8 45.5 104.8 44.6ZM60.8 39.2 60.5 39.8 61.4 40.8 62.2 41.1 63.3 40.7 62.8 39.1 61.8 38.9ZM79.8 36.8 77.2 37.1 76.8 37.8 78.8 38.9 79.9 37.2ZM92.8 38.2 93 39.2 93.2 39.5 93.6 39.2 93.8 38.2 93.2 37.8ZM99.2 35.6 99.1 36.8 99.8 37.5 99.9 36.2ZM118.8 35.2 118.7 35.8 119.2 36.1 119.9 35.8 119.7 35.2ZM47.8 36.0 47.6 36.8 47.8 37.3 48.7 36.2 48.2 35.8ZM16.4 26.8 17.3 26.8 17.2 27.6 16.8 28.1 16.1 27.8ZM171.4 27.8 172.8 26.4 173.2 26.4 174.6 27.8 174.6 28.2 173.2 29.6ZM172.8 26.6 171.6 27.8 173.2 29.4 174.4 28.2 174.4 27.8 173.2 26.6ZM262.3 26.8 262.8 26.4 263.4 26.8 263.8 27.8 263.5 28.2 262.2 28.2ZM178.8 28.6 179.2 28.1 180.3 29.2 178.8 31.3 177 29.8 178.2 28.6ZM173.1 32.2 175.2 30.0 175.8 30.5 176.8 30.7 177.8 31.6 178.2 31.6 179.3 32.8 178.2 34.1 177.2 34.4 175.8 32.5 174.8 32.7 173.8 33.8 172.8 33.2ZM104.2 30.8 105.2 30.7 106 31.2 106.2 31.8 105.8 32.5 104.8 33.1 104.2 33.0 103.8 31.8ZM74.2 33.8 74.8 33.5 75.2 34.1 74.8 35.4 74.2 34.8ZM122.4 34.8 123.4 35.2 123.2 36.0 122.3 35.8ZM282.1 36.2 283.2 35.9 283.8 36.2 283.2 38.3 282.8 38.3 281.9 37.2 281.8 36.8ZM265.4 41.8 266.2 41.9 267.9 43.2 267.6 44.2 266.2 45.0 265.2 44.8 264.5 44.2 264.6 42.8ZM295.7 42.8 299.2 43.0 300.1 43.8 300.6 45.2 299.2 48.2 296.2 47.6 295.8 47.9 295.2 48.7 294 48.2 293.6 47.2 293.9 46.3 295.6 45.2 296.1 44.2 296.1 43.2ZM330.7 42.8 331.7 42.8 332.2 43.8 331.2 44.8 330.2 44.4 329.7 43.7 329.7 43.2ZM188.1 43.8 191.2 43.5 192.7 43.8 193.2 44.2 192.3 45.2 192.1 45.8 192.8 46.2 193.7 45.8 194.2 44.6 194.6 45.2 194.3 46.2 194.4 47.8 192.8 49.5 191.2 48.9 189.8 47.0 188.8 47.3 188.2 47.0 186.8 45.5 186.1 45.2 187.2 45.0ZM92.5 44.2 94.2 44.2 95.1 44.8 95.6 45.2 95.1 46.2 96.6 47.2 97.1 48.8 97.1 49.2 96.5 49.8 95.2 49.4 94.1 47.8 94.6 46.8 93.2 46.0 92.5 47.8 93 49.8 93.8 50.6 93.9 51.2 93.3 52.8 92.8 53.1 91.9 51.2 90.8 50.2 91.9 48.3 91.4 46.8 91.5 46.2 93 45.8 92.4 44.8ZM326.1 44.8 326.8 44.1 327.8 44.2 327.2 44.9 326.2 45.1ZM89.9 44.8 90.7 44.8 91 45.2 89.8 46.0 89.3 45.8ZM302.8 44.8 303.8 44.3 304.3 44.8 303.8 45.2 303.2 45.3ZM173.2 45.2 173.9 45.2 173.7 45.8 172.8 46.0 172.3 45.8ZM309.7 45.2 310.2 44.9 310.7 45.8 310.2 46.2 309.8 46.1ZM204.9 46.2 205.5 46.2 205.6 46.8 205.2 47.2 204.8 46.9ZM280.8 47.3 283.8 45.8 284.2 45.9 286.2 47.2 289.8 48.0 291.2 49.2 291.2 51.4 291.8 51.9 292.8 51.7 293.2 52.2 292.9 53.2 293 54.8 291.8 56.2 292.2 58.8 292.8 59.4 293.8 59.1 294.8 58.3 294.8 56.2 295.8 55.3 296 53.8 297.2 52.3 299.8 51.8 300.8 52.7 302.2 52.6 303.1 53.2 302.8 53.8 300.8 54.3 300.2 55.8 299 56.8 298.8 57.2 300.2 58.4 302.8 58.2 302.9 59.8 303.4 60.2 302.9 61.8 301.8 62.8 300.2 63.2 298.2 64.7 296.2 64.8 294.8 64.1 294.5 64.2 294.7 66.2 294.2 66.9 292.2 67.7 292.3 69.2 291.9 69.8 292.4 70.2 289.8 72.8 287.6 71.2 287.6 70.8 288.5 69.8 288.2 69.5 286.8 70.8 286.8 71.2 289.8 74.2 289.9 74.8 290.3 75.2 290.2 77.3 288.8 76.9 287.8 77.0 286.8 77.8 286.3 79.2 285.8 79.8 284.8 80.3 284.2 80.1 283.6 79.2 284 77.2 283.9 75.8 284.3 75.2 285.8 74.9 286.2 75.0 286.8 75.9 287.2 76.1 287.7 75.8 287.5 74.8 286.8 74.2 284.8 73.4 283.8 72.4 281.8 72.0 280.9 72.2 280.8 73.2 280.2 73.6 278.3 71.8 278.2 70.2 277.8 69.9 276.2 69.6 276.4 68.8 277.2 68.1 277.8 68.0 278.8 69.2 280.2 69.1 282.2 67.7 283.8 67.6 284.2 67.2 284.4 66.2 284.2 65.2 285.1 64.8 285.5 62.7 285.4 62.2 284.8 61.8 283.2 62.4 281.8 64.3 281.2 64.1 280.4 62.8 278.8 61.8 276.8 61.3 274.8 61.6 274.2 62.0 274.2 63.0 275.8 63.3 276.4 63.8 276.7 64.8 276.2 65.4 272.8 63.9 269.2 64.5 267.8 64.3 265.2 65.6 263.2 66.0 262.3 68.2 261.8 68.6 260 66.8 261.4 64.2 261.3 63.8 260.2 61.8 258.2 61.1 257.6 59.8 256.8 59.2 254.2 60.2 253.8 60.8 253.8 61.2 254.2 61.6 255.7 61.8 256.1 62.2 254.8 63.2 254.1 64.8 252.9 64.8 252.7 63.8 252.2 63.4 251.5 63.8 251.9 64.8 249.4 67.8 250.1 69.8 249.8 69.9 248.6 68.8 248.6 68.2 247.8 66.7 248.8 66.7 251 64.2 250 62.8 250.4 60.8 251.5 59.2 250.9 57.8 251.2 53.8 251.8 53.6 252.8 55.0 254.2 55.2 256.8 54.8 257.8 53.7 259.8 52.7 261.8 52.3 264.2 52.7 265.6 51.8 265.6 51.2 264.8 50.2 265 49.8 266.2 49.2 266.8 49.2 268.2 49.9 271.2 49.3 274.2 50.2 277.2 50.0 277.8 49.3 278.1 47.8 278.8 47.2ZM284.2 47.2 282.4 48.2 281.8 49.0 281.5 49.8 281.8 50.2 283.8 51.3 285.8 51.3 286.2 51.6 286.6 53.2 285.8 54.2 285.7 54.7 286.5 55.8 286.9 57.2 288.8 58.9 289.8 59.0 290.8 57.7 289.8 57.1 289 55.8 289.3 53.2 288.4 52.2 288.6 51.2 289.4 49.8 289.2 49.3 287.2 48.2 285.2 47.9ZM291.2 64.2 290.9 64.8 291.2 65.2 293.2 66.2 293.4 65.8 292.2 64.2ZM298.2 58.7 294.8 59.7 294 60.2 293.4 61.2 293.8 61.6 295.6 61.8 296.2 63.3 298 62.8 298.4 62.2 298.2 60.8 298.8 59.2ZM301.2 60.9 300.9 61.8 301.2 62.2 301.8 62.2 301.9 61.2 301.8 60.9ZM270.2 51.1 267.8 51.8 265.2 54.0 264.8 54.2 261.8 53.7 260.8 54.2 259.7 56.2 259.5 57.8 261.8 61.3 264.2 62.0 264.6 62.2 264.8 63.4 265.8 63.6 268.5 63.2 268.8 62.8 268.4 61.8 268.6 61.2 270.2 59.8 272.2 60.8 273.8 60.0 275.2 60.2 276.2 59.9 278.8 60.0 279.2 60.1 279.7 61.3 280.2 61.6 281.2 61.7 281.8 61.2 282.2 59.8 281.2 58.8 281.2 58.2 281.9 57.2 279.2 55.0 277.2 53.9 276.2 52.2 274.2 51.1ZM285.2 59.5 285.2 60.2 286.1 60.8 286.3 61.2 286.2 62.2 286.8 62.7 287.8 62.7 288.2 62.2 288.2 61.8 286.8 60.8 285.8 59.4ZM289.2 63.2 289.2 63.9 289.8 64.0 290 63.8 289.8 62.8ZM319.1 46.8 319.6 46.8 319.6 47.8 319.2 48.3 319.1 47.8 318.5 47.2ZM262.7 47.2 263.2 47.4 263.7 48.8 263.4 49.2 261.8 50.2 260.2 49.6 258.8 50.2 256.2 49.2 255.8 49.3 255.5 49.8 256.8 50.5 257.2 51.2 257.1 51.8 256.8 51.9 255.8 51.5 255.2 50.0 254.1 49.8 254.8 48.7 257.2 47.7 258.2 47.6 261.2 48.7 261.8 48.6ZM310.2 47.8 310.8 47.8 311.1 48.2 310.9 49.2 309.8 50.4 309.2 50.3 309.1 49.2ZM321.4 47.8 322.4 47.8 322.7 48.3 322.3 48.8 320.8 48.8 320.7 48.2ZM295.6 49.2 296.2 49.3 296.7 49.8 296.8 50.3 296.2 51.0 295.5 50.2ZM81.8 49.8 82.2 49.5 83.1 50.2 83.2 50.8 82.8 51.3 82.2 51.5 81.4 51.2 81.3 50.8ZM252 49.8 253.2 49.8 253.5 50.2 252.8 50.6ZM187.8 50.2 188.2 49.8 189.8 51.8 190.2 52.1 191.7 52.2 191.6 52.8 189.8 53.5 188.8 52.5 188.2 52.5 186.8 53.6 186.3 52.8 186.5 52.2 187.8 52.2 188.1 51.8 187.7 51.2ZM195.6 50.8 196.2 51.2 196.7 52.8 195.8 53.8 194.2 54.1 193.1 53.2 193 52.8 194.4 52.2ZM319.2 50.8 321.1 51.8 321.1 52.8 320.8 53.2 319.6 53.2 319.2 52.2ZM222.2 52.7 224.2 50.8 227.4 51.2 228.3 51.8 228.9 53.2 227.2 54.3 226.2 53.8 225.8 53.9 224.2 55.2 222.8 55.4 222 54.8 221.8 53.8ZM231.3 51.3 231.8 50.8 232.6 52.2 232.2 52.5ZM88 51.8 88.2 51.4 90.2 51.4 90.3 52.2 89.9 52.8 89.2 52.9 88.2 52.3ZM252.2 53.3 252.8 52.0 253.2 52.0 253.4 52.8ZM312.7 53.8 313.2 54.2 312.8 55.2 312.2 55.4 311.9 54.2ZM305.1 54.8 305.8 54.1 306.7 56.2 306.2 56.3 305.1 55.2ZM172.6 54.8 174.8 55.2 170.8 57.9 170.6 57.8 171.7 55.8 172.2 55.6ZM94.4 56.2 95.2 55.8 96.1 56.2 96.4 57.2 95.8 58.6 94.1 58.2ZM309.2 56.2 309.9 56.8 309.8 57.2 309.2 57.7 308.6 57.2 308.6 56.8ZM312.9 56.2 313.2 56.0 314.5 56.2 314.1 57.8 313 57.8ZM176.1 57.8 176.8 57.4 178.3 57.3 179 57.8 179.1 58.2 178.2 58.6 176.2 58.1ZM205.9 57.8 207.2 57.5 207.8 58.1 208.6 58.2 208.4 58.8 208.8 59.3 209.8 58.8 211.6 61.2 211.5 61.8 209.8 63.4 209.6 63.8 209.8 65.2 209.2 65.9 208.5 65.8 207.7 63.8 205.6 61.8 207 59.3 206 58.2ZM90.2 58.9 91.8 57.8 93.2 58.2 93.5 60.8 91.8 60.9 91.2 61.3 90.8 61.3 88.5 60.2 88.3 59.2 88.6 58.8 89.2 58.5ZM227.4 58.2 228.2 58.1 229.2 59.8 228.4 60.8 228.3 62.8 227.1 64.8 227.6 65.8 227.2 66.5 226.5 65.2 224.8 64.1 224.3 62.2 224.8 61.5 225.8 61.4 226.6 60.8 227 58.8ZM233.2 58.2 234.2 58.7 235.2 58.3 237.2 59.0 239.9 58.8 240.4 59.2 239.2 59.4 238.7 60.2 238.7 60.7 239.2 61.2 243.8 61.2 244.4 61.8 243.6 63.8 243.9 64.2 243.8 64.8 242.8 64.9 242.2 63.9 241.8 63.6 240.3 64.1 237.2 62.7 236.2 62.9 235.2 62.4 233.8 62.4 232.3 59.8 232.8 58.5ZM84.2 59.2 87.3 58.8 87.3 59.8 86.2 61.2 84.8 61.9 83.9 62.8 83.8 64.7 83.2 64.5 81.8 65.4 81.2 65.4 80.9 64.8 81.2 63.9 82.7 63.2 83.6 62.2 83.8 59.7ZM203.7 58.8 204.8 58.8 205.1 59.2 204.8 59.6 204.2 59.6 203.7 59.2ZM97.5 59.2 98.2 59.3 99.2 60.2 98.8 60.7 98.2 60.5 97.3 59.8ZM181.2 59.8 183.2 59.0 184.8 60.0 185.8 59.4 186.2 59.5 186.7 60.2 186.3 61.8 186.8 62.8 184.8 64.6 183.8 65.0 183.2 65.1 182.8 64.5 181.2 60.8ZM183.2 61.9 183.2 63.3 183.8 63.7 184.2 63.5 184.4 62.8ZM191.2 60.4 191.8 58.9 192.2 59.0 192.8 60.2 192.4 60.8 191.8 60.8ZM163.2 60.6 166.2 60.1 167.2 61.1 167.9 61.2 167.6 62.8 167.9 63.8 167.2 64.5 165.2 64.0 163.5 61.8 162.7 61.2ZM177.4 61.2 178.2 61.2 179.1 61.8 179.5 62.8 180.3 63.2 180.6 63.8 179.9 65.2 180.1 65.8 181.3 66.8 181.4 68.8 179.2 71.3 178.4 70.2 175.8 69.7 174.8 69.2 175.6 66.8 174.9 65.8 175.2 65.6 176.2 63.8 176.8 63.6ZM171.7 63.2 172.2 63.1 173.2 63.5 174.5 65.2 174.7 65.8 173.6 66.8 173 67.8 174.2 68.8 174.1 69.2 172.9 69.2 172.5 68.8 172.4 66.2 171.2 64.2ZM76 64.2 76.8 64.0 77.4 64.8 76.2 65.5 75.7 65.2ZM216.6 65.2 217.2 65.3 217.6 65.8 217.6 66.2 217.2 66.4 216.8 65.9 216.2 66.1 216.2 65.8ZM163.1 66.2 164.2 65.5 165.1 66.2 164.9 67.8 164.2 69.0 163.3 68.7 163 68.2ZM167 65.8 167.8 65.5 168.8 66.1 169.8 65.8 170.1 66.2 167.8 67.1 166.9 66.2ZM193.6 65.8 194.2 65.6 195 66.2 194.8 68.8 195.8 71.2 195.2 71.8 192.5 71.8 190.8 70.2 188.8 70.4 187.8 71.1 187.2 71.1 186.7 70.7 185.5 68.2 185.4 67.8 185.8 66.8 188.2 65.9 189.8 66.9 192.2 66.3 193.2 66.4ZM189.2 67.5 188.8 67.8 188.5 68.8 188.8 69.7 189.2 70.0 189.8 69.6 189.9 68.8ZM191.2 67.7 190.9 68.2 191.2 69.1 192.5 69.2 192.2 68.1ZM205.1 65.8 206.3 65.8 207.8 67.9 208.8 68.6 208.8 68.2 211 67.2 211.1 65.8 212.2 65.6 212.7 66.2 211.8 67.8 211.8 68.8 212.2 69.2 213.8 69.2 213.9 69.8 213.2 70.5 210.8 70.4 209.2 68.8 208.8 68.8 207.8 69.8 207.2 69.8 206.5 68.2 204.1 66.8ZM301.1 66.8 302.2 66.6 302.4 67.2 301.9 67.8 301.9 68.2 300.8 69.1 299.7 68.2 299.7 67.8ZM198.1 67.8 198.8 67.7 199.8 68.8 199.8 69.2 199.2 69.8 198 69.2 197.7 68.8ZM222.9 68.8 224.2 67.4 224.3 67.8 223.9 68.2 223.9 69.2 223.2 69.5ZM225.3 67.8 226.2 67.3 227.3 67.8 226.8 68.1ZM82.5 68.2 83.2 68.2 82.8 69.5 82.2 69.2ZM218.1 68.2 218.8 68.3 219 68.8 219 69.2 218.2 70.1 217.7 69.8ZM77.9 70.2 78.8 69.0 79.8 69.8 80.4 70.8 80.2 71.3 79.2 71.4 78.2 70.8ZM164.5 69.2 165.2 69.2 165.8 69.7 165.9 71.2 168.2 74.2 168.8 74.4 169.8 74.3 170.2 74.8 170.2 75.2 169.8 75.6 168.2 75.8 167.6 76.8 167.3 78.2 166.8 78.5 166 78.2 165.9 76.8 165.2 76.2 164.8 73.8 163.8 73.5 162.8 74.1 162.6 72.8ZM109.8 69.8 110.2 69.6 110.8 70.0 111.8 70.0 112.2 70.6 114.2 70.7 114.2 71.1 113.8 70.8 112.8 71.2 113.5 72.8 113.2 73.1 112.8 73.3 111.8 72.3 111.1 72.8 109.8 72.9 108.2 72.4 106.8 72.2 107.1 71.2 109.2 70.6 109.7 70.2ZM204.6 69.8 205.5 69.8 206.2 70.2 206.8 71.8 208.2 71.5 210.2 72.5 210 73.2 208.8 74.2 208.6 76.2 209.9 76.8 209.8 77.9 208.8 78.2 206.9 77.2 206.8 76.1 205.8 76.2 204.2 75.4 203.3 72.2 203.7 70.8ZM260.2 69.8 260.8 69.5 261.2 69.7 263 71.2 262.8 72.3 262.3 72.8 262.8 73.8 261.4 75.2 261.2 76.0 260.4 74.8 262.1 73.2 262.2 72.8 261.2 72.0ZM84.8 70.3 88 70.8 88 71.8 86.7 72.8 85.8 74.3 83.8 74.1 83.4 73.8 83.4 72.8ZM226.6 70.2 227.3 70.0 227.8 70.8 227.2 72.0 226.8 72.2 226.4 71.2ZM237.6 70.2 239.2 70.4 239.4 70.8 237.8 72.4 237.2 72.4 235.2 74.0 233.8 74.3 232.2 75.3 231.8 74.3 230.4 73.8 230.2 73.2 230.6 72.8 232.8 72.8 234.2 70.9 234.8 70.6 235.3 70.8 236.2 72.1ZM215.3 71.2 217.8 70.9 218.4 73.2 218 74.2 217.4 74.2 217 73.2 216.3 72.8 215.2 72.7 213.8 73.5 213.2 73.2 213.4 72.2ZM254.9 71.2 256.2 70.9 256.8 71.2 256.4 73.2 255.2 75.2 255.8 77.2 255.6 77.8 254.8 78.3 253.6 77.2 253.6 76.8 253.1 76.2 253.1 75.2 252.7 74.8 252.8 74.5 254.2 73.5 254.6 71.8ZM264.1 71.2 264.8 71.0 265.2 71.3 265.4 71.8 264.8 72.3 264.5 72.2ZM275.2 71.2 275.8 70.9 276.2 71.1 276.6 71.8 276.5 72.2 275.8 72.8 275.2 72.8 274.8 72.2ZM299.6 73.8 300.8 73.0 301.2 73.2 301.8 74.8 301.5 75.2 299.8 75.6 299.5 75.2ZM226.6 73.8 228.4 74.2 228.6 74.8 228.3 75.7 227.2 75.8 226.3 75.2 226.3 74.2ZM161.6 75.2 162.8 74.3 163.1 75.2 163.1 76.2 162.8 76.6 162.2 76.7 161.7 75.8ZM302.3 75.8 303.8 75.4 304.2 75.7 306.3 77.8 306.8 78.8 305.2 80.0 304.8 79.4 304.2 77.8 303.2 76.9 302.6 76.8ZM233.2 76.2 234.8 76.1 235.9 77.2 235.2 77.8 234.2 77.2 233.2 77.3 232.7 76.8ZM259.7 77.8 261.2 76.5 261.3 77.2 260.8 78.2ZM95.2 78.2 97.2 78.2 97.3 79.2 98 79.8 98.8 82.7 100 83.8 99.2 83.9 98.2 82.9 96.2 83.0 94.8 81.5 94 81.2 93.6 80.8 93.7 80.2 94.8 79.6ZM96.2 81.2 96.4 82.8 97.3 82.8 97.3 81.2 96.8 80.9ZM179.2 78.2 179.8 78.0 180.8 78.0 181.6 78.8 181.5 79.2 180.2 80.2 179.2 80.4 177.5 82.2 177.4 82.8 178.2 84.9 178.8 85.5 179.2 85.3 179.3 85.8 178.8 85.8 178.2 85.5 176.2 85.9 174.5 85.8 173.2 84.6 172.8 85.9 172.2 86.3 171.3 86.2 172.2 84.5 172.8 84.6 172.9 84.2 172.7 83.2 172.9 82.2 172.5 81.2 172.8 80.6 177.2 79.4 178.8 79.6ZM175.2 83.0 174.9 83.8 175.2 84.7 175.9 84.2ZM214.1 78.8 215.5 78.8 215.8 79.2 214.8 79.5 214.2 79.2ZM225.2 78.8 226.6 78.8 226.8 79.6 226.2 80.1 225.8 79.9 225.2 79.2ZM277.7 79.8 279.5 80.2 280.4 82.8 281.8 83.8 281.9 84.2 281.2 85.8 279.8 86.2 278.2 85.5 277.3 86.2 277.4 87.2 276.8 87.6 276.2 87.2 276.6 86.2 276.3 85.2 275.8 84.5 274.8 84.2 274.6 83.8 275.2 83.1 275.8 83.6 277.8 83.6 278.8 84.6 279 84.2 279 83.2 277 81.2 277 80.8ZM298.1 79.8 298.6 79.8 298.9 80.2 299.5 81.2 299.3 81.8 296.2 83.0 296.6 82.2 296 81.8ZM168.2 80.2 169.2 80.3 169.6 80.8 169.7 82.8 171.2 83.2 171.3 83.8 170.4 85.2 169.8 85.4 168.2 83.9 167.7 83.8 167.8 80.8ZM106.2 82.3 107.2 80.4 107.8 80.4 108.8 80.8 109.8 80.8 110.5 81.2 110.5 82.2 111.6 84.2 110.2 86.6 107.8 86.0 105.1 84.2 104.9 83.2ZM109.2 83.7 108.7 84.2 108.7 84.8 109.6 85.2 110.2 85.1 110.6 84.2 110.3 83.8ZM302.7 81.2 303.8 81.1 304.1 81.2 304.1 81.8 303.4 83.8 302.2 84.3 301.1 83.2 301.5 82.8 301.5 82.2ZM181.9 81.8 182.5 81.8 183.8 82.6 184.5 84.8 180.8 84.8 180.2 85.3 179.3 85.2 180.2 84.6 182.8 84.6 183.1 84.2ZM121.6 83.2 122.2 82.9 123 83.2 123.9 84.8 126.1 87.2 124.3 90.2 123.8 90.5 122.8 90.0 121.2 86.2 121 84.2ZM102.6 84.8 103.2 84.4 104.8 85.2 105.1 86.8 105.8 87.8 105.6 88.8 106.4 89.8 105.8 90.8 104.8 90.9 103.2 90.0 99.8 89.0 100.1 88.2 101.7 86.8ZM184.7 85.2 184.8 84.9 187.6 86.2 187.2 86.9 186.2 87.0ZM297 87.2 299.8 84.9 298.8 86.2 299.2 88.2 298.2 87.5ZM189.4 86.2 190.2 85.5 190.5 86.2 190.2 87.0 189.8 87.1ZM300.8 87.8 301.8 87.6 302.2 88.1 303.7 88.2 302.9 89.2 302.2 89.3 301 88.2ZM188.7 88.2 190.8 88.7 191.3 89.2 191.8 90.8 192.9 91.8 191.5 93.8 192.2 96.3 192.6 96.8 193.2 96.9 193.8 96.5 193.8 95.3 194.8 94.1 196 94.2 197.3 96.2 196.5 98.2 195.2 99.8 194.8 100.1 193.8 99.6 192.2 99.7 192.1 97.8 191 96.2 191 95.2 190.5 94.8 190.6 94.2 189.8 93.3 188.6 92.8 188 91.2 187.5 90.8 188.5 89.2ZM188.3 89.7 188.2 90.8 188.8 91.8 189.2 92.3 190.7 92.2 190.2 90.2 189.2 89.6ZM213.7 88.2 214.8 88.2 215 88.8 213.8 90.0 213.4 89.2ZM222 88.8 222.8 88.8 223 89.2 222.8 89.6 222.1 89.8 221.7 89.2ZM110.4 89.2 112.8 89.6 113.1 90.2 112.7 91.2 112.7 92.8 111.2 93.4 110.4 94.2 110.2 96.2 111.2 99.2 111.9 103.2 111.8 104.3 110.3 105.2 111.8 106.8 112.2 108.6 112.8 109.1 114.2 108.3 114.7 108.8 113.5 110.2 113.2 112.2 113.3 113.2 113.8 114.2 112.7 116.2 113.2 118.2 113.2 119.8 113.8 120.3 115.9 120.8 116.2 121.1 116 122.8 117.3 123.8 117.8 125.2 117.5 125.8 116.2 126.5 113.8 127.1 113.4 127.8 113.8 128.6 115.9 130.8 116 131.2 115.1 132.2 115.3 135.2 114.5 136.2 114.5 136.8 115.4 137.8 112.9 140.2 112.8 140.9 111.8 140.8 111 141.2 108.2 144.9 107.7 144.8 106.8 143.4 105.8 143.4 105.2 143.0 104.1 141.2 104.2 140.1 106.3 139.8 106.6 139.2 106.5 138.2 107.5 137.2 107.8 135.8 108.7 134.2 108.6 132.8 107.3 130.2 108.6 127.2 108.7 123.8 109.8 123.3 110.2 122.8 109.8 121.9 108.8 121.6 107.2 123.9 107.1 121.8 107.2 120.9 108.1 119.8 108.1 117.2 108.5 115.2 108.5 108.2 107.5 107.8 109 105.2 108.2 103.8 107.7 101.8 106.7 100.2 107.2 99.2 106.2 98.9 106 98.2 106.8 96.8 106.8 95.1 109.7 94.2 108.9 92.8 109.6 92.2 109.4 91.8 108.8 92.4 108.2 92.5 107.6 89.8 108.2 89.4ZM113.8 123.0 113.2 123.8 113.8 124.4 114.3 124.3 114.9 123.8 114.9 123.2ZM109.8 99.5 109.1 100.2 109 101.8 109.7 102.7 110.2 102.9 110.5 101.8ZM109.2 107.6 108.7 109.7 109.2 112.8 109.1 115.8 109.8 117.2 110.2 119.2 111.2 120.2 111.8 120.2 112.1 118.8 111.6 113.8 112.1 111.8 111.2 108.6 110.8 107.8 109.8 107.4ZM111.2 121.0 111.2 121.8 111.8 122.7 112.3 122.2 112.2 121.8ZM111.2 123.6 110.4 124.8 110.3 125.8 110.8 126.8 111 128.2 111.8 128.7 112.3 128.2 113 125.8 111.8 123.3ZM110.8 133.8 110.4 134.2 110.4 135.2 111 136.8 111 139.2 111.2 139.3 111.3 138.2 113.2 137.6 113.4 136.8 113 135.8ZM111.8 130.5 111.1 132.2 111.2 132.7 113.7 132.2 112.5 131.2 112.2 130.3ZM130.8 89.7 132.2 89.8 133.8 90.8 134.3 92.8 133.8 94.2 132.8 94.6 131.8 95.6 129.8 95.7 127.2 94.8 126.8 94.2 127.2 93.9 128.2 94.0 128.5 93.8 128.8 91.5 130.2 90.9ZM295 89.8 295.8 89.5 296.9 89.8 297.7 90.2 297.7 90.8 297.2 91.2 296.8 91.0ZM279.5 90.8 280.8 90.0 281.2 90.4 281.5 91.8 281.2 92.5 280.2 92.6 279.6 91.8ZM312.2 90.7 313.8 89.8 314.1 90.3 314 91.2 314.5 92.8 313.9 94.8 312.8 95.4 311.2 93.9 310.2 95.0 309.8 94.4 309 94.2 310.6 92.8 310.7 91.8 310.2 90.7 310.8 90.5ZM298.3 91.2 299.2 90.8 301.1 91.8 301.8 92.5 302.8 93.0 303.6 94.2 303.4 94.8 302.2 95.9 301.5 95.8 300.8 94.8 299.8 95.0 299.4 94.8 299.2 93.2 298.2 92.2ZM135.9 91.8 137.2 91.5 138.9 91.8 136.8 92.7ZM215.1 92.2 215.7 91.9 218.8 94.9 219.3 94.8 220.8 91.9 221.9 92.2 221.9 92.8 221 93.8 220.9 94.8 219.9 95.2 219.7 98.2 217.2 100.4 215.2 100.1 214.5 99.2 215.2 97.2 215 95.2 215.5 93.8 215.1 92.8ZM318.3 92.2 319.2 92.2 319.3 92.8 318.8 93.1 318.2 92.9 318 92.8ZM323.4 92.2 323.8 92.2 324.2 92.6 324.5 93.2 323.8 93.6 322.9 93.2ZM282.5 93.2 283.2 93.0 283.8 93.2 284.1 93.8 283.2 95.0 282.4 94.8 282.2 94.3ZM325.6 94.2 326.2 94.1 327.2 95.1 327.8 95.1 328.2 94.6 329.1 94.8 329.7 96.8 328.4 97.2 328.8 97.8 327.8 98.1 326.8 98.0 325.9 97.2 324.7 95.2ZM100.2 96.2 101.2 95.5 101.6 95.8 101.8 96.5 100.7 96.8ZM337.2 96.8 338.2 96.6 338.8 97.1 339.6 97.2 339.5 97.8 338.2 98.3ZM320.9 97.2 321.8 96.8 323.2 96.9 324.1 97.8 324.3 99.2 323.6 99.8 323.2 99.0 322.9 99.8 321.8 100.1 320.9 98.2ZM300.5 97.8 300.8 97.8 301.2 98.8 300.8 98.9 300.2 98.5ZM142 98.2 142.8 97.8 143.1 98.2 142.4 100.2 141.8 100.4 141.5 99.8ZM202.5 98.8 203.2 98.7 204.2 100.2 206.2 100.2 206.9 100.8 206.7 101.2 204.2 102.2 201.8 103.8 202.1 105.2 201.9 105.8 201.2 106.1 199.3 104.8 199.1 104.2 199.2 103.6 200.8 101.5 201.4 99.8ZM340.4 99.2 340.8 98.8 341.2 98.8 342.2 99.4 342.3 99.8 341.2 100.8 340.9 100.8ZM118.7 101.2 119.8 101.0 120 101.8 119.9 102.2 119.2 102.6 118.2 102.3 118.1 101.8ZM130.8 102.2 131.8 102.3 132.2 103.1 131.6 104.2 131.2 106.1 129.4 108.2 128.2 108.4 127.5 106.8 126.2 106.2 126 105.8 128.2 104.0 129.4 103.8 129.9 102.8ZM204.2 103.8 204.6 104.2 204.2 104.8 203.8 104.8 203.6 104.2ZM308.2 103.8 309.1 103.8 309.7 104.2 309.6 105.2 308.8 106.8 308.8 107.8 308.7 106.8 307.4 105.2 307.3 104.8 307.5 104.2ZM345.5 105.2 346.8 104.4 348.2 105.2 348.2 106.1 347.8 107.3 347.4 106.8 345.6 105.8ZM358.8 105.5 359.8 105.1 359.8 106.7 359.2 106.3 357.6 106.8 356.5 108.2 357.2 109.3 357.6 109.2 357.8 108.2 359.8 106.8 359.8 108.4 358.8 109.4 357.2 109.6 356 108.2 356 107.8 357.2 106.5 357.8 106.5ZM140.2 105.8 141.3 105.8 142.1 106.2 142.3 106.8 141.9 107.2 142 108.2 141.5 108.8 141.5 109.8 140.8 110.3 139.2 110.0 137.8 108.8 138.7 107.8 138.9 106.2ZM223.5 107.2 224.2 106.5 224.7 106.8 224.8 107.8 226.2 109.1 227.3 108.8 227.2 107.8 227.8 107.5 229.2 107.2 229.8 107.6 228.9 108.8 229.5 110.8 228.9 113.8 228.2 114.8 226.8 114.2 223.8 114.3 222.2 112.8 222.2 112.2 223.6 111.2 223.1 109.2 223.7 108.2ZM227.8 109.9 227.2 110.8 227.8 111.3 228.4 110.8 228.2 110.1ZM213 107.2 213.2 107.1 213.8 107.5 215 107.8 214.5 108.2 213.3 108.2ZM237.1 109.2 237.8 109.1 238.4 109.8 238.4 110.2 237.6 111.2 235.2 112.0 234.2 111.2 235.2 111.1ZM343.2 110.4 344.2 109.1 344.8 109.8 344.8 110.1ZM213.6 110.2 214.3 109.8 215.2 109.9 215.9 111.8 216.8 112.7 215.2 115.3 214.7 114.8 215.2 113.2 213.8 111.3ZM203 113.2 205.8 112.5 207.5 113.8 207.6 114.2 206.8 115.8 205 116.2 204.2 117.3 202.8 117.4 202.8 116.5 204.2 115.8 203.9 114.8 202.9 113.8ZM315.8 115.7 316.2 115.4 318.2 116.7 318.5 117.2 318.5 118.2 317.8 119.2 318 120.8 317.8 121.1 317 120.8 317 120.2 317.7 119.2 317.7 118.8 316.2 117.2ZM124.8 116.6 125.8 115.9 126.2 116.0 126.6 116.8 126.5 118.2 128.8 119.8 130.2 119.1 131.3 119.8 130.5 120.8 130.5 121.2 129.8 121.9 128.8 121.6 127.8 122.5 126.8 122.8 125.2 124.3 122.2 124.5 121.8 125.8 123.6 127.8 122.8 128.9 121.8 129.3 120.8 129.2 120.4 128.8 121.2 127.8 121.4 126.8 121 124.8 122 123.8 122.4 122.2 122.2 121.6 121.2 120.2 121.4 119.2 122.7 116.8ZM123.2 119.2 122.8 119.4 122.7 120.2 123.8 121.2 126.2 121.6 127.4 120.7 127.2 120.2 126.8 120.0 124.8 119.9ZM297 118.2 297.8 118.1 298.6 118.7 298.7 121.3 299.6 122.8 302.2 123.8 301.9 124.8 300.2 124.9 299.2 125.4 298.2 126.4 297.2 126.5 296.8 126.5 295.7 124.8 294.9 124.2 294.6 121.2 294.2 120.8 294.8 119.7ZM197.5 120.8 200.3 121.2 199.8 122.0 199.7 122.8 200.3 124.2 199.4 125.2 198.2 125.3 197 124.2 197.2 121.2ZM203.2 121.2 203.8 120.8 204.6 121.2 205.5 122.8 205.5 123.7 204.2 124.2 203.4 123.8ZM313.6 121.8 314.2 121.7 314.4 122.2 314 123.8 313.2 123.3 313 122.8ZM353.4 124.3 353.8 124.2 355.2 125.5 355.8 125.5 356.8 126.8 355.8 127.4 354.3 126.8ZM319.3 126.8 320 126.8 320 128.2 318.7 127.2ZM326.7 128.2 327.8 127.8 328.3 128.2 328.3 128.8 327.2 129.3 326.8 129.3 326.4 128.8ZM351.5 130.2 353.8 128.0 353.6 130.8 354.9 132.2 354.4 133.8 353.2 135.0 352.5 135.2 352.5 135.8 351.2 136.9 350.8 136.9 349.8 137.8 349.4 137.8 349.1 137.2 349.7 136.2 350.4 135.8 350.4 135.2 349.2 134.3 348.8 133.4 348.2 133.2 348.8 132.7 349.8 132.5 351.1 131.2 351.1 130.8ZM350.2 132.7 350.3 133.8 351.2 134.4 352.8 133.8 352.9 133.2 352.4 132.8 350.8 132.5ZM327.7 132.8 328.8 132.5 328.9 133.2 327.8 134.4 327.2 134.2 327.1 133.8ZM105.1 137.2 105.9 137.2 106.1 137.8 105.8 138.2 105 138.2 104.7 137.8Z" fill="#d9d9d9" fill-rule="evenodd"/>
<path d="M283.2 11.4 284.2 10.9 284.8 11.4 286.2 11.4 286.8 11.9 289.2 11.9 289.8 12.4 292.8 12.4 293.2 12.9 293.8 12.9 295.1 14.2 294.1 15.2 294.2 15.4 297.2 15.4 297.8 15.9 302.2 15.9 302.8 15.4 303.2 15.4 303.8 14.9 304.2 15.4 306.8 15.4 307.2 15.9 308.8 15.9 310.8 17.9 311.8 17.9 312.8 16.9 313.2 17.4 319.2 17.5 320.2 16.4 321.8 16.4 322.2 15.9 322.8 16.4 328.2 16.4 328.8 16.9 330.2 16.9 330.8 17.4 331.2 17.4 331.8 17.9 338.2 17.9 338.8 18.4 339.2 18.4 339.8 18.9 340.2 19.0 340.8 19.5 343.8 19.4 344.2 18.9 348.8 18.9 349.2 19.5 350.8 19.5 351.2 19.0 356.8 18.9 357.2 19.4 358.8 19.4 359.8 20.1 359.2 20.1 358.8 19.5 357.2 19.6 356.8 19.0 351.2 19.1 350.8 19.6 349.2 19.6 348.8 19.0 344.2 19.1 343.8 19.5 340.8 19.6 340.2 19.1 339.8 19.0 339.2 18.5 338.8 18.5 338.2 18.0 331.8 18.0 331.2 17.5 330.8 17.5 330.2 17.0 328.8 17.0 328.2 16.5 322.8 16.5 322.2 16.0 321.8 16.5 320.2 16.6 319.2 17.6 313.2 17.5 312.8 17.0 311.8 18.0 310.8 18.0 308.8 16.0 307.2 16.0 306.8 15.5 304.2 15.5 303.8 15.0 303.2 15.5 302.8 15.6 302.2 16.1 297.8 16.0 297.2 15.5 294.2 15.5 294 15.2 295 14.2 293.8 13.0 293.2 13.0 292.8 12.5 289.8 12.5 289.2 12.0 286.8 12.0 286.2 11.5 284.8 11.5 284.2 11.0 283.8 11.5 283.2 11.5 282.8 12.0 281.8 12.0 281.2 12.5 279.2 12.5 278.8 13.1 270.2 13.0 269.8 13.5 268.8 13.5 268.2 14.0 267.2 14.0 266.2 15.0 264.2 15.1 263.8 15.6 260.8 15.6 259.6 16.8 260.1 17.2 259.2 18.1 258.2 17.0 257.8 17.0 257.2 16.5 255.8 16.5 255.2 16.0 254.1 17.2 254.1 17.8 253.8 18.1 253.4 17.8 253.4 17.2 252.2 16.0 250.7 16.0 250.2 15.5 249.8 16.0 248.8 16.0 247.8 17.1 247.2 17.1 246.1 18.2 246.1 18.8 245.6 19.2 246.6 20.2 246.2 20.6 245.8 20.7 245.2 20.2 244.8 20.2 244.3 19.7 243.8 19.7 243.2 19.2 240.8 19.1 239.2 20.6 238.8 20.6 238.2 20.1 236.2 20.1 235.8 20.6 232.2 20.6 231.8 21.1 228.2 21.2 227.8 21.7 226.8 21.7 225.8 20.6 223.8 20.6 223.2 20.0 222.1 21.2 222.6 21.8 222.6 22.2 222.2 22.6 221.8 22.6 220.2 21.0 218.8 21.1 218.2 20.6 217.8 20.6 217.2 20.1 216.8 20.1 216.2 19.6 212.2 19.6 211.2 18.5 210.2 18.5 209.8 18.0 206.2 18.0 205.8 17.5 205.2 18.0 203.8 18.0 203.2 18.5 201.2 18.5 200.8 19.0 199.2 19.0 198.8 19.5 197.8 19.5 197.2 20.1 195.8 20.1 195.2 20.6 193.8 20.6 192.6 21.8 193.1 22.2 193.2 22.8 191.2 24.7 190.2 24.7 189.2 25.7 188.8 25.7 188.2 26.2 186.8 26.2 185.8 27.2 186.2 28.9 187.8 28.9 188 29.2 187.7 30.2 186.1 30.8 185.8 31.8 186.2 32.2 188.3 32.3 190.1 31.2 190.4 30.2 190 28.8 190.1 27.8 190.4 26.8 191.2 26.3 192.2 26.6 193 27.2 193.8 29.1 196.2 32.2 196.8 31.9 196.9 31.2 196.4 28.8 196.7 28.2 197.8 27.6 199.5 27.2 199.7 26.8 199.1 25.8 199.2 25.4 199.8 25.3 200.8 26.3 202.8 26.6 204.2 27.1 205.6 26.8 206.8 26.0 207.2 26.0 209.2 27.7 211.2 28.6 212.2 28.5 213.8 26.2 213.7 24.2 215.2 22.8 215 21.2 215.8 21.0 216.3 21.8 215.9 22.8 216.2 24.4 217.8 26.3 218.8 26.0 219.8 25.0 222.2 24.5 223.8 23.4 225.8 23.7 227.2 23.3 228.2 23.7 230.2 26.5 232.8 27.4 235.8 27.0 237.2 26.2 237.8 25.8 238.6 24.2 239.2 23.9 241.2 24.7 242.2 24.5 243.8 22.8 245.2 22.4 246.2 22.7 246.3 23.2 244.8 23.6 244.1 24.2 244.6 25.2 244.4 27.2 244.7 27.8 245.2 28.0 247.3 27.5 247.5 27.2 247.4 26.2 248 25.8 250.4 25.8 250.2 24.8 250.7 23.8 252.8 24.8 253.8 24.6 255.2 25.1 256.8 24.1 258.8 24.9 259.2 24.7 260.2 23.5 262.2 23.2 262.8 24.5 264.2 25.4 266.2 24.9 267.7 25.8 267.8 26.2 267.4 27.2 267.8 28.2 268.2 28.1 269.2 26.9 270.8 25.9 271.3 25.2 271.7 23.2 272.2 23.0 274.9 24.8 274.9 26.8 274.6 28.2 275 28.8 275.8 28.6 276.8 26.8 278.8 28.1 282.2 27.2 283.9 28.2 284.2 29.4 286.2 31.1 287.8 28.5 289.2 28.9 289.9 30.2 290.8 30.7 292.8 30.1 293.3 29.8 293.2 28.8 293.8 27.6 295.2 27.3 295.8 26.2 296.8 25.9 299.2 26.7 302.2 25.1 303.2 25.0 304.8 25.5 306.8 25.0 307.5 25.2 308.8 26.5 309.8 26.8 313.2 24.7 314.5 25.2 312.8 26.8 313 28.2 313.2 28.5 314.8 28.3 315.8 28.8 316 30.2 317.2 31.5 318.2 31.9 318.9 31.8 319 30.8 318.4 29.8 316.8 28.8 317.7 27.8 318.6 27.2 319.2 26.1 320.6 26.8 320.6 27.8 320.2 27.9 319.2 27.7 319.2 28.2 320.4 29.8 320.4 30.8 321.2 31.3 321.7 30.8 321.4 29.8 321.8 29.2 323.8 28.9 325.2 28.1 326.1 28.3 327.8 29.8 328.2 29.9 331.2 28.6 332.8 28.8 334.2 27.4 335.2 28.2 336.8 26.3 337.2 26.3 339.3 26.8 339.4 27.8 338.2 28.2 338.3 28.8 339.2 29.6 340.2 29.7 340.8 28.8 341.8 28.5 342.3 28.8 342.8 29.8 345.2 30.4 345.8 30.2 346.3 26.7 346.8 26.5 349.4 26.2 349.8 25.7 350.1 22.8 352.2 21.9 355.6 22.8 357 25.2 356.6 27.8 358.1 28.8 359.8 29.0 355.8 28.9 355.2 29.3 353.8 29.0 352.6 29.8 351.8 27.8 352.8 27.3 353.8 28.2 354.2 28.2 354.9 26.8 354.5 24.2 352.8 24.1 352.4 24.2 352.3 24.8 353 25.2 351.8 25.9 351.2 26.6 351.6 27.8 351.2 27.8 350.7 28.8 350.8 30.4 350.2 30.5 350 29.8 349.2 29.5 347.2 30.8 344.8 31.2 343.8 31.0 339.8 32.7 338.3 32.2 337.7 31.2 338.2 31.2 339.1 30.2 339.1 29.8 338.8 29.4 336.2 29.0 334.9 29.8 334.7 30.2 335 31.2 333.8 31.3 332.2 30.0 330.8 29.7 329.6 30.2 329.7 31.3 327.8 31.4 327.2 31.9 322.8 31.8 318.8 34.3 318.2 33.1 316.2 31.7 315.8 31.6 315.2 32.3 314.8 32.4 313.8 31.5 313.2 31.6 312.5 32.8 312.9 34.2 312.8 34.6 309.4 32.2 309.4 30.8 307.2 30.4 306.2 28.4 304.8 28.1 304.3 27.8 304.1 26.8 302.8 26.1 301.8 26.4 300.4 27.8 299.9 29.2 300.2 30.8 299.2 31.1 296.8 30.4 294.8 32.6 293.6 33.2 292.8 34.6 292.2 34.7 291.2 33.8 291.2 33.2 292.5 31.8 292.2 31.6 289.7 31.8 289.2 32.2 288.8 34.1 288.2 34.1 286.2 33.0 284.2 33.2 283.2 33.8 282.8 33.5 282.3 32.2 281.8 32.0 280.8 31.7 279.2 32.7 278.8 32.5 277.2 31.9 276.2 30.9 274.2 30.0 273.8 30.0 272.8 31.5 272.2 31.7 271.6 31.2 272.1 28.8 271.8 28.6 269.8 29.0 267.8 30.4 265.2 31.2 262.3 30.2 261.7 28.2 260.2 27.4 258.8 27.0 256.4 27.2 254.2 26.3 252.2 27.4 249.8 27.1 248.2 28.8 246.8 28.8 243.2 29.6 241.2 28.2 240.4 26.2 239.8 25.5 239.2 25.6 237.8 27.3 233.9 28.2 232.2 29.7 231.8 29.6 230.8 28.6 229.2 28.2 228.3 25.8 227.8 25.4 226.8 25.7 225.3 26.8 225 27.8 224.2 28.0 224 27.2 224.2 26.2 223.8 25.7 220.8 25.8 219.2 27.1 218.8 27.2 216.8 27.1 215.2 26.4 215.2 27.8 213.6 29.2 212.8 29.5 210.2 29.1 208.8 29.6 208.3 28.2 207.2 27.6 204.2 28.7 201.8 28.9 200.2 28.5 200.1 27.8 199.8 27.4 198.8 28.2 198.8 29.2 197.9 30.2 197.7 32.2 196.2 33.5 195.6 33.2 194.8 31.8 193.8 31.1 192.8 31.4 191.8 32.8 190.8 32.4 188.8 33.1 187.2 33.1 185.8 32.4 184.1 30.2 184.1 27.8 184.6 27.2 185.2 26.6 186.2 26.6 186.8 26.1 188.2 26.1 190.2 24.5 191.2 24.5 193 22.8 193 22.2 192.5 21.8 193.8 20.4 195.2 20.5 195.8 19.9 197.2 19.9 197.8 19.4 198.8 19.4 199.2 18.9 200.7 18.9 201.2 18.4 203.2 18.4 203.8 17.9 205.2 17.9 205.8 17.4 206.2 17.9 209.8 17.9 210.2 18.4 211.2 18.4 212.2 19.4 216.2 19.5 216.8 20.0 217.2 20.0 217.8 20.5 218.2 20.5 218.8 21.0 220.2 20.9 221.8 22.5 222.2 22.5 222.5 21.8 222 21.2 223.2 19.9 223.8 20.4 225.8 20.5 226.8 21.5 227.8 21.5 228.2 21.0 231.8 21.0 232.2 20.5 235.8 20.5 236.2 20.0 238.2 20.0 238.8 20.5 239.2 20.5 240.8 19.0 243.2 19.0 243.8 19.6 245.2 20.0 245.8 20.5 246.2 20.5 246.5 20.2 245.5 19.2 246 18.8 246 18.2 247.2 17.0 247.8 17.0 248.8 15.9 249.8 15.9 250.2 15.4 250.8 15.9 252.2 15.9 253.6 17.2 253.8 18.0 253.9 17.2 255.2 15.9 255.8 16.4 257.2 16.4 257.8 16.9 258.2 16.9 259.2 18.0 259.9 17.2 259.4 16.8 260.8 15.5 263.8 15.4 264.2 14.9 266.2 14.9 267.2 13.9 268.2 13.9 268.8 13.4 269.8 13.4 270.2 12.9 278.8 12.9 279.2 12.4 281.2 12.4 281.8 11.9 282.8 11.9ZM262.8 26.4 262.1 27.2 262.2 28.2 263.5 28.2 263.8 27.8 263.7 27.2 263.2 26.6ZM278.2 29.8 278.3 30.8 278.8 31.1 279.9 30.8 280.1 30.2 279.8 30.0ZM281.8 28.3 281 28.8 281.2 29.1 281.8 29.1 282.4 28.8ZM84.8 17.4 85.8 16.9 87.2 16.9 88.5 18.2 88.5 18.8 89.8 20.0 90.2 20.0 90.8 19.5 91.2 20.0 92.2 20.0 93.2 21.0 95.2 18.9 97.8 18.9 98.2 19.4 98.8 19.4 100 20.8 100 21.8 99.5 22.2 100 22.8 98.8 24.0 98.2 24.0 97.2 25.0 94.8 25.0 94.2 25.5 93.2 25.6 91.8 27.0 90.8 27.0 90.2 27.5 89.8 27.5 89.2 28.0 88.2 28.0 87 29.2 87 29.8 88.8 31.5 89.8 31.5 91.2 32.5 92.2 32.5 92.8 33.0 93.2 33.0 93.8 33.5 97.2 33.7 98.8 35.2 99.2 35.2 100.2 34.2 102.2 33.2 102.2 32.8 100.6 31.2 101 30.8 101 28.2 100.5 27.8 101.8 26.5 106.2 26.5 107.8 27.6 108.8 27.6 109.2 28.1 110.2 28.2 112.2 30.6 113.2 30.6 113.8 30.2 114.2 30.5 114.3 29.8 115.2 28.7 117.8 31.2 117.8 31.5 116.8 31.4 116.3 31.8 116.2 32.3 116.8 32.6 118.2 32.2 118.8 33.0 116.8 34.5 113.2 33.2 113.2 33.8 114 34.8 114.1 35.8 113.8 37.2 112.6 39.2 112.5 41.2 111.8 42.3 110.2 42.9 109.8 44.1 108.2 44.5 106.4 42.2 106.8 40.9 107.5 40.2 104.8 38.9 102.2 39.1 101.2 38.7 99.9 37.8 100.2 36.2 99.2 35.3 98.8 35.8 98.8 36.8 99.2 37.4 97.8 37.7 96.8 38.3 95.8 37.9 95.6 37.2 96.8 36.5 97.1 35.8 96.2 34.7 94.2 36.3 92.1 36.8 91.7 37.2 91.2 38.8 90.2 39.4 89.8 39.2 88.8 37.1 87.8 36.2 86.8 36.1 84.8 37.2 82.8 37.3 82.2 37.2 81.2 35.3 77.2 35.9 74.8 36.7 73.1 38.2 73.8 39.0 75.2 39.1 75.6 39.8 75.2 40.5 73.8 40.7 72.8 40.5 71.9 39.8 71.3 38.2 71.2 37.2 70.8 36.7 68.2 37.2 64.8 39.3 61.8 36.9 59.8 36.3 57.7 34.2 55.2 33.5 53.8 32.7 51.2 32.1 48.8 33.0 47.8 34.2 45.8 32.4 43.4 32.2 41.2 31.3 38.8 31.4 38.2 30.9 34.8 30.8 34.2 30.4 32.2 30.4 31.8 30.8 30.8 30.9 30.2 31.4 29.8 31.4 28.9 32.2 28.8 32.8 28.2 33.0 27.2 32.8 26.8 31.8 26.2 31.4 21.8 30.7 18.8 31.2 18.2 32.3 16.8 30.8 15.2 30.8 14.1 29.8 14.1 29.2 13 28.2 14.6 26.8 12.8 25.9 11.2 24.5 8.8 25.5 7.2 26.9 6.8 26.4 4.8 26.4 4.2 25.9 3.2 25.8 2.8 25.3 0.8 25.4 0.2 25.9 0.8 25.3 1.2 25.2 1.7 23.8 2.8 23.3 3.5 23.8 5.4 26.2 7.8 26.3 9.2 24.9 10.2 24.8 10.8 24.3 11.2 24.4 13.8 26.3 14.3 26.2 14.7 24.8 19.2 21.8 19.6 22.2 19.7 23.2 21.2 24.2 21.4 25.2 20.8 25.8 19.8 26.1 18.8 27.1 17.2 29.6 17.4 30.2 17.8 30.4 18.8 29.2 19.8 28.6 21.2 29.1 22.5 28.8 23.2 29.6 23.8 29.5 24.2 28.8 24.9 29.8 25.7 30.2 27.8 30.5 29.2 31.1 31.2 29.7 32.2 29.5 38.8 31.0 41.8 29.8 44.8 31.6 45.6 30.8 46.2 30.6 47.6 30.8 48.2 31.5 49.8 31.1 52.8 31.6 56.8 30.5 58.2 31.6 60.2 31.6 61.2 32.4 63.3 33.2 63.8 33.8 63.5 34.2 62.2 34.5 61.6 35.2 62.2 36.1 64.2 37.5 66.2 37.1 67.2 36.0 69.2 35.6 71.2 35.5 72.2 36.4 72.5 36.2 72.6 35.8 71.3 34.8 71.2 33.8 71.8 33.1 74.2 32.3 75.2 32.6 76.2 34.2 76.8 34.4 77.2 32.8 77.4 33.2 78.8 33.9 80.8 32.8 81.2 32.9 82.2 33.8 83.2 35.7 84.2 36.2 85.5 35.2 86.8 33.2 87.8 32.7 90.2 33.6 91.8 34.8 93.8 35.1 94.3 33.8 93.8 33.7 92.2 32.7 90.2 32.4 89.8 31.7 88.8 31.6 86.9 29.7 86.9 29.2 88.2 27.9 89.2 27.9 89.8 27.3 90.2 27.3 90.8 26.8 91.8 26.9 93.2 25.5 94.2 25.4 94.8 24.9 97.2 24.9 98.2 23.9 98.7 23.9 99.9 22.8 99.4 22.2 99.9 21.8 99.9 20.8 98.8 19.6 98.2 19.6 97.8 19.0 95.2 19.0 93.2 21.1 92.2 20.1 91.2 20.1 90.8 19.6 90.2 20.1 89.8 20.1 88.4 18.8 88.4 18.2 87.2 17.0 85.8 17.0 85.2 17.5 84.8 17.5 82.5 19.8 83 20.2 82.2 21.1 75.8 21.1 75.2 20.5 74.2 20.5 73.8 20.0 73.2 20.5 72.2 20.5 71.2 21.5 70.8 21.5 70.2 21.0 65.8 21.0 65.2 20.5 63.8 20.5 63.2 20.0 60.8 20.0 60.2 19.5 58.2 19.5 57.8 19.0 57.2 19.5 55.8 19.5 55.2 19.1 54.8 19.5 53.8 19.5 52.8 18.5 49.8 18.5 49.2 19.0 46.2 19.0 45.8 19.5 44.8 19.5 44.2 20.0 41.8 20.0 41.2 19.5 39.8 19.5 39.2 19.0 37.8 19.0 37.2 18.5 28.8 18.6 28.2 18.0 24.2 18.2 23.8 17.6 23.2 18.2 21.2 18.1 20.8 18.6 18.2 18.6 17.2 19.6 16.8 19.6 16.2 20.1 14.2 20.0 13.8 20.6 13.2 20.6 12.1 21.8 13.1 22.8 12.8 23.1 12.2 23.1 11.8 23.6 11.2 23.6 10.2 22.6 8.8 22.6 8.2 22.1 6.2 22.1 5.8 21.6 4.8 21.6 4.2 21.1 3.8 21.1 3.2 20.6 2.8 20.6 2.2 20.1 0.2 20.1 2.2 20.0 2.8 20.5 3.2 20.5 3.8 21.0 4.2 21.0 4.8 21.4 5.8 21.5 6.2 22.0 8.2 22.0 8.8 22.5 10.2 22.4 11.2 23.5 11.8 23.5 12.2 23.0 13 22.8 12 21.8 13.2 20.5 13.8 20.5 14.2 19.9 16.2 20.0 16.8 19.5 17.2 19.5 18.2 18.4 20.8 18.5 21.2 18.0 23.2 18.0 23.8 17.5 24.2 18.0 28.2 17.9 28.8 18.4 37.2 18.4 37.8 18.9 39.2 18.9 39.8 19.4 41.2 19.4 41.8 19.9 44.2 19.9 44.8 19.4 45.8 19.4 46.2 18.9 49.2 18.9 49.8 18.4 52.8 18.4 53.8 19.4 54.8 19.4 55.2 18.9 55.7 19.4 57.2 19.4 57.8 18.9 58.2 19.4 60.2 19.4 60.8 19.9 63.2 19.9 63.8 20.4 65.2 20.4 65.8 20.9 70.2 20.9 70.8 21.4 71.2 21.4 72.2 20.4 73.2 20.4 73.8 19.9 74.2 20.4 75.2 20.4 75.8 20.9 82.2 21.0 82.9 20.2 82.4 19.8ZM101.8 26.7 100.6 27.8 101.1 28.2 101.2 31.1 102.5 30.8 103.8 28.8 105.2 27.6 106.2 28.2 106.3 29.2 107.8 30.0 108.2 30.1 108.4 29.8 108.7 28.8 108.2 28.3 107.2 28.2 107.3 27.2 106.8 27.2 106.2 26.7 103.5 26.8 102.8 27.2 102.4 26.8ZM14.8 26.9 13.2 28.2 14.2 29.0 14.8 28.7 14.9 27.8ZM16.8 26.6 16.1 27.2 16.2 28.0 16.8 28.1 17.4 27.3 17.2 26.6ZM74.2 33.7 74.1 34.2 74.8 35.4 75.2 34.1 74.8 33.5ZM104.2 30.7 103.8 31.2 103.8 31.8 104.2 33.0 104.8 33.1 105.8 32.5 106.2 31.8 106 31.2 105.4 30.8ZM105.8 36.7 106 37.2 106.8 37.8 107.8 36.8 106.2 36.3ZM285.6 21.2 286.2 21.1 286.8 21.4 287.9 24.2 290.5 25.2 290.6 25.8 290.3 26.2 288.8 26.7 286.2 24.6 284.2 25.6 283.5 25.2 283.6 24.2 284.9 22.8ZM293.6 22.8 294.8 22.7 295.1 23.2 295.2 25.3 294.8 26.2 294.2 26.2 292.6 24.2 292.8 23.2ZM197 24.8 197.8 24.4 198.4 24.8 198.2 25.2 197.2 25.6 196.7 25.2ZM280.9 25.2 281.8 24.8 282.7 25.8 282.5 26.2 281.8 26.7 281.2 26.5 280.7 25.8ZM172.6 26.8 173.2 26.6 174.4 27.8 174.4 28.2 173.2 29.4 171.6 27.8ZM305.1 30.8 305.8 30.5 306.6 31.3 305.8 31.8 305.2 31.2ZM310.5 39.8 311.2 39.5 312.2 40.2 312.4 41.8 313 42.8 312.8 43.8 310.2 43.2 310 42.8ZM320 41.2 320.7 41.2 320.6 41.8 318.8 42.9 318.2 42.8 318.2 42.2 319.2 41.9ZM104.1 44.8 104.8 44.6 106.8 45.5 107.8 44.9 108 45.8 106.8 47.2 106.2 47.4 103.9 45.8ZM284.1 47.2 285.8 48.1 287.2 48.2 289.2 49.3 289.4 49.8 288.6 51.2 288.4 52.2 289.3 53.2 289 55.8 289.8 57.1 290.8 57.8 289.8 59.0 288.8 58.9 286.9 57.2 286.5 55.8 285.7 54.8 285.8 54.2 286.6 53.2 286.2 51.6 285.8 51.3 283.8 51.3 281.8 50.2 281.5 49.8 281.9 48.8ZM267.8 51.8 271.8 50.9 274.2 51.1 275.8 51.8 277.2 53.9 279.2 55.0 281.9 57.2 281.2 58.2 281.2 58.8 282.2 59.8 281.8 61.2 281.2 61.7 280.2 61.6 279.7 61.2 279.2 60.1 278.8 60.0 276.2 59.9 275.2 60.2 273.8 60.0 272.2 60.8 270.2 59.8 268.6 61.2 268.4 61.8 268.8 62.8 268.5 63.2 265.8 63.6 264.8 63.4 264.6 62.2 264.2 62.0 261.8 61.3 259.5 57.8 259.7 56.2 260.8 54.2 261.8 53.7 264.8 54.2 265.2 54.0ZM270.8 52.7 269.8 53.1 268.6 54.2 266.8 54.8 265.8 57.3 265.1 57.2 265 56.2 263.8 55.1 262.2 55.1 260.9 57.2 261.1 58.2 262.2 59.3 263.2 58.7 264 58.8 264.5 59.2 264.7 60.2 265.8 59.9 266.3 60.2 266.8 61.4 267.2 61.4 268.2 58.7 271.8 58.8 272.8 58.4 274.8 58.9 276 58.2 276.4 55.2 275.8 53.3 273.2 52.5ZM278.8 56.8 277.2 58.2 277.2 58.8 277.8 59.0 279.8 58.2 280 57.2ZM272.2 56.2 272.8 56.2 273.1 56.8 272.8 57.4 272.2 57.4 271.9 56.8ZM294.6 59.8 298.2 58.7 298.8 59.2 298.2 60.8 298.4 62.2 298 62.8 296.2 63.3 295.6 61.8 293.8 61.6 293.4 61.2ZM183.2 63.3 183.2 61.9 184.4 62.8 184.2 63.5 183.8 63.7ZM289.2 63.2 289.8 62.8 290 63.8 289.8 64.0 289.2 63.9ZM291.1 64.2 292.2 64.2 293.4 65.8 293.2 66.2 291.2 65.2 290.9 64.8ZM191.1 67.8 191.8 67.7 192.2 68.1 192.5 69.2 191.2 69.1 190.9 68.2ZM96.2 81.2 96.8 80.9 97.3 81.2 97.3 82.8 96.4 82.8ZM108.7 84.2 109.8 83.5 110.3 83.8 110.6 84.2 110.2 85.1 109.6 85.2 108.7 84.8ZM188.2 89.8 188.8 89.5 190.2 90.2 190.7 92.2 189.2 92.3 188.8 91.8 188.2 90.8ZM109.4 99.8 109.8 99.5 110.2 100.5 110.5 101.8 110.2 102.9 109.7 102.8 109 101.8ZM357.6 106.8 359.2 106.3 359.8 106.7 357.8 108.2 357.6 109.2 357.2 109.3 356.5 108.2ZM109.2 107.8 109.8 107.4 110.8 107.8 111.2 108.6 112.1 111.8 111.6 113.8 112.1 118.8 111.8 120.2 111.2 120.2 110.2 119.2 109.8 117.2 109.1 115.8 109.2 112.8 108.7 109.8ZM110.2 114.7 109.8 115.2 109.9 115.8 110.2 116.3 110.7 116.4 110.8 115.2ZM227.3 110.2 227.8 109.9 228.2 110.1 228.2 111.0 227.7 111.2 227.2 110.9ZM123.2 119.2 124.8 119.9 126.8 120.0 127.2 120.3 127.4 120.8 126.2 121.6 123.8 121.2 122.7 120.2 122.8 119.4ZM111.8 122.7 111.2 121.0 111.8 121.1 112.2 121.8 112.3 122.2ZM111.1 123.8 111.8 123.3 113 125.8 112.3 128.2 111.8 128.7 111 128.2 110.8 126.8 110.3 125.7 110.4 124.8ZM111.6 130.8 112.2 130.3 112.5 131.2 113.7 132.2 111.2 132.7 111.1 132.2ZM350.2 132.8 350.8 132.5 352.4 132.8 352.9 133.2 352.8 133.8 351.2 134.4 350.3 133.8ZM110.4 134.2 110.8 133.8 111.2 134.1 113 135.8 113.4 136.8 113.2 137.6 111.3 138.2 111.2 139.3 111 139.2 111.1 137.2 110.4 135.2Z" fill="#e2e2e2" fill-rule="evenodd"/>
<path d="M283.2 11.5 284.2 11.0 284.8 11.5 286.2 11.5 286.8 12.0 289.2 12.0 289.8 12.5 292.8 12.5 293.2 13.0 293.8 13.0 295 14.2 294 15.2 294.2 15.5 297.2 15.5 297.8 16.0 302.2 16.1 302.8 15.6 303.2 15.5 303.8 15.0 304.2 15.5 306.8 15.5 307.2 16.0 308.8 16.0 310.8 18.0 311.8 18.0 312.8 17.0 313.2 17.5 319.2 17.6 320.2 16.6 321.8 16.5 322.2 16.0 322.8 16.5 328.2 16.5 328.8 17.0 330.2 17.0 330.8 17.5 331.2 17.5 331.8 18.0 338.2 18.0 338.8 18.5 339.2 18.5 339.8 19.0 340.2 19.1 340.8 19.6 343.8 19.5 344.2 19.1 348.8 19.0 349.2 19.6 350.8 19.6 351.2 19.1 356.8 19.0 357.2 19.6 358.8 19.5 359.8 20.2 359.2 20.2 358.8 19.7 357.2 19.7 356.8 19.1 352.6 19.2 354.2 19.3 355.1 21.2 356.7 22.3 357.3 23.8 358.1 24.8 358.2 26.3 358.3 25.2 359.6 24.2 358.8 23.2 359.8 22.1 359.8 25.8 359.3 26.2 359.8 26.7 359.8 28.8 358.1 28.8 356.6 27.8 357 25.2 355.6 22.8 352.2 21.9 350.1 22.8 349.8 25.7 349.4 26.2 346.8 26.5 346.3 26.8 345.8 30.2 345.2 30.4 342.8 29.8 342.2 28.8 341.8 28.5 340.8 28.8 340.2 29.7 339.2 29.6 338.3 28.8 338.2 28.2 339.4 27.8 339.3 26.8 337.2 26.3 336.8 26.3 335.2 28.2 334.2 27.4 332.8 28.8 331.2 28.6 328.2 29.9 327.8 29.8 326.1 28.2 325.2 28.1 323.8 28.9 321.8 29.2 321.4 29.8 321.7 30.8 321.2 31.3 320.4 30.8 320.4 29.8 319.2 28.2 319.2 27.7 320.2 27.9 320.6 27.8 320.6 26.8 319.2 26.1 318.6 27.2 317.7 27.8 316.8 28.8 318.4 29.8 319 30.8 318.9 31.8 318.2 31.9 317.2 31.5 316 30.2 315.8 28.8 314.8 28.3 313.2 28.5 313 28.2 312.8 26.8 314.5 25.2 313.2 24.7 309.8 26.8 308.8 26.5 307.5 25.2 306.8 25.0 304.8 25.5 303.2 25.0 302.2 25.1 299.2 26.7 296.8 25.9 295.8 26.2 295.2 27.3 293.8 27.6 293.2 28.8 293.3 29.8 292.8 30.1 290.8 30.7 289.9 30.3 289.2 28.9 287.8 28.5 286.2 31.1 284.2 29.4 283.9 28.2 282.2 27.2 278.8 28.1 276.8 26.8 275.8 28.6 275 28.8 274.6 28.2 274.9 26.8 274.9 24.8 272.2 23.0 271.7 23.2 271.3 25.2 270.8 25.9 269.2 26.9 268.2 28.1 267.8 28.2 267.4 27.2 267.8 26.2 267.7 25.8 266.2 24.9 264.2 25.4 262.8 24.5 262.2 23.2 260.2 23.5 259.2 24.7 258.8 24.9 256.8 24.1 255.2 25.1 253.8 24.6 252.8 24.8 250.8 23.8 250.2 24.8 250.4 25.8 248 25.8 247.4 26.2 247.5 27.2 247.2 27.5 245.2 28.0 244.7 27.8 244.4 27.2 244.6 25.2 244.1 24.2 244.8 23.6 246.3 23.3 246.2 22.7 245.2 22.4 243.8 22.8 242.2 24.5 241.2 24.7 239.2 23.9 238.6 24.2 237.8 25.8 237.2 26.2 235.8 27.0 232.8 27.4 230.2 26.5 228.2 23.7 227.2 23.3 225.8 23.7 223.8 23.4 222.2 24.5 219.8 25.0 218.8 26.0 217.8 26.3 216.2 24.4 215.9 22.8 216.3 21.8 215.8 21.0 215 21.2 215.2 22.8 213.7 24.2 213.8 26.2 212.2 28.5 211.2 28.6 209.2 27.7 207.2 26.0 206.8 26.0 205.6 26.8 204.2 27.1 202.8 26.6 200.8 26.3 199.8 25.3 199.2 25.4 199.1 25.8 199.7 26.7 199.5 27.2 197.8 27.6 196.7 28.2 196.4 28.8 196.9 31.2 196.8 31.9 196.2 32.2 193.8 29.1 193 27.2 192.2 26.6 191.2 26.3 190.4 26.8 190.1 27.8 190 28.8 190.4 30.2 190.1 31.2 188.2 32.3 186.2 32.2 185.8 31.8 186.1 30.8 187.7 30.2 188 29.2 187.8 28.9 186.2 28.9 185.8 27.3 186.8 26.2 188.2 26.2 190.2 24.7 191.2 24.7 193.2 22.8 193.1 22.2 192.6 21.8 193.8 20.6 195.2 20.6 195.8 20.1 197.2 20.1 197.8 19.5 198.8 19.5 199.2 19.0 200.8 19.0 201.2 18.5 203.2 18.5 203.8 18.0 205.2 18.0 205.8 17.5 206.2 18.0 209.8 18.0 210.2 18.5 211.2 18.5 212.2 19.6 216.2 19.6 216.8 20.1 217.2 20.1 217.8 20.6 218.2 20.6 218.8 21.1 220.2 21.0 221.8 22.6 222.2 22.6 222.6 22.2 222.6 21.8 222.1 21.2 223.2 20.0 223.8 20.6 225.8 20.6 226.8 21.7 227.8 21.7 228.2 21.2 231.8 21.1 232.2 20.6 235.8 20.6 236.2 20.1 238.2 20.1 238.8 20.6 239.2 20.6 240.8 19.1 243.2 19.2 243.8 19.7 246.2 20.6 246.6 20.2 245.6 19.2 246.1 18.8 246.1 18.2 247.2 17.1 247.8 17.1 248.8 16.0 249.8 16.0 250.2 15.5 250.8 16.0 252.2 16.0 253.4 17.2 253.8 18.1 254.1 17.2 255.2 16.0 255.8 16.5 257.2 16.5 257.8 17.0 258.2 17.0 259.2 18.1 260.1 17.2 259.6 16.8 260.8 15.6 263.8 15.6 264.2 15.1 266.2 15.0 267.2 14.0 268.2 14.0 268.8 13.5 269.8 13.5 270.2 13.0 278.8 13.1 279.2 12.5 281.2 12.5 281.8 12.0 282.8 12.0ZM284.2 11.1 282.8 12.1 281.8 12.1 281.2 12.6 279.2 12.6 278.8 13.2 270.2 13.1 269.8 13.6 268.8 13.6 268.2 14.1 267.2 14.1 266.2 15.1 264.2 15.2 263.8 15.7 260.8 15.7 259.7 16.8 260.2 17.2 259.2 18.2 258.2 17.1 257.8 17.2 257.2 16.7 255.8 16.7 255.2 16.2 254.2 17.2 254.2 17.8 253.8 18.2 253.3 17.8 253.3 17.2 252.2 16.1 250.8 16.1 250.3 15.6 249.8 16.1 248.8 16.1 247.8 17.2 247.2 17.2 246.2 18.2 246.2 18.8 245.7 19.2 246.7 20.2 246.8 20.5 247.2 20.4 247.7 20.8 248 23.2 248.8 23.6 249.4 22.8 248.8 20.8 250 19.8 250 18.8 250.8 18.4 252.2 18.9 253.8 18.3 255.2 18.5 256.8 18.1 257.4 18.8 257.6 19.2 256.8 20.5 253.2 21.7 253.7 22.2 253.2 22.7 253 22.8 253.2 23.1 254.8 23.5 256.8 23.0 258.2 23.0 259.8 22.2 261.2 22.0 262.4 21.2 263.6 19.2 264.1 19.2 264 20.2 264.6 21.8 266.7 23.2 267.9 24.8 268.8 25.1 269.2 24.9 269.9 23.8 270.8 20.4 272.2 20.6 273.2 20.2 274.8 20.8 275.8 20.8 276.1 21.2 275.9 22.8 276.1 23.8 278.2 25.2 278.2 25.9 278.8 26.0 279.2 25.2 279.2 23.8 281.8 20.2 284.2 19.2 284.8 17.8 286.2 18.2 287.8 17.6 288.2 17.7 289 19.8 291.1 20.2 289 22.2 288.9 23.2 289.2 23.8 289.8 23.9 291.9 22.2 292 21.2 291.5 20.8 291.8 20.2 292.3 20.2 293.2 21.6 294.8 21.2 296.8 21.8 297.8 23.1 298.8 23.6 299.2 23.6 299.8 23.0 300.2 22.8 301.2 24.0 302.2 23.9 304.2 22.7 304.8 22.8 305.8 23.7 307.2 23.8 307.8 22.6 308.2 22.3 310.8 22.2 312.8 23.2 314.8 23.6 315.1 23.2 315 21.2 316.8 19.2 317.8 18.8 318.7 19.8 319.2 21.5 320.2 20.5 322.8 21.8 322.8 22.2 322.2 22.5 321.8 23.2 321.9 25.2 322.2 26.0 323.8 25.9 324.1 26.2 323.9 27.2 324.2 27.3 327.2 26.0 327.8 26.4 328.6 28.2 329.2 28.4 330.2 27.8 330.8 26.9 333.2 26.6 334.2 25.0 335.8 24.9 337.1 23.8 339.8 22.3 340.8 22.4 342.2 23.6 343.6 23.8 344.8 24.4 346.8 25.1 347.8 24.9 348 23.2 348.7 22.2 348.8 21.0 349.2 20.6 350.8 20.4 350.9 19.8 349.2 19.7 348.8 19.2 347.2 19.1 344.3 19.2 343.8 19.7 340.8 19.7 340.2 19.2 339.8 19.2 339.2 18.6 338.8 18.6 338.2 18.1 331.8 18.1 331.2 17.6 330.8 17.6 330.2 17.1 328.8 17.1 328.2 16.6 322.8 16.6 322.2 16.1 321.8 16.6 320.2 16.7 319.2 17.7 313.2 17.6 312.8 17.1 311.8 18.1 310.8 18.1 308.8 16.1 307.2 16.1 306.8 15.6 304.2 15.6 303.8 15.1 303.2 15.7 302.8 15.7 302.2 16.2 297.8 16.1 297.2 15.6 294.2 15.6 293.9 15.3 295 14.2 293.8 13.0 293.2 13.0 292.8 12.5 289.8 12.6 289.2 12.1 286.8 12.1 286.2 11.6 284.8 11.6ZM205.8 17.6 205.2 18.1 203.8 18.1 203.2 18.6 201.3 18.6 200.8 19.1 199.2 19.1 198.7 19.6 197.8 19.6 197.2 20.2 195.8 20.2 195.2 20.7 193.8 20.7 193.2 21.2 194 22.8 193.8 24.7 194.2 24.9 196.8 23.5 199.8 23.1 200.4 23.2 201.2 24.2 202.2 23.7 202.8 23.8 203.6 25.2 204.8 25.4 205.8 24.8 206.8 23.5 209.8 22.9 210.4 20.8 211.2 20.5 212.2 21.2 213.7 19.8 212.2 19.7 211.2 18.6 210.2 18.6 209.7 18.1 206.2 18.1ZM217.2 20.2 216.4 20.2 217.4 21.2 217.2 23.8 217.8 24.3 218.2 24.5 219.8 23.8 221.3 23.8 222 23.2 222.2 22.8 221.8 22.7 220.2 21.2 218.8 21.2 218.3 20.7 217.8 20.7ZM223.2 20.2 222.2 21.2 222.7 21.8 223.8 21.7 224.8 22.0 225.2 21.8 225.8 20.9 223.8 20.7ZM240.8 19.2 239.2 20.7 238.8 20.7 238.2 20.2 237.8 20.2 236.2 20.2 235.8 20.7 234.9 20.8 235 22.2 233.8 23.1 232.8 22.8 232.9 21.8 233.5 20.8 232.2 20.7 231.8 21.2 229 21.2 229.8 22.1 230.8 21.9 231 22.2 231.6 23.2 231 24.2 231.2 25.1 233.8 25.5 234.3 25.2 234.8 24.2 236.2 23.2 237.9 23.2 239.7 21.4 241.3 19.2ZM281.2 24.9 280.8 25.8 281.2 26.5 282.2 26.5 282.7 25.8 281.8 24.8ZM286.2 21.1 285.2 21.8 284.9 22.8 283.6 24.2 283.5 25.2 284.2 25.6 286.2 24.6 288.8 26.7 290.3 26.2 290.6 25.8 290.5 25.2 287.9 24.2 286.8 21.4ZM293.8 22.7 292.8 23.2 292.6 24.2 294.2 26.2 294.8 26.2 295.2 25.8 295.2 23.6 294.8 22.7ZM342.2 24.7 341.1 25.8 341.2 26.5 342.9 27.8 344.2 28.1 344.4 27.2 343.8 25.2ZM197.2 24.6 196.8 25.4 197.2 25.6 198.2 25.2 198.2 24.6ZM211.8 21.7 211.8 22.6 212.2 22.7 212.6 22.2 212.2 21.5ZM267.6 16.2 267.9 17.2 269 18.2 269.1 18.8 268.8 19.1 267.8 19.1 267.1 18.8 267 16.8ZM84.8 17.5 85.8 17.0 87.2 17.0 88.4 18.2 88.4 18.8 89.8 20.1 90.2 20.1 90.8 19.6 91.2 20.1 92.2 20.1 93.2 21.1 95.2 19.0 97.8 19.0 98.2 19.6 98.8 19.6 99.9 20.8 99.9 21.8 99.4 22.2 99.9 22.8 98.8 23.9 98.2 23.9 97.2 24.9 94.8 24.9 94.2 25.4 93.2 25.5 91.8 26.9 90.8 26.8 89.2 27.9 88.2 27.9 86.9 29.2 86.9 29.8 88.8 31.6 89.8 31.7 90.2 32.4 92.2 32.7 93.8 33.7 94.3 33.8 93.7 35.1 91.8 34.8 90.2 33.6 87.8 32.7 86.8 33.2 85.5 35.2 84.3 36.2 83.2 35.7 82.2 33.8 81.2 32.9 80.8 32.8 78.8 33.9 77.4 33.2 77.2 32.8 76.8 34.4 76.2 34.2 75.2 32.6 74.2 32.3 71.8 33.1 71.2 33.8 71.3 34.8 72.6 35.8 72.5 36.2 72.2 36.4 71.2 35.5 69.2 35.6 67.2 36.0 66.2 37.1 64.2 37.5 62.2 36.1 61.6 35.2 62.2 34.5 63.5 34.2 63.8 33.8 63.3 33.2 61.2 32.4 60.3 31.6 58.2 31.6 56.8 30.5 52.8 31.6 49.8 31.1 48.2 31.5 47.6 30.8 46.2 30.6 45.6 30.8 44.8 31.6 41.8 29.8 38.8 31.0 32.2 29.5 31.2 29.7 29.2 31.1 27.8 30.5 25.7 30.2 24.9 29.8 24.2 28.8 23.8 29.5 23.2 29.6 22.5 28.8 21.2 29.1 19.8 28.6 18.8 29.2 17.8 30.4 17.4 30.2 17.2 29.6 18.8 27.1 19.8 26.1 20.8 25.8 21.4 25.2 21.2 24.2 19.7 23.2 19.6 22.2 19.2 21.8 14.7 24.8 14.3 26.2 13.8 26.3 11.2 24.4 10.8 24.3 10.2 24.8 9.2 24.9 7.8 26.3 5.4 26.2 3.5 23.8 2.8 23.3 1.7 23.7 1.2 25.2 0.2 25.8 0.2 21.8 0.8 21.8 1.2 22.2 3.2 22.4 6.2 24.6 7.8 24.7 8.8 23.3 11.2 24.0 12.2 23.8 11.2 23.7 10.2 22.7 7.8 22.6 6.2 22.2 5.8 21.7 4.8 21.7 4.2 21.2 3.8 21.2 3.2 20.7 2.8 20.7 2.2 20.2 1.3 20.2 0.8 20.8 0.2 20.1 2.2 20.1 2.8 20.6 3.2 20.6 3.8 21.1 4.2 21.1 4.8 21.6 5.8 21.6 6.2 22.1 8.2 22.1 8.8 22.6 10.2 22.6 11.2 23.6 11.8 23.6 12.2 23.1 13.1 22.8 12.1 21.8 13.2 20.6 13.8 20.6 14.2 20.0 16.2 20.1 16.8 19.6 17.2 19.6 18.2 18.6 20.8 18.6 21.2 18.1 23.2 18.2 23.8 17.6 24.2 18.2 28.2 18.0 28.8 18.6 37.2 18.5 37.8 19.0 39.2 19.0 39.8 19.5 41.2 19.5 41.8 20.0 44.2 20.0 44.8 19.5 45.8 19.5 46.2 19.0 49.2 19.0 49.8 18.5 52.8 18.5 53.8 19.5 54.8 19.5 55.2 19.1 55.8 19.5 57.2 19.5 57.8 19.0 58.2 19.5 60.2 19.5 60.8 20.0 63.2 20.0 63.8 20.5 65.2 20.5 65.8 21.0 70.2 21.0 70.8 21.5 71.2 21.5 72.2 20.5 73.2 20.5 73.8 20.0 74.2 20.5 75.2 20.5 75.8 21.1 82.2 21.1 83 20.2 82.5 19.8ZM85.8 17.1 85.2 17.6 84.8 17.6 82.7 19.8 83.2 20.2 82.2 21.2 75.8 21.2 75.2 20.6 74.2 20.6 73.8 20.1 73.2 20.6 72.2 20.7 71.2 21.6 70.8 21.6 70.2 21.1 65.8 21.1 65.2 20.6 63.8 20.6 63.2 20.1 60.8 20.1 60.2 19.6 58.2 19.6 57.8 19.1 57.2 19.6 55.8 19.6 55.2 19.2 54.8 19.7 53.8 19.6 52.8 18.6 49.7 18.6 49.2 19.1 46.2 19.1 45.8 19.6 44.8 19.6 44.2 20.1 41.8 20.1 41.3 19.6 39.8 19.6 39.2 19.1 37.8 19.1 37.2 18.6 29.8 18.7 28.8 18.7 28.3 18.1 24.8 18.2 26.2 19.6 26.8 19.8 25.2 20.7 25 21.2 26.1 23.8 25.5 26.8 26.8 28.4 28.8 27.2 29.8 27.4 31.2 26.6 32.2 27.0 33.2 26.3 35.8 26.1 36.1 26.2 36.4 27.2 35.6 28.8 36.1 29.2 36.8 29.2 37.8 28.5 39.8 29.0 42.8 28.7 44.8 29.4 47.8 28.5 49.8 28.7 50.3 30.2 51.8 30.7 55.8 28.9 56.2 27.2 56.8 26.9 59.8 28.0 60.2 28.2 59.9 29.8 60.5 30.2 61.8 30.9 63.7 31.2 64.8 32.2 66.2 31.0 67.2 30.9 67.8 32.2 67.4 33.8 67.8 34.6 68.5 33.2 70.8 32.0 71.8 30.0 73.9 30.2 75.2 28.5 76.2 28.2 76.9 29.2 76.8 30.5 78.2 31.0 79.2 31.8 80.8 31.1 81.2 31.2 82.9 32.8 83.8 34.4 84.2 34.8 84.8 34.2 85.5 30.8 86.8 29.9 86.8 28.0 87.2 27.6 87.8 27.9 88.6 27.8 88.4 25.8 89.8 24.0 90.2 24.1 91.2 25.3 91.5 26.8 91.8 26.8 93.2 25.3 94.2 25.3 94.8 24.8 97.2 24.8 97.2 23.6 97.8 23.4 98.8 23.8 99.8 22.8 99.3 22.2 99.8 21.8 99.8 20.8 98.8 19.7 98.2 19.7 97.8 19.1 95.2 19.1 93.2 21.2 92.2 20.2 91.2 20.2 90.8 19.7 90.3 20.2 90.2 21.1 89.8 21.5 89 20.8 88.8 19.2 88.3 18.8 88.3 18.2 87.2 17.1ZM18.2 18.7 17.2 19.7 16.8 19.7 16.2 20.2 14.2 20.2 13.8 20.7 13.2 20.7 12.2 21.8 13.2 22.8 12.8 23.2 12.2 23.2 12.2 23.7 12.8 23.5 13.8 23.8 14.8 23.2 15.1 22.8 14 22.2 13.6 21.8 15.2 21.0 15.8 21.1 16.2 21.6 16.8 21.5 16.8 20.3 17.2 19.8 19.2 20.5 21.2 19.8 22.2 20.5 22.4 20.2 22.2 19.7 21.8 19.7 21 18.8ZM247.7 18.2 248.2 18.0 248.8 18.2 248.8 18.8 248.2 19.0 247.8 18.8ZM261.1 18.2 261.8 18.2 260.8 20.0 260.5 19.2ZM302.2 19.2 302.7 19.8 302.2 20.3 301.8 20.3 301.8 19.6ZM330 24.2 331.2 22.9 331.7 23.2 330.2 24.5ZM342 25.8 342.8 25.1 343.2 25.8 342.2 26.4ZM65.8 25.8 66.2 25.3 67.2 25.9 68.1 27.8 67.6 29.2 67.2 29.4 66.2 28.3ZM101.7 26.8 102.4 26.8 102.8 27.2 103.5 26.8 106.2 26.7 106.8 27.2 107.3 27.2 107.2 28.2 108.2 28.3 108.7 28.8 108.4 29.8 108.2 30.1 107.8 30.0 106.3 29.2 106.2 28.2 105.2 27.6 103.8 28.8 102.5 30.8 101.2 31.1 101.1 28.2 100.6 27.8ZM101.2 27.2 100.7 27.8 101.2 28.2 101.2 28.8 101.6 28.2ZM13.2 28.2 14.8 26.9 14.9 27.8 14.8 28.7 14.2 29.0ZM80.6 29.2 81.2 29.0 81.7 29.2 81.2 30.4 80.8 30.5 80.6 30.2 80.3 29.8ZM278.2 30.2 278.2 29.8 280.1 30.2 279.9 30.8 278.8 31.1ZM105.7 36.8 106.3 36.3 107.8 36.8 106.8 37.8ZM270.4 52.8 272.8 52.4 275.8 53.3 276.4 55.2 276 58.2 274.8 58.9 272.8 58.4 271.8 58.8 268.2 58.7 267.2 61.4 266.8 61.4 266.3 60.2 265.8 59.9 264.7 60.2 264.5 59.2 264 58.8 263.2 58.7 262.2 59.3 261.1 58.2 260.9 57.2 262.2 55.1 263.8 55.1 265 56.2 265.1 57.2 265.8 57.3 266.8 54.8 268.6 54.2ZM272.2 56.2 271.9 56.8 272.2 57.4 272.8 57.4 273.1 56.8 272.8 56.2ZM262.8 56.0 262.6 57.2 263.2 57.4 263.8 56.9 263.8 56.2 263.2 55.9ZM277.2 58.2 278.8 56.8 279.3 56.8 280 57.2 280.1 57.8 279.8 58.2 277.8 59.0 277.2 58.8ZM110.2 114.8 110.8 115.2 110.8 116.4 110.2 116.3 109.9 115.8 109.8 115.2Z" fill="#ebebeb" fill-rule="evenodd"/>
<path d="M282.8 12.1 284.2 11.1 284.8 11.6 286.2 11.6 286.8 12.1 289.2 12.1 289.8 12.6 292.8 12.5 293.2 13.0 293.8 13.0 295 14.2 293.9 15.2 294.2 15.6 297.2 15.6 297.8 16.1 302.2 16.2 303.8 15.1 304.2 15.6 306.8 15.6 307.2 16.1 308.8 16.1 310.8 18.1 311.8 18.1 312.8 17.1 313.2 17.6 319.2 17.7 320.2 16.7 321.8 16.6 322.2 16.1 322.8 16.6 328.2 16.6 328.8 17.1 330.2 17.1 331.8 18.1 338.2 18.1 340.8 19.7 343.8 19.7 344.2 19.2 347.2 19.1 348.8 19.2 349.2 19.7 350.9 19.8 350.8 20.4 349.2 20.6 348.8 21.0 348.7 22.2 348 23.2 347.8 24.9 346.8 25.1 344.8 24.4 343.6 23.8 342.2 23.6 340.8 22.4 339.8 22.3 337.1 23.8 335.8 24.9 334.2 25.0 333.2 26.6 330.8 26.9 330.2 27.8 329.2 28.4 328.6 28.2 327.8 26.4 327.2 26.0 324.2 27.3 323.9 27.2 324.1 26.2 323.8 25.9 322.2 26.0 321.9 25.2 321.8 23.3 322.2 22.5 322.8 22.2 322.8 21.8 320.2 20.5 319.2 21.5 318.7 19.8 317.8 18.8 316.8 19.2 315 21.2 315.1 23.2 314.8 23.6 312.8 23.2 310.8 22.2 308.2 22.3 307.8 22.6 307.2 23.8 305.8 23.7 304.8 22.8 304.2 22.7 302.2 23.9 301.2 24.0 300.2 22.8 299.8 23.0 299.2 23.6 298.8 23.6 297.8 23.1 296.8 21.8 294.8 21.2 293.2 21.6 292.3 20.2 291.8 20.2 291.5 20.8 292 21.2 291.9 22.2 289.8 23.9 289.2 23.8 288.9 23.2 289 22.2 291.1 20.2 289 19.8 288.2 17.7 287.8 17.6 286.2 18.2 284.8 17.8 284.2 19.2 281.8 20.2 279.2 23.8 279.2 25.2 278.8 26.0 278.2 25.9 278.2 25.2 276.1 23.8 275.9 22.8 276.1 21.2 275.8 20.8 274.8 20.8 273.2 20.2 272.2 20.6 270.8 20.4 269.9 23.8 269.2 24.9 268.8 25.1 267.9 24.8 266.7 23.2 264.6 21.8 264 20.2 264.1 19.2 263.6 19.2 262.4 21.2 261.2 22.0 259.8 22.2 258.2 23.0 256.8 23.0 254.8 23.5 253.2 23.1 253 22.8 253.7 22.2 253.2 21.8 256.8 20.5 257.6 19.2 257.4 18.8 256.8 18.1 255.2 18.5 253.8 18.3 252.2 18.9 250.8 18.4 250 18.8 250 19.8 248.8 20.8 249.4 22.8 248.8 23.6 248 23.2 247.7 20.8 247.2 20.4 246.7 20.5 245.7 19.2 246.2 18.8 246.2 18.2 247.2 17.2 247.8 17.2 248.8 16.1 249.8 16.1 250.2 15.6 250.8 16.1 252.2 16.1 253.3 17.2 253.3 17.8 253.8 18.2 254.2 17.8 254.2 17.2 255.2 16.2 255.8 16.7 257.2 16.7 257.8 17.2 258.2 17.1 259.2 18.2 260.2 17.2 259.7 16.8 260.8 15.7 263.8 15.7 264.2 15.2 266.2 15.1 267.2 14.1 268.2 14.1 268.8 13.6 269.8 13.6 270.2 13.1 278.8 13.2 279.2 12.6 281.2 12.6 281.8 12.1ZM302.2 19.2 301.8 19.6 301.8 20.3 302.2 20.3 302.7 19.8ZM331.2 22.9 330 24.2 330.2 24.5 331.7 23.2ZM247.8 18.2 247.8 18.8 248.2 19.0 248.8 18.8 248.8 18.2ZM261.2 18.1 260.5 19.2 260.8 20.0 261.8 18.4ZM267.8 16.2 267 16.8 267.1 18.8 267.8 19.1 268.8 19.1 269.1 18.8 269 18.2 267.9 17.2ZM85.6 17.2 87.4 17.2 88.8 19.2 89 20.8 89.8 21.5 90.2 21.1 90.3 20.2 90.8 19.7 91.2 20.2 92.2 20.2 93.2 21.2 95.2 19.1 97.8 19.1 98.2 19.7 98.8 19.7 99.8 20.8 99.8 21.8 99.3 22.2 99.8 22.8 98.8 23.8 97.8 23.4 97.2 23.6 97.2 24.8 94.8 24.8 94.2 25.3 93.2 25.3 91.8 26.8 91.5 26.8 91.2 25.2 90.2 24.1 89.8 24.0 88.4 25.8 88.6 27.8 87.8 27.9 87.2 27.6 86.8 28.0 86.8 29.9 85.5 30.8 84.8 34.2 84.2 34.8 83.8 34.4 82.9 32.8 81.2 31.2 80.8 31.1 79.2 31.8 78.2 31.0 76.8 30.5 76.9 29.2 76.2 28.2 75.2 28.5 73.9 30.2 71.8 30.0 70.8 32.0 68.5 33.2 67.8 34.6 67.4 33.8 67.8 32.2 67.2 30.9 66.2 31.0 64.8 32.2 63.7 31.2 61.8 30.9 60.5 30.2 59.9 29.8 60.2 28.2 59.8 28.0 56.8 26.9 56.2 27.2 55.8 28.9 51.8 30.7 50.3 30.2 49.8 28.7 47.8 28.5 44.8 29.4 42.8 28.7 39.8 29.0 37.8 28.5 36.8 29.2 36.1 29.2 35.6 28.8 36.3 27.8 36.2 26.5 35.2 26.0 33.2 26.3 32.2 27.0 31.2 26.6 29.8 27.4 28.8 27.2 26.8 28.4 25.5 26.8 26.1 23.8 25 21.2 25.2 20.7 26.8 19.8 26.2 19.6 24.8 18.2 28.2 18.1 28.8 18.7 29.8 18.7 37.2 18.6 37.8 19.1 39.2 19.1 39.8 19.6 41.2 19.6 41.8 20.1 44.2 20.1 44.8 19.6 45.8 19.6 46.2 19.1 49.2 19.1 49.8 18.6 52.8 18.6 53.8 19.6 54.8 19.7 55.2 19.2 55.8 19.6 57.2 19.6 57.8 19.1 58.2 19.6 60.2 19.6 60.8 20.1 63.2 20.1 63.8 20.6 65.2 20.6 65.8 21.1 70.2 21.1 70.8 21.6 71.2 21.6 72.2 20.7 73.2 20.6 73.8 20.1 74.2 20.6 75.2 20.6 75.8 21.2 82.2 21.2 83.2 20.2 82.7 19.8 84.8 17.6 85.2 17.6ZM66.2 25.3 65.8 25.8 66.1 27.8 66.5 28.8 67.2 29.4 67.8 29.1 68.1 27.8 67.2 25.9ZM81.2 29.0 80.3 29.8 80.8 30.5 81.2 30.4 81.7 29.2ZM205.6 17.8 206.2 18.1 209.8 18.1 210.2 18.6 211.2 18.6 212.2 19.7 213.7 19.8 212.2 21.2 211.2 20.5 210.4 20.8 209.8 22.9 206.8 23.5 205.8 24.8 204.8 25.4 203.6 25.2 202.8 23.8 202.2 23.7 201.2 24.2 200.4 23.2 199.8 23.1 196.8 23.5 194.2 24.9 193.8 24.7 194 22.8 193.2 21.2 193.8 20.7 195.2 20.7 195.8 20.2 197.2 20.2 197.8 19.6 198.8 19.6 199.2 19.1 200.8 19.1 201.2 18.6 203.2 18.6 203.8 18.1 205.2 18.1ZM18.2 18.8 21 18.8 21.8 19.7 22.2 19.7 22.4 20.2 22.2 20.5 21.2 19.8 19.2 20.5 17.2 19.8 16.8 20.2 16.8 21.5 16.2 21.6 15.8 21.1 15.3 21.0 13.6 21.8 14 22.2 15.1 22.8 14.8 23.2 13.8 23.8 12.8 23.5 12.2 23.7 12.2 23.2 12.8 23.2 13.2 22.8 12.2 21.8 13.2 20.7 13.8 20.7 14.2 20.2 16.2 20.2 16.8 19.7 17.2 19.7ZM240.7 19.2 241.3 19.2 239.8 21.4 237.9 23.2 236.2 23.2 234.8 24.2 234.3 25.2 233.8 25.5 231.2 25.1 231 24.2 231.6 23.2 231 22.2 230.8 21.9 229.8 22.1 229 21.2 231.8 21.2 232.2 20.7 233.5 20.8 232.9 21.8 232.8 22.8 233.8 23.1 235 22.2 234.9 20.8 235.8 20.7 236.2 20.2 237.8 20.2 239.2 20.7ZM352.6 19.2 356.8 19.1 357.2 19.7 358.8 19.7 359.2 20.2 359.8 20.2 359.8 22.1 358.8 23.2 359.6 24.2 358.3 25.2 358.2 26.3 358.1 24.8 357.3 23.8 356.7 22.2 355.1 21.2 354.2 19.3ZM0.2 20.2 0.7 20.8 1.3 20.2 2.2 20.2 4.8 21.7 5.8 21.7 6.2 22.2 7.8 22.6 10.2 22.7 11.2 23.7 12.2 23.8 11.2 24.0 8.8 23.3 7.8 24.7 6.2 24.6 3.2 22.4 1.2 22.2 0.8 21.8 0.2 21.8ZM216.4 20.2 217.2 20.2 218.8 21.2 220.2 21.2 221.8 22.7 222.2 22.8 222 23.2 221.3 23.8 219.8 23.8 218.2 24.5 217.8 24.3 217.2 23.8 217.4 21.2ZM223.2 20.2 223.8 20.7 225.8 20.9 225.2 21.8 224.8 22.0 223.8 21.7 222.8 21.8 222.2 21.2ZM211.7 21.8 212.2 21.5 212.6 22.2 212.2 22.7 211.8 22.6ZM342.2 24.8 342.8 24.7 343.8 25.2 344.4 27.2 344.2 28.1 342.9 27.8 341.2 26.5 341.1 25.8ZM342.8 25.1 342 25.8 342.2 26.4 343.2 25.8ZM101.2 27.2 101.6 28.2 101.2 28.8 101.2 28.2 100.7 27.8ZM262.6 56.2 263.2 55.9 263.8 56.2 263.8 56.9 263.2 57.4 262.6 57.2Z" fill="#f5f5f5" fill-rule="evenodd"/>
</g>
<path d="M283.8 11.4 284.2 11.0 284.8 11.4 286.2 11.4 286.8 12.0 289.2 12.0 289.8 12.5 292.8 12.4 293.2 12.9 293.8 12.9 294.9 14.2 294 15.2 294.2 15.6 294.7 15.8 295.3 16.2 294.3 17.2 294.4 17.8 294.7 18.2 295.8 19.2 296.2 19.4 296.8 19.3 297.2 19.5 297.8 20.1 298.2 20.1 298.6 19.8 298 18.8 297.8 18.6 296.8 19.2 295.8 18.1 295.2 18.2 295.1 17.8 295.8 17.5 296.8 17.9 297.2 17.8 296.8 16.3 295.9 15.8 296.2 15.6 297.2 15.7 297.6 16.2 298.2 16.3 299.2 16.0 302.2 15.9 302.8 15.4 303.2 15.5 303.8 15.0 304.2 15.7 305.2 15.6 305.8 15.7 306.8 15.5 307.2 16.0 308.8 16.1 308.9 16.2 308.6 16.8 308.8 17.1 309 16.8 309.2 16.7 309.6 17.2 309.6 17.8 309 18.8 309.1 19.2 308.5 19.8 308.7 20.2 308.4 20.8 308.6 21.8 308.2 22.1 308 21.2 307.2 19.8 306.2 19.7 305.8 20.1 304.8 19.5 303.1 20.8 303.2 21.8 302.5 22.2 302.2 23.2 302.2 22.8 300.8 21.3 300.2 21.2 299.9 20.8 299.8 19.9 299.2 20.2 299.1 21.2 298.2 22.5 297.8 22.6 297.2 22.1 296.8 22.4 296.2 22.3 296.6 21.2 296.2 20.9 294.8 21.2 294.2 20.7 293.2 20.5 292.4 21.2 291.9 22.8 291.2 22.9 290.2 23.6 289.8 23.7 289.3 22.2 289.8 21.8 289.2 21.2 289.2 21.8 288.8 22.2 287.2 21.3 286.8 19.8 286.2 20.5 286 20.2 285.7 18.8 286.2 18.6 286.7 18.2 284.8 16.8 283.8 16.9 283.6 17.2 283.8 17.8 283.2 18.8 282.8 18.7 282.2 19.2 282.1 20.2 282.2 20.6 282.8 20.5 283.3 21.2 283.2 21.8 282.8 22.2 281.8 21.8 280.8 22.5 280.2 22.5 280.3 21.8 279.8 21.3 279.2 21.6 278.8 21.5 277.8 21.0 277.5 21.2 277.4 21.8 276.8 21.9 276.2 21.9 275.8 21.5 274.2 21.0 273.9 21.2 273.8 21.8 273.2 21.7 272.8 21.3 271.8 21.4 271.2 21.3 271.1 21.2 270.9 20.2 270.8 20.1 270.2 20.2 269.9 19.8 270.1 19.2 269.8 18.9 269.1 19.2 268.4 20.8 268.8 21.0 269.2 20.6 270.2 20.5 270.4 21.2 269.5 21.8 269.6 22.2 269.2 22.6 268.2 22.5 267.8 22.3 267.5 22.8 267.8 23.2 267.2 23.4 267.1 22.8 266.6 22.2 266.8 22.0 267.2 22.1 267.2 20.3 266.2 21.4 264.8 21.8 263.2 20.2 263.8 20.0 263.9 19.8 263.8 19.5 263.2 19.6 262.2 19.1 261.8 19.1 261.2 19.6 260.9 18.8 261.2 18.2 260.8 16.9 260.1 18.2 260.4 18.8 260.1 19.2 260.8 20.3 261.8 20.2 262.2 20.6 262.5 21.2 262.4 21.8 261.8 22.0 260.8 21.5 259.9 21.8 259.9 22.8 259.8 22.9 259.3 22.7 259.7 21.8 259 20.2 258.3 19.8 258 19.2 258.4 18.8 258.4 17.8 258.8 17.6 259.2 18.1 260.2 17.2 260.2 16.2 260.8 15.7 263.8 15.5 264.2 15.0 266.2 15.0 267.2 13.9 268.2 13.9 268.8 13.4 269.8 13.4 270.2 12.9 278.8 12.9 279.2 12.4 281.2 12.5 281.8 12.0 282.8 11.9 283.2 11.4ZM291.2 19.5 291 19.8 291 20.2 291.2 20.6 292.2 20.7 292.6 20.2 292.4 19.8ZM292.8 18.1 292.5 18.2 292.8 19.5 293 19.2 293 18.8 293 18.2ZM302.2 18.8 302.1 19.8 302.2 20.0 302.8 20.0 302.9 19.8 302.9 19.2ZM274.8 16.0 274.5 16.2 274.5 17.2 273.7 18.2 274.2 19.2 274.5 18.8 274.3 18.2 274.9 17.8 274.9 16.8 275.1 16.2ZM249.8 16.1 250.2 15.5 250.8 16.0 252.2 16.0 253.4 17.2 253.4 17.8 253.8 18.2 254.1 17.8 254.1 17.2 255.2 16.1 255.8 16.9 257.2 16.6 257.8 17.1 258.3 17.2 258.2 17.4 257.8 17.4 257.3 17.8 257.2 18.2 256.8 18.7 256.2 18.9 255.2 18.9 254.8 19.6 253.5 19.8 254 20.2 253.7 21.2 253.2 21.6 252.7 21.5 252.2 20.2 251.9 19.8 251.2 19.6 250.8 19.2 250.9 18.8 250.7 18.2 250.2 17.7 249.8 17.5 249.3 19.2 247.7 20.2 247.2 21.6 246.8 21.6 246.4 20.8 246.7 20.2 246.2 19.8 246.7 19.2 246.3 18.2 247.2 17.2 248.2 17.0 248.8 16.1ZM322.8 16.8 324.2 16.5 325.8 16.7 326.8 16.6 327.2 16.8 327.1 17.2 327.4 17.8 328.2 18.2 328.6 17.8 328.6 17.2 328.9 17.2 329.2 17.8 329 18.8 329.5 19.2 328.8 19.5 328.2 19.4 327.2 19.8 329.2 20.8 329.7 21.8 329.2 22.2 328.8 21.4 328.6 21.8 328.2 22.1 327.8 22.1 326.8 21.8 326.8 21.4 326.6 22.2 326.2 22.5 325.8 22.6 325.2 22.5 324.2 22.9 324 24.2 323.8 24.5 323.2 24.3 321.8 22.8 322.6 22.2 322.7 21.8 321.9 21.2 322.9 20.8 322.7 20.2 323.5 18.2ZM85.2 17.4 85.8 16.9 87.2 16.9 88.3 18.2 87.1 18.8 88.8 19.2 89.7 20.3 88.8 20.6 88.2 20.0 87.8 20.2 87 21.2 88 22.2 88.2 23.2 87.9 24.2 89.1 24.8 89.1 25.2 88.2 26.0 87.8 24.5 87.3 23.8 87.2 22.9 86.7 23.2 86.4 24.2 85.9 24.8 85.8 25.6 85.2 25.9 84.7 25.2 85.8 23.8 85.2 23.4 84.8 23.4 84.7 22.8 84.2 21.8 84.5 21.2 84.4 20.8 84.9 20.2 85.2 20.0 85.8 20.0 86.1 19.8 85.8 18.9 85.2 18.7 84.2 18.9 83.8 19.8 83.2 20.1 82.6 19.8 84.8 17.5ZM311.8 18.1 312.8 17.0 313.2 17.5 315.2 17.5 316 17.8 315.6 18.2 315.8 19.2 315.8 20.1 315.2 20.3 314.8 21.0 313.2 20.6 312.8 20.9 311.8 21.1 310.2 22.5 309.8 22.7 308.8 21.8 309 21.2 309.5 20.8 309.4 20.2 309.8 19.7 310.2 19.9 311 19.2 310.9 18.8 310.5 18.2ZM23.2 18.1 23.8 17.6 24.2 18.0 25.2 18.1 27.8 18.1 28.1 18.2 27.8 19.5 27.4 19.8 27.8 19.8 28.3 19.8 29.2 18.7 30.1 18.8 29.8 19.4 29.2 19.8 29.8 19.9 30.2 19.8 30.8 19.5 30.9 19.2 30.9 18.8 31.8 18.5 35.8 18.4 37.2 18.6 37.8 19.9 38.8 20.0 39.2 19.7 41.2 19.9 41.8 20.8 42.2 21.0 42.6 20.8 42.7 20.2 43.2 20.1 44.2 20.1 44.8 19.9 45.2 20.2 46.6 19.2 48.8 19.1 49.8 19.9 50.2 20.8 50.8 20.7 51.7 19.8 51.6 19.2 52.8 18.6 53.8 19.7 54.8 19.6 55.2 19.1 55.8 19.6 57.4 19.8 56.2 19.8 55.8 20.1 54.8 20.8 54.6 21.2 54.8 22.3 55.2 22.9 55.8 23.0 56 23.2 56.3 24.2 55.8 25.8 55.2 26.2 55.6 26.8 55.5 27.2 55.8 27.4 56 26.8 56.2 26.7 56.8 26.8 56.9 27.2 56.7 27.8 56.2 28.2 56 28.8 55.8 29.0 54.8 28.8 53.9 29.2 53.8 29.5 52.3 29.1 51.8 28.2 52.1 27.2 51.7 26.8 51.7 25.8 51.2 25.2 51.2 24.8 50.8 24.5 50.3 24.8 50.2 25.3 48.8 24.1 48.2 24.6 47.9 24.2 47.9 23.8 47.2 23.6 46.8 23.8 46.6 24.2 46.2 24.6 45.8 24.7 45.5 24.2 45.6 23.8 45.4 23.2 45.2 23.2 44.8 24.2 44.9 24.8 45.2 25.1 45.8 25.0 46.5 25.2 46.8 26.3 47 26.2 46.8 25.2 47.2 25.0 47.8 25.1 48.2 24.8 48.7 25.2 48.7 25.8 49.2 26.4 49.8 26.6 50.2 26.0 50.8 25.8 51.1 26.2 51.5 27.2 50.8 27.7 50.2 27.0 49.2 27.4 47.2 26.3 47 26.8 47 27.2 47.2 27.6 47.7 27.8 48.1 28.2 47.9 28.8 48 29.8 48.8 29.9 49.2 29.6 49.7 29.2 50.1 28.2 50.8 27.8 51.1 28.8 51.7 29.2 52 29.8 53.2 30.1 53.8 29.9 54.1 30.2 53.9 30.8 54.2 30.9 55.2 29.5 55.8 29.5 57.2 29.9 57.6 30.2 57 30.8 57 32.2 56.8 32.4 56.2 32.0 55.4 31.8 55.4 31.2 54.8 31.1 54.5 31.2 54.5 31.8 53.8 32.6 53.4 32.8 53.2 33.2 52.2 31.8 51.8 32.2 52 32.8 51.8 33.1 51.2 31.8 50.8 31.5 50.2 31.8 50.6 32.2 50.3 32.8 49.8 32.8 49.2 32.2 47.5 31.8 47.9 31.2 47.7 30.2 47.2 29.8 47 30.2 47.1 30.8 46.5 31.8 46.8 32.2 46.2 32.8 44.2 31.8 43.6 31.8 43.5 31.2 44.1 30.2 43.8 30.0 43.2 30.1 43.1 30.8 42.8 31.1 41.3 30.2 40.8 29.7 40.2 29.7 39.8 29.4 39.1 29.8 38.8 30.3 38.2 29.6 37.2 29.0 36.8 29.0 36.4 29.2 36.4 29.8 36.2 29.8 35.2 28.1 34.8 28.3 34.2 29.1 33.8 28.3 33.2 28.8 32.8 28.2 32.2 28.5 31.8 28.6 31.2 28.1 30.8 28.2 30.3 28.5 29.6 27.8 29.8 27.3 30.8 27.0 31 26.8 30.5 26.2 30.8 26.0 31.2 25.9 31.8 26.2 32.3 27.2 32.8 27.7 33.2 27.9 34.2 27.4 35.8 27.3 36.3 26.8 35.8 26.6 35.2 27.0 35 25.2 34.4 24.7 34.8 24.5 36.2 25.9 36.8 25.9 36.9 25.8 36.7 25.2 37.4 24.8 37.7 23.8 36.8 22.9 36.2 22.8 35.8 23.2 35.2 22.9 34.8 23.6 33.8 24.2 33.4 23.8 34.3 22.7 34.4 21.8 34.2 21.5 33.2 22.2 33.1 22.8 32.8 23.1 31.8 22.7 30.2 23.3 29.2 23.0 28.2 23.8 27.8 23.8 27.2 23.7 26.8 23.0 25.2 22.1 25 22.2 24.8 23.2 24.2 23.4 23.8 23.3 22.2 22.2 21.2 22.3 20.8 21.4 20.2 21.5 19.8 22.0 19.2 21.9 18.2 22.3 17.8 22.4 16.8 22.1 16.1 21.8 16.2 21.2 15.2 21.4 14.8 22.1 14.2 22.0 13.8 21.3 13.2 21.2 13.1 20.8 13.8 20.6 14.2 20.0 16.2 20.1 16.8 19.6 17.2 19.6 18.2 18.5 19.8 18.7 20.8 18.6 21.2 18.0ZM35.2 22.2 35.2 22.5 35.8 22.5 36.2 22.2 35.8 22.0ZM37 21.2 36.5 21.2 36.4 22.2 37.2 22.4 37.5 22.2 37.1 21.8ZM40.8 22.9 40.6 23.8 40.2 24.2 39.2 23.6 38.6 23.8 38.7 24.8 39.2 25.4 39.8 24.9 41.2 24.2 41.1 23.2ZM42.8 22.0 42.7 22.2 43.1 22.8 42.6 23.8 42.2 24.3 41.2 24.6 41.2 24.8 42.1 25.2 42.4 25.8 41.7 26.2 41.5 27.8 41.1 28.2 41.8 29.2 42.2 29.2 42.9 28.8 42.6 28.2 42.8 28.1 43.2 28.5 43.5 28.2 43.2 26.8 43.2 26.5 43.8 26.4 43.9 26.2 43.2 25.9 43.1 25.2 43.4 24.8 43.7 23.8 44.1 23.2 44 22.8 43.8 22.4ZM52.2 21.5 51.8 21.9 51.5 22.2 52.2 22.5 52.8 22.2ZM54.2 23.4 54 23.8 54.3 24.8 54.8 24.9 55.2 24.7 55.7 24.2 55.2 23.7 54.8 23.4ZM20.8 19.5 20.5 19.8 20.8 20.8 21.2 20.2 21.1 19.8ZM40.2 26.2 39.8 26.4 38.8 27.5 38.3 27.8 38.1 28.2 38.2 28.5 38.8 28.8 39.8 29.1 40.3 27.8 40.4 26.8ZM203.2 18.7 203.8 18.0 205.2 18.0 205.8 18.0 205.9 18.2 205.2 19.6 204.2 19.0 203.8 19.2 202.8 19.0 201.8 19.3 201.1 19.2 201.2 18.7ZM207.1 18.2 209.2 18.0 209.9 18.2 209.2 19.2 208.7 19.2 208.2 18.7 207.2 18.6ZM332.5 18.8 334.2 18.0 335.2 18.1 336.2 18.8 336.8 18.2 337.1 18.2 337.2 18.9 338.2 18.1 339 18.8 339.2 19.2 340.2 20.0 340.4 19.8 341.8 19.5 342.6 19.8 342.5 20.2 342.7 20.3 342.8 19.8 343.8 19.6 344.2 19.1 348.8 19.0 349.2 19.6 350.4 19.8 350.6 21.8 350.8 22.1 351.2 22.0 352 21.2 351.9 20.8 352.1 20.2 351.8 20.2 351.2 19.2 351.8 19.1 352.6 19.2 352.6 19.8 352.3 20.2 352.8 20.6 353.2 20.2 353.8 20.0 354.2 20.0 354.8 20.4 356.8 19.1 357.2 19.5 358.8 19.6 359.2 20.1 359.8 20.2 359.8 20.4 358.8 20.7 358.2 20.5 357.8 21.1 357.2 21.2 356.6 21.8 357.2 22.1 358.2 21.5 358.8 21.6 359.2 22.2 358.8 24.6 358.2 25.6 356.5 24.8 356.9 24.2 357.7 23.8 357.8 23.1 357.2 23.0 356.7 23.2 356.2 22.3 355.8 21.9 355.2 23.1 353.8 22.0 353.2 21.8 352.8 23.1 352.2 23.6 351.8 23.1 350.8 23.0 350.4 23.2 349.7 23.7 349.5 24.2 349.7 25.8 349.3 26.2 348.8 26.4 348.2 25.8 348.8 25.2 349 24.8 348.8 24.2 348.2 23.9 347.8 24.8 346.8 24.9 346.2 24.5 345.2 24.5 344.2 23.5 343.8 23.5 343.2 23.7 342.2 23.4 341.2 24.9 340.8 23.7 340.2 23.7 339.8 24.9 338.8 24.8 338.4 24.2 338.2 23.5 337.6 22.8 337.5 22.2 337.8 21.7 337.2 21.9 337.1 22.8 336.8 23.0 336.2 23.1 334.8 23.0 334.6 23.2 334.8 23.7 335.8 23.8 336.7 24.8 336.2 25.1 335.2 25.1 334.8 25.9 333.9 25.3 334.6 24.8 334.8 23.9 333.8 24.2 333.2 23.9 332.8 23.9 331.8 23.5 331.4 23.8 331.2 24.3 330.6 23.8 330.6 23.2 331.2 22.7 332.8 22.2 332.5 21.8 331.7 21.2 331.2 21.5 330.8 21.5 330.5 21.2 331.1 20.8 330.8 20.2 330.9 19.8 331.2 19.3 331.8 19.7 332.4 19.2ZM337.8 19.2 337.4 19.8 337.4 20.2 338.2 20.9 338.8 20.3 338.9 19.8 338.2 19.0ZM339.2 21.9 338.8 22.6 338.7 22.8 339.5 22.8 339.5 22.2ZM340.2 20.3 339.5 20.8 339.8 21.2 340.2 21.5 340.4 22.2 340.8 22.7 341.2 22.9 341.8 22.5 342.6 22.2 342.2 21.5 341.8 21.9 341.2 21.5 340.8 20.5ZM94.2 20.6 95.2 19.0 96.8 19.2 96.9 19.8 97.2 20.1 97.5 19.8 97.5 19.2 97.8 19.1 98.2 19.5 98.8 19.5 99.8 20.8 99.7 21.2 99.9 21.8 99.4 22.2 99.9 22.8 98.8 23.8 97.6 24.2 97.2 24.9 96.8 25.0 95.2 24.8 94.1 24.2 93.8 23.3 93.2 23.3 92.8 23.6 91.2 23.2 91.8 23.2 92 22.8 91.9 22.2 91.1 21.2 91.2 20.8 92.2 21.6 92.8 20.7 93.2 21.1 93.8 20.6ZM95.8 22.2 95.3 22.8 95.8 23.2 96.9 23.2 96.2 22.3ZM58.1 19.8 58.8 19.5 60.2 19.5 60.8 20.2 61.2 20.5 62.2 20.8 62.8 21.2 63.8 21.4 64.2 22.1 64.7 21.8 64.5 20.8 65.2 20.5 65.8 21.1 68.2 21.1 69.2 21.3 69.8 21.8 69.3 22.2 69.8 23.1 70.2 22.6 71.2 22.6 72.2 22.1 73.1 22.8 72.8 23.5 72.2 23.8 71.3 24.8 71.7 25.2 71.6 25.8 71.9 26.8 71.8 26.9 71.6 26.8 71.6 26.2 71.2 26.1 71 26.2 70.8 27.0 69.8 27.2 69 26.8 70.2 25.2 69.8 23.4 69.2 24.1 69.1 23.8 68.2 23.5 67.9 23.8 67.8 24.4 67.2 23.0 66.2 23.7 65.2 23.1 64.8 23.2 64.5 23.2 64.8 23.8 64.9 24.2 64.2 24.7 63.8 24.5 64.1 23.8 64.1 23.2 63.2 22.9 62.8 23.0 62.6 22.8 62.6 21.8 62.2 21.5 61.8 21.5 61.2 21.8 60.8 21.8 60.2 22.0 59.8 23.2 59.2 22.9 58.8 23.0 58.4 22.8 58.5 22.2 58 21.8 58.2 21.2 57.9 20.2ZM197.7 19.8 198.1 19.8 197.8 20.4 195.8 20.4 195.6 20.2 197.2 20.1ZM0.7 20.2 1.2 20.1 2.1 20.2 2 20.8 1.2 20.9 0.6 20.8ZM73.2 20.6 73.8 20.1 74.2 20.7 74.9 20.8 75.4 21.2 75.2 21.5 74.2 21.7 73.8 21.3 73.2 21.6 72.2 21.7 72 21.2 72 20.8 72.2 20.5ZM211.8 20.2 212.2 19.8 212.8 19.8 213.2 20.2 212.8 21.3 211.8 20.8 211.2 20.8 210.8 21.1 210.4 20.8 210.8 20.5 211.2 20.7 211.8 20.6ZM315.8 20.2 316.8 20.0 316.9 20.2 317.1 21.2 317 22.2 317.4 22.8 317.2 22.9 316.2 23.2 315.8 22.8 315.2 23.0 314.6 22.8 315.4 22.2 315.5 21.2ZM82.7 20.8 83.8 20.5 84.2 20.8 83.8 21.1 83.2 20.8 82.2 21.4 81.8 22.2 81.2 22.6 80.8 21.9 79.2 21.3 78.8 22.0 78.5 22.2 79.2 22.9 79.8 22.8 80.2 23.7 80.5 23.8 80.2 23.8 79.7 24.7 78.2 25.1 77.2 24.3 76.2 24.6 75.6 24.2 75.8 23.2 76.2 23.0 77.2 23.1 77.9 22.8 76.9 21.2 77.8 21.1 82.2 21.2ZM232.1 20.8 232.8 20.5 234.8 20.8 234.2 21.1 233.8 20.8 233.2 21.4 232.8 21.6ZM305.2 21.1 306.8 20.6 306.9 20.8 306.7 21.2 305.8 21.8 305 21.8ZM3.1 21.2 3.2 21.1 4.2 21.0 4.5 21.2 4.2 21.6 3.8 21.6ZM226 21.2 226.2 21.1 226.8 21.7 227.7 21.8 226.4 22.8 226.2 23.3 226.2 21.8ZM56 21.8 56.2 21.6 56.9 22.2 56.9 22.8 56.2 22.6ZM234.1 21.8 234.2 21.4 234.8 21.6 234.9 22.2 234.2 22.5ZM193.3 22.2 193.8 22.2 194 22.8 193.7 23.2 194 24.2 193.8 24.6 193.6 24.2 192.6 23.2ZM245.6 22.2 245.8 22.1 246.2 22.0 246.8 22.4 247.2 21.9 247.6 22.8 246.8 23.9 245.9 23.2 245.9 22.8ZM254.4 22.2 254.8 22.0 255.2 22.2 255.2 23.3 254.8 23.2ZM299.6 22.2 299.8 22.0 300.2 22.0 300.8 22.8 299.8 22.9ZM311.6 22.2 311.8 22.0 312.2 22.0 312.4 22.2 311.8 23.6ZM236.2 24.4 236.2 23.1 237.4 23.8 236.8 24.6ZM310 25.2 310.2 23.6 311 23.8 310.8 25.2 310.9 25.8 310.8 26.2ZM320.2 24.6 320.8 23.5 320.9 23.8 321.8 24.2 321.7 24.7 320.8 25.3 319.9 24.8ZM354.1 23.8 355.8 23.5 356.1 23.8 356.1 24.2 355.8 24.8 355.2 24.3 354.2 24.4ZM302.9 24.2 303.2 23.9 303.6 24.2 303.2 25.0ZM195.2 24.8 195.8 24.3 196.1 24.8 195.8 25.3 195.4 25.2ZM337.9 25.2 338.2 25.1 338.8 25.9 338.2 26.1 337.8 25.8ZM193 25.8 193.2 25.5 193.8 25.5 193.9 25.8 193.2 26.4ZM328.6 26.2 328.8 25.5 329.2 25.6 329.4 25.8 329.3 26.2ZM340.1 25.8 340.2 25.5 340.7 25.3 341 25.8 341 26.2 340.8 26.4ZM349.9 25.8 351.2 25.3 351.6 25.8 351.3 26.2 350.8 26.3ZM89.2 26.8 89.8 26.1 90.8 26.2 90.7 26.7 90.2 27.3 89.8 27.4ZM236.6 26.2 236.8 26.1 237.3 26.2 237.2 26.9 236.8 26.9ZM325.6 27.2 326.8 26.0 327.1 26.2 326.8 26.8 326.8 27.6 326.2 27.1 325.8 27.3ZM103.3 26.8 103.8 26.6 104.4 26.8 103.5 27.2 103.2 28.0 102.8 28.4 102.5 28.2 102.4 27.7ZM293.5 26.8 294.2 26.3 294.5 26.8 293.8 27.1ZM317.7 26.8 318.3 27.8 318.2 27.9 317.8 28.0 317.6 27.2ZM195.5 27.8 195.8 27.3 196.3 27.8 195.8 28.2ZM308.6 27.8 309.2 27.7 309.9 28.2 309.2 28.5 308.8 28.3ZM186.7 28.2 187.2 28.1 187.4 28.2 186.9 28.8 186.8 29.2 187.3 29.8 186.8 30.0 186.2 29.8 186.6 29.2ZM114.5 29.8 115.2 28.5 115.9 29.2 115.9 29.8 115.5 30.2 116.8 30.4 117 30.8 116.5 31.8 118 32.8 117.2 33.4 116.5 32.8 116.1 31.8 115.2 31.5 115.1 30.8 114.8 30.4 114.2 30.5 112.7 31.6 112.2 31.8 111.8 31.5 111.2 32.0 111 32.8 110.5 33.2 111.2 33.8 111.4 34.2 110.2 35.3 109.8 35.1 109.5 34.8 109.4 33.8 108.5 33.2 108.7 32.8 109.2 32.9 109.8 33.5 110.1 32.8 109.9 32.2 110.2 31.8 110.8 31.9 111 31.8 111.1 31.2 110.6 30.8 111.2 30.0 111.8 30.2 111.5 30.8 111.8 30.9 112.2 30.7 113.2 30.7 113.8 30.2 114.2 30.0ZM103.2 29.2 103.8 29.2 104.8 29.5 105 29.8 105.1 30.2 104.8 30.4 103.8 29.9 103.2 30.4 103.1 30.2ZM21.9 30.2 22.2 29.6 22.7 30.2 22.7 30.8 22.2 31.1 22 30.8ZM19.2 31.2 19.8 29.9 20 30.2 20 31.8 20.2 32.2 21.2 31.6 21.8 31.8 21.6 32.2 21.2 32.5 20.2 32.3 19.8 32.5 19 32.2ZM195.7 30.2 196.8 30.0 197.1 30.2 197.2 30.8 196.7 31.2 196.8 32.5 196.2 32.2 195.8 31.7 195.7 31.2 195.9 30.8ZM185.6 31.2 186.2 30.9 186.5 31.2 186.2 31.8 185.8 32.0 185.6 31.8ZM102.2 31.8 102.8 31.3 103.2 32.2 102.8 32.5ZM287 31.8 287.2 31.5 287.8 31.7 288.1 32.2 287.8 33.3 287.2 32.8ZM60.2 32.2 60.6 32.8 59.8 33.5 59.4 32.8 59.8 32.4ZM47.1 32.8 47.8 32.7 48.2 32.9 48.4 33.2 48.2 33.7 47.8 33.5 47.2 33.6ZM107.1 32.8 107.2 32.5 108.1 33.2 107.8 34.6 107.2 34.2ZM113.7 34.2 114.2 33.4 114.8 33.4 114.9 33.8 114.2 34.6ZM244.3 34.2 244.8 33.6 245.1 33.8 245.1 34.2 244.8 34.4ZM100.4 34.2 100.9 34.2 101 34.8 100.8 35.5 100.2 35.5 100.2 34.8ZM294.1 34.2 294.2 33.9 294.8 34.2 295.4 34.2 295.8 34.8 295.8 35.3 294.2 35.4 294.1 35.2 294.2 35.0 294.9 34.8 294.8 34.3 294.2 34.5ZM292.2 34.8 292.8 34.8 293.3 35.8 293.2 36.6 292.6 36.2 292.3 35.8 292.4 35.2ZM115.5 35.2 115.8 35.1 116.1 35.2 116.8 35.9 117 35.8 117.2 35.2 117.9 35.8 118 36.2 117.8 37.2 116.8 37.0 116.2 37.2 115.9 37.8 115.8 39.0 115.3 38.2 114.1 37.8 114.4 37.2 115.2 37.0ZM113.9 35.8 114.2 35.3 114.8 35.3 115.1 35.8 114.7 36.2 114.2 36.3ZM238 36.2 238.2 35.5 238.8 35.8 238.8 36.4 238.2 36.4ZM290.9 35.8 291.2 35.6 291.6 35.8 291.9 36.2 291.2 36.7 290.8 36.2ZM53.9 36.2 54.2 36.1 54.5 36.2 54.3 36.8 54.2 37.7 54.2 37.2 53.7 36.8ZM109.9 36.2 110.2 35.8 110.8 35.8 111.3 36.2 110.8 36.7 110.2 36.6ZM55.9 37.8 56.2 37.6 56.8 37.7 56.2 38.6ZM111.3 37.8 111.8 37.5 112 37.8 112 38.2 111.8 38.5 111.3 38.2ZM109.6 38.2 109.9 38.2 109.7 38.8 109.2 39.2 109.1 38.8ZM110.7 38.8 111.8 39.4 111.8 40.4 111.2 40.5 111 40.2 111.4 39.8 111.2 39.4 110.6 39.2ZM275.5 39.8 275.8 39.4 277 39.8 276.7 40.2 276.8 40.8 276.4 41.2 276 41.2 275.5 40.8 275.9 40.2ZM303.7 41.8 304.2 40.6 305.2 41.8 304.8 42.1 304.2 42.3ZM54.5 47.8 54.8 47.0 55.2 47.7 55.2 48.2 54.8 48.9ZM272.8 48.2 273.2 48.1 273.4 48.2 273.2 49.1 272.4 48.8ZM70.7 49.2 71.4 49.8 71.5 50.2 71.2 50.9 71 50.2 70.6 49.8ZM261.2 49.8 261.8 49.3 262.5 50.2 262.2 50.8 263.8 50.6 264.2 50.9 264.9 51.8 264.8 52.2 264.2 52.4 262.6 52.8 262.2 54.1 261.8 53.7 261.4 54.2 261.8 54.5 262.2 54.4 262.8 54.5 263.8 54.0 264.2 54.5 265.2 54.5 266.2 54.0 266.8 54.2 267.2 53.8 267.6 53.8 267.2 52.8 267.8 52.6 268.3 53.2 269.2 53.7 269 54.2 269.2 54.4 269.8 54.3 270.8 55.0 271.1 54.8 271.1 54.2 270.6 53.8 270.8 53.5 271.8 53.0 272.2 53.1 272.8 52.1 273.2 52.1 274.7 52.8 274.8 53.8 275.2 54.1 276.2 54.2 276.8 53.9 277.3 54.2 276.5 54.8 276.8 55.4 277.2 55.6 278.8 55.5 279.2 55.2 279.2 54.7 279.8 54.4 280.2 54.8 279.5 55.2 280.1 56.2 280.4 57.2 280.3 57.8 279.8 58.1 279.2 57.5 278.9 57.8 279.5 58.8 278.4 59.8 278.9 60.2 278.2 61.2 277.8 61.4 277 61.2 275.8 60.0 275.5 60.2 276 61.2 275.8 61.8 275.2 62.3 274.2 62.4 274.1 62.2 274.2 61.8 274.8 61.2 275.1 60.2 274.2 59.7 273.2 60.8 272.2 61.6 271.9 61.8 271.7 61.8 271.1 60.8 270.1 60.2 270.2 59.2 269.8 58.9 269.2 59.7 268.2 60.2 266.2 61.1 265.8 61.1 265.5 60.7 265.7 60.2 265.2 59.4 264.8 59.8 264.8 60.2 263.8 60.6 263.4 60.2 263.7 59.8 263.2 59.5 263 59.8 263.2 60.2 262.8 60.4 261.9 59.8 261.8 59.4 260.8 59.2 260.2 58.5 259.2 58.1 258.7 58.2 258.8 58.8 259.5 59.2 259.2 59.5 258.8 59.6 258.2 59.3 257.2 59.4 256.8 59.7 256.6 58.8 256.1 58.2 256.6 57.2 256.2 57.2 255.8 57.1 254.8 57.9 253.2 58.4 252.8 58.2 252.6 57.8 253.1 57.2 253.2 56.8 253 55.8 252.2 55.4 251.8 55.4 251.2 55.0 250.7 55.2 250.4 55.8 250.5 56.2 250.2 56.4 249.8 56.2 250.2 55.2 250.2 54.5 250.8 54.6 251.2 54.4 252.2 55.2 252.8 55.0 253.2 54.5 253.8 54.5 254.8 54.2 255 54.2 254.8 54.8 255.2 55.3 255.6 54.8 255.3 54.2 255.6 53.8 255.5 52.2 256.2 51.9 256.8 52.1 257 52.8 257.2 52.9 257.8 52.1 258.8 52.8 259.2 51.8 259.8 51.3 260.1 51.8 260.2 52.7 260.5 52.2 261.2 51.8 261.1 50.8 261.4 50.2ZM275.8 58.2 275.1 58.8 275 59.2 275.2 59.6 275.8 59.6 276 59.2 276.1 58.8ZM260.2 52.8 259.9 53.2 259.9 53.8 260.2 54.4 260.9 54.2 260.9 53.7ZM277.2 57.8 276.3 58.8 276.8 59.5 277.2 59.7 277.5 59.2ZM253.2 52.2 254.2 52.1 254.5 52.2 254.8 52.8 254.2 53.0 253.8 52.5 253.2 53.0 253 52.8ZM95.6 55.8 95.8 55.6 96.2 55.8 96.2 56.4 95.8 56.4ZM63.2 58.2 63.8 58.1 64.1 58.2 64.3 58.8 63.8 59.0ZM241.1 60.2 241.8 60.0 241.9 60.2 242 61.2 241.8 61.5ZM260.5 60.2 260.8 60.1 261.2 60.3 262 61.2 261.8 61.5 260.8 62.0 260.2 62.5 259.7 62.2 259.9 61.2 260.4 60.8ZM284.7 60.2 285.2 60.1 285.5 60.2 285.4 60.8 284.8 61.0 284.5 60.8ZM269.1 61.2 269.8 60.6 269.9 60.8 270.2 61.7 270.8 61.8 271.1 62.3 270.8 62.8 270.2 63.0 269.8 62.8 270.2 61.8ZM298.2 63.8 298.8 63.6 299 63.8 298.8 64.5ZM264.4 64.8 264.8 64.5 265.3 64.8 265 65.2 264.8 65.4ZM182.4 66.8 183.2 66.4 184 67.2 183.8 67.7 183.2 67.8 182.8 67.4 182.1 67.2ZM269.6 66.8 269.8 66.6 270.6 67.2 270.2 67.7 269.8 67.3ZM190.2 67.8 191.2 67.4 192.8 67.4 193.3 67.8 193.4 68.8 193.2 69.0 192.9 68.8 193 68.2 192.8 68.1 191.8 68.7ZM217.7 68.8 218.2 68.8 218.7 69.2 218.2 70.0 217.4 69.8 217.5 69.2ZM283.5 72.2 283.8 71.1 283.9 71.8 284.4 72.2 284.2 72.4ZM303.3 78.8 304.1 78.8 303.2 79.6 303.1 79.2ZM165.9 80.8 166.2 80.3 166.7 81.2 166.2 81.5 165.8 81.2ZM199.3 81.2 199.8 80.4 200.1 80.8 199.8 81.6ZM117.8 81.8 118.4 81.8 118.5 82.2 118.2 82.5 117.6 82.2ZM316.5 92.2 316.8 92.1 317.1 92.2 317 93.2 316.8 93.6ZM319.3 92.2 319.8 92.0 320.2 92.0 320.5 92.2 320.2 93.0 319.8 93.1ZM101.4 92.8 101.8 92.5 101.9 92.8 101.8 93.2 102 93.8 101.8 94.8 103 96.2 103.1 97.2 102.9 98.2 103.5 99.2 104.2 99.7 104.5 100.2 105.4 100.8 105.5 101.2 105.9 101.8 105.9 102.2 105.5 102.8 105.5 103.2 105.2 103.4 104.7 103.2 103.7 101.8 102.7 101.2 102.6 100.8 102.8 100.2 102.8 99.8 101.8 98.8 101.8 97.9 101.2 98.1 100.5 97.2 100.3 96.3 100.8 95.2 100.4 93.8 100.8 93.1 101.5 93.2ZM116.8 92.8 117.2 92.6 117.7 93.2 117.2 93.6ZM114.8 94.2 115.2 93.1 115.7 93.4 116.1 94.2 115.8 94.5 115.1 94.2 114.8 95.1 114.2 95.3 113.8 95.3 114.2 94.4ZM126.2 95.2 126.8 95.0 127.2 95.2 127.3 95.8 126.2 96.0ZM336 95.8 336.3 95.8 336.4 96.2 336.8 96.7 337.2 96.8 336.8 96.9 336.2 97.3 335.8 96.8 336.1 96.2ZM143.7 96.8 143.7 97.2 143.2 97.8 142.8 97.2ZM106 103.8 106.2 103.6 106.8 103.7 107.8 103.6 108 103.8 108.1 104.2 108.9 104.8 108 105.8 107.8 107.0 107.2 107.4 107.1 107.2 107.1 106.8 107.2 106.3 107.5 106.2 106.9 105.8 106.8 104.6 106 104.2ZM109 104.2 109.8 103.5 110.2 103.4 110.7 103.8 109.8 104.4 109.2 104.5ZM110.9 109.8 111.2 109.6 112.3 110.8 111.8 111.3 111.2 111.4 110.8 110.8 110.5 110.2ZM225.9 113.2 226.2 113.1 226.5 113.2 226.3 113.7 225.5 113.8ZM226.4 114.8 226.8 114.0 227.1 114.8 226.8 115.3ZM199.8 118.2 200.5 118.2 200.8 118.8 200.2 118.9ZM327.1 118.8 327.2 118.6 328.1 119.2 328 119.8 327.8 119.9 327.2 119.7ZM110.1 119.2 110.2 118.8 110.4 119.2 110.1 119.8 110.4 120.2 110.2 120.4 109.8 120.7 108.8 120.3ZM314.7 119.2 315.3 119.2 315.9 120.2 315.9 120.8 315.8 120.9 314.8 120.2 314.4 119.8ZM116.5 119.8 116.8 119.5 117.2 119.4 117.5 119.8 116.8 120.2ZM199.5 120.2 200.2 119.8 200.8 120.0 200.9 120.2 200.8 121.8 199.2 122.7 198.7 122.2 198 121.2 198.2 121.0 198.8 121.0 199.8 121.9 200 121.2 200 120.8ZM109.6 121.8 110.2 121.4 110.7 121.8 110.2 122.3 109.8 122.1ZM109.8 123.5 110.2 122.9 110.8 123.2 110.3 123.8 110.5 124.2 109.8 125.2 110 126.2 109.5 126.8 109.5 127.2 109.8 127.8 109.6 128.8 109.9 129.2 109.9 129.8 109.6 131.2 109.2 131.8 108.8 131.6 108.4 131.2 108.3 130.8 108.5 129.8 108.2 128.2 108.3 127.8 109.1 125.8 108.3 124.8 108.3 124.2 109.2 123.5ZM109.1 132.8 109.8 132.3 110.2 132.5 110.5 132.8 110.3 133.2 110.4 133.8 109.2 133.5 108.9 133.2ZM107.2 133.8 108.2 133.6 108.6 133.8 108.3 134.8 108.5 135.2 108.8 135.6 109.2 135.6 110 136.2 109.9 137.2 110.8 137.4 111.1 137.8 111.3 138.2 110.7 139.2 110.6 139.8 109.9 140.2 109.4 141.8 109.8 142.1 110.2 142.0 110.7 142.2 111.3 142.8 111.3 143.2 110.8 142.9 110.2 142.9 109.8 143.2 109.2 144.2 108.2 144.0 107.2 144.3 106.2 143.4 105.8 143.3 104.7 142.2 104.8 141.5 105.3 141.3 105.8 141.5 106.2 141.1 106.5 139.8 106.2 139.3 105.9 139.8 106 140.2 105.2 140.3 104.2 141.1 104.1 140.2 103.6 139.8 103.8 139.2 104.2 139.5 104.6 139.2 104.7 138.8 104.4 138.2 104.8 137.2 104.5 136.8 105.2 136.1 106.2 136.4 106.4 136.2 106.9 135.2ZM350.3 134.2 351.2 134.1 352.2 134.8 352 135.2 351.2 135.6 350.4 134.8Z" fill="#fff" fill-rule="evenodd"/>
</g></g>
<use href="#land" transform="translate(112.2 1354.2) scale(4.40389 4.55400)" fill="none" stroke="#6b6a66" stroke-width="1" vector-effect="non-scaling-stroke" stroke-linejoin="round"/>
<use href="#isl" transform="translate(112.2 1354.2) scale(4.40389 4.55400)" fill="none" stroke="#6b6a66" stroke-width="1.9" stroke-linejoin="round"/>
<use href="#ice" transform="translate(112.2 1354.2) scale(4.40389 4.55400)" fill="#fff" stroke="#6b6a66" stroke-width="1.6" vector-effect="non-scaling-stroke" stroke-linejoin="round"/>
<path d="M303.8 1497.2 312.6 1503.1 319.2 1509.9 328.0 1515.4 334.6 1521.3 341.2 1527.3 345.6 1532.7 354.4 1538.2 361.0 1542.7" fill="none" stroke="#6b6a66" stroke-width="3.1" stroke-linejoin="round" stroke-linecap="round" stroke-opacity=".9"/>
<path d="M242.1 1493.1 253.1 1489.5 261.9 1488.1 275.1 1490.8 288.4 1492.2 299.4 1496.3M808.0 1443.9 801.4 1438.4 805.8 1432.5 814.6 1427.1 819.0 1420.2 821.2 1413.4 821.2 1406.6M706.7 1489.5 691.3 1484.9 682.5 1477.2 675.9 1469.0 671.5 1461.2 671.5 1452.1 675.9 1446.2 667.1 1443.0 662.7 1436.2 658.3 1429.3 651.7 1422.5" fill="none" stroke="#6b6a66" stroke-width="2.1" stroke-linejoin="round" stroke-linecap="round" stroke-opacity=".9"/>
<path d="M178.3 1515.9 195.9 1512.2 209.1 1506.8 222.3 1500.8 231.1 1496.3M631.9 1458.9 620.8 1454.4 609.8 1448.5 601.0 1443.0 587.8 1439.4 574.6 1435.3 561.4 1432.5M620.8 1489.5 625.3 1496.3 631.9 1503.1 636.3 1509.9 645.1 1514.5M1008.4 1593.3 1015.0 1595.6 1021.6 1594.7 1017.2 1598.7 1026.0 1599.2M1446.6 1839.2 1453.2 1834.6 1459.8 1828.7M1638.1 1972.6 1640.3 1969.0 1643.9 1966.7M660.5 1529.5 653.9 1532.7 645.1 1536.4" fill="none" stroke="#6b6a66" stroke-width="1.8" stroke-linejoin="round" stroke-linecap="round" stroke-opacity=".9"/>
<path d="M928.2 1496.3 927.8 1488.5 927.8 1481.7 935.7 1477.2 946.7 1473.1 955.5 1467.1 961.3 1461.2 966.6 1455.3 973.2 1451.7 982.0 1448.0 990.8 1445.3 1001.8 1443.5 1012.8 1441.2 1026.0 1440.7 1037.0 1443.0" fill="none" stroke="#6b6a66" stroke-width="4.5" stroke-linejoin="round" stroke-linecap="round" stroke-opacity=".9"/>
<path d="M582.1 1955.3 579.0 1964.4 575.5 1974.9" fill="none" stroke="#6b6a66" stroke-width="4.2" stroke-linejoin="round" stroke-linecap="round" stroke-opacity=".9"/>
<path d="M575.5 1978.1 575.5 1984.9 576.4 1994.0 579.9 2002.2 586.5 2008.2 594.4 2012.7 603.2 2015.4" fill="none" stroke="#6b6a66" stroke-width="6.3" stroke-linejoin="round" stroke-linecap="round" stroke-opacity=".9"/>
<path d="M590.0 2005.4 596.6 2010.0 605.4 2014.1" fill="none" stroke="#6b6a66" stroke-width="4.9" stroke-linejoin="round" stroke-linecap="round" stroke-opacity=".9"/>
<path d="M715.5 1489.5 722.1 1479.4 728.7 1470.3 742.0 1464.9 759.6 1458.9 777.2 1453.0 792.6 1448.5" fill="none" stroke="#6b6a66" stroke-width="2.2" stroke-linejoin="round" stroke-linecap="round" stroke-opacity=".9"/>
<path d="M878.5 1509.0 880.2 1504.5 880.7 1499.9M979.8 1490.8 988.6 1491.7 997.4 1490.4 1004.0 1490.8" fill="none" stroke="#6b6a66" stroke-width="1.5" stroke-linejoin="round" stroke-linecap="round" stroke-opacity=".9"/>
<path d="M1010.6 1584.2 1015.0 1586.5 1019.4 1588.7M957.7 1408.8 966.6 1404.3 979.8 1400.7 997.4 1398.8 1015.0 1398.8M971.0 1413.4 979.8 1411.1 988.6 1406.6 999.6 1404.3M1133.9 1440.7 1142.7 1437.1 1149.3 1431.6 1155.9 1424.8 1169.1 1418.9 1186.7 1416.6 1204.4 1414.3M1327.7 1402.9 1340.9 1401.6 1354.1 1404.3 1365.1 1406.1M557.0 1431.6 543.8 1429.3 526.2 1428.4 513.0 1430.3M530.6 1416.1 543.8 1411.1 557.0 1406.6 570.2 1402.0 587.8 1397.5 605.4 1392.9 618.6 1389.3M508.5 1399.7 526.2 1395.2 552.6 1390.6 587.8 1387.0M358.8 1431.6 376.4 1436.2 389.6 1440.7 402.9 1445.3M420.5 1424.3 438.1 1420.2 464.5 1418.9 482.1 1415.7 499.7 1413.4M464.5 1445.3 473.3 1438.4 479.9 1431.6 490.9 1424.8M561.4 1479.4 579.0 1480.3 592.2 1484.0M596.6 2003.1 587.8 1996.3 581.2 1989.5M1473.0 1768.6 1481.8 1770.9 1490.6 1777.7M951.1 1501.7 952.5 1506.8 953.3 1511.3 957.7 1513.6" fill="none" stroke="#6b6a66" stroke-width="1.4" stroke-linejoin="round" stroke-linecap="round" stroke-opacity=".9"/>
<path d="M737.6 1481.7L860.9 1481.7M719.9 1499.9L737.6 1481.7M684.7 1499.9L719.9 1499.9M543.8 1377.0L684.7 1499.9M543.8 1377.0L860.9 1377.0M860.9 1433.4L860.9 1377.0M860.9 1481.7L860.9 1433.4M332.4 1536.4L442.5 1536.4M275.1 1499.9L332.4 1536.4M165.0 1525.0L275.1 1499.9M165.0 1525.0L165.0 1468.0M165.0 1468.0L165.0 1433.4M165.0 1433.4L336.8 1433.4M336.8 1433.4L354.4 1410.7M354.4 1410.7L442.5 1395.2M442.5 1536.4L442.5 1395.2M508.5 1536.4L684.7 1536.4M442.5 1536.4L508.5 1536.4M442.5 1395.2L543.8 1377.0M684.7 1536.4L684.7 1499.9M332.4 1536.4L365.4 1610.1M365.4 1610.1L442.5 1610.1M442.5 1610.1L442.5 1536.4M508.5 1650.2L508.5 1536.4M442.5 1610.1L508.5 1650.2M508.5 1650.2L596.6 1650.2M565.8 1622.9L684.7 1536.4M565.8 1622.9L596.6 1650.2M444.7 1691.2L508.5 1650.2M365.4 1610.1L444.7 1691.2M537.6 1754.0L574.6 1709.4M444.7 1691.2L537.6 1754.0M508.5 1650.2L574.6 1709.4M596.6 1650.2L662.7 1709.4M587.8 1709.4L662.7 1709.4M574.6 1709.4L587.8 1709.4M537.6 1809.6L537.6 1754.0M537.6 1809.6L557.0 1832.4M557.0 1832.4L587.8 1832.4M587.8 1832.4L587.8 1800.5M587.8 1800.5L587.8 1709.4M587.8 1800.5L684.7 1800.5M684.7 1800.5L684.7 1764.1M684.7 1764.1L684.7 1729.4M662.7 1709.4L684.7 1729.4M684.7 1855.1L755.2 1855.1M684.7 1855.1L684.7 1800.5M684.7 1764.1L755.2 1764.1M755.2 1855.1L755.2 1764.1M587.8 1832.4L612.5 1855.1M612.5 1855.1L684.7 1855.1M557.0 1832.4L576.4 1855.1M557.0 1978.1L576.4 1855.1M557.0 1978.1L590.5 1978.1M590.5 1978.1L612.5 1855.1M658.3 1946.2L755.2 1855.1M596.2 1946.2L658.3 1946.2M557.0 2019.1L557.0 1978.1M658.3 2019.1L658.3 1946.2M557.0 2019.1L658.3 2019.1M860.9 1545.5L860.9 1481.7M860.9 1433.4L1081.1 1433.4M1081.1 1468.0L1081.1 1433.4M1081.1 1484.9L1081.1 1468.0M860.9 1545.5L1081.1 1484.9M860.9 1559.1L860.9 1545.5M860.9 1559.1L1081.1 1559.1M1081.1 1559.1L1081.1 1484.9M1081.1 1468.0L1169.1 1468.0M1169.1 1559.1L1169.1 1468.0M1081.1 1559.1L1169.1 1559.1M860.9 1627.4L860.9 1559.1M1081.1 1627.4L1081.1 1559.1M1050.2 1627.4L1081.1 1627.4M860.9 1627.4L1050.2 1627.4M816.8 1697.1L816.8 1627.4M816.8 1627.4L860.9 1627.4M1023.8 1697.1L1090.3 1697.1M971.0 1697.1L1023.8 1697.1M816.8 1697.1L971.0 1697.1M816.8 1729.4L816.8 1697.1M940.1 1764.1L971.0 1697.1M816.8 1729.4L940.1 1764.1M1023.8 1753.6L1023.8 1697.1M1023.8 1809.6L1023.8 1753.6M1015.0 1809.6L1023.8 1809.6M940.1 1809.6L1015.0 1809.6M940.1 1809.6L940.1 1764.1M1090.3 1697.1L1097.3 1709.4M1097.3 1709.4L1138.3 1695.8M1138.3 1732.2L1138.3 1695.8M1109.7 1753.6L1138.3 1732.2M1023.8 1753.6L1109.7 1753.6M1109.7 1809.6L1109.7 1753.6M1023.8 1809.6L1109.7 1809.6M940.1 1928.0L940.1 1809.6M940.1 1928.0L1015.0 1928.0M1015.0 1928.0L1015.0 1809.6M1015.0 1928.0L1041.4 1928.0M1041.4 1928.0L1109.7 1809.6M1064.3 1887.0L1109.7 1809.6M1109.7 1809.6L1138.3 1809.6M1138.3 1887.0L1138.3 1809.6M1064.3 1887.0L1138.3 1887.0M1081.1 1433.4L1318.9 1390.6M1318.9 1390.6L1697.6 1427.1M1477.4 1468.0L1697.6 1468.0M1301.2 1468.0L1477.4 1468.0M1169.1 1468.0L1301.2 1468.0M112.2 1427.1L165.0 1433.4M112.2 1468.0L165.0 1468.0M1301.2 1559.1L1301.2 1468.0M1235.2 1559.1L1301.2 1559.1M1169.1 1559.1L1235.2 1559.1M1477.4 1559.1L1477.4 1468.0M1420.2 1559.1L1477.4 1559.1M1301.2 1559.1L1420.2 1559.1M1596.3 1536.4L1697.6 1491.3M1574.3 1559.1L1596.3 1536.4M1477.4 1559.1L1574.3 1559.1M1235.2 1595.6L1235.2 1559.1M1235.2 1627.4L1235.2 1595.6M1169.1 1627.4L1235.2 1627.4M1169.1 1657.0L1169.1 1627.4M1081.1 1627.4L1114.5 1627.4M1114.5 1627.4L1127.3 1634.3M1127.3 1634.3L1153.3 1647.0M1153.3 1647.0L1169.1 1657.0M1138.3 1695.8L1169.1 1657.0M1384.9 1595.6L1420.2 1559.1M1345.3 1595.6L1384.9 1595.6M1235.2 1595.6L1345.3 1595.6M1345.3 1627.4L1345.3 1595.6M1292.4 1645.7L1345.3 1627.4M1235.2 1627.4L1292.4 1645.7M1345.3 1675.3L1345.3 1627.4M1486.2 1650.2L1574.3 1559.1M1486.2 1675.3L1486.2 1650.2M1345.3 1675.3L1486.2 1675.3M1323.3 1675.3L1345.3 1675.3M1314.5 1675.3L1323.3 1675.3M1288.0 1675.3L1314.5 1675.3M1252.8 1732.2L1288.0 1675.3M1239.6 1732.2L1252.8 1732.2M1213.2 1675.3L1239.6 1732.2M1197.8 1657.0L1213.2 1675.3M1169.1 1657.0L1197.8 1657.0M1314.5 1809.6L1314.5 1675.3M1486.2 1741.3L1486.2 1675.3M1486.2 1741.3L1587.5 1809.6M1389.3 1809.6L1587.5 1809.6M1314.5 1809.6L1389.3 1809.6M1389.3 1855.1L1389.3 1809.6M1587.5 1855.1L1587.5 1809.6M1545.7 1855.1L1587.5 1855.1M1389.3 1855.1L1545.7 1855.1M1389.3 1900.7L1389.3 1855.1M1545.7 1900.7L1545.7 1855.1M1523.6 1900.7L1545.7 1900.7M1389.3 1900.7L1523.6 1900.7M1587.5 1900.7L1587.5 1855.1M1587.5 1937.1L1587.5 1900.7M1389.3 1928.0L1389.3 1900.7M1587.5 1991.8L1587.5 1937.1M1389.3 1928.0L1587.5 1991.8M1587.5 1991.8L1697.6 1991.8M1587.5 1900.7L1697.6 1900.7" fill="none" stroke="#4a4a4a" stroke-width="2.2" stroke-dasharray="9.4 5.6"/>
<path d="M612.5 1855.1L596.2 1946.2M596.2 1946.2L590.5 1978.1M1050.2 1627.4L1097.3 1709.4M1056.8 1638.8L1097.3 1709.4" fill="none" stroke="#4a4a4a" stroke-width="2.2" stroke-dasharray="22 3"/>
<path d="M1523.6 1900.7L1587.5 1937.1" fill="none" stroke="#4a4a4a" stroke-width="2.2"/>
</g>
<path d="M309.3 1470.7h8.3v1.5h-8.3zM532.0 1466.2h8.3v3.0h-8.3zM716.9 1427.0h8.3v1.0h-8.3zM383.2 1566.7h8.3v2.5h-8.3zM466.1 1578.3h8.3v6.0h-8.3zM555.6 1577.2h8.3v0.6h-8.3zM427.4 1615.0h8.3v20.6h-8.3zM501.8 1682.9h8.3v9.0h-8.3zM573.2 1656.8h8.3v15.0h-8.3zM623.5 1740.6h8.3v4.5h-8.3zM553.6 1763.5h8.3v0.7h-8.3zM707.9 1789.9h8.3v7.0h-8.3zM626.5 1802.5h8.3v11.0h-8.3zM647.1 1875.8h8.3v4.0h-8.3zM572.2 1888.2h8.3v0.7h-8.3zM601.8 1968.3h8.3v6.0h-8.3zM944.8 1474.4h8.3v0.5h-8.3zM984.5 1514.7h8.3v15.6h-8.3zM1112.9 1507.1h8.3v3.5h-8.3zM1223.5 1503.6h8.3v7.0h-8.3zM1377.5 1487.0h8.3v22.6h-8.3zM1555.1 1491.1h8.3v13.0h-8.3zM1308.6 1438.2h8.3v13.5h-8.3zM959.4 1575.0h8.3v12.6h-8.3zM1146.1 1580.2h8.3v11.0h-8.3zM1306.1 1553.0h8.3v19.0h-8.3zM1278.4 1609.8h8.3v0.5h-8.3zM1430.4 1605.8h8.3v4.0h-8.3zM932.2 1644.6h8.3v10.5h-8.3zM1100.3 1638.1h8.3v17.0h-8.3zM1244.7 1656.1h8.3v1.5h-8.3zM882.9 1708.4h8.3v5.0h-8.3zM1065.6 1706.4h8.3v9.5h-8.3zM974.0 1740.1h8.3v6.5h-8.3zM1055.5 1762.8h8.3v7.5h-8.3zM965.4 1853.8h8.3v0.5h-8.3zM1036.4 1843.7h8.3v3.5h-8.3zM1099.3 1835.7h8.3v4.0h-8.3zM1404.7 1737.6h8.3v0.5h-8.3zM1476.6 1819.1h8.3v14.0h-8.3zM1457.0 1864.4h8.3v11.6h-8.3zM1555.6 1874.9h8.3v30.0h-8.3zM1487.7 1918.7h8.3v5.5h-8.3zM1631.1 1924.3h8.3v5.0h-8.3z" fill="#e69f00"/><path d="M317.6 1463.7h8.3v8.5h-8.3zM540.3 1469.2h8.3v5.0h-8.3zM725.2 1425.5h8.3v2.5h-8.3zM391.5 1560.2h8.3v6.5h-8.3zM474.4 1574.3h8.3v4.0h-8.3zM563.9 1571.3h8.3v6.5h-8.3zM435.7 1618.6h8.3v17.0h-8.3zM510.1 1674.3h8.3v17.6h-8.3zM581.5 1652.2h8.3v19.6h-8.3zM631.8 1728.5h8.3v16.6h-8.3zM561.9 1751.2h8.3v13.0h-8.3zM716.2 1777.3h8.3v19.6h-8.3zM634.8 1797.5h8.3v16.0h-8.3zM655.4 1868.8h8.3v11.0h-8.3zM580.5 1879.9h8.3v9.0h-8.3zM610.1 1959.3h8.3v9.0h-8.3zM953.1 1474.1h8.3v0.8h-8.3zM992.8 1522.8h8.3v7.5h-8.3zM1121.2 1504.1h8.3v6.5h-8.3zM1231.8 1499.6h8.3v11.0h-8.3zM1385.8 1509.1h8.3v0.5h-8.3zM1563.4 1499.6h8.3v4.5h-8.3zM1316.9 1437.2h8.3v1.0h-8.3zM967.7 1571.6h8.3v16.0h-8.3zM1154.4 1572.2h8.3v19.0h-8.3zM1314.4 1571.5h8.3v0.5h-8.3zM1286.7 1607.8h8.3v2.5h-8.3zM1438.7 1595.8h8.3v14.0h-8.3zM940.5 1637.5h8.3v17.6h-8.3zM1108.6 1643.1h8.3v12.0h-8.3zM1253.0 1652.1h8.3v5.5h-8.3zM891.2 1706.9h8.3v6.5h-8.3zM1073.9 1695.3h8.3v20.6h-8.3zM982.3 1729.6h8.3v17.0h-8.3zM1063.8 1754.7h8.3v15.6h-8.3zM973.7 1833.7h8.3v20.6h-8.3zM1044.7 1830.1h8.3v13.6h-8.3zM1107.6 1825.1h8.3v14.6h-8.3zM1413.0 1726.5h8.3v11.6h-8.3zM1484.9 1788.1h8.3v31.0h-8.3zM1465.3 1837.4h8.3v27.0h-8.3zM1563.9 1852.3h8.3v22.6h-8.3zM1496.0 1902.1h8.3v16.6h-8.3zM1639.4 1913.3h8.3v16.0h-8.3z" fill="#05a685"/><path d="M309.3 1472.6h16.6M532.0 1469.6h16.6M716.9 1428.4h16.6M383.2 1567.1h16.6M466.1 1578.7h16.6M555.6 1578.2h16.6M427.4 1636.0h16.6M501.8 1692.3h16.6M573.2 1672.2h16.6M623.5 1745.5h16.6M553.6 1764.6h16.6M707.9 1797.3h16.6M626.5 1813.9h16.6M647.1 1880.2h16.6M572.2 1889.3h16.6M601.8 1968.7h16.6M944.8 1475.3h16.6M984.5 1530.7h16.6M1112.9 1511.0h16.6M1223.5 1511.0h16.6M1377.5 1510.0h16.6M1555.1 1504.5h16.6M1308.6 1438.6h16.6M959.4 1588.0h16.6M1146.1 1591.6h16.6M1306.1 1572.4h16.6M1278.4 1610.7h16.6M1430.4 1610.2h16.6M932.2 1655.5h16.6M1100.3 1655.5h16.6M1244.7 1658.0h16.6M882.9 1713.8h16.6M1065.6 1716.3h16.6M974.0 1747.0h16.6M1055.5 1770.7h16.6M965.4 1854.7h16.6M1036.4 1844.1h16.6M1099.3 1840.1h16.6M1404.7 1738.5h16.6M1476.6 1819.5h16.6M1457.0 1864.8h16.6M1555.6 1875.3h16.6M1487.7 1919.1h16.6M1631.1 1929.7h16.6" stroke="#444" stroke-width=".8" fill="none"/>
<g class="rl" text-anchor="middle"><text x="317.1" y="1495.9">NWN</text><text x="540.0" y="1493.3">NEN</text><text x="724.7" y="1452.1">GIC</text><text x="391.0" y="1590.3">WNA</text><text x="472.9" y="1603.9">CNA</text><text x="562.9" y="1602.4">ENA</text><text x="435.2" y="1660.7">NCA</text><text x="509.6" y="1716.0">SCA</text><text x="581.0" y="1695.4">CAR</text><text x="630.7" y="1768.8">NSA</text><text x="561.4" y="1788.9">NWS</text><text x="715.7" y="1821.5">NES</text><text x="634.3" y="1837.6">SAM</text><text x="654.4" y="1904.0">SES</text><text x="579.5" y="1913.0">SWS</text><text x="609.6" y="1992.4">SSA</text><text x="953.1" y="1498.6">NEU</text><text x="991.8" y="1554.4">WCE</text><text x="1121.2" y="1535.3">EEU</text><text x="1231.3" y="1535.3">WSB</text><text x="1385.3" y="1535.3">ESB</text><text x="1563.4" y="1527.7">RFE</text><text x="1316.4" y="1461.8">RAR</text><text x="967.2" y="1611.8">MED</text><text x="1153.9" y="1615.3">WCA</text><text x="1313.9" y="1595.7">ECA</text><text x="1286.7" y="1633.9">TIB</text><text x="1438.7" y="1633.9">EAS</text><text x="940.0" y="1679.7">SAH</text><text x="1108.6" y="1679.7">ARP</text><text x="1252.5" y="1681.2">SAS</text><text x="890.7" y="1736.6">WAF</text><text x="1073.3" y="1739.6">NEAF</text><text x="981.3" y="1770.3">CAF</text><text x="1062.8" y="1794.4">SEAF</text><text x="973.2" y="1878.5">WSAF</text><text x="1044.7" y="1868.4">ESAF</text><text x="1106.6" y="1864.9">MDG</text><text x="1412.0" y="1762.7">SEA</text><text x="1484.4" y="1843.2">NAU</text><text x="1464.3" y="1888.5">CAU</text><text x="1563.9" y="1900.1">EAU</text><text x="1495.5" y="1943.9">SAU</text><text x="1638.9" y="1953.9">NZ</text></g>
<path d="M112.2 2057.3V1354.2H1697.6V2057.3M92.2 2037.3H1697.6" fill="none" stroke="#000" stroke-width="2"/>
<path d="M92.2 1354.2H112.2M92.2 1490.8H112.2M92.2 1627.4H112.2M92.2 1764.1H112.2M92.2 1900.7H112.2M376.4 2037.3V2057.3M640.7 2037.3V2057.3M904.9 2037.3V2057.3M1169.1 2037.3V2057.3M1433.4 2037.3V2057.3" stroke="#000" stroke-width="2"/>
<text x="81.2" y="1364.8" text-anchor="end" class="tk">90°N</text>
<text x="81.2" y="1501.4" text-anchor="end" class="tk">60°N</text>
<text x="81.2" y="1638.0" text-anchor="end" class="tk">30°N</text>
<text x="81.2" y="1774.7" text-anchor="end" class="tk">0°</text>
<text x="81.2" y="1911.3" text-anchor="end" class="tk">30°S</text>
<text x="81.2" y="2047.9" text-anchor="end" class="tk">60°S</text>
<text x="112.2" y="2088.3" text-anchor="middle" class="tk">180°W</text>
<text x="376.4" y="2088.3" text-anchor="middle" class="tk">120°W</text>
<text x="640.7" y="2088.3" text-anchor="middle" class="tk">60°W</text>
<text x="904.9" y="2088.3" text-anchor="middle" class="tk">0°</text>
<text x="1169.1" y="2088.3" text-anchor="middle" class="tk">60°E</text>
<text x="1433.4" y="2088.3" text-anchor="middle" class="tk">120°E</text>
<text x="1697.6" y="2088.3" text-anchor="middle" class="tk">180°E</text>
<text x="133" y="1397" class="pl">(d)</text>
<text x="176.5" y="1839" class="lt" xml:space="preserve">Trend  (°C·yr<tspan dy="-11" font-size="19">-1</tspan><tspan dy="11">)</tspan></text>
<path d="M180.4 1855.8V1909.4M186 1855.8V1909.4M180.4 1855.8H192.4M180.4 1882.6H192.4M180.4 1909.4H192.4" stroke="#444" stroke-width=".7" fill="none"/>
<text x="195.4" y="1863.2" class="ls">0.08</text><text x="195.4" y="1889.8" class="ls">0.04</text><text x="195.4" y="1916.8" class="ls">0</text>
<rect x="173.3" y="1927.4" width="30.7" height="16.2" fill="#e69f00"/><rect x="173.3" y="1960.7" width="30.7" height="16.4" fill="#05a685"/>
<text x="224.8" y="1944.5" class="ll">1981-2000</text><text x="224.8" y="1979.9" class="ll">2001-2020</text>
</svg></body></html>
